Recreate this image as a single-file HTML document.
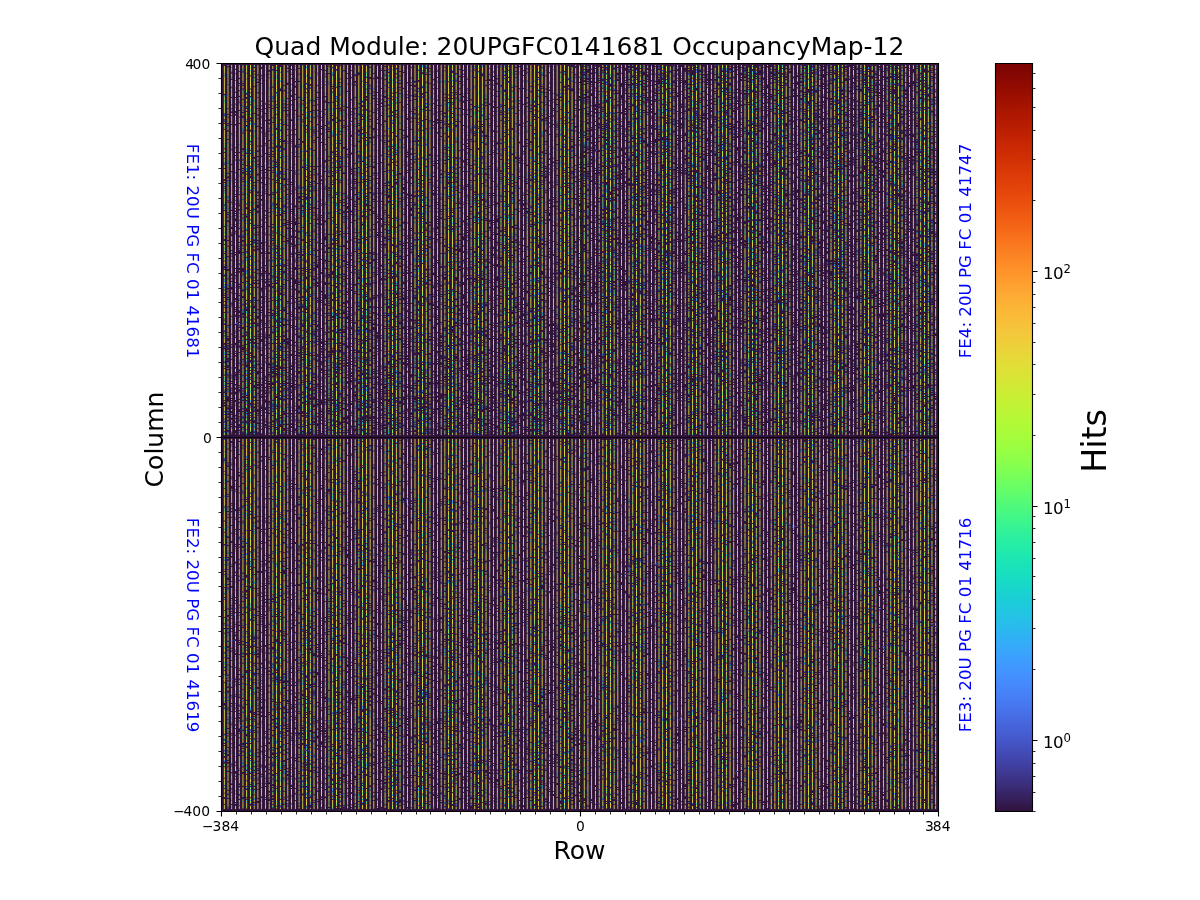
<!DOCTYPE html>
<html lang="en"><head><meta charset="utf-8"><title>Quad Module: 20UPGFC0141681 OccupancyMap-12</title>
<style>html,body{margin:0;padding:0;background:#fff;overflow:hidden}svg{display:block}text{font-family:"DejaVu Sans","Liberation Sans",sans-serif}.a{stroke:#d7df39}.b{stroke:#6c5d3a}.c{stroke:#2ba696}.d{stroke:#aba139}.e{stroke:#80f25e}.f{stroke:#6abbb4}.g{stroke:#25d5c0}.h{stroke:#4762bc}.i{stroke:#347163}.j{stroke:#a0f544}.k{stroke:#382240}.l{stroke:#3ea3e9}.m{stroke:#cdbb41}.n{stroke:#e9d23a}.o{stroke:#65a94b}.p{stroke:#b6d558}.q{stroke:#343f7a}.r{stroke:#5fed7a}.s{stroke:#758597}.t{stroke:#3ce898}.u{stroke:#8d7b39}.v{stroke:#9aba7d}.w{stroke:#bfee38}.x{stroke:#4f3d3c}</style>
</head><body>
<svg width="1200" height="900" viewBox="0 0 1200 900">
<rect width="1200" height="900" fill="#fff"/>
<defs><clipPath id="c"><rect x="221.5" y="63.5" width="717" height="748"/></clipPath><clipPath id="ct"><rect x="221" y="63" width="718" height="374"/></clipPath><clipPath id="cb"><rect x="221" y="437" width="718" height="374"/></clipPath>
<g id="p0"><path class="a" d="M0 3v1m0 2v1m0 2v1m0 14v1m0 1v1m0 1v1m0 4v1m0 8v1m0 5v1m0 11v1m0 18v1m0 4v1m0 6v2m0 2v2m0 4v2m0 8v1m0 3v1m0 19v1m0 2v1m0 14v1m0 10v1m0 14v1m0 5v1m0 5v2m0 2v1m0 6v1m0 6v1m0 6v1m0 7v1m0 19v1m0 3v1m0 17v1m0 7v2m0 14v2m0 8v1m0 6v1m0 1v1m0 12v1m0 4v1m0 7v1m0 7v1m0 47v1"/><path class="b" d="M0 1v1m0 10v1m0 1v1m0 25v1m0 46v1m0 39v1m0 30v1m0 25v1m0 14v1m0 13v1m0 41v1m0 86v1m0 42v1m0 2v1"/><path class="c" d="M0 126v1m0 114v1m0 29v1m0 43v2m0 57v1m0 9v1m0 17v1"/><path class="d" d="M0 11v1m0 3v1m0 72v1m0 52v1m0 127v1m0 18v1m0 100v1"/><path class="e" d="M0 7v1m0 17v1m0 17v1m0 27v1m0 78v1m0 30v1m0 4v1m0 60v1m0 9v1m0 27v1m0 27v1m0 39v1"/><path class="f" d="M0 145v1m0 83v1m0 16v1m0 114v1"/><path class="g" d="M0 23v1m0 7v1m0 72v1m0 29v1m0 27v1m0 31v1m0 139v1m0 15v1m0 11v1m0 34v1m0 7v1"/><path class="h" d="M0 52v1m0 72v1m0 46v1m0 125v1m0 25v1m0 14v1m0 26v1m0 2v1m0 7v1m0 3v1m0 21v1"/><path class="i" d="M0 142v1m0 129v1m0 99v2m0 27v1"/><path class="j" d="M0 10v1m0 6v1m0 58v1m0 13v1m0 2v1m0 13v2m0 5v1m0 3v1m0 13v1m0 3v2m0 10v2m0 13v1m0 40v1m0 25v1m0 18v1m0 23v1m0 27v1m0 1v1m0 21v1"/><path class="k" d="M0 8v1m0 38v1m0 61v1m0 96v1m0 13v1m0 40v1m0 33v1m0 67v1m0 19v1m0 11v1"/><path class="l" d="M0 19v1m0 2v1m0 12v1m0 2v1m0 28v1m0 9v1m0 27v1m0 17v2m0 26v1m0 26v1m0 26v1m0 5v1m0 26v1m0 15v1m0 26v1m0 12v1m0 15v1m0 82v2m0 1v1m0 2v2"/><path class="m" d="M0 2v1m0 29v1m0 4v1m0 13v1m0 29v1m0 57v1m0 27v1m0 85v1m0 8v1m0 34v1m0 13v1m0 43v1m0 12v1m0 6v1"/><path class="n" d="M0 0v1m0 3v2m0 7v1m0 6v2m0 5v1m0 1v1m0 6v1m0 4v1m0 3v2m0 2v1m0 3v7m0 1v1m0 2v1m0 3v1m0 3v4m0 4v1m0 4v2m0 2v1m0 4v1m0 15v1m0 5v1m0 3v3m0 10v1m0 13v1m0 4v1m0 2v3m0 12v1m0 22v1m0 9v1m0 4v1m0 8v2m0 4v1m0 7v1m0 7v1m0 5v1m0 4v1m0 13v1m0 3v1m0 7v2m0 5v1m0 8v1m0 3v1m0 9v1m0 14v1m0 4v1m0 9v1m0 10v1m0 3v1m0 2v1m0 9v1m0 2v1m0 8v1m0 1v1m0 1v1m0 9v1m0 1v1"/><path class="o" d="M0 160v1m0 36v1m0 14v1m0 2v1m0 112v1m0 12v1"/><path class="p" d="M0 44v1m0 21v1m0 2v1m0 43v1m0 16v1m0 13v1m0 1v1m0 35v1m0 5v1m0 37v1m0 13v1m0 15v1m0 2v1m0 24v1m0 32v1m0 14v1m0 65v1"/><path class="q" d="M0 98v1m0 84v1m0 86v1m0 16v1m0 41v1"/><path class="r" d="M0 50v1m0 52v1m0 2v1m0 22v1m0 31v1m0 4v1m0 13v1m0 29v1m0 16v1m0 9v1m0 20v1m0 1v1m0 6v1m0 10v1m0 39v1m0 4v1m0 7v1m0 6v1m0 26v1m0 4v1"/><path class="s" d="M0 117v1m0 22v1m0 27v1m0 130v1m0 56v1"/><path class="t" d="M0 70v1m0 60v1m0 11v1m0 43v1m0 8v1m0 10v1m0 17v1m0 88v1m0 4v2m0 28v1m0 21v1m0 32v1"/><path class="u" d="M0 100v1m0 70v1m0 28v2m0 12v1m0 28v1m0 114v2"/><path class="v" d="M0 97v1m0 75v1m0 54v1m0 57v1m0 43v1"/><path class="w" d="M0 16v1m0 1v1m0 11v1m0 31v1m0 2v1m0 12v1m0 4v1m0 28v1m0 6v1m0 8v1m0 25v1m0 10v1m0 3v1m0 49v1m0 32v1m0 10v1m0 1v1m0 14v1m0 8v1m0 3v1m0 8v1m0 2v1m0 38v3m0 1v1m0 3v1m0 4v1m0 2v1m0 18v1m0 6v2"/><path class="x" d="M0 82v1m0 91v1m0 14v1m0 42v1m0 49v1m0 21v1m0 7v1m0 20v1m0 6v1"/></g>
<g id="p1"><path class="a" d="M0 4v1m0 5v2m0 4v1m0 1v1m0 15v1m0 20v1m0 2v1m0 12v2m0 7v1m0 1v1m0 10v2m0 1v1m0 5v1m0 13v1m0 8v1m0 21v1m0 2v1m0 1v1m0 5v1m0 7v1m0 4v1m0 4v1m0 21v1m0 9v1m0 2v2m0 34v1m0 1v1m0 20v1m0 15v3m0 2v1m0 5v1m0 4v1m0 3v1m0 21v1m0 4v1m0 13v1m0 3v2m0 12v1m0 16v1m0 13v1"/><path class="b" d="M0 187v1m0 14v1m0 27v1m0 24v1m0 58v1m0 28v1m0 13v1m0 1v1"/><path class="c" d="M0 261v1m0 51v1m0 5v1"/><path class="d" d="M0 0v1m0 25v1m0 161v1m0 42v1m0 24v1m0 99v1m0 33v1"/><path class="e" d="M0 2v1m0 26v1m0 39v1m0 43v1m0 9v1m0 8v1m0 57v1m0 19v1m0 5v1m0 9v1m0 15v1m0 60v1m0 7v1m0 59v1"/><path class="f" d="M0 143v1m0 125v1m0 134v1"/><path class="g" d="M0 53v1m0 25v1m0 4v1m0 20v1m0 24v1m0 25v1m0 4v1m0 27v1m0 19v1m0 53v1m0 15v1m0 13v1m0 27v1m0 45v1m0 9v1m0 8v1m0 11v1"/><path class="h" d="M0 17v1m0 12v1m0 45v1m0 103v1m0 11v1m0 42v1m0 15v1m0 1v1m0 95v1m0 12v2m0 15v1m0 4v1m0 8v1"/><path class="i" d="M0 387v1"/><path class="j" d="M0 15v1m0 51v1m0 6v1m0 3v1m0 40v1m0 9v1m0 6v1m0 12v1m0 7v1m0 12v1m0 1v1m0 24v1m0 9v1m0 38v1m0 57v1m0 2v1m0 18v1m0 5v1m0 72v1"/><path class="k" d="M0 8v1m0 57v1m0 95v1m0 18v1m0 13v1m0 96v1m0 3v1m0 13v1m0 9v1m0 2v1m0 10v1m0 5v1m0 12v1m0 10v1m0 27v1"/><path class="l" d="M0 60v1m0 16v1m0 62v1m0 26v1m0 26v1m0 20v1m0 6v1m0 29v1m0 46v1m0 25v1m0 54v1m0 2v1m0 10v1"/><path class="m" d="M0 23v1m0 14v1m0 70v1m0 94v1m0 19v1m0 14v1m0 37v1m0 91v1m0 6v1"/><path class="n" d="M0 1v1m0 3v3m0 1v1m0 4v1m0 6v2m0 5v1m0 7v1m0 3v12m0 4v1m0 8v1m0 2v1m0 4v1m0 1v1m0 5v1m0 4v2m0 3v1m0 3v1m0 2v3m0 2v2m0 2v2m0 11v2m0 2v1m0 2v2m0 4v2m0 2v1m0 7v2m0 4v1m0 1v2m0 4v2m0 7v1m0 5v2m0 3v1m0 11v1m0 9v1m0 3v2m0 12v2m0 2v1m0 3v1m0 9v2m0 4v3m0 18v1m0 8v2m0 5v1m0 1v1m0 2v1m0 8v1m0 10v1m0 2v1m0 13v1m0 4v1m0 8v1m0 7v1m0 10v1m0 12v1m0 22v1"/><path class="o" d="M0 342v1m0 18v1m0 37v1"/><path class="p" d="M0 52v1m0 59v1m0 26v1m0 42v1m0 35v1m0 22v1m0 20v1m0 5v1m0 43v1m0 33v1m0 56v1"/><path class="q" d="M0 318v1m0 54v1m0 11v1m0 2v2m0 10v1"/><path class="r" d="M0 59v1m0 10v1m0 17v1m0 29v1m0 44v2m0 89v1m0 35v1m0 24v2m0 13v2m0 3v1m0 1v1m0 3v1m0 3v1m0 56v1"/><path class="s" d="M0 114v1m0 26v1m0 158v1"/><path class="t" d="M0 19v1m0 11v1m0 1v1m0 20v1m0 34v1m0 27v1m0 4v1m0 8v1m0 16v1m0 28v1m0 5v1m0 12v1m0 20v1m0 3v1m0 56v1m0 19v1m0 18v1m0 30v1m0 29v1m0 2v1m0 15v1m0 3v1"/><path class="u" d="M0 12v2m0 13v1m0 171v2m0 56v2m0 12v2"/><path class="v" d="M0 83v1m0 1v1m0 29v1m0 28v1m0 10v1m0 29v2m0 27v1m0 13v2m0 142v1"/><path class="w" d="M0 3v1m0 21v1m0 6v1m0 2v1m0 1v1m0 19v1m0 3v4m0 25v1m0 1v1m0 4v1m0 3v1m0 4v1m0 19v1m0 15v1m0 22v1m0 3v1m0 3v1m0 10v1m0 28v1m0 18v1m0 1v1m0 13v1m0 17v2m0 13v1m0 1v2m0 16v1m0 22v1m0 4v1m0 24v1m0 3v1m0 7v1m0 28v1"/><path class="x" d="M0 24v1m0 14v1m0 71v1m0 26v1m0 86v1m0 7v1m0 6v1m0 34v1m0 13v1m0 80v1"/></g>
<g id="p2"><path class="a" d="M0 4v1m0 1v1m0 1v1m0 5v1m0 10v1m0 4v1m0 1v1m0 5v1m0 17v1m0 5v1m0 11v1m0 3v1m0 5v3m0 2v2m0 3v1m0 2v1m0 10v1m0 21v1m0 12v1m0 9v1m0 11v1m0 6v1m0 2v1m0 23v1m0 5v1m0 5v1m0 6v1m0 2v1m0 2v1m0 29v1m0 1v2m0 7v1m0 14v1m0 7v1m0 49v1m0 6v1m0 2v1m0 20v1m0 6v1m0 1v1m0 2v1m0 9v1m0 11v1"/><path class="b" d="M0 1v1m0 9v1m0 28v1m0 13v1m0 45v1m0 83v1m0 3v1m0 9v1m0 104v1m0 69v1m0 12v1m0 12v1"/><path class="c" d="M0 101v1m0 44v1m0 10v2m0 43v1m0 115v1m0 37v1m0 5v1m0 42v1"/><path class="d" d="M0 10v1m0 42v1m0 101v1m0 27v1m0 13v1m0 33v1m0 157v1m0 8v1"/><path class="e" d="M0 13v1m0 38v1m0 10v1m0 57v1m0 32v1m0 5v1m0 39v1m0 48v1m0 23v1m0 16v1m0 15v1m0 3v1m0 38v2m0 15v1m0 3v1m0 16v1"/><path class="f" d="M0 245v1m0 95v1"/><path class="g" d="M0 50v1m0 37v1m0 4v1m0 24v1m0 31v1m0 8v1m0 44v1m0 9v1m0 54v2m0 89v1m0 2v1m0 32v1"/><path class="h" d="M0 7v1m0 15v1m0 25v1m0 1v1m0 62v1m0 8v1m0 40v1m0 45v1m0 39v1m0 16v1m0 16v1m0 19v1m0 14v1m0 38v1m0 26v1m0 9v1"/><path class="i" d="M0 156v1m0 29v1m0 14v1m0 11v1m0 14v3m0 85v2m0 70v1m0 12v1"/><path class="j" d="M0 15v1m0 66v1m0 59v1m0 1v1m0 28v1m0 53v1m0 19v1m0 7v1m0 16v1m0 3v1m0 31v1m0 18v1m0 6v1m0 4v1m0 7v1m0 6v1"/><path class="k" d="M0 18v1m0 3v1m0 38v1m0 13v1m0 28v1m0 2v1m0 1v1m0 10v1m0 26v1m0 29v1m0 2v1m0 10v1m0 27v1m0 33v1m0 9v1m0 2v1m0 1v1m0 27v1m0 14v1m0 8v1m0 14v1m0 4v1m0 12v1m0 10v1m0 3v1m0 10v1"/><path class="l" d="M0 161v1m0 45v1m0 14v1m0 11v1m0 47v1m0 9v1m0 16v1m0 11v1m0 30v1m0 40v1"/><path class="m" d="M0 2v1m0 56v1m0 64v1m0 8v1m0 55v1m0 5v1"/><path class="n" d="M0 0v1m0 2v1m0 1v1m0 3v1m0 7v1m0 1v3m0 2v1m0 3v1m0 4v2m0 1v1m0 4v5m0 1v2m0 11v1m0 3v2m0 1v3m0 6v2m0 1v1m0 3v1m0 7v2m0 5v2m0 3v1m0 1v2m0 3v3m0 3v2m0 1v1m0 2v1m0 3v1m0 2v1m0 4v2m0 1v4m0 10v2m0 9v2m0 3v5m0 4v1m0 1v1m0 2v2m0 7v1m0 3v1m0 13v2m0 6v2m0 19v1m0 4v1m0 8v2m0 5v3m0 3v1m0 10v1m0 2v1m0 2v1m0 9v1m0 5v1m0 1v4m0 4v1m0 6v1m0 31v1m0 4v1m0 13v1m0 1v1m0 12v1m0 2v1m0 6v1m0 1v1"/><path class="o" d="M0 39v1m0 172v1m0 73v1m0 41v1m0 46v1"/><path class="p" d="M0 95v1m0 6v1m0 84v1m0 15v1m0 29v1m0 12v1m0 58v1m0 26v1m0 51v1"/><path class="q" d="M0 240v1m0 116v1m0 1v1m0 1v1"/><path class="r" d="M0 12v1m0 18v1m0 41v1m0 7v1m0 54v1m0 89v1m0 16v1m0 39v1m0 9v1m0 1v1m0 35v1m0 39v1"/><path class="s" d="M0 58v1m0 28v1m0 8v1m0 174v1m0 71v1"/><path class="t" d="M0 37v1m0 128v1m0 12v1m0 12v1m0 30v1m0 1v1m0 6v1m0 8v1m0 20v1m0 49v1m0 10v1m0 31v1m0 26v1"/><path class="u" d="M0 70v2m0 41v1m0 71v1m0 129v1m0 14v1m0 71v1"/><path class="v" d="M0 115v1m0 99v1m0 28v1m0 97v1m0 57v1"/><path class="w" d="M0 16v1m0 9v2m0 1v1m0 5v1m0 10v1m0 8v1m0 1v1m0 8v1m0 5v1m0 7v1m0 46v2m0 2v1m0 9v1m0 6v2m0 24v1m0 31v1m0 13v1m0 14v1m0 2v1m0 9v1m0 12v1m0 12v1m0 2v1m0 9v1m0 1v1m0 4v1m0 3v1m0 14v1m0 19v1m0 10v1m0 27v1"/><path class="x" d="M0 125v1m0 6v1m0 12v1m0 50v1m0 129v1m0 50v1m0 19v1m0 6v1"/></g>
<g id="p3"><path class="a" d="M0 7v1m0 24v1m0 2v3m0 13v1m0 10v1m0 12v1m0 4v1m0 2v1m0 9v1m0 4v1m0 5v1m0 1v1m0 2v1m0 13v1m0 3v2m0 7v1m0 13v1m0 11v1m0 15v1m0 3v1m0 9v1m0 3v2m0 5v1m0 2v1m0 8v1m0 10v1m0 10v1m0 6v2m0 3v1m0 5v1m0 2v2m0 13v2m0 39v1m0 24v1m0 12v1m0 8v1m0 36v1"/><path class="b" d="M0 15v1m0 52v1m0 31v1m0 130v1m0 52v1m0 3v1m0 53v1m0 60v1"/><path class="c" d="M0 112v1m0 170v1m0 56v1m0 6v1m0 52v1"/><path class="d" d="M0 101v1m0 72v1m0 12v1m0 39v1m0 142v1m0 18v1"/><path class="e" d="M0 42v2m0 30v1m0 11v1m0 24v1m0 7v1m0 13v1m0 33v1m0 7v1m0 14v1m0 48v1m0 26v1m0 3v1m0 63v1m0 13v1m0 11v1m0 5v1m0 32v1"/><path class="f" d="M0 58v1m0 14v1m0 52v1m0 42v1m0 101v1m0 41v1m0 45v1m0 30v1"/><path class="g" d="M0 4v1m0 39v1m0 85v1m0 132v1m0 16v1m0 74v1m0 17v1"/><path class="h" d="M0 16v1m0 16v1m0 44v1m0 46v1m0 9v1m0 17v1m0 23v1m0 51v1m0 79v1m0 11v1m0 16v1m0 41v1m0 23v1"/><path class="i" d="M0 171v1m0 157v2m0 55v2"/><path class="j" d="M0 5v1m0 40v1m0 8v1m0 7v1m0 6v1m0 8v1m0 1v2m0 4v1m0 29v1m0 11v1m0 64v1m0 3v2m0 2v1m0 15v1m0 1v1m0 3v1m0 8v1m0 7v1m0 33v1m0 3v1m0 7v1m0 5v2m0 8v1m0 6v1m0 7v1m0 44v1m0 1v1m0 16v1m0 10v1"/><path class="k" d="M0 22v1m0 27v1m0 14v1m0 11v1m0 27v1m0 2v1m0 38v1m0 1v1m0 16v1m0 12v1m0 25v1m0 29v1m0 16v1m0 9v1m0 14v1m0 12v1m0 6v1m0 8v1m0 13v1m0 4v1m0 28v1m0 13v1m0 10v1m0 25v1"/><path class="l" d="M0 52v1m0 7v1m0 102v1m0 44v1m0 58v1m0 10v1m0 10v1m0 8v2m0 51v1m0 5v2m0 3v1m0 9v1"/><path class="m" d="M0 25v1m0 35v1m0 4v1m0 57v1m0 13v1m0 93v1m0 20v1m0 7v1m0 29v1m0 13v1m0 27v1"/><path class="n" d="M0 6v1m0 1v2m0 1v2m0 5v4m0 1v2m0 4v2m0 3v1m0 3v2m0 7v3m0 19v1m0 2v1m0 3v1m0 18v2m0 2v1m0 2v1m0 4v1m0 6v3m0 3v3m0 11v1m0 2v1m0 2v3m0 2v2m0 1v1m0 6v1m0 2v3m0 15v1m0 3v1m0 7v2m0 14v1m0 4v3m0 4v1m0 2v1m0 2v1m0 11v1m0 1v1m0 6v1m0 6v1m0 6v1m0 34v1m0 8v1m0 17v1m0 2v1m0 1v1m0 10v1m0 14v1m0 13v1m0 12v2m0 2v1m0 10v1m0 1v2"/><path class="o" d="M0 56v1m0 228v1m0 40v1m0 4v1m0 12v1"/><path class="p" d="M0 1v1m0 15v1m0 35v1m0 5v1m0 11v1m0 17v1m0 41v1m0 20v1m0 59v1m0 99v1m0 63v1"/><path class="q" d="M0 45v1m0 122v1m0 15v1m0 43v1m0 142v1m0 2v2"/><path class="r" d="M0 0v1m0 30v1m0 22v1m0 29v1m0 69v1m0 28v1m0 30v1m0 2v1m0 30v1m0 16v1m0 10v1m0 4v1m0 35v1m0 73v1m0 4v1"/><path class="s" d="M0 26v1m0 116v1m0 96v1m0 59v1m0 15v1m0 52v1"/><path class="t" d="M0 41v1m0 43v1m0 2v1m0 5v1m0 8v1m0 6v1m0 40v1m0 41v1m0 19v1m0 9v1m0 14v1m0 8v1m0 34v1m0 12v1m0 15v1m0 44v1m0 10v1"/><path class="u" d="M0 57v1m0 55v1m0 42v2m0 27v2m0 99v1m0 115v1"/><path class="v" d="M0 13v2m0 12v2m0 11v1m0 103v1m0 25v1m0 29v2m0 28v1"/><path class="w" d="M0 10v1m0 79v3m0 4v1m0 20v1m0 46v1m0 15v1m0 9v1m0 3v1m0 46v1m0 13v1m0 15v1m0 29v1m0 4v1m0 7v1m0 7v1m0 12v1m0 6v1m0 5v1"/><path class="x" d="M0 2v1m0 129v1m0 6v1m0 21v1m0 63v1m0 20v1m0 7v1m0 5v1m0 8v1m0 34v1m0 27v1m0 64v1"/></g>
<g id="p4"><path class="a" d="M0 2v1m0 38v1m0 14v1m0 12v1m0 24v1m0 1v1m0 7v1m0 4v1m0 1v1m0 9v1m0 1v1m0 14v1m0 2v1m0 5v1m0 6v1m0 8v1m0 5v2m0 2v1m0 2v1m0 1v1m0 8v1m0 27v1m0 4v1m0 13v1m0 3v1m0 9v1m0 30v1m0 8v1m0 24v1m0 9v1m0 40v1m0 3v1m0 10v1"/><path class="b" d="M0 57v1m0 141v1m0 59v1m0 68v1m0 70v1"/><path class="c" d="M0 0v1m0 97v1m0 99v1m0 73v1m0 84v1"/><path class="d" d="M0 116v1m0 85v1m0 57v1m0 22v1m0 18v1m0 72v1m0 24v1"/><path class="e" d="M0 1v1m0 57v1m0 25v1m0 11v1m0 44v1m0 6v1m0 27v1m0 5v1m0 11v1m0 7v1m0 5v1m0 2v1m0 45v1m0 10v1m0 7v1m0 7v1m0 1v1m0 23v1m0 32v2m0 24v1m0 6v1m0 10v1m0 3v1"/><path class="f" d="M0 28v1m0 1v1m0 82v1m0 99v1m0 13v1m0 13v1m0 70v1m0 30v1m0 42v1"/><path class="g" d="M0 20v1m0 27v1m0 30v1m0 44v2m0 17v1m0 7v1m0 9v1m0 93v2m0 83v1m0 1v1m0 10v1m0 27v1m0 14v1m0 6v1"/><path class="h" d="M0 230v1m0 4v1m0 28v1m0 70v1"/><path class="i" d="M0 284v1m0 16v1m0 56v1m0 14v2"/><path class="j" d="M0 7v1m0 24v1m0 2v1m0 6v1m0 6v1m0 12v1m0 5v1m0 4v2m0 9v1m0 25v1m0 23v1m0 15v1m0 41v1m0 11v1m0 16v1m0 3v1m0 13v1m0 12v1m0 14v1m0 2v1m0 15v1m0 4v1m0 11v1m0 2v1m0 18v1m0 13v1m0 6v1m0 8v1m0 9v1m0 3v1m0 13v2"/><path class="k" d="M0 23v1m0 95v1m0 13v1m0 71v1m0 12v1m0 34v1m0 12v1m0 13v1m0 11v1m0 3v1m0 10v1m0 2v1m0 10v1m0 2v1m0 9v1m0 14v1m0 32v1m0 10v1m0 1v1"/><path class="l" d="M0 5v1m0 40v1m0 16v1m0 13v1m0 12v1m0 29v1m0 5v1m0 38v1m0 40v1m0 1v1m0 15v1m0 53v1m0 87v1m0 11v1m0 23v1"/><path class="m" d="M0 17v1m0 4v1m0 38v1m0 4v1m0 13v1m0 65v1m0 20v1m0 42v1m0 109v1m0 27v1m0 13v1m0 35v1"/><path class="n" d="M0 3v2m0 1v1m0 1v1m0 1v2m0 2v1m0 3v2m0 6v1m0 6v2m0 2v4m0 6v1m0 2v1m0 4v1m0 8v1m0 7v1m0 2v2m0 1v1m0 9v2m0 1v1m0 1v1m0 1v1m0 5v2m0 2v4m0 13v1m0 7v1m0 5v2m0 1v2m0 7v1m0 4v1m0 10v1m0 1v1m0 4v2m0 17v2m0 2v1m0 1v1m0 10v1m0 8v1m0 5v2m0 4v1m0 13v1m0 2v2m0 16v1m0 30v2m0 1v1m0 33v1m0 4v3m0 12v1m0 2v1m0 32v1m0 6v1"/><path class="o" d="M0 58v1m0 216v1m0 95v1"/><path class="p" d="M0 53v1m0 33v1m0 44v1m0 64v1m0 28v1m0 13v1m0 13v1m0 43v1m0 42v1m0 47v1"/><path class="q" d="M0 201v1m0 71v1m0 85v1m0 41v1"/><path class="r" d="M0 21v1m0 3v1m0 5v1m0 4v1m0 66v1m0 58v1m0 16v2m0 1v1m0 1v1m0 34v1m0 11v1m0 17v1m0 12v1m0 8v1m0 4v1m0 13v1m0 18v1m0 6v1m0 16v1m0 33v1m0 36v1"/><path class="s" d="M0 54v1m0 72v1m0 171v1m0 76v1"/><path class="t" d="M0 24v1m0 61v1m0 5v1m0 25v1m0 12v1m0 61v1m0 23v1m0 32v2m0 5v1m0 7v1m0 15v2m0 25v1m0 8v1m0 79v1"/><path class="u" d="M0 100v1m0 13v1m0 13v2m0 26v1m0 1v1m0 26v2m0 42v1m0 13v2m0 69v2m0 13v2"/><path class="v" d="M0 12v2m0 15v1m0 40v2m0 40v1m0 31v1m0 55v1m0 99v1m0 55v1m0 3v1m0 24v1"/><path class="w" d="M0 9v1m0 5v1m0 11v1m0 15v2m0 6v2m0 12v1m0 17v1m0 68v1m0 2v1m0 3v1m0 14v2m0 5v1m0 6v2m0 24v1m0 17v1m0 4v1m0 9v1m0 45v1m0 11v1m0 26v1m0 19v1m0 10v1m0 26v1"/><path class="x" d="M0 16v1m0 28v1m0 14v1m0 6v1m0 14v1m0 34v1m0 27v1m0 14v1m0 7v1m0 42v1m0 21v1m0 27v1m0 6v1m0 20v1m0 14v1m0 13v1m0 28v1m0 13v1m0 29v1m0 13v1"/></g>
<g id="p5"><path class="a" d="M0 0v1m0 4v1m0 3v1m0 1v1m0 2v1m0 7v1m0 25v1m0 4v1m0 1v1m0 6v1m0 7v1m0 40v1m0 1v2m0 1v1m0 8v1m0 2v2m0 15v1m0 26v1m0 8v1m0 11v1m0 8v1m0 6v1m0 18v2m0 38v1m0 4v1m0 1v1m0 8v1m0 16v1m0 2v1m0 5v1m0 16v1m0 6v1m0 1v1m0 30v3m0 24v1"/><path class="b" d="M0 69v1m0 71v1m0 13v1m0 3v1m0 25v1m0 41v1m0 3v1m0 38v1m0 17v1m0 11v1m0 1v1m0 14v1"/><path class="c" d="M0 226v1m0 42v1m0 33v1m0 58v1m0 23v1"/><path class="d" d="M0 26v1m0 41v1m0 114v1m0 62v1m0 52v1m0 74v1m0 28v1"/><path class="e" d="M0 36v1m0 36v1m0 13v1m0 6v1m0 9v1m0 91v1m0 28v1m0 16v1m0 12v1m0 40v1m0 87v1m0 19v1"/><path class="f" d="M0 58v1m0 68v1m0 40v1m0 5v1m0 37v1m0 85v1m0 42v1m0 1v1m0 45v1"/><path class="g" d="M0 4v1m0 86v1m0 6v1m0 24v1m0 28v1m0 55v1m0 31v1m0 12v1m0 4v1m0 21v1m0 11v1m0 92v1m0 4v1m0 2v1m0 1v1"/><path class="h" d="M0 109v1m0 30v1m0 77v1m0 15v1m0 46v2m0 12v1m0 13v1m0 8v1m0 18v1m0 2v1m0 7v2"/><path class="i" d="M0 99v1m0 143v1m0 13v1"/><path class="j" d="M0 52v1m0 10v1m0 10v1m0 5v1m0 2v2m0 3v1m0 4v1m0 7v1m0 31v1m0 1v1m0 1v1m0 15v1m0 32v1m0 13v2m0 20v1m0 51v1m0 48v1m0 11v1m0 14v1m0 4v1m0 1v1m0 33v1m0 8v1"/><path class="k" d="M0 21v1m0 28v1m0 98v1m0 1v1m0 24v1m0 14v1m0 13v1m0 31v1m0 82v1m0 17v1m0 8v1m0 5v1m0 12v1m0 12v1"/><path class="l" d="M0 72v1m0 33v1m0 31v2m0 64v1m0 28v1m0 28v1m0 4v1m0 9v1m0 8v1m0 24v1m0 9v1m0 41v2m0 7v1m0 9v1"/><path class="m" d="M0 17v1m0 78v1m0 50v1m0 12v1m0 1v1m0 56v1m0 12v1m0 106v1m0 36v1m0 19v1"/><path class="n" d="M0 1v3m0 2v1m0 5v1m0 2v1m0 2v3m0 3v2m0 2v4m0 3v1m0 1v1m0 3v7m0 16v4m0 8v2m0 1v1m0 2v1m0 2v1m0 3v2m0 4v1m0 7v1m0 1v1m0 2v1m0 3v1m0 2v1m0 5v1m0 8v1m0 3v1m0 13v1m0 7v1m0 7v1m0 1v1m0 2v1m0 3v1m0 4v1m0 3v1m0 7v1m0 7v2m0 15v3m0 2v1m0 2v2m0 5v1m0 5v1m0 10v1m0 4v1m0 10v2m0 1v1m0 11v1m0 4v1m0 10v1m0 12v1m0 25v1m0 10v2m0 5v1m0 2v1m0 22v1m0 5v1"/><path class="o" d="M0 256v1m0 58v1m0 15v1"/><path class="p" d="M0 59v1m0 107v1m0 7v1m0 35v1m0 27v1m0 57v1m0 14v1m0 6v1m0 78v1"/><path class="q" d="M0 97v1m0 161v1m0 113v1"/><path class="r" d="M0 33v1m0 37v1m0 6v1m0 43v1m0 35v1m0 20v1m0 23v1m0 37v1m0 34v1m0 2v1m0 100v1"/><path class="s" d="M0 214v1m0 98v1m0 15v1m0 16v1"/><path class="t" d="M0 32v1m0 16v1m0 10v1m0 82v1m0 19v1m0 1v1m0 26v1m0 1v2m0 95v1m0 86v1m0 2v1m0 17v1"/><path class="u" d="M0 27v1m0 72v1m0 69v2m0 99v2m0 41v1m0 15v1m0 27v1m0 29v1m0 12v1"/><path class="v" d="M0 56v2m0 68v1m0 17v1m0 12v1m0 55v1m0 71v1m0 1v1m0 40v1m0 13v1m0 28v1"/><path class="w" d="M0 7v2m0 1v1m0 2v1m0 9v1m0 14v3m0 10v1m0 2v1m0 6v1m0 13v1m0 5v1m0 4v1m0 15v1m0 4v1m0 2v1m0 6v4m0 3v1m0 6v2m0 3v1m0 5v1m0 34v1m0 2v1m0 6v3m0 16v1m0 31v1m0 9v2m0 1v1m0 41v1m0 22v1m0 5v1m0 9v1m0 23v1m0 13v1m0 21v1"/><path class="x" d="M0 16v1m0 129v1m0 14v1m0 35v1m0 12v1m0 43v1m0 50v1m0 20v1m0 48v1m0 21v1m0 7v1"/></g>
<g id="p6"><path class="a" d="M0 9v1m0 10v1m0 14v1m0 3v1m0 24v1m0 10v1m0 2v1m0 1v1m0 12v1m0 4v2m0 6v1m0 21v1m0 4v1m0 5v1m0 3v2m0 10v2m0 2v1m0 3v1m0 4v1m0 16v2m0 19v1m0 1v1m0 9v2m0 5v1m0 12v1m0 6v3m0 5v1m0 17v1m0 7v1m0 4v1m0 6v1m0 4v1m0 22v1m0 18v1m0 24v1m0 13v1m0 5v1m0 10v1"/><path class="b" d="M0 101v1m0 24v1m0 3v1m0 53v1m0 42v1m0 60v1m0 28v1"/><path class="c" d="M0 242v1"/><path class="d" d="M0 68v1m0 62v1m0 51v1m0 13v1m0 15v1m0 12v1m0 72v1m0 3v1m0 14v1m0 8v1"/><path class="e" d="M0 13v1m0 14v1m0 14v1m0 17v1m0 56v1m0 5v1m0 12v1m0 2v1m0 76v1m0 21v1m0 14v1m0 18v1m0 9v1m0 1v1m0 8v1m0 16v1m0 19v1m0 7v2m0 13v1m0 3v1m0 13v2m0 7v1"/><path class="f" d="M0 58v1m0 25v1m0 30v1m0 29v1m0 41v1m0 27v1m0 126v1"/><path class="g" d="M0 3v1m0 1v1m0 12v1m0 3v1m0 36v1m0 22v2m0 78v1m0 10v1m0 6v1m0 26v1m0 21v1m0 32v1m0 2v1m0 137v1"/><path class="h" d="M0 24v1m0 83v1m0 3v1m0 10v1m0 8v1m0 57v1m0 66v1m0 89v1m0 21v1m0 28v1"/><path class="i" d="M0 42v1m0 285v1m0 17v1m0 24v1m0 2v1m0 26v1"/><path class="j" d="M0 10v1m0 16v1m0 17v1m0 59v1m0 8v1m0 4v1m0 31v1m0 14v1m0 2v1m0 21v1m0 11v2m0 29v1m0 39v2m0 16v1m0 27v1m0 4v1m0 9v1m0 12v1"/><path class="k" d="M0 36v1m0 28v1m0 68v1m0 12v1m0 46v1m0 10v1m0 18v1m0 10v1m0 13v1m0 17v1m0 1v1m0 11v1m0 52v1m0 14v1m0 3v1m0 10v1m0 26v1m0 1v1m0 3v1"/><path class="l" d="M0 34v1m0 28v1m0 40v1m0 33v1m0 13v1m0 35v1m0 74v1m0 12v1m0 16v1m0 13v1m0 13v1m0 30v1m0 9v1m0 19v1m0 7v1"/><path class="m" d="M0 37v1m0 13v1m0 51v1m0 164v1m0 28v1m0 7v1m0 86v1"/><path class="n" d="M0 1v2m0 1v1m0 1v3m0 2v1m0 3v2m0 2v1m0 1v1m0 4v1m0 3v4m0 6v1m0 5v2m0 1v2m0 4v3m0 4v1m0 10v1m0 2v2m0 1v1m0 7v1m0 2v1m0 1v1m0 2v3m0 2v1m0 6v1m0 1v2m0 9v1m0 1v1m0 6v1m0 5v1m0 13v1m0 7v2m0 1v2m0 2v2m0 9v2m0 2v1m0 1v2m0 9v1m0 2v2m0 3v1m0 8v1m0 1v2m0 7v1m0 10v2m0 3v2m0 2v1m0 10v1m0 3v1m0 3v3m0 10v1m0 4v2m0 16v1m0 10v1m0 1v3m0 11v2m0 9v1m0 2v2m0 13v1m0 4v2m0 9v1m0 10v1"/><path class="o" d="M0 384v1m0 20v1"/><path class="p" d="M0 12v1m0 47v1m0 50v1m0 4v1m0 24v1m0 4v1m0 27v1m0 55v1m0 10v1m0 48v1m0 41v1m0 35v1"/><path class="q" d="M0 70v1m0 118v1m0 8v1m0 142v1m0 28v1m0 4v1m0 9v2m0 2v1m0 9v2"/><path class="r" d="M0 44v1m0 29v1m0 67v1m0 29v1m0 26v1m0 52v1m0 33v1m0 58v1m0 13v2"/><path class="s" d="M0 25v1m0 175v1m0 68v1m0 43v1m0 40v1"/><path class="t" d="M0 23v1m0 57v1m0 12v1m0 121v1m0 47v1m0 59v1m0 4v1m0 36v1m0 9v1m0 2v1m0 15v2m0 5v1"/><path class="u" d="M0 41v1m0 43v2m0 26v1m0 56v2m0 42v1m0 29v1m0 13v1m0 84v2"/><path class="v" d="M0 0v1m0 70v1m0 130v1m0 25v1m0 27v1m0 56v1m0 1v2m0 13v1"/><path class="w" d="M0 14v1m0 14v1m0 18v1m0 4v2m0 11v2m0 4v1m0 15v2m0 1v1m0 35v1m0 8v1m0 11v1m0 1v1m0 2v2m0 22v2m0 31v1m0 22v1m0 14v1m0 33v1m0 4v1m0 38v1m0 38v1"/><path class="x" d="M0 17v1m0 20v1m0 13v1m0 64v1m0 49v1m0 130v1m0 5v1m0 7v1m0 48v1m0 42v1"/></g>
<g id="p7"><path class="a" d="M0 0v1m0 3v1m0 9v2m0 8v1m0 3v1m0 9v2m0 8v2m0 7v1m0 8v1m0 1v1m0 1v1m0 13v1m0 3v3m0 3v2m0 4v1m0 10v3m0 5v1m0 5v1m0 14v1m0 2v1m0 1v1m0 6v1m0 10v1m0 14v1m0 6v1m0 3v2m0 10v1m0 19v1m0 16v1m0 7v1m0 3v1m0 7v1m0 9v1m0 8v2m0 15v1m0 13v1m0 13v1m0 57v1m0 12v1m0 9v1"/><path class="b" d="M0 1v1m0 53v1m0 27v1m0 43v1m0 42v1m0 27v1m0 31v1m0 11v1m0 44v1m0 15v1m0 13v1m0 10v1"/><path class="c" d="M0 60v1m0 95v1m0 25v1m0 14v1m0 86v1m0 91v1m0 9v1"/><path class="d" d="M0 54v1m0 27v1m0 186v1m0 32v1m0 1v1m0 22v1m0 41v1"/><path class="e" d="M0 18v1m0 72v1m0 49v1m0 13v1m0 15v2m0 13v1m0 40v1m0 7v1m0 7v1m0 68v1m0 16v1"/><path class="f" d="M0 31v1m0 69v1m0 100v1m0 10v1m0 131v1m0 58v1"/><path class="g" d="M0 6v1m0 96v1m0 30v1m0 41v1m0 4v1m0 30v1m0 12v2m0 9v1m0 2v1m0 25v1m0 27v1m0 11v1m0 30v1m0 28v1m0 2v1"/><path class="h" d="M0 47v1m0 119v1m0 37v1m0 50v1m0 4v1m0 17v1m0 43v1m0 58v1"/><path class="i" d="M0 270v1m0 44v1m0 54v1m0 16v1m0 1v1"/><path class="j" d="M0 43v2m0 63v1m0 23v1m0 3v1m0 40v1m0 14v1m0 3v1m0 11v1m0 6v1m0 1v1m0 14v1m0 18v2m0 19v1m0 7v1m0 1v1m0 8v1m0 6v3m0 9v1m0 33v1m0 7v1m0 19v1m0 6v1m0 4v1m0 12v1"/><path class="k" d="M0 7v1m0 38v1m0 4v1m0 9v1m0 2v1m0 145v1m0 23v1m0 18v1m0 8v1m0 29v1m0 14v1m0 32v1m0 7v1m0 1v1m0 2v1m0 37v1m0 4v1"/><path class="l" d="M0 79v1m0 25v1m0 15v2m0 15v1m0 48v1m0 35v2m0 15v1m0 34v1m0 38v1m0 5v1m0 5v1m0 3v2m0 2v1m0 11v2m0 6v1m0 12v1m0 22v1m0 1v1"/><path class="m" d="M0 3v1m0 28v1m0 40v1m0 1v1m0 28v1m0 57v1m0 46v1m0 123v1m0 5v1m0 9v1m0 48v1"/><path class="n" d="M0 5v1m0 2v6m0 2v2m0 1v2m0 1v1m0 6v2m0 3v4m0 2v3m0 9v1m0 3v1m0 5v2m0 1v1m0 5v1m0 4v2m0 7v2m0 6v1m0 13v1m0 2v1m0 6v1m0 10v4m0 1v1m0 3v1m0 1v1m0 4v1m0 4v1m0 1v1m0 1v2m0 3v2m0 4v1m0 1v1m0 8v1m0 3v1m0 11v1m0 1v3m0 3v2m0 6v1m0 11v1m0 2v1m0 6v1m0 3v1m0 13v1m0 6v1m0 26v1m0 53v1m0 7v1m0 14v1m0 22v1m0 19v2"/><path class="o" d="M0 126v1m0 41v1m0 62v1m0 9v1"/><path class="p" d="M0 25v1m0 70v1m0 77v1m0 13v1m0 14v1m0 10v1m0 40v1m0 20v1m0 6v1m0 5v1m0 115v1"/><path class="q" d="M0 260v1m0 27v1m0 43v1m0 28v1m0 12v1m0 24v1"/><path class="r" d="M0 67v1m0 12v1m0 16v1m0 4v1m0 20v1m0 18v1m0 63v1m0 4v1m0 32v1m0 21v2m0 3v1m0 24v1m0 12v1m0 15v1m0 29v1m0 15v1m0 13v1m0 8v1m0 5v1"/><path class="s" d="M0 26v1m0 45v1m0 100v1m0 183v1m0 15v1"/><path class="t" d="M0 45v1m0 63v1m0 25v1m0 10v2m0 2v1m0 69v1m0 38v1m0 4v1m0 9v1m0 31v1m0 17v1m0 12v2m0 2v1m0 9v1m0 8v1m0 16v1m0 5v1m0 4v1"/><path class="u" d="M0 157v1m0 99v1m0 28v1m0 14v1m0 14v1"/><path class="v" d="M0 114v2m0 197v1m0 42v1"/><path class="w" d="M0 21v1m0 1v1m0 3v1m0 5v1m0 19v1m0 4v1m0 10v1m0 11v1m0 5v1m0 4v1m0 5v2m0 16v1m0 3v1m0 27v1m0 16v1m0 14v1m0 3v1m0 31v1m0 1v1m0 9v1m0 8v1m0 7v1m0 2v2m0 23v1m0 16v1m0 4v1m0 25v1m0 20v1m0 16v1m0 18v1"/><path class="x" d="M0 59v1m0 14v1m0 43v1m0 5v1m0 35v1m0 22v1m0 20v1m0 92v1m0 13v1"/></g>
<g id="p8"><path class="a" d="M0 13v1m0 10v1m0 9v2m0 6v1m0 8v1m0 6v1m0 1v1m0 2v1m0 12v1m0 34v1m0 3v1m0 6v1m0 18v1m0 5v2m0 3v1m0 10v2m0 18v1m0 24v1m0 4v1m0 1v1m0 16v1m0 2v1m0 18v1m0 1v1m0 7v1m0 6v2m0 7v1m0 1v1m0 18v1m0 30v2m0 36v2m0 2v1m0 3v2"/><path class="b" d="M0 0v1m0 40v1m0 59v1m0 28v1m0 67v1m0 42v1m0 28v1m0 45v1m0 26v1"/><path class="c" d="M0 158v1m0 154v1m0 88v1"/><path class="d" d="M0 131v1m0 127v1m0 9v1m0 47v1m0 37v1"/><path class="e" d="M0 11v1m0 40v1m0 1v1m0 18v1m0 51v1m0 19v1m0 26v1m0 9v1m0 3v1m0 33v1m0 69v1m0 12v1m0 5v1m0 10v1m0 23v3m0 26v1"/><path class="f" d="M0 14v1m0 40v1m0 14v1m0 85v1m0 70v1m0 71v1m0 28v1"/><path class="g" d="M0 65v1m0 42v1m0 25v1m0 11v1m0 57v1m0 132v1m0 24v2m0 5v1m0 6v1m0 6v1m0 19v1"/><path class="h" d="M0 30v1m0 9v1m0 124v1m0 26v1m0 75v1m0 10v1m0 42v1m0 11v1m0 12v1m0 16v1m0 19v1m0 20v1"/><path class="i" d="M0 143v1m0 142v1m0 27v1"/><path class="j" d="M0 20v1m0 62v1m0 22v1m0 16v1m0 44v1m0 12v1m0 48v2m0 4v1m0 1v1m0 5v3m0 18v1m0 7v1m0 14v1m0 6v1m0 23v1m0 10v2m0 28v1m0 33v1"/><path class="k" d="M0 2v1m0 28v1m0 87v1m0 4v1m0 12v1m0 1v1m0 22v1m0 13v1m0 17v1m0 54v1m0 28v1m0 27v1m0 14v1m0 19v1m0 6v1m0 1v1m0 1v1m0 24v1m0 4v1m0 9v1m0 3v1"/><path class="l" d="M0 9v2m0 58v1m0 19v1m0 12v1m0 48v1m0 15v1m0 29v1m0 7v1m0 42v1m0 27v1m0 19v1m0 8v1m0 19v2m0 8v1m0 31v1"/><path class="m" d="M0 3v1m0 4v1m0 23v1m0 42v1m0 5v1m0 56v1m0 22v1m0 27v1m0 28v1m0 5v1m0 42v1m0 72v1m0 8v1m0 41v1m0 7v1"/><path class="n" d="M0 6v2m0 11v1m0 2v2m0 1v2m0 9v1m0 6v5m0 1v1m0 6v1m0 2v1m0 2v1m0 3v2m0 4v1m0 4v3m0 6v3m0 1v1m0 1v2m0 1v2m0 1v3m0 3v1m0 2v1m0 1v2m0 2v2m0 5v2m0 4v1m0 2v1m0 2v1m0 3v1m0 12v1m0 16v1m0 10v1m0 12v2m0 1v1m0 1v1m0 3v1m0 2v1m0 6v4m0 6v1m0 1v1m0 11v1m0 8v1m0 7v1m0 1v2m0 1v1m0 4v2m0 1v1m0 2v1m0 8v1m0 15v3m0 6v1m0 1v1m0 4v1m0 2v1m0 13v1m0 13v2m0 18v1m0 6v1m0 29v1"/><path class="o" d="M0 170v2m0 115v1"/><path class="p" d="M0 39v1m0 28v1m0 2v1m0 12v2m0 17v1m0 13v1m0 35v1m0 1v1m0 3v1m0 36v1m0 29v1m0 58v1m0 12v1m0 13v1m0 14v1"/><path class="q" d="M0 1v1m0 142v1m0 12v1m0 184v1m0 13v1m0 43v1"/><path class="r" d="M0 18v1m0 10v1m0 64v1m0 10v1m0 34v1m0 28v1m0 9v1m0 7v1m0 15v1m0 85v1m0 25v1m0 37v1m0 5v1m0 1v1m0 19v1m0 15v1"/><path class="s" d="M0 82v1m0 102v1m0 31v1m0 139v1m0 30v1"/><path class="t" d="M0 5v1m0 74v1m0 35v1m0 37v1m0 84v1m0 43v1m0 27v1"/><path class="u" d="M0 127v2m0 99v2m0 28v1m0 128v1"/><path class="v" d="M0 15v1m0 126v1m0 41v1m0 15v2m0 170v1m0 16v1"/><path class="w" d="M0 4v1m0 7v1m0 8v1m0 5v2m0 4v1m0 14v1m0 1v1m0 6v1m0 3v1m0 29v1m0 5v1m0 14v1m0 5v1m0 14v1m0 39v3m0 2v1m0 1v1m0 25v1m0 7v1m0 1v1m0 6v1m0 10v1m0 2v1m0 5v1m0 7v1m0 5v1m0 4v1m0 11v1m0 2v1m0 3v1m0 2v1m0 12v1m0 6v1m0 18v1m0 5v1m0 36v1m0 1v1m0 6v1m0 4v1"/><path class="x" d="M0 16v1m0 21v1m0 14v1m0 20v1m0 85v1m0 27v1m0 36v1m0 21v1m0 70v1m0 35v1m0 35v1m0 7v1m0 5v1"/></g>
<g id="p9"><path class="a" d="M0 1v1m0 8v1m0 10v1m0 5v3m0 10v1m0 10v1m0 6v3m0 7v1m0 2v1m0 2v1m0 12v1m0 1v1m0 5v1m0 6v2m0 3v1m0 1v2m0 12v1m0 19v1m0 6v1m0 13v1m0 2v1m0 9v1m0 5v1m0 30v1m0 4v1m0 7v1m0 2v1m0 2v2m0 7v1m0 2v1m0 8v1m0 30v1m0 18v1m0 3v1m0 2v1m0 25v1m0 55v1"/><path class="b" d="M0 43v1m0 11v1m0 100v1m0 42v1m0 1v1m0 39v1m0 28v1m0 56v1m0 43v1"/><path class="c" d="M0 112v1m0 232v1m0 43v1"/><path class="d" d="M0 44v1m0 9v1m0 14v1m0 85v1m0 3v1m0 38v1m0 3v1m0 157v1m0 9v1m0 27v1"/><path class="e" d="M0 2v1m0 2v1m0 93v2m0 3v1m0 1v1m0 13v1m0 20v1m0 51v1m0 21v1m0 12v2m0 2v1m0 29v1m0 8v1m0 4v1m0 10v1m0 8v1m0 5v1m0 6v1m0 18v1m0 29v1m0 16v2"/><path class="f" d="M0 13v1m0 39v1m0 43v1m0 18v1m0 12v1m0 14v1m0 24v1m0 2v1m0 24v1m0 60v1m0 25v1m0 4v1m0 24v1"/><path class="g" d="M0 165v1m0 52v1m0 1v1m0 28v1m0 16v1m0 5v1m0 24v1m0 9v1m0 5v1m0 15v1m0 4v1m0 4v1m0 44v1"/><path class="h" d="M0 38v1m0 101v1m0 22v1m0 9v1m0 43v1m0 22v1m0 12v1m0 9v1m0 5v1m0 8v1m0 15v1m0 3v1m0 17v1m0 5v1m0 1v1m0 41v1m0 12v1m0 5v1m0 16v1"/><path class="i" d="M0 113v1m0 102v1m0 83v1m0 43v1m0 14v1"/><path class="j" d="M0 0v1m0 8v1m0 13v1m0 17v1m0 8v1m0 13v1m0 27v2m0 17v1m0 9v1m0 3v2m0 11v1m0 31v1m0 29v1m0 43v1m0 16v1m0 5v1m0 20v1m0 44v1m0 63v1"/><path class="k" d="M0 31v1m0 4v1m0 39v1m0 28v1m0 16v1m0 24v1m0 14v1m0 18v1m0 7v1m0 5v1m0 41v1m0 1v1m0 8v1m0 19v1m0 6v1m0 4v1m0 14v1m0 42v1m0 13v1m0 2v1m0 21v1m0 5v1m0 8v1m0 3v1"/><path class="l" d="M0 153v1m0 12v1m0 9v1m0 59v1m0 14v2m0 24v1m0 1v1m0 94v1m0 7v1"/><path class="m" d="M0 32v1m0 119v1m0 37v1m0 21v1m0 34v1m0 7v1m0 26v1m0 23v1m0 12v1m0 6v1m0 27v1m0 13v1m0 22v1"/><path class="n" d="M0 3v2m0 1v1m0 10v3m0 2v1m0 2v2m0 6v3m0 3v1m0 5v3m0 14v1m0 3v2m0 4v1m0 2v1m0 1v10m0 1v1m0 1v2m0 2v1m0 20v1m0 2v2m0 11v2m0 2v2m0 5v1m0 5v2m0 1v1m0 8v2m0 9v1m0 6v1m0 6v2m0 4v2m0 1v1m0 12v3m0 1v1m0 11v1m0 2v1m0 8v1m0 14v1m0 6v1m0 33v1m0 18v1m0 9v2m0 13v2m0 11v3m0 6v1m0 3v1m0 19v1m0 13v1"/><path class="o" d="M0 372v1"/><path class="p" d="M0 42v1m0 53v1m0 1v1m0 2v1m0 15v1m0 12v1m0 8v1m0 28v1m0 5v1m0 21v1m0 93v1m0 41v1m0 8v1"/><path class="q" d="M0 283v1m0 58v1m0 30v1m0 16v1m0 8v1"/><path class="r" d="M0 7v1m0 57v1m0 61v1m0 5v1m0 11v1m0 29v1m0 3v1m0 2v1m0 55v1m0 73v1m0 38v1m0 34v1m0 13v1"/><path class="s" d="M0 12v1m0 141v1m0 33v1m0 24v1m0 32v1m0 9v1m0 17v1m0 43v1m0 12v1m0 24v1"/><path class="t" d="M0 30v1m0 17v1m0 3v1m0 81v1m0 45v1m0 29v1m0 90v1m0 44v1m0 18v1m0 1v1m0 26v1"/><path class="u" d="M0 70v1m0 86v1m0 157v1m0 71v1m0 13v1"/><path class="v" d="M0 11v1m0 2v1m0 41v2m0 56v1m0 13v1m0 130v1m0 13v1m0 43v1m0 12v1m0 72v1"/><path class="w" d="M0 8v1m0 6v2m0 3v1m0 16v1m0 23v1m0 11v1m0 34v1m0 15v1m0 12v1m0 8v1m0 37v1m0 2v1m0 43v1m0 11v1m0 37v1m0 4v1m0 5v1m0 10v1m0 43v1m0 5v1"/><path class="x" d="M0 24v1m0 178v1m0 21v1m0 34v1m0 44v1m0 19v1m0 14v1m0 21v1m0 6v1m0 34v1"/></g>
<g id="p10"><path class="a" d="M0 4v1m0 2v1m0 8v1m0 11v1m0 2v1m0 7v1m0 16v1m0 7v1m0 5v1m0 4v1m0 9v1m0 15v2m0 5v1m0 12v1m0 2v1m0 5v1m0 4v1m0 12v1m0 18v2m0 28v1m0 2v2m0 1v1m0 7v1m0 16v1m0 5v1m0 3v1m0 3v1m0 5v1m0 12v1m0 8v1m0 14v4m0 1v1m0 15v1m0 2v1m0 5v1m0 48v1m0 7v1m0 2v1m0 27v1"/><path class="b" d="M0 57v1m0 11v1m0 103v1m0 39v1m0 13v1m0 28v1m0 27v1m0 14v1m0 57v1"/><path class="c" d="M0 255v1"/><path class="d" d="M0 58v1m0 82v1m0 32v1m0 37v1m0 17v1m0 43v1m0 23v1m0 57v1"/><path class="e" d="M0 29v1m0 16v1m0 1v1m0 1v1m0 15v1m0 20v1m0 23v1m0 2v1m0 23v2m0 3v1m0 41v2m0 11v1m0 11v1m0 29v1m0 8v1m0 7v1m0 17v2m0 37v1m0 43v1m0 15v1m0 11v1m0 5v1"/><path class="f" d="M0 41v1m0 12v1m0 76v1m0 27v1m0 27v1m0 53v1m0 102v1"/><path class="g" d="M0 18v1m0 131v2m0 3v1m0 7v1m0 1v1m0 22v1m0 70v1m0 62v1m0 4v1m0 21v1m0 2v1m0 6v1m0 16v1"/><path class="h" d="M0 24v1m0 35v1m0 27v1m0 5v1m0 27v1m0 9v1m0 19v1m0 7v1m0 19v1m0 15v1m0 24v1m0 61v1m0 23v2m0 4v1m0 6v1m0 14v1m0 6v1m0 5v1m0 11v1m0 8v1m0 30v1"/><path class="i" d="M0 142v1m0 186v1m0 13v1"/><path class="j" d="M0 2v1m0 12v1m0 6v1m0 7v1m0 11v1m0 37v1m0 8v1m0 20v1m0 5v1m0 8v4m0 24v1m0 8v1m0 27v1m0 11v1m0 22v1m0 10v2m0 1v1m0 3v1m0 8v1m0 12v1m0 2v1m0 11v1m0 40v1m0 11v2m0 32v1m0 3v1m0 30v1"/><path class="k" d="M0 3v1m0 6v1m0 10v1m0 15v1m0 13v1m0 85v1m0 9v1m0 29v1m0 3v1m0 9v1m0 2v1m0 38v1m0 20v1m0 11v1m0 10v1m0 13v1m0 18v1m0 66v1m0 3v1"/><path class="l" d="M0 8v1m0 11v1m0 14v1m0 9v1m0 30v1m0 32v1m0 24v1m0 88v1m0 48v1m0 20v1m0 18v1m0 25v1m0 1v1m0 44v1m0 8v1"/><path class="m" d="M0 23v1m0 37v1m0 19v1m0 13v1m0 37v1m0 27v1m0 14v1m0 76v1m0 51v1m0 33v1m0 42v1"/><path class="n" d="M0 0v1m0 18v1m0 12v3m0 3v1m0 8v1m0 1v1m0 2v1m0 2v1m0 6v1m0 2v1m0 5v1m0 2v1m0 2v1m0 1v1m0 3v2m0 1v1m0 4v3m0 3v4m0 2v5m0 5v1m0 6v1m0 15v1m0 8v2m0 10v2m0 7v1m0 2v1m0 2v1m0 5v1m0 13v1m0 11v1m0 1v4m0 10v1m0 1v1m0 1v1m0 10v1m0 9v3m0 3v1m0 10v3m0 2v1m0 10v2m0 1v1m0 36v1m0 4v1m0 13v1m0 12v1m0 2v2m0 10v1m0 12v1m0 10v2m0 2v1m0 10v1"/><path class="o" d="M0 68v1m0 157v1"/><path class="p" d="M0 53v1m0 19v1m0 80v1m0 28v1m0 5v1m0 27v1m0 64v1m0 28v1m0 5v1m0 8v1m0 34v1m0 22v1"/><path class="q" d="M0 273v1m0 58v1m0 8v1"/><path class="r" d="M0 25v1m0 14v1m0 71v1m0 4v1m0 81v1m0 69v1m0 46v1m0 7v1m0 6v1m0 30v1m0 7v1m0 2v1m0 6v1"/><path class="s" d="M0 11v1m0 60v1m0 23v1m0 59v1m0 59v1m0 14v1m0 115v1m0 53v1"/><path class="t" d="M0 115v1m0 33v1m0 32v1m0 1v1m0 10v1m0 36v1m0 25v1m0 1v1m0 67v1m0 34v1m0 4v1m0 22v1"/><path class="u" d="M0 229v1m0 70v2m0 28v1m0 56v2"/><path class="v" d="M0 12v2m0 200v2m0 55v1m0 73v1m0 53v1"/><path class="w" d="M0 1v1m0 3v1m0 8v1m0 11v2m0 15v2m0 14v1m0 30v1m0 27v2m0 3v1m0 5v1m0 10v1m0 3v1m0 19v1m0 5v2m0 7v1m0 25v1m0 13v1m0 24v1m0 5v1m0 38v1m0 12v2m0 15v1m0 26v1m0 8v1m0 23v1m0 18v1m0 6v1"/><path class="x" d="M0 17v1m0 49v1m0 14v1m0 92v1m0 42v1m0 78v1m0 6v1m0 20v1m0 57v1m0 13v1"/></g>
<g id="p11"><path class="a" d="M0 1v1m0 2v1m0 9v1m0 18v2m0 8v1m0 7v1m0 3v1m0 26v1m0 21v1m0 10v1m0 22v1m0 9v1m0 4v1m0 10v2m0 8v1m0 1v1m0 1v1m0 16v1m0 4v1m0 13v1m0 2v1m0 18v1m0 11v1m0 24v1m0 15v2m0 4v1m0 5v1m0 1v1m0 1v1m0 8v2m0 1v1m0 6v1m0 27v1m0 15v1m0 26v1"/><path class="b" d="M0 12v1m0 13v1m0 13v1m0 45v1m0 100v1m0 25v1m0 14v1m0 2v1m0 10v1m0 2v1m0 54v1m0 44v1m0 11v1m0 27v1"/><path class="c" d="M0 327v1m0 3v1m0 15v1m0 22v1m0 5v1"/><path class="d" d="M0 11v1m0 27v1m0 47v1m0 66v1m0 42v1m0 14v1m0 13v1m0 19v1m0 95v1m0 13v1m0 27v1"/><path class="e" d="M0 28v1m0 13v1m0 10v1m0 39v1m0 1v1m0 14v1m0 3v1m0 46v1m0 11v1m0 42v1m0 1v1m0 44v1m0 3v1m0 3v1m0 6v1m0 53v1m0 6v1"/><path class="f" d="M0 74v1m0 13v1m0 9v1m0 2v1m0 14v1m0 13v1m0 39v1"/><path class="g" d="M0 24v1m0 37v1m0 28v1m0 5v1m0 5v1m0 21v1m0 5v1m0 28v1m0 35v1m0 11v1m0 29v2m0 69v1m0 11v1m0 44v1"/><path class="h" d="M0 5v1m0 19v1m0 35v1m0 2v1m0 37v1m0 106v1m0 47v1m0 41v1m0 28v1m0 59v1m0 7v1"/><path class="i" d="M0 155v1m0 187v1m0 31v1m0 27v1"/><path class="j" d="M0 17v1m0 11v1m0 16v1m0 16v1m0 3v1m0 51v1m0 17v1m0 8v2m0 10v1m0 32v1m0 7v1m0 11v1m0 3v1m0 17v1m0 30v3m0 9v1m0 11v1m0 7v1m0 36v1m0 14v1m0 14v1m0 18v2m0 10v1m0 10v1"/><path class="k" d="M0 32v1m0 17v1m0 14v1m0 11v1m0 46v1m0 38v1m0 17v1m0 12v1m0 11v1m0 27v1m0 99v1m0 1v1m0 16v1m0 10v1m0 2v1m0 9v1m0 1v1m0 11v1"/><path class="l" d="M0 9v1m0 10v1m0 145v1m0 2v1m0 7v1m0 29v1m0 11v1m0 57v1m0 13v1m0 14v1m0 13v1m0 19v1m0 39v1m0 9v1m0 2v1"/><path class="m" d="M0 8v1m0 22v1m0 43v1m0 42v1m0 70v1m0 14v1m0 27v1m0 27v1m0 50v1m0 42v1m0 7v1m0 29v1"/><path class="n" d="M0 2v1m0 3v2m0 2v1m0 4v2m0 1v1m0 3v1m0 12v2m0 1v1m0 8v2m0 5v1m0 5v1m0 5v1m0 3v4m0 2v1m0 1v2m0 1v1m0 1v3m0 4v1m0 1v1m0 13v4m0 11v2m0 4v1m0 7v2m0 3v6m0 3v3m0 15v1m0 14v3m0 5v1m0 1v1m0 12v1m0 14v6m0 3v2m0 4v1m0 7v2m0 2v1m0 2v4m0 7v2m0 11v2m0 3v3m0 1v2m0 8v2m0 13v1m0 1v1m0 2v1m0 4v1m0 6v1m0 9v1m0 2v1m0 10v1m0 28v1"/><path class="o" d="M0 255v1m0 30v1"/><path class="p" d="M0 0v1m0 88v1m0 6v1m0 2v2m0 31v1m0 35v1m0 99v1m0 29v1m0 27v1"/><path class="q" d="M0 117v1m0 138v1m0 102v2m0 11v1m0 16v1"/><path class="r" d="M0 44v2m0 3v1m0 63v1m0 12v1m0 25v1m0 4v1m0 17v1m0 3v1m0 102v1m0 9v1m0 29v1m0 51v1m0 27v1"/><path class="s" d="M0 30v1m0 26v1m0 201v1m0 69v1m0 70v1"/><path class="t" d="M0 23v1m0 109v2m0 21v1m0 5v1m0 9v1m0 64v1m0 66v1m0 64v1m0 11v1m0 17v1"/><path class="u" d="M0 185v2m0 71v1m0 28v1m0 42v1m0 27v1m0 27v1"/><path class="v" d="M0 41v1m0 16v1m0 69v2m0 41v1m0 100v1m0 71v1m0 28v1"/><path class="w" d="M0 3v1m0 9v1m0 5v1m0 1v1m0 5v1m0 9v1m0 14v1m0 3v1m0 2v1m0 9v1m0 10v1m0 13v1m0 10v1m0 5v2m0 7v1m0 2v1m0 15v1m0 19v1m0 33v1m0 7v2m0 7v1m0 38v1m0 4v1m0 15v1m0 14v1m0 16v1m0 4v1m0 8v1m0 2v1m0 3v1m0 13v1m0 12v1m0 47v1m0 2v1"/><path class="x" d="M0 68v1m0 129v1m0 4v1m0 65v1m0 27v1m0 14v1m0 28v1m0 13v1m0 41v1"/></g>
<g id="p12"><path class="a" d="M0 4v1m0 3v1m0 2v2m0 2v1m0 34v1m0 6v1m0 2v1m0 4v1m0 23v1m0 1v1m0 4v1m0 3v1m0 12v2m0 1v1m0 1v1m0 8v1m0 10v1m0 3v1m0 4v1m0 3v1m0 7v1m0 3v1m0 1v1m0 1v1m0 21v1m0 1v1m0 2v1m0 8v1m0 3v1m0 5v2m0 16v1m0 3v1m0 1v3m0 6v1m0 10v1m0 6v1m0 18v2m0 20v1m0 13v1m0 6v2m0 1v1m0 4v1m0 21v1m0 7v1m0 9v2m0 2v1"/><path class="b" d="M0 0v1m0 53v1m0 3v1m0 10v1m0 29v1m0 30v1m0 41v1m0 83v1m0 2v1m0 99v1m0 40v1"/><path class="c" d="M0 84v1m0 88v1m0 55v1m0 44v1"/><path class="d" d="M0 1v1m0 27v1m0 23v1m0 5v1m0 8v1m0 129v1m0 3v1m0 37v1m0 4v1m0 9v1"/><path class="e" d="M0 5v1m0 7v1m0 2v1m0 24v1m0 6v1m0 30v1m0 3v1m0 2v1m0 35v1m0 33v1m0 30v1m0 42v1m0 81v1m0 28v1m0 9v1m0 25v1m0 6v2"/><path class="f" d="M0 30v1m0 71v1m0 23v1m0 70v1m0 17v1m0 86v1m0 27v1"/><path class="g" d="M0 107v1m0 37v1m0 15v1m0 18v1m0 12v1m0 6v1m0 8v1m0 11v1m0 12v1m0 27v1m0 4v1m0 28v1m0 51v1m0 32v1m0 20v1"/><path class="h" d="M0 31v1m0 4v1m0 27v1m0 66v1m0 96v1m0 48v1m0 3v1m0 35v1m0 13v1m0 3v1m0 43v1"/><path class="i" d="M0 199v1m0 1v1m0 41v2"/><path class="j" d="M0 3v1m0 52v1m0 30v1m0 27v1m0 1v1m0 6v1m0 21v1m0 2v1m0 16v1m0 1v1m0 9v1m0 5v1m0 51v1m0 15v1m0 37v1m0 13v1m0 34v1m0 22v1m0 20v1m0 5v2"/><path class="k" d="M0 21v1m0 40v1m0 46v1m0 9v1m0 3v1m0 24v1m0 47v1m0 8v1m0 14v1m0 28v1m0 13v1m0 28v1m0 1v1m0 12v1m0 12v1m0 17v1m0 10v1m0 13v1m0 4v1m0 13v1"/><path class="l" d="M0 46v1m0 30v1m0 47v1m0 10v1m0 40v1m0 12v1m0 17v1m0 15v1m0 28v1m0 14v1m0 10v1m0 43v1m0 8v1m0 9v1m0 10v1m0 11v1m0 27v1"/><path class="m" d="M0 32v1m0 70v1m0 28v1m0 92v1m0 7v1m0 27v1m0 130v1m0 3v1m0 1v1"/><path class="n" d="M0 2v1m0 15v2m0 2v5m0 7v2m0 1v1m0 1v1m0 2v4m0 1v1m0 3v2m0 8v1m0 1v1m0 2v2m0 7v2m0 1v1m0 9v1m0 1v1m0 1v1m0 2v1m0 1v1m0 8v1m0 3v3m0 7v1m0 7v2m0 3v1m0 7v1m0 8v1m0 9v1m0 1v1m0 8v1m0 4v1m0 4v2m0 9v1m0 11v1m0 7v1m0 6v1m0 2v1m0 43v1m0 2v3m0 6v1m0 6v1m0 2v1m0 2v1m0 3v1m0 1v1m0 8v1m0 2v1m0 12v1m0 1v1m0 3v1m0 7v1m0 9v1m0 5v1m0 1v1m0 12v1m0 2v2m0 8v1m0 13v1"/><path class="o" d="M0 71v1m0 86v1m0 141v1m0 43v1m0 12v1"/><path class="p" d="M0 40v1m0 14v1m0 18v1m0 64v1m0 15v1m0 13v1m0 4v1m0 13v1m0 109v1m0 19v1m0 14v1"/><path class="q" d="M0 28v1m0 198v1m0 47v1m0 27v1m0 39v1m0 55v1"/><path class="r" d="M0 14v1m0 2v1m0 15v1m0 4v1m0 34v1m0 19v2m0 9v2m0 2v1m0 12v1m0 15v1m0 26v1m0 5v1m0 39v1m0 12v1m0 24v1m0 2v1m0 24v1m0 38v1m0 53v1m0 31v1"/><path class="s" d="M0 140v1m0 113v1"/><path class="t" d="M0 9v1m0 134v1m0 66v1m0 35v1m0 51v1m0 13v1m0 2v1m0 86v3"/><path class="u" d="M0 70v1m0 14v1m0 12v1m0 58v1m0 114v1m0 13v2m0 13v1m0 56v1m0 13v2m0 12v1m0 1v1"/><path class="v" d="M0 27v1m0 157v2m0 29v1m0 97v1"/><path class="w" d="M0 6v2m0 41v1m0 22v1m0 9v1m0 18v1m0 32v1m0 8v1m0 10v1m0 20v1m0 7v1m0 33v2m0 39v1m0 21v1m0 29v2m0 33v1m0 9v1m0 10v1m0 28v1"/><path class="x" d="M0 10v1m0 70v1m0 71v1m0 78v1m0 49v1m0 6v1m0 35v1m0 14v1m0 6v1m0 28v1m0 14v1m0 5v1"/></g>
<g id="p13"><path class="a" d="M0 1v1m0 3v1m0 28v1m0 15v1m0 3v3m0 3v2m0 4v1m0 1v1m0 1v1m0 4v1m0 10v1m0 4v1m0 9v1m0 1v1m0 8v2m0 1v1m0 3v1m0 1v2m0 22v1m0 8v1m0 6v1m0 3v1m0 1v1m0 10v1m0 1v1m0 5v1m0 16v2m0 29v1m0 19v1m0 2v1m0 3v1m0 8v1m0 3v1m0 1v2m0 6v1m0 9v1m0 1v1m0 13v1m0 3v1m0 38v1m0 1v1m0 22v1m0 2v1m0 12v1"/><path class="b" d="M0 43v1m0 13v1m0 14v1m0 10v1m0 3v1m0 111v1m0 28v1m0 13v1m0 13v1m0 46v1m0 56v1m0 27v1"/><path class="c" d="M0 232v1m0 64v1m0 33v1"/><path class="d" d="M0 26v1m0 17v1m0 13v1m0 23v1m0 5v1m0 109v1m0 28v1m0 13v1m0 84v1m0 19v1m0 14v1m0 28v1"/><path class="e" d="M0 4v1m0 10v1m0 7v1m0 5v1m0 8v1m0 26v1m0 8v1m0 14v1m0 26v1m0 43v1m0 30v1m0 19v2m0 16v1m0 23v1m0 5v1m0 6v1m0 8v1m0 9v1m0 2v1m0 35v1m0 32v1"/><path class="f" d="M0 25v1m0 85v1m0 58v1m0 13v1m0 31v1m0 70v1m0 1v1m0 38v1m0 46v1"/><path class="g" d="M0 62v1m0 36v1m0 41v1m0 5v1m0 24v1m0 32v1m0 19v1m0 22v1m0 43v1m0 41v2m0 22v1m0 23v1m0 3v1"/><path class="h" d="M0 37v1m0 54v1m0 73v1m0 25v1m0 13v1m0 2v1m0 11v1m0 2v1m0 14v1m0 25v1m0 55v1m0 11v1m0 8v1m0 20v1m0 3v1m0 1v1m0 21v1m0 7v1"/><path class="i" d="M0 27v1m0 202v1m0 99v1m0 1v1m0 10v2"/><path class="j" d="M0 2v1m0 25v1m0 1v1m0 20v1m0 7v1m0 19v1m0 13v1m0 13v1m0 9v1m0 12v1m0 5v1m0 14v1m0 6v2m0 15v1m0 1v1m0 32v1m0 11v1m0 37v1m0 25v1m0 4v1m0 37v1m0 24v1"/><path class="k" d="M0 18v1m0 3v1m0 25v1m0 45v1m0 28v1m0 13v1m0 24v1m0 13v1m0 4v1m0 7v1m0 59v1m0 1v1m0 15v1m0 10v1m0 1v1m0 26v1m0 44v1m0 26v1m0 12v1m0 2v1"/><path class="l" d="M0 105v1m0 14v1m0 10v1m0 63v1m0 21v1m0 17v1m0 11v1m0 16v1m0 51v1"/><path class="m" d="M0 32v1m0 62v1m0 42v1m0 99v1m0 7v1m0 57v1m0 15v1m0 28v1m0 18v1m0 29v1"/><path class="n" d="M0 3v1m0 2v1m0 1v5m0 4v1m0 1v2m0 12v1m0 1v2m0 3v1m0 4v1m0 1v1m0 15v2m0 6v1m0 4v1m0 3v2m0 2v2m0 4v1m0 6v1m0 8v1m0 2v1m0 4v1m0 9v1m0 2v1m0 5v1m0 14v2m0 2v2m0 1v1m0 7v1m0 4v1m0 13v1m0 4v1m0 5v2m0 6v1m0 6v1m0 6v1m0 3v1m0 3v1m0 12v2m0 2v1m0 21v2m0 7v1m0 7v1m0 1v1m0 1v1m0 18v1m0 2v1m0 5v1m0 11v1m0 1v1m0 21v1m0 16v2m0 5v1"/><path class="o" d="M0 144v1m0 110v1"/><path class="p" d="M0 24v1m0 85v1m0 14v1m0 6v1m0 7v1m0 42v1m0 34v1m0 49v1m0 135v1"/><path class="q" d="M0 327v1m0 45v1m0 2v1m0 23v4"/><path class="r" d="M0 67v1m0 32v1m0 7v1m0 9v1m0 7v1m0 46v1m0 52v1m0 31v1m0 31v1m0 50v1m0 17v1m0 23v1m0 1v1m0 7v1"/><path class="s" d="M0 96v1m0 42v1m0 48v1m0 56v1m0 124v1"/><path class="t" d="M0 46v1m0 31v1m0 55v1m0 85v1m0 61v1m0 23v1m0 10v1m0 78v1"/><path class="u" d="M0 13v2m0 128v1m0 12v2m0 114v2m0 98v1"/><path class="v" d="M0 41v2m0 55v1m0 29v2m0 12v1m0 26v1m0 1v1m0 71v2m0 55v2m0 13v1m0 58v1m0 12v1"/><path class="w" d="M0 0v1m0 6v1m0 8v1m0 4v1m0 17v1m0 12v1m0 16v1m0 7v1m0 24v1m0 1v1m0 45v1m0 28v1m0 5v1m0 14v1m0 1v1m0 10v2m0 18v1m0 16v1m0 1v1m0 42v1m0 3v1m0 9v1m0 2v2m0 23v1m0 12v1m0 5v1m0 5v1"/><path class="x" d="M0 31v1m0 21v1m0 92v1m0 27v1m0 22v1m0 71v1m0 28v1m0 19v1m0 21v1m0 7v1m0 35v1m0 12v1m0 7v1"/></g>
<g id="p14"><path class="a" d="M0 26v2m0 3v1m0 6v1m0 14v1m0 12v1m0 6v1m0 28v1m0 6v1m0 14v3m0 4v1m0 12v1m0 1v1m0 19v2m0 11v1m0 14v1m0 1v1m0 4v2m0 4v1m0 1v1m0 1v1m0 9v1m0 1v1m0 9v2m0 2v2m0 8v1m0 16v1m0 1v1m0 1v1m0 9v1m0 2v1m0 6v1m0 6v1m0 3v2m0 10v1m0 11v1m0 1v1m0 33v1m0 3v1m0 18v1m0 16v1"/><path class="b" d="M0 11v1m0 117v1m0 155v1m0 45v1m0 25v1m0 28v1"/><path class="c" d="M0 156v1m0 103v1m0 124v1"/><path class="d" d="M0 10v1m0 119v1m0 101v1m0 8v1m0 3v1m0 37v1m0 18v1m0 24v1m0 4v1m0 23v1"/><path class="e" d="M0 67v1m0 1v1m0 16v2m0 3v1m0 1v1m0 5v1m0 38v1m0 19v1m0 14v1m0 24v1m0 117v1m0 26v1m0 53v1m0 4v1"/><path class="f" d="M0 28v1m0 110v1m0 1v1m0 45v1m0 39v1m0 42v1m0 47v1m0 23v1m0 32v1m0 13v1"/><path class="g" d="M0 4v1m0 15v1m0 47v1m0 10v1m0 37v1m0 41v1m0 79v1m0 10v1m0 1v1m0 85v1m0 5v1m0 8v1"/><path class="h" d="M0 7v1m0 110v1m0 1v1m0 31v1m0 60v1m0 6v1m0 30v1m0 45v1m0 23v1m0 27v1m0 19v1"/><path class="i" d="M0 41v1m0 143v1m0 56v2m0 15v1m0 13v1"/><path class="j" d="M0 5v2m0 37v1m0 27v1m0 2v1m0 12v2m0 17v1m0 27v1m0 39v1m0 15v1m0 5v1m0 78v2m0 14v1m0 15v1m0 52v1m0 33v1m0 7v1"/><path class="k" d="M0 36v1m0 67v1m0 17v1m0 10v1m0 13v1m0 3v1m0 43v1m0 28v1m0 28v1m0 7v1m0 32v1m0 12v1m0 12v1m0 13v1m0 5v1m0 13v1m0 13v1m0 9v1m0 13v1m0 3v1"/><path class="l" d="M0 8v1m0 10v1m0 17v1m0 12v1m0 14v1m0 37v1m0 45v1m0 12v1m0 25v1m0 17v1m0 75v1m0 56v1m0 1v1m0 6v1m0 1v1m0 14v1m0 14v1m0 13v1"/><path class="m" d="M0 1v1m0 44v1m0 14v1m0 19v1m0 130v1m0 77v1m0 5v1m0 8v1m0 13v1m0 71v1"/><path class="n" d="M0 2v2m0 5v1m0 4v5m0 3v4m0 6v4m0 3v1m0 3v1m0 4v2m0 1v2m0 1v1m0 2v3m0 4v1m0 9v1m0 1v1m0 6v1m0 6v1m0 1v1m0 1v1m0 1v2m0 2v2m0 3v2m0 1v1m0 1v1m0 12v1m0 3v2m0 3v1m0 1v1m0 2v1m0 10v1m0 14v2m0 11v1m0 1v1m0 1v4m0 6v1m0 1v1m0 10v2m0 5v1m0 5v2m0 1v1m0 5v1m0 9v2m0 9v1m0 1v1m0 14v1m0 16v1m0 12v1m0 4v1m0 11v1m0 13v1m0 1v1m0 6v1m0 1v1m0 1v1m0 8v1m0 5v1m0 11v1m0 6v2m0 6v1m0 1v1m0 1v1m0 16v2"/><path class="o" d="M0 71v1m0 199v2m0 1v1"/><path class="p" d="M0 40v1m0 57v1m0 12v1m0 4v1m0 23v1m0 19v1m0 23v1m0 4v1m0 36v1m0 149v1m0 7v1"/><path class="q" d="M0 214v1m0 175v1"/><path class="r" d="M0 21v1m0 25v1m0 65v3m0 41v1m0 11v1m0 7v1m0 30v1m0 46v1m0 1v2m0 28v1m0 27v1m0 35v1m0 53v1"/><path class="s" d="M0 0v1m0 288v1m0 14v1m0 68v1m0 30v1"/><path class="t" d="M0 112v1m0 8v1m0 33v1m0 9v1m0 2v1m0 5v1m0 65v1m0 8v1m0 4v1m0 12v1m0 1v1m0 9v1m0 11v1m0 14v1m0 5v2m0 22v1m0 18v1m0 37v1"/><path class="u" d="M0 42v1m0 27v1m0 13v2m0 56v2m0 42v1m0 28v1m0 13v1m0 71v1m0 27v1m0 57v2"/><path class="v" d="M0 12v2m0 15v1m0 25v2m0 142v2m0 55v1m0 29v1m0 58v1m0 28v1"/><path class="w" d="M0 30v1m0 31v2m0 13v1m0 2v1m0 14v1m0 23v1m0 16v1m0 8v1m0 7v2m0 6v1m0 8v3m0 20v1m0 11v1m0 12v1m0 9v1m0 46v1m0 27v1m0 5v1m0 4v1m0 2v1m0 4v1m0 7v1m0 16v1m0 10v1m0 1v1m0 1v1m0 4v1m0 9v1"/><path class="x" d="M0 45v1m0 14v1m0 21v1m0 287v1m0 27v1"/></g>
<g id="p15"><path class="a" d="M0 6v1m0 1v2m0 8v2m0 4v1m0 1v1m0 5v1m0 22v1m0 15v2m0 3v1m0 2v2m0 7v2m0 2v1m0 19v1m0 4v1m0 17v1m0 6v1m0 4v2m0 6v2m0 5v1m0 16v1m0 5v2m0 9v1m0 9v1m0 3v2m0 4v1m0 19v1m0 5v2m0 5v1m0 1v1m0 2v2m0 2v2m0 23v1m0 13v1m0 16v1m0 7v1m0 9v1m0 6v1m0 10v1m0 50v1"/><path class="b" d="M0 14v1m0 157v1m0 68v1m0 43v1m0 14v1m0 12v1m0 3v1m0 10v1m0 44v1m0 26v1"/><path class="c" d="M0 261v1m0 126v1m0 10v1m0 4v1"/><path class="d" d="M0 15v1m0 28v1m0 81v1m0 46v1m0 66v1m0 58v1m0 18v1m0 8v1"/><path class="e" d="M0 11v1m0 70v1m0 24v1m0 80v1m0 9v1m0 6v1m0 17v1m0 4v2m0 79v1m0 5v2m0 9v1m0 3v1m0 29v1"/><path class="f" d="M0 58v1m0 71v1m0 23v1m0 58v1m0 73v1m0 13v1"/><path class="g" d="M0 53v1m0 7v1m0 218v1m0 14v1m0 12v1m0 37v1"/><path class="h" d="M0 101v1m0 56v1m0 59v1m0 13v1m0 6v1m0 56v1m0 24v1m0 31v1m0 11v1m0 19v1"/><path class="i" d="M0 127v1m0 143v2"/><path class="j" d="M0 0v1m0 24v1m0 13v1m0 11v1m0 38v1m0 8v1m0 28v1m0 42v1m0 48v1m0 35v2m0 12v1m0 27v1m0 6v2m0 28v1m0 27v1m0 8v1"/><path class="k" d="M0 77v1m0 16v1m0 7v1m0 63v1m0 9v1m0 17v1m0 24v1m0 5v1m0 11v1m0 24v1m0 14v1m0 14v1m0 27v1m0 2v1m0 10v1m0 3v1m0 10v1m0 14v1m0 2v1m0 9v1m0 14v1"/><path class="l" d="M0 109v1m0 11v1m0 2v1m0 12v1m0 22v1m0 16v1m0 23v1m0 24v1m0 21v1m0 15v1m0 8v1m0 33v1m0 2v1m0 14v1m0 11v1m0 10v1m0 2v1m0 18v1m0 23v1"/><path class="m" d="M0 17v1m0 19v1m0 57v1m0 7v1m0 29v1m0 5v1m0 50v1m0 99v1m0 20v1m0 72v1m0 6v1"/><path class="n" d="M0 2v1m0 4v1m0 4v2m0 6v2m0 1v1m0 3v5m0 1v1m0 1v2m0 3v2m0 3v5m0 12v1m0 2v6m0 2v1m0 4v1m0 4v5m0 9v2m0 6v2m0 9v1m0 1v3m0 1v2m0 5v1m0 16v1m0 5v1m0 22v1m0 4v3m0 1v1m0 6v3m0 1v1m0 7v2m0 3v2m0 4v1m0 15v1m0 3v1m0 9v1m0 20v1m0 1v1m0 1v1m0 5v1m0 3v1m0 2v1m0 3v1m0 4v1m0 27v1m0 34v3m0 2v1m0 8v1m0 11v1"/><path class="o" d="M0 144v1m0 139v1m0 57v1m0 31v1m0 11v1"/><path class="p" d="M0 52v1m0 6v1m0 93v1m0 7v1m0 6v1m0 33v1m0 43v1m0 84v1m0 15v1m0 21v1m0 19v1m0 15v1"/><path class="q" d="M0 43v1m0 87v1m0 27v1m0 128v1m0 54v1m0 43v1m0 10v1m0 4v1"/><path class="r" d="M0 64v1m0 35v1m0 9v1m0 40v1m0 11v1m0 5v1m0 27v1m0 14v1m0 14v1m0 3v1m0 1v1m0 1v1m0 2v1m0 94v1m0 6v1m0 4v1m0 15v1"/><path class="s" d="M0 96v1m0 43v1m0 104v1m0 156v1"/><path class="t" d="M0 4v1m0 5v1m0 23v1m0 19v1m0 19v2m0 73v2m0 71v1m0 139v1m0 8v1m0 4v1m0 2v1m0 15v1"/><path class="u" d="M0 56v2m0 85v1m0 13v1"/><path class="v" d="M0 42v1m0 71v2m0 84v1m0 73v1m0 27v1m0 41v1m0 12v2"/><path class="w" d="M0 1v1m0 3v1m0 16v1m0 27v1m0 30v1m0 9v1m0 12v1m0 3v1m0 2v1m0 1v1m0 11v1m0 8v1m0 1v1m0 4v1m0 3v1m0 19v1m0 1v1m0 2v1m0 3v1m0 8v1m0 3v1m0 11v1m0 7v1m0 7v1m0 5v1m0 28v1m0 1v2m0 12v1m0 1v1m0 7v1m0 4v1m0 21v1m0 20v1m0 4v1m0 45v1m0 2v1"/><path class="x" d="M0 3v1m0 12v1m0 21v1m0 21v1m0 77v1m0 50v1m0 27v1m0 29v1m0 12v1m0 43v1m0 36v1m0 41v1m0 6v1"/></g>
<g id="p16"><path class="a" d="M0 2v2m0 8v3m0 2v1m0 15v2m0 2v1m0 1v1m0 6v1m0 5v1m0 37v1m0 13v1m0 5v1m0 16v2m0 6v1m0 8v1m0 4v1m0 10v1m0 2v2m0 5v2m0 2v1m0 8v1m0 16v1m0 2v1m0 18v1m0 13v1m0 5v1m0 4v1m0 1v1m0 6v1m0 4v1m0 17v1m0 1v1m0 4v1m0 5v1m0 16v1m0 2v1m0 9v1m0 19v1m0 21v1"/><path class="b" d="M0 11v1m0 42v1m0 2v1m0 14v1m0 11v1m0 15v1m0 86v1m0 11v1m0 73v1m0 13v1m0 40v1m0 16v1m0 11v1m0 28v1m0 1v1"/><path class="c" d="M0 244v1m0 44v1m0 40v1m0 15v1m0 29v1m0 8v1m0 13v1"/><path class="d" d="M0 26v1m0 26v1m0 4v1m0 42v1m0 10v1m0 75v1m0 9v1m0 13v1m0 61v1m0 27v1m0 58v1"/><path class="e" d="M0 16v1m0 2v1m0 43v1m0 18v1m0 6v1m0 1v1m0 6v1m0 43v1m0 13v1m0 24v1m0 3v1m0 5v1m0 23v1m0 7v1m0 45v1m0 6v1m0 5v1m0 24v1m0 50v1m0 32v2"/><path class="f" d="M0 87v1m0 113v1m0 12v1m0 13v1m0 2v1m0 26v1m0 39v1m0 33v1"/><path class="g" d="M0 41v1m0 7v1m0 14v1m0 12v1m0 188v1m0 24v1m0 3v1m0 12v1m0 6v1m0 32v1m0 10v1m0 8v1m0 9v1"/><path class="h" d="M0 81v1m0 1v1m0 64v1m0 78v1m0 23v1m0 54v1m0 11v1m0 44v1m0 30v1"/><path class="i" d="M0 400v2"/><path class="j" d="M0 18v1m0 23v1m0 31v1m0 36v1m0 9v1m0 51v1m0 4v1m0 144v1m0 11v1m0 14v1m0 18v1m0 2v1m0 4v1m0 17v1"/><path class="k" d="M0 8v1m0 67v1m0 16v1m0 13v1m0 1v1m0 10v1m0 2v1m0 23v1m0 17v1m0 13v1m0 25v1m0 20v1m0 7v1m0 45v1m0 9v1m0 5v1m0 13v1m0 9v1m0 13v1m0 4v1m0 39v1m0 1v1"/><path class="l" d="M0 9v1m0 95v1m0 30v1m0 24v1m0 73v1m0 129v1m0 16v1"/><path class="m" d="M0 22v1m0 8v1m0 29v1m0 18v1m0 36v1m0 14v1m0 92v1m0 7v1m0 19v1m0 65v1m0 6v1m0 13v1m0 12v1"/><path class="n" d="M0 0v1m0 3v3m0 8v1m0 4v2m0 3v1m0 2v2m0 5v2m0 1v1m0 8v1m0 2v1m0 5v1m0 2v1m0 2v1m0 2v1m0 2v2m0 8v2m0 5v2m0 7v3m0 2v1m0 2v2m0 4v1m0 9v1m0 3v1m0 1v3m0 2v2m0 8v1m0 5v2m0 3v3m0 4v3m0 2v1m0 9v1m0 2v1m0 1v1m0 2v1m0 1v1m0 6v2m0 3v4m0 6v1m0 3v4m0 9v1m0 2v1m0 4v2m0 9v2m0 4v1m0 3v1m0 6v1m0 5v2m0 6v2m0 5v1m0 4v3m0 7v1m0 9v3m0 5v1m0 1v1m0 24v1m0 10v1m0 1v2m0 17v1m0 2v1m0 6v1m0 15v1"/><path class="o" d="M0 10v1m0 332v1m0 12v1m0 33v1"/><path class="p" d="M0 44v1m0 43v1m0 8v1m0 43v1m0 11v1m0 1v1m0 62v1m0 26v1m0 51v1m0 16v1m0 16v1m0 1v1m0 13v1m0 36v1m0 13v1"/><path class="q" d="M0 213v1m0 18v1m0 68v1m0 14v1m0 43v1"/><path class="r" d="M0 7v1m0 35v1m0 22v1m0 39v1m0 30v1m0 30v1m0 15v1m0 31v1m0 38v1m0 14v1m0 50v1m0 82v1"/><path class="s" d="M0 30v1m0 85v1m0 52v1m0 105v1m0 127v1"/><path class="t" d="M0 40v1m0 10v1m0 63v1m0 3v1m0 13v1m0 20v1m0 38v1m0 23v1m0 1v1m0 28v1m0 28v1m0 16v1m0 29v1m0 37v1m0 20v1"/><path class="u" d="M0 27v1m0 85v1m0 129v1m0 85v1m0 14v1m0 57v1"/><path class="v" d="M0 114v1m0 87v1m0 56v1m0 40v1"/><path class="w" d="M0 1v1m0 30v1m0 12v1m0 2v1m0 6v1m0 11v1m0 2v2m0 3v1m0 16v1m0 41v1m0 3v1m0 1v1m0 2v1m0 22v2m0 8v1m0 9v1m0 5v1m0 14v1m0 12v1m0 31v1m0 7v1m0 6v1m0 31v1m0 67v1m0 3v1m0 2v1m0 12v1m0 5v1m0 3v1"/><path class="x" d="M0 24v1m0 35v1m0 70v1m0 107v1m0 14v1m0 7v1m0 5v1m0 56v1m0 15v1m0 13v1m0 19v1m0 29v1"/></g>
<g id="p17"><path class="a" d="M0 1v1m0 1v1m0 10v3m0 1v1m0 6v1m0 10v1m0 6v1m0 4v1m0 16v1m0 3v1m0 10v1m0 5v1m0 12v1m0 10v1m0 27v1m0 17v1m0 18v1m0 4v1m0 4v2m0 1v2m0 2v1m0 2v1m0 4v2m0 4v1m0 3v1m0 3v1m0 9v1m0 7v1m0 1v1m0 21v2m0 11v2m0 12v1m0 6v1m0 9v1m0 2v1m0 14v1m0 9v1m0 10v1m0 23v1m0 18v2m0 5v1"/><path class="b" d="M0 11v1m0 16v1m0 55v1m0 12v1m0 29v1m0 44v1m0 82v1m0 71v1m0 47v1"/><path class="c" d="M0 126v1m0 46v1m0 73v1m0 6v1"/><path class="d" d="M0 29v1m0 28v1m0 13v1m0 1v1m0 7v1m0 61v1m0 86v1m0 28v1m0 51v1m0 18v1m0 23v1m0 18v1m0 1v1"/><path class="e" d="M0 20v1m0 31v1m0 3v1m0 9v1m0 37v1m0 73v1m0 38v1m0 40v1m0 12v1m0 15v1m0 36v1m0 17v1m0 28v1m0 30v1"/><path class="f" d="M0 53v1m0 34v1m0 12v1m0 97v1m0 203v1"/><path class="g" d="M0 23v1m0 26v2m0 24v2m0 17v1m0 12v1m0 16v1m0 10v1m0 5v1m0 65v1m0 56v1m0 25v1m0 52v1m0 8v1m0 23v1m0 14v1m0 8v1"/><path class="h" d="M0 10v1m0 122v1m0 84v1m0 3v1m0 6v1m0 85v1m0 42v1m0 7v1"/><path class="i" d="M0 57v1m0 201v1m0 12v1"/><path class="j" d="M0 26v1m0 7v1m0 57v1m0 20v1m0 36v3m0 34v1m0 56v1m0 29v2m0 2v1m0 5v1m0 49v1m0 11v1m0 3v1m0 16v1m0 10v1m0 2v1m0 8v1m0 5v1"/><path class="k" d="M0 8v1m0 85v1m0 24v1m0 4v1m0 38v1m0 1v1m0 10v1m0 17v1m0 14v1m0 27v1m0 15v1m0 26v1m0 11v1m0 2v1m0 14v1m0 9v1m0 2v1m0 12v1m0 58v1m0 2v1m0 6v1"/><path class="l" d="M0 120v1m0 2v1m0 67v1m0 87v1m0 16v1m0 57v1m0 24v1"/><path class="m" d="M0 9v1m0 36v1m0 42v1m0 6v1m0 49v1m0 72v1m0 19v1m0 27v1m0 9v1m0 47v1m0 35v1m0 7v1"/><path class="n" d="M0 0v1m0 1v1m0 2v1m0 1v1m0 9v1m0 1v1m0 2v1m0 1v1m0 5v4m0 1v1m0 1v1m0 1v2m0 3v1m0 14v1m0 1v1m0 16v2m0 1v1m0 3v1m0 1v1m0 2v1m0 9v1m0 6v1m0 1v1m0 1v1m0 4v3m0 15v2m0 11v3m0 3v1m0 5v4m0 1v1m0 1v1m0 2v3m0 9v4m0 8v1m0 8v4m0 1v1m0 5v1m0 2v1m0 3v2m0 1v1m0 2v2m0 5v1m0 1v1m0 13v4m0 8v2m0 1v1m0 1v1m0 15v1m0 21v1m0 2v1m0 1v1m0 9v1m0 15v1m0 1v2m0 8v3m0 1v2m0 11v1m0 15v1m0 12v2"/><path class="o" d="M0 131v1m0 252v1"/><path class="p" d="M0 102v1m0 38v1m0 12v1m0 12v1m0 6v1m0 21v1m0 46v1m0 41v1m0 11v1"/><path class="q" d="M0 143v1m0 86v1m0 99v1m0 26v1m0 29v1"/><path class="r" d="M0 4v1m0 8v1m0 61v1m0 38v1m0 24v1m0 17v1m0 78v1m0 26v1m0 17v1m0 4v1m0 2v1m0 21v1m0 21v1m0 7v1m0 1v1m0 55v2"/><path class="s" d="M0 55v1m0 11v1m0 87v1m0 56v1m0 86v1m0 1v1m0 58v1"/><path class="t" d="M0 47v1m0 14v3m0 26v1m0 1v1m0 11v1m0 62v1m0 42v1m0 13v1m0 12v1m0 59v1m0 22v1m0 23v1m0 16v1m0 41v1"/><path class="u" d="M0 41v2m0 27v1m0 57v1m0 99v1m0 44v1m0 85v1m0 12v1"/><path class="v" d="M0 12v1m0 41v1m0 60v1m0 42v1m0 39v1m0 103v1m0 13v1m0 12v1m0 58v1"/><path class="w" d="M0 21v1m0 5v1m0 10v1m0 21v1m0 7v1m0 29v1m0 13v1m0 9v1m0 9v1m0 4v1m0 2v1m0 36v1m0 1v1m0 10v1m0 24v1m0 25v2m0 2v1m0 2v1m0 39v1m0 5v1m0 22v1m0 4v1m0 17v1m0 56v1"/><path class="x" d="M0 45v1m0 27v1m0 29v1m0 41v1m0 51v1m0 42v1m0 5v1m0 21v1m0 7v1m0 28v1m0 26v1m0 35v1m0 1v1m0 20v1"/></g>
<g id="p18"><path class="a" d="M0 1v1m0 11v1m0 6v2m0 1v1m0 11v1m0 8v2m0 13v1m0 1v1m0 17v1m0 6v1m0 4v1m0 1v3m0 10v2m0 14v2m0 3v1m0 6v1m0 18v1m0 8v1m0 1v1m0 1v1m0 3v1m0 4v1m0 5v1m0 1v1m0 4v1m0 2v1m0 7v1m0 24v2m0 10v1m0 14v1m0 15v1m0 26v1m0 55v1m0 10v2m0 7v1m0 7v1"/><path class="b" d="M0 11v1m0 60v1m0 28v1m0 171v1m0 54v1"/><path class="c" d="M0 67v1m0 5v1m0 42v1m0 110v1"/><path class="d" d="M0 0v1m0 9v1m0 91v1m0 37v1m0 157v1m0 3v1m0 39v1m0 3v1"/><path class="e" d="M0 55v1m0 6v1m0 29v1m0 5v2m0 38v1m0 38v2m0 3v1m0 1v1m0 11v1m0 3v1m0 1v1m0 27v1m0 49v1m0 43v1m0 12v1m0 48v1m0 2v1"/><path class="f" d="M0 28v1m0 40v1m0 75v1m0 227v1"/><path class="g" d="M0 150v1m0 8v1m0 145v1m0 41v1m0 45v1m0 1v1"/><path class="h" d="M0 5v1m0 1v1m0 1v1m0 56v1m0 50v1m0 122v1m0 35v1m0 6v1m0 16v1m0 9v1m0 3v1m0 19v1m0 3v1m0 1v1m0 8v1m0 14v1m0 2v1m0 7v1"/><path class="i" d="M0 141v1m0 15v2m0 129v1m0 54v2"/><path class="j" d="M0 4v1m0 17v1m0 20v1m0 7v1m0 4v1m0 6v1m0 84v1m0 7v1m0 17v1m0 11v1m0 22v1m0 56v1m0 2v2m0 16v1m0 23v1m0 27v1m0 14v1m0 5v1m0 31v1"/><path class="k" d="M0 18v1m0 28v1m0 26v1m0 1v1m0 28v1m0 57v1m0 15v1m0 12v1m0 13v1m0 12v1m0 28v1m0 28v1m0 43v1m0 31v1m0 27v1m0 9v1"/><path class="l" d="M0 48v1m0 88v1m0 23v1m0 42v1m0 5v1m0 10v1m0 12v1m0 2v1m0 1v1m0 51v1m0 15v1m0 69v1m0 1v1m0 5v1"/><path class="m" d="M0 75v1m0 5v1m0 36v1m0 99v1m0 28v1m0 5v1m0 7v1m0 63v1m0 57v1m0 13v1"/><path class="n" d="M0 2v2m0 2v1m0 7v1m0 4v1m0 5v1m0 4v5m0 1v7m0 3v1m0 3v1m0 13v2m0 5v1m0 5v1m0 5v3m0 1v4m0 12v1m0 4v2m0 4v1m0 5v1m0 3v1m0 6v1m0 4v1m0 14v2m0 14v3m0 1v2m0 3v1m0 28v1m0 1v1m0 7v2m0 6v1m0 11v1m0 13v1m0 2v1m0 2v2m0 5v3m0 13v2m0 1v1m0 10v2m0 1v1m0 13v1m0 12v2m0 5v1m0 11v1m0 10v1m0 10v1m0 2v1m0 2v1m0 29v1"/><path class="o" d="M0 213v1m0 57v1m0 2v1m0 10v1m0 3v1m0 37v1m0 29v1m0 13v1"/><path class="p" d="M0 97v1m0 12v1m0 1v1m0 12v1m0 28v1m0 5v1m0 29v1m0 35v1m0 18v1m0 36v1m0 21v1m0 13v1m0 13v1m0 15v1m0 27v1m0 26v1"/><path class="q" d="M0 68v1m0 189v1m0 40v1m0 15v1m0 58v1m0 9v1"/><path class="r" d="M0 16v1m0 37v1m0 41v1m0 16v1m0 12v1m0 15v1m0 3v1m0 8v1m0 17v1m0 20v1m0 13v1m0 29v1m0 5v1m0 23v1m0 48v1m0 12v1m0 20v1m0 28v1m0 7v1m0 7v1m0 5v1"/><path class="s" d="M0 111v1m0 3v1m0 27v1m0 45v1m0 27v1m0 14v1m0 70v1m0 86v1"/><path class="t" d="M0 49v1m0 3v1m0 26v1m0 23v1m0 80v1m0 15v1m0 31v1m0 7v1m0 64v1m0 5v1m0 13v1m0 4v1m0 1v1m0 2v1m0 28v1m0 32v1m0 2v1"/><path class="u" d="M0 214v1m0 14v1m0 12v2m0 13v1m0 14v1m0 13v1m0 72v1m0 12v1"/><path class="v" d="M0 26v2m0 1v1m0 70v1m0 27v2m0 14v1m0 114v1m0 53v1m0 2v1m0 83v1"/><path class="w" d="M0 8v1m0 3v1m0 2v1m0 1v1m0 6v1m0 27v1m0 4v2m0 1v1m0 9v1m0 7v1m0 40v1m0 10v1m0 16v1m0 1v1m0 15v1m0 14v1m0 6v1m0 7v1m0 2v1m0 4v1m0 7v2m0 18v1m0 43v1m0 14v1m0 17v1m0 11v1m0 14v1m0 32v1m0 13v1m0 4v1m0 6v1"/><path class="x" d="M0 82v1m0 49v1m0 6v1m0 57v1m0 48v1m0 7v1m0 5v1m0 23v1m0 12v1m0 21v1m0 36v1m0 47v1"/></g>
<g id="p19"><path class="a" d="M0 1v1m0 1v1m0 11v1m0 20v2m0 6v1m0 2v1m0 8v2m0 11v1m0 3v1m0 1v1m0 7v1m0 1v1m0 2v2m0 12v1m0 4v2m0 6v1m0 14v1m0 3v1m0 1v1m0 1v1m0 1v1m0 6v1m0 20v1m0 1v3m0 2v2m0 9v1m0 2v1m0 21v1m0 5v1m0 11v2m0 18v1m0 8v1m0 5v1m0 16v2m0 24v1m0 4v1m0 2v1m0 17v1m0 26v1m0 18v1m0 18v1"/><path class="b" d="M0 11v1m0 56v1m0 2v1m0 113v1m0 1v1m0 13v1m0 69v1m0 15v1m0 12v1m0 13v1m0 41v1"/><path class="c" d="M0 146v1m0 136v1m0 15v1m0 72v1"/><path class="d" d="M0 10v1m0 61v1m0 53v1m0 27v1m0 29v1m0 13v1m0 14v1m0 88v1m0 10v1m0 4v1m0 12v1m0 23v1m0 43v1"/><path class="e" d="M0 4v1m0 21v1m0 14v1m0 13v1m0 3v1m0 32v1m0 18v1m0 31v1m0 7v1m0 1v1m0 2v1m0 20v1m0 13v1m0 5v1m0 21v1m0 7v1m0 14v2m0 13v1m0 10v1m0 6v1m0 10v1m0 5v1m0 4v1m0 21v1m0 8v1m0 15v1m0 4v1m0 2v1m0 39v1"/><path class="f" d="M0 58v1m0 53v1m0 191v1m0 11v1m0 28v1m0 27v1"/><path class="g" d="M0 38v1m0 7v1m0 73v1m0 142v1m0 1v1m0 19v1m0 92v1m0 14v1m0 1v2"/><path class="h" d="M0 32v1m0 17v1m0 16v1m0 35v1m0 15v1m0 157v1m0 49v1m0 20v1"/><path class="i" d="M0 144v1m0 10v1m0 219v1"/><path class="j" d="M0 5v1m0 2v1m0 4v1m0 8v1m0 43v1m0 3v1m0 5v1m0 54v1m0 9v1m0 24v1m0 2v1m0 51v1m0 23v1m0 21v1m0 6v1m0 57v1m0 1v1m0 7v2m0 17v1m0 18v1m0 23v1"/><path class="k" d="M0 61v1m0 17v1m0 24v1m0 4v1m0 23v1m0 14v1m0 3v1m0 12v1m0 14v1m0 15v1m0 36v1m0 19v1m0 8v1m0 13v1m0 14v1m0 4v1m0 29v1m0 8v1m0 2v1m0 14v1m0 12v1m0 14v1"/><path class="l" d="M0 6v1m0 27v1m0 28v1m0 27v1m0 43v1m0 27v1m0 30v1m0 8v1m0 19v1m0 42v1m0 12v1m0 41v1m0 28v1"/><path class="m" d="M0 18v1m0 99v1m0 42v1m0 63v1m0 13v1m0 50v1m0 14v1m0 41v1"/><path class="n" d="M0 7v1m0 1v1m0 6v1m0 4v1m0 1v2m0 4v3m0 1v1m0 6v1m0 8v1m0 1v3m0 6v1m0 1v1m0 1v1m0 9v1m0 2v1m0 2v3m0 3v2m0 2v1m0 2v5m0 2v2m0 3v1m0 10v1m0 4v4m0 4v1m0 2v1m0 4v1m0 1v1m0 9v1m0 12v1m0 10v2m0 4v1m0 1v3m0 21v3m0 1v2m0 1v1m0 2v2m0 3v1m0 16v2m0 2v1m0 2v1m0 5v1m0 3v1m0 4v3m0 18v1m0 12v2m0 8v1m0 2v1m0 1v1m0 11v1m0 2v1m0 5v1m0 21v1m0 2v1m0 2v1m0 7v1m0 1v1m0 14v2m0 19v1"/><path class="o" d="M0 188v1m0 99v1"/><path class="p" d="M0 12v1m0 12v1m0 178v1m0 42v1m0 7v1m0 113v1m0 1v1m0 12v1m0 5v1"/><path class="q" d="M0 199v1m0 84v1m0 32v1m0 28v1m0 38v1m0 1v1"/><path class="r" d="M0 2v1m0 39v1m0 175v1m0 9v1m0 23v1m0 45v1m0 11v1m0 63v1m0 2v1"/><path class="s" d="M0 370v1m0 18v1"/><path class="t" d="M0 39v1m0 38v1m0 31v1m0 56v1m0 22v1m0 1v1m0 2v1m0 36v1m0 13v1m0 9v1m0 134v1m0 2v1"/><path class="u" d="M0 27v2m0 69v2m0 13v2m0 13v1m0 28v1m0 56v1m0 86v1m0 28v1m0 27v2m0 42v1"/><path class="v" d="M0 200v1m0 187v1"/><path class="w" d="M0 0v1m0 13v1m0 4v2m0 22v1m0 4v1m0 5v1m0 10v1m0 18v1m0 21v1m0 18v1m0 16v1m0 7v1m0 57v1m0 15v1m0 6v1m0 2v2m0 12v1m0 2v1m0 20v2m0 21v1m0 13v1m0 1v1m0 10v1m0 13v1m0 2v1"/><path class="x" d="M0 17v1m0 27v1m0 71v1m0 108v1m0 13v1m0 48v1m0 51v1m0 20v1m0 5v1m0 28v1m0 7v1"/></g>
<g id="p20"><path class="a" d="M0 22v1m0 9v1m0 2v1m0 13v1m0 6v1m0 10v1m0 7v1m0 12v1m0 16v1m0 6v1m0 6v1m0 12v1m0 26v1m0 10v1m0 11v1m0 6v2m0 2v1m0 12v1m0 13v1m0 13v1m0 1v1m0 14v1m0 4v1m0 29v1m0 7v1m0 12v1m0 6v1m0 3v1m0 13v1m0 1v2m0 26v1m0 3v1m0 34v1"/><path class="b" d="M0 130v1m0 56v1m0 13v1m0 25v1m0 2v1m0 14v1m0 67v1m0 13v1m0 43v1"/><path class="c" d="M0 82v1m0 48v1m0 140v1m0 25v1m0 27v1m0 47v1m0 13v1"/><path class="d" d="M0 44v1m0 28v1m0 27v1m0 124v1m0 4v1m0 8v1m0 71v1m0 91v1"/><path class="e" d="M0 21v1m0 8v2m0 26v1m0 9v1m0 2v1m0 5v1m0 9v1m0 5v1m0 21v1m0 36v1m0 33v1m0 7v2m0 2v1m0 63v1m0 98v1m0 10v1m0 12v1m0 13v1"/><path class="f" d="M0 13v1m0 70v1m0 17v1m0 37v1m0 3v1m0 9v1m0 44v1m0 60v1m0 96v1m0 42v1m0 1v1"/><path class="g" d="M0 14v1m0 18v1m0 45v1m0 28v1m0 76v1m0 23v1m0 22v1m0 5v1m0 11v1m0 74v1m0 38v1m0 26v2"/><path class="h" d="M0 0v1m0 2v1m0 72v1m0 26v2m0 15v1m0 4v1m0 53v1m0 44v1m0 49v1m0 4v1m0 49v1m0 20v1m0 24v1"/><path class="i" d="M0 41v1m0 30v1m0 168v1m0 29v1m0 30v1m0 70v1m0 15v1"/><path class="j" d="M0 11v1m0 33v1m0 15v1m0 1v1m0 16v2m0 4v1m0 8v1m0 25v1m0 24v1m0 1v1m0 15v1m0 32v1m0 5v1m0 9v1m0 35v1m0 19v1m0 6v1m0 6v3m0 2v1m0 26v1m0 38v2m0 11v1m0 15v1"/><path class="k" d="M0 94v1m0 15v1m0 13v1m0 11v1m0 14v1m0 56v1m0 2v1m0 6v1m0 33v1m0 10v1m0 11v1m0 2v1m0 17v1m0 13v1m0 25v1m0 15v1m0 15v1m0 8v1m0 15v1"/><path class="l" d="M0 2v1m0 4v1m0 26v1m0 54v1m0 73v1m0 1v1m0 50v2m0 35v1m0 4v1m0 7v1m0 6v1m0 27v1m0 21v1m0 13v1m0 38v1m0 17v1"/><path class="m" d="M0 24v1m0 84v1m0 13v1m0 29v1m0 12v1m0 43v1m0 8v1m0 13v1m0 14v1m0 41v1m0 78v1m0 27v1"/><path class="n" d="M0 4v3m0 1v3m0 5v1m0 11v2m0 6v3m0 7v3m0 1v2m0 1v3m0 4v1m0 1v1m0 6v2m0 7v1m0 11v2m0 4v1m0 10v1m0 5v2m0 7v1m0 10v1m0 9v1m0 3v1m0 1v2m0 4v3m0 2v1m0 8v1m0 1v1m0 4v1m0 1v1m0 2v1m0 1v1m0 8v1m0 3v1m0 3v1m0 6v1m0 27v1m0 28v2m0 14v1m0 6v1m0 3v3m0 12v1m0 2v1m0 12v1m0 1v1m0 13v1m0 2v2m0 3v2m0 17v1m0 14v3m0 12v1"/><path class="o" d="M0 98v1m0 42v1m0 46v1m0 13v1m0 39v1m0 27v1m0 119v1"/><path class="p" d="M0 1v1m0 13v1m0 24v1m0 56v1m0 18v1m0 22v1m0 74v1m0 46v1m0 35v1m0 6v1"/><path class="q" d="M0 83v1m0 42v1m0 116v1m0 56v1m0 2v1m0 83v1m0 15v1"/><path class="r" d="M0 12v1m0 39v1m0 12v1m0 40v1m0 38v1m0 45v1m0 13v1m0 9v1m0 9v1m0 28v1m0 2v1m0 9v1m0 81v1"/><path class="s" d="M0 25v1m0 101v1m0 44v1m0 39v1m0 147v1"/><path class="t" d="M0 111v1m0 25v2m0 23v1m0 41v1m0 63v1m0 8v1m0 17v1m0 37v1m0 50v1m0 11v1"/><path class="u" d="M0 142v1m0 200v1m0 1v1m0 12v2"/><path class="v" d="M0 128v2m0 43v1m0 10v1m0 59v1m0 14v1m0 68v1m0 1v1m0 25v1m0 29v1"/><path class="w" d="M0 20v1m0 2v1m0 2v2m0 11v1m0 17v1m0 1v1m0 4v1m0 1v1m0 7v1m0 10v1m0 31v2m0 15v2m0 22v1m0 15v2m0 1v1m0 2v1m0 40v1m0 1v1m0 4v2m0 7v1m0 17v1m0 25v2m0 22v1m0 5v1m0 4v2m0 13v1m0 21v1m0 9v1"/><path class="x" d="M0 17v1m0 143v1m0 6v1m0 70v1m0 49v1m0 29v1m0 20v1m0 7v1m0 49v1m0 6v1"/></g>
<g id="p21"><path class="a" d="M0 2v1m0 8v1m0 2v1m0 5v1m0 8v1m0 3v1m0 7v1m0 2v1m0 9v1m0 10v1m0 10v1m0 5v1m0 4v2m0 9v1m0 3v1m0 6v1m0 1v1m0 6v1m0 5v1m0 2v1m0 1v1m0 7v1m0 10v1m0 1v1m0 4v1m0 16v1m0 1v3m0 11v1m0 1v1m0 5v1m0 27v1m0 9v1m0 1v1m0 5v1m0 4v1m0 3v1m0 2v1m0 11v1m0 55v1m0 3v1m0 9v1m0 3v2m0 10v1m0 23v1"/><path class="b" d="M0 0v1m0 71v1m0 96v1m0 43v1m0 14v1m0 12v1m0 61v1m0 9v1m0 42v1m0 46v1"/><path class="c" d="M0 184v1m0 132v1m0 11v1m0 56v1"/><path class="d" d="M0 1v1m0 71v1m0 86v1m0 7v1m0 56v1m0 1v1m0 12v1m0 15v1m0 17v1m0 27v1m0 43v1"/><path class="e" d="M0 40v1m0 21v1m0 44v1m0 2v1m0 6v1m0 64v1m0 15v1m0 2v1m0 29v1m0 6v1m0 48v1m0 21v1m0 5v1m0 15v1m0 27v1m0 2v1"/><path class="f" d="M0 141v1m0 75v1m0 79v1"/><path class="g" d="M0 18v1m0 44v1m0 14v1m0 82v1m0 2v1m0 1v2m0 10v1m0 32v1m0 56v1m0 59v1m0 22v1m0 40v1m0 4v1"/><path class="h" d="M0 119v1m0 45v1m0 36v1m0 1v1m0 28v1m0 43v1m0 41v1m0 17v1m0 39v1m0 11v1m0 10v1m0 4v1"/><path class="i" d="M0 257v2m0 14v1m0 111v1"/><path class="j" d="M0 12v2m0 23v1m0 22v1m0 10v1m0 31v1m0 29v1m0 11v1m0 33v1m0 11v1m0 17v1m0 19v1m0 31v1m0 5v1m0 3v1m0 13v1m0 18v1m0 6v1m0 11v1m0 18v1m0 5v1m0 4v2m0 2v1m0 3v1m0 16v1m0 3v1m0 10v1m0 1v1"/><path class="k" d="M0 149v1m0 2v1m0 10v1m0 16v1m0 11v1m0 15v1m0 14v1m0 25v1m0 14v1m0 42v1m0 2v1m0 13v1m0 10v1m0 14v1m0 13v1m0 1v1m0 12v1"/><path class="l" d="M0 104v1m0 78v1m0 36v1m0 16v1m0 27v1m0 22v1m0 3v1m0 87v1m0 2v1"/><path class="m" d="M0 9v1m0 56v1m0 8v1m0 63v1m0 65v1m0 4v1m0 85v1m0 1v1m0 21v1m0 13v1"/><path class="n" d="M0 4v1m0 1v3m0 6v2m0 2v1m0 2v5m0 3v2m0 2v1m0 1v1m0 8v4m0 1v1m0 4v1m0 5v1m0 2v1m0 3v2m0 9v3m0 2v2m0 3v2m0 1v1m0 3v2m0 2v2m0 3v1m0 2v1m0 5v2m0 5v1m0 1v1m0 6v3m0 2v1m0 2v1m0 5v1m0 6v1m0 2v1m0 18v1m0 3v1m0 3v1m0 12v2m0 10v1m0 8v2m0 2v1m0 2v1m0 12v1m0 10v1m0 1v1m0 3v1m0 2v1m0 6v2m0 17v1m0 4v1m0 7v1m0 13v1m0 16v1m0 12v1m0 24v1m0 3v1m0 2v3"/><path class="o" d="M0 212v1m0 161v1"/><path class="p" d="M0 27v2m0 10v1m0 30v1m0 54v1m0 61v1m0 15v1m0 14v1m0 26v1m0 43v1m0 24v1m0 3v1m0 8v1m0 4v1"/><path class="q" d="M0 140v1m0 17v1m0 140v3m0 88v1m0 8v1"/><path class="r" d="M0 5v1m0 32v1m0 13v1m0 5v2m0 52v1m0 13v1m0 15v1m0 42v2m0 2v1m0 40v1m0 13v1m0 48v1m0 1v1m0 53v1"/><path class="s" d="M0 113v1m0 118v1m0 83v1"/><path class="t" d="M0 51v1m0 95v1m0 5v1m0 118v1m0 33v1m0 32v1m0 20v1"/><path class="u" d="M0 56v2m0 286v1m0 28v1m0 28v1"/><path class="v" d="M0 143v1m0 13v1m0 41v2m0 129v1"/><path class="w" d="M0 3v1m0 17v1m0 10v1m0 2v1m0 6v2m0 5v1m0 27v1m0 5v1m0 2v1m0 4v1m0 1v1m0 5v1m0 6v1m0 9v1m0 5v1m0 5v1m0 5v1m0 1v1m0 19v1m0 5v1m0 7v2m0 25v1m0 16v1m0 24v1m0 3v1m0 25v2m0 4v1m0 4v1m0 1v1m0 1v1m0 36v1m0 21v1m0 14v1m0 16v1m0 5v1m0 14v1"/><path class="x" d="M0 10v1m0 6v1m0 35v1m0 13v1m0 6v1m0 20v1m0 50v1m0 79v1m0 26v1m0 22v1m0 6v1m0 6v1m0 14v1m0 27v1m0 13v1m0 21v1"/></g>
<g id="p22"><path class="a" d="M0 5v1m0 2v1m0 3v1m0 18v1m0 5v1m0 15v1m0 23v1m0 14v1m0 8v1m0 5v2m0 1v1m0 2v1m0 2v1m0 1v1m0 1v2m0 7v1m0 3v1m0 17v1m0 22v1m0 9v1m0 14v1m0 22v1m0 4v1m0 16v1m0 3v1m0 12v2m0 3v1m0 15v1m0 17v1m0 25v1m0 77v1"/><path class="b" d="M0 87v1m0 10v1m0 31v1m0 56v1m0 53v1m0 45v1m0 57v1"/><path class="c" d="M0 142v1m0 142v1m0 85v1"/><path class="d" d="M0 97v1m0 33v1m0 56v1m0 113v1m0 25v1m0 2v1"/><path class="e" d="M0 7v1m0 6v2m0 54v1m0 1v1m0 53v1m0 51v1m0 1v1m0 1v1m0 29v1m0 3v1m0 3v1m0 29v1m0 5v1m0 3v1m0 10v2m0 39v1m0 55v1m0 22v2m0 9v1"/><path class="f" d="M0 68v1m0 91v1m0 37v1m0 15v1m0 55v1m0 28v1m0 13v1m0 27v1"/><path class="g" d="M0 16v1m0 66v1m0 59v1m0 9v1m0 40v1m0 52v1m0 26v1m0 21v1m0 26v1m0 70v1"/><path class="h" d="M0 89v1m0 54v1m0 19v1m0 30v1m0 8v1m0 16v1m0 3v1m0 8v1m0 14v1m0 18v2m0 18v2m0 1v1m0 2v1m0 2v1m0 10v1m0 43v1m0 37v1"/><path class="i" d="M0 56v1m0 258v1m0 44v1m0 39v1"/><path class="j" d="M0 13v1m0 8v1m0 29v1m0 18v1m0 42v2m0 3v1m0 80v1m0 44v1m0 81v1m0 9v1m0 28v1m0 9v1m0 5v1m0 2v1m0 15v1m0 1v1"/><path class="k" d="M0 61v1m0 4v1m0 55v1m0 14v1m0 25v1m0 42v1m0 17v1m0 55v1m0 9v1m0 42v1m0 2v1m0 3v1m0 8v1m0 27v1m0 15v1"/><path class="l" d="M0 3v1m0 87v1m0 47v1m0 41v1m0 28v2m0 7v1m0 3v1m0 12v1m0 14v1m0 2v1m0 22v2m0 13v1m0 57v1m0 28v1"/><path class="m" d="M0 74v1m0 20v1m0 28v1m0 20v1m0 1v1m0 13v1m0 5v1m0 37v1m0 27v1m0 4v1m0 14v1m0 13v1m0 42v1m0 23v1m0 4v1m0 7v1m0 15v1"/><path class="n" d="M0 0v1m0 8v3m0 6v3m0 3v1m0 4v1m0 2v1m0 1v1m0 1v1m0 1v8m0 1v5m0 6v2m0 2v4m0 9v1m0 2v4m0 8v1m0 2v2m0 4v2m0 1v3m0 12v1m0 14v1m0 1v3m0 3v1m0 7v1m0 1v1m0 11v1m0 2v2m0 2v1m0 2v2m0 3v1m0 5v1m0 5v1m0 1v1m0 1v1m0 9v1m0 11v1m0 14v2m0 20v1m0 5v1m0 4v2m0 16v1m0 21v2m0 1v1m0 2v1m0 7v3m0 1v2m0 1v1m0 10v1m0 2v1m0 12v1m0 12v1m0 2v1"/><path class="o" d="M0 88v1m0 97v1m0 53v1m0 45v1m0 88v1m0 22v1"/><path class="p" d="M0 2v1m0 14v1m0 49v1m0 1v1m0 12v1m0 55v1m0 15v1m0 4v1m0 37v1m0 4v1m0 14v1m0 57v1m0 80v1m0 12v1"/><path class="q" d="M0 298v1m0 30v2m0 12v1m0 30v1"/><path class="r" d="M0 23v1m0 9v1m0 21v1m0 28v1m0 27v1m0 42v1m0 2v1m0 20v1m0 16v1m0 4v1m0 6v1m0 37v1m0 12v1m0 13v1m0 10v1m0 63v1m0 8v1m0 1v1m0 28v1m0 6v1m0 1v1"/><path class="s" d="M0 332v1m0 39v2"/><path class="t" d="M0 1v1m0 2v1m0 41v1m0 64v1m0 15v1m0 28v1m0 35v1m0 62v1m0 114v1m0 18v1"/><path class="u" d="M0 57v1m0 27v2m0 83v2m0 13v1m0 115v1m0 12v1m0 29v1"/><path class="v" d="M0 27v2m0 99v1m0 12v1m0 15v1m0 55v1m0 14v2m0 12v2m0 72v1m0 25v1m0 43v2"/><path class="w" d="M0 6v1m0 14v1m0 3v2m0 3v1m0 4v1m0 18v1m0 5v1m0 15v1m0 28v1m0 3v1m0 13v1m0 25v1m0 2v1m0 23v1m0 13v1m0 16v1m0 1v1m0 27v1m0 19v1m0 7v1m0 13v1m0 3v1m0 9v1m0 1v1m0 9v1m0 1v1m0 12v1m0 4v1m0 32v1m0 22v1m0 1v2m0 11v1"/><path class="x" d="M0 73v1m0 22v1m0 28v1m0 20v1m0 21v1m0 6v1m0 42v1m0 7v1m0 5v1m0 6v1m0 36v1m0 34v1m0 43v1m0 49v1"/></g>
<g id="p23"><path class="a" d="M0 1v1m0 3v1m0 5v2m0 9v1m0 28v1m0 3v1m0 1v1m0 2v1m0 4v1m0 6v3m0 11v1m0 3v1m0 3v1m0 1v1m0 2v1m0 2v1m0 4v1m0 2v2m0 6v1m0 2v1m0 2v1m0 3v1m0 11v3m0 1v2m0 18v1m0 11v1m0 4v1m0 1v3m0 5v2m0 7v1m0 6v1m0 2v1m0 3v2m0 11v1m0 15v1m0 12v1m0 5v1m0 4v1m0 1v1m0 4v2m0 1v1m0 8v2m0 6v1m0 26v1m0 10v1m0 23v1m0 14v1m0 22v1"/><path class="b" d="M0 84v1m0 44v1m0 25v1m0 14v1m0 2v1m0 25v1m0 31v1m0 10v1m0 1v1m0 83v1m0 31v1m0 40v1m0 1v1"/><path class="c" d="M0 300v1"/><path class="d" d="M0 69v1m0 55v1m0 5v1m0 22v1m0 14v1m0 28v1m0 33v1m0 7v1m0 4v1m0 95v1m0 32v1m0 25v1"/><path class="e" d="M0 27v2m0 7v1m0 5v1m0 48v1m0 13v1m0 60v1m0 4v2m0 43v1m0 9v1m0 1v1m0 6v1m0 17v1m0 17v2m0 33v1m0 24v1m0 31v1m0 13v1m0 18v1m0 1v1m0 6v1"/><path class="f" d="M0 31v1m0 127v1m0 53v1"/><path class="g" d="M0 20v1m0 13v1m0 53v1m0 6v1m0 12v1m0 6v2m0 17v1m0 1v1m0 24v1m0 20v1m0 35v1m0 19v1m0 15v1m0 4v1m0 74v1m0 8v1m0 21v1m0 19v1m0 3v1"/><path class="h" d="M0 61v1m0 71v1m0 19v1m0 93v1m0 12v1m0 4v1m0 61v1m0 21v1m0 12v1m0 3v1m0 2v1"/><path class="i" d="M0 126v1m0 172v1m0 30v1m0 11v1"/><path class="j" d="M0 9v1m0 29v1m0 8v1m0 30v1m0 17v1m0 2v1m0 3v1m0 8v1m0 5v1m0 2v1m0 12v1m0 16v1m0 4v1m0 28v1m0 14v1m0 9v1m0 12v2m0 97v1"/><path class="k" d="M0 19v1m0 56v1m0 88v1m0 1v1m0 41v1m0 13v1m0 28v1m0 25v1m0 12v1m0 4v1m0 10v1m0 4v1m0 23v1m0 2v1m0 24v1m0 2v1m0 25v1m0 3v1"/><path class="l" d="M0 37v1m0 100v1m0 10v2m0 38v1m0 30v1m0 16v1m0 42v1m0 45v1m0 17v1m0 33v1m0 2v1"/><path class="m" d="M0 32v1m0 33v1m0 108v1m0 14v1m0 28v1m0 28v1m0 35v1m0 5v1m0 6v1m0 27v1m0 56v1"/><path class="n" d="M0 4v1m0 2v2m0 5v3m0 1v1m0 2v1m0 1v4m0 6v1m0 1v1m0 4v2m0 2v3m0 2v2m0 1v3m0 3v1m0 3v3m0 6v1m0 3v1m0 5v1m0 11v1m0 9v1m0 2v1m0 5v1m0 10v1m0 19v1m0 2v3m0 7v1m0 6v1m0 13v1m0 2v1m0 7v1m0 5v4m0 5v2m0 1v1m0 1v1m0 12v1m0 11v1m0 2v1m0 9v1m0 10v1m0 5v1m0 2v1m0 1v1m0 1v1m0 2v1m0 8v2m0 4v1m0 19v1m0 15v1m0 10v1m0 2v1m0 1v1m0 5v3m0 8v1m0 17v1m0 3v1m0 15v1m0 3v1"/><path class="o" d="M0 315v1m0 13v1m0 74v1"/><path class="p" d="M0 30v1m0 12v1m0 38v1m0 6v1m0 27v1m0 42v1m0 51v1m0 17v1m0 30v1m0 41v1m0 64v1m0 21v1"/><path class="q" d="M0 83v1m0 218v1m0 10v1m0 59v1m0 10v1"/><path class="r" d="M0 29v1m0 47v1m0 2v1m0 20v1m0 12v1m0 12v1m0 9v1m0 24v1m0 42v1m0 99v1m0 10v2m0 19v1m0 38v1m0 3v1m0 5v1"/><path class="s" d="M0 258v1m0 26v1m0 47v1"/><path class="t" d="M0 3v1m0 6v1m0 27v1m0 8v1m0 72v1m0 18v1m0 11v1m0 16v1m0 9v2m0 49v1m0 9v1m0 9v1m0 1v1m0 3v1m0 8v1m0 14v1m0 29v2m0 77v1m0 3v1"/><path class="u" d="M0 70v1m0 287v2"/><path class="v" d="M0 345v1m0 26v1m0 14v1"/><path class="w" d="M0 0v1m0 12v1m0 3v1m0 38v1m0 2v1m0 8v1m0 16v1m0 1v1m0 10v1m0 10v1m0 22v1m0 25v1m0 28v1m0 14v1m0 14v1m0 16v1m0 41v1m0 4v1m0 13v1m0 59v1m0 46v1"/><path class="x" d="M0 2v1m0 64v1m0 221v1m0 14v1m0 13v1m0 35v1m0 15v1m0 20v1"/></g>
<g id="q0"><path class="a" d="M0 1v2m0 4v1m0 7v1m0 5v1m0 6v1m0 8v1m0 3v2m0 23v1m0 3v1m0 1v1m0 7v1m0 11v1m0 15v1m0 12v1m0 2v1m0 13v1m0 9v1m0 10v1m0 5v1m0 29v1m0 12v1m0 16v1m0 5v1m0 10v1m0 23v2m0 6v1m0 3v1m0 16v2m0 8v1m0 4v1m0 34v1m0 9v1m0 4v2m0 6v1m0 3v1m0 6v1m0 12v1m0 2v1m0 8v1"/><path class="b" d="M0 69v1m0 14v1m0 30v1m0 201v1"/><path class="c" d="M0 12v1m0 47v1m0 21v1m0 3v1m0 109v1m0 30v1m0 174v1"/><path class="d" d="M0 68v1m0 19v1m0 37v1m0 13v1m0 70v1m0 18v1m0 23v1m0 14v1m0 48v1m0 9v1m0 3v1m0 67v1"/><path class="e" d="M0 0v1m0 124v1m0 36v1m0 16v1m0 12v1m0 10v1m0 9v1m0 1v1m0 7v1m0 29v1m0 50v1m0 38v1m0 12v1m0 16v2m0 12v1m0 1v1m0 13v1"/><path class="f" d="M0 10v1m0 32v1m0 11v1m0 44v1m0 42v1m0 24v1m0 71v1m0 47v1m0 24v1"/><path class="g" d="M0 53v1m0 24v1m0 11v2m0 25v1m0 46v1m0 28v1m0 10v1m0 4v1m0 14v1m0 67v1m0 27v1m0 12v1m0 19v1m0 11v1m0 18v1m0 8v2"/><path class="h" d="M0 19v1m0 108v1m0 5v1m0 42v1m0 84v1m0 40v1m0 18v1m0 12v1m0 28v1m0 11v1"/><path class="i" d="M0 13v1m0 73v1m0 140v2m0 71v1m0 28v2"/><path class="j" d="M0 26v1m0 20v1m0 1v1m0 99v2m0 1v1m0 8v1m0 11v1m0 43v2m0 2v1m0 17v1m0 25v1m0 42v1m0 2v1m0 32v1m0 3v1m0 2v1m0 10v1m0 18v1m0 3v2m0 10v1"/><path class="k" d="M0 9v1m0 22v1m0 17v1m0 11v1m0 2v1m0 8v1m0 2v1m0 1v1m0 27v1m0 1v1m0 10v1m0 2v1m0 39v1m0 11v1m0 4v1m0 13v1m0 42v1m0 11v1m0 10v1m0 16v1m0 20v1m0 8v1m0 15v1m0 15v1m0 23v1m0 34v1"/><path class="l" d="M0 5v1m0 25v1m0 67v1m0 35v1m0 135v2m0 48v1m0 14v1m0 29v1"/><path class="m" d="M0 24v1m0 50v1m0 20v1m0 7v1m0 5v1m0 21v1m0 14v1m0 19v1m0 8v1m0 71v1m0 12v1m0 14v1m0 20v1m0 36v1m0 42v1"/><path class="n" d="M0 4v1m0 11v1m0 3v1m0 2v1m0 5v2m0 2v1m0 11v2m0 1v1m0 2v1m0 4v1m0 6v2m0 11v1m0 16v3m0 18v1m0 7v1m0 10v1m0 2v2m0 13v1m0 1v1m0 12v1m0 14v1m0 1v2m0 4v3m0 10v1m0 11v1m0 5v1m0 14v2m0 31v1m0 10v1m0 1v7m0 2v1m0 15v1m0 2v1m0 6v1m0 10v1m0 10v1m0 1v1m0 5v2m0 1v2m0 3v1m0 16v1m0 6v1m0 3v1m0 22v1"/><path class="o" d="M0 116v1m0 55v1m0 13v1m0 13v1m0 45v1m0 9v1m0 57v1"/><path class="p" d="M0 11v1m0 32v1m0 13v1m0 59v1m0 35v1m0 61v1m0 9v1m0 62v1m0 51v1m0 41v1"/><path class="q" d="M0 141v1m0 15v1m0 112v1m0 41v1"/><path class="r" d="M0 22v1m0 13v1m0 2v1m0 14v1m0 2v1m0 15v1m0 15v1m0 11v1m0 10v2m0 5v1m0 19v1m0 15v1m0 31v1m0 17v2m0 56v1m0 9v1m0 95v1m0 29v1"/><path class="s" d="M0 97v1m0 33v1m0 10v1m0 17v1m0 98v1m0 39v1"/><path class="t" d="M0 6v1m0 45v1m0 8v1m0 5v1m0 13v1m0 23v1m0 68v1m0 44v1m0 14v1m0 67v1m0 39v1m0 45v1m0 2v1m0 4v1"/><path class="u" d="M0 158v1m0 11v1m0 14v1m0 13v1m0 43v1m0 14v1m0 41v1m0 14v1"/><path class="v" d="M0 14v1m0 70v1m0 12v1m0 30v1m0 14v1m0 11v1m0 201v2"/><path class="w" d="M0 3v1m0 14v1m0 8v1m0 10v1m0 1v1m0 30v1m0 30v1m0 27v1m0 14v1m0 23v1m0 12v1m0 5v1m0 9v1m0 2v1m0 20v1m0 9v1m0 5v1m0 2v1m0 8v1m0 1v1m0 27v1m0 10v1m0 2v1m0 29v1m0 1v1m0 25v1m0 4v1m0 9v1m0 2v1"/><path class="x" d="M0 17v1m0 7v1m0 33v1m0 43v1m0 7v1m0 34v1m0 50v1m0 12v1m0 1v1m0 20v1m0 13v1m0 7v1m0 19v1m0 43v1m0 5v1m0 49v1m0 14v1"/></g>
<g id="q1"><path class="a" d="M0 7v1m0 12v1m0 1v1m0 30v1m0 11v1m0 20v1m0 1v1m0 18v1m0 4v1m0 4v2m0 5v1m0 8v1m0 5v1m0 10v1m0 1v1m0 8v1m0 17v1m0 20v2m0 10v1m0 27v1m0 38v1m0 16v1m0 12v1m0 1v2m0 6v1m0 7v2m0 5v1m0 1v1m0 13v2m0 6v1m0 4v1m0 9v2m0 11v1"/><path class="b" d="M0 25v1m0 3v1m0 38v1m0 15v1m0 16v1m0 27v1m0 25v1m0 3v1m0 27v1m0 43v1m0 27v1m0 11v1m0 99v1"/><path class="c" d="M0 58v1m0 51v1m0 49v1m0 99v1m0 14v1m0 23v1m0 70v1"/><path class="d" d="M0 10v1m0 32v1m0 86v1m0 23v1m0 115v1"/><path class="e" d="M0 19v1m0 18v1m0 10v1m0 29v1m0 7v1m0 26v1m0 4v1m0 28v1m0 8v1m0 18v1m0 21v1m0 19v1m0 53v1m0 14v1m0 1v1m0 8v1m0 15v1m0 3v1m0 10v1m0 39v1m0 12v1m0 2v1m0 5v1"/><path class="f" d="M0 44v1m0 198v1m0 131v1"/><path class="g" d="M0 6v1m0 5v1m0 2v1m0 19v1m0 15v1m0 12v1m0 17v1m0 12v1m0 1v1m0 22v1m0 1v1m0 45v1m0 22v1m0 32v1m0 10v1m0 13v1m0 16v2m0 20v1m0 17v2m0 75v1m0 4v1"/><path class="h" d="M0 98v1m0 74v1m0 6v1m0 25v2m0 8v2m0 14v1m0 15v1m0 28v1m0 13v1m0 1v1m0 45v1m0 37v2m0 1v1m0 3v1m0 11v1"/><path class="i" d="M0 11v1m0 45v1m0 257v1m0 14v1"/><path class="j" d="M0 17v1m0 13v1m0 15v1m0 4v1m0 53v1m0 30v1m0 20v1m0 35v1m0 16v1m0 15v1m0 17v1m0 7v1m0 1v1m0 7v1m0 19v1m0 13v1m0 19v1m0 3v1m0 3v1m0 28v1m0 2v1m0 1v1m0 4v1m0 2v2"/><path class="k" d="M0 4v1m0 13v1m0 13v1m0 3v1m0 25v1m0 12v1m0 15v1m0 2v1m0 9v1m0 42v1m0 26v1m0 6v1m0 10v1m0 15v1m0 11v1m0 17v1m0 37v1m0 4v1m0 10v1m0 30v1m0 11v1m0 11v1m0 1v1m0 3v1m0 7v1m0 19v1m0 15v1"/><path class="l" d="M0 63v1m0 14v1m0 11v1m0 2v1m0 2v1m0 8v1m0 2v1m0 27v1m0 28v1m0 16v1m0 26v1m0 11v1m0 51v1m0 16v1m0 3v1m0 29v1m0 70v1"/><path class="m" d="M0 67v1m0 6v1m0 28v1m0 85v1m0 35v1m0 7v1m0 13v1m0 100v1m0 6v1"/><path class="n" d="M0 3v1m0 1v1m0 17v1m0 2v1m0 19v1m0 1v1m0 1v1m0 18v1m0 7v1m0 2v1m0 32v1m0 7v1m0 1v1m0 7v1m0 10v2m0 5v1m0 1v1m0 4v1m0 6v1m0 2v1m0 18v2m0 3v1m0 8v1m0 19v1m0 3v1m0 4v1m0 21v1m0 1v1m0 9v1m0 1v1m0 13v1m0 1v1m0 14v1m0 24v1m0 12v1m0 3v1m0 14v1m0 12v2m0 5v1m0 20v1m0 7v1m0 3v1"/><path class="o" d="M0 24v1m0 5v1m0 52v1m0 42v1m0 158v1m0 45v1m0 13v1"/><path class="p" d="M0 2v1m0 42v1m0 10v1m0 2v1m0 21v1m0 33v1m0 24v1m0 26v1m0 93v1m0 78v1"/><path class="q" d="M0 16v1m0 82v1m0 27v1m0 42v1m0 17v1m0 25v1m0 59v1m0 25v1"/><path class="r" d="M0 0v1m0 7v1m0 5v1m0 18v2m0 26v1m0 38v1m0 31v1m0 11v1m0 8v1m0 8v1m0 39v1m0 34v1m0 3v1m0 26v2m0 14v1m0 18v1m0 4v1m0 1v1m0 65v1m0 2v1m0 7v1m0 10v1m0 4v1"/><path class="s" d="M0 55v1m0 85v1m0 30v1m0 56v1m0 12v1m0 59v1m0 53v1m0 3v1m0 41v1"/><path class="t" d="M0 1v1m0 64v1m0 68v1m0 9v1m0 37v1m0 50v1m0 1v1m0 68v1m0 20v1m0 11v1m0 2v1m0 4v1m0 15v1m0 36v1"/><path class="u" d="M0 27v2m0 12v1m0 28v2m0 99v1m0 114v1m0 29v1m0 26v1"/><path class="v" d="M0 13v1m0 40v1m0 73v1m0 40v1m0 43v1m0 16v1m0 13v1m0 12v2m0 42v1m0 87v1"/><path class="w" d="M0 21v1m0 15v1m0 1v2m0 19v1m0 11v1m0 12v1m0 23v1m0 6v1m0 8v1m0 8v1m0 11v1m0 30v2m0 5v1m0 8v1m0 45v1m0 11v1m0 4v1m0 25v1m0 30v1m0 18v1m0 9v1m0 47v1m0 1v1m0 7v1m0 3v1"/><path class="x" d="M0 9v1m0 63v1m0 15v1m0 21v1m0 26v1m0 58v1m0 5v1m0 6v1m0 15v1m0 19v1m0 7v1m0 49v1"/></g>
<g id="q2"><path class="a" d="M0 1v1m0 25v3m0 7v1m0 4v1m0 28v1m0 16v1m0 3v1m0 25v2m0 18v1m0 14v1m0 2v2m0 7v1m0 29v1m0 14v1m0 2v1m0 39v1m0 5v1m0 1v1m0 7v1m0 8v1m0 9v1m0 4v1m0 2v1m0 8v2m0 17v3m0 15v1m0 6v1m0 3v1m0 11v1m0 1v1m0 15v1m0 9v1m0 1v1"/><path class="b" d="M0 41v1m0 85v1m0 2v1m0 24v1m0 2v1m0 40v1m0 1v1m0 40v1m0 1v1m0 28v1m0 39v1m0 14v1m0 16v1m0 40v1m0 15v1"/><path class="c" d="M0 141v1m0 42v1m0 18v1m0 37v1m0 15v1m0 16v1m0 125v1"/><path class="d" d="M0 97v1m0 14v1m0 12v1m0 5v1m0 22v1m0 5v1m0 8v1m0 18v1m0 95v1m0 27v1m0 14v1m0 4v1m0 13v1m0 37v1"/><path class="e" d="M0 6v1m0 23v1m0 1v1m0 1v1m0 14v1m0 25v1m0 11v1m0 5v1m0 49v1m0 3v1m0 33v1m0 1v1m0 25v1m0 44v1m0 3v1m0 28v1m0 22v1m0 22v1m0 20v1m0 5v1m0 7v1m0 3v1m0 9v1"/><path class="f" d="M0 55v2m0 15v1m0 38v1m0 100v1m0 2v2m0 69v1m0 88v1"/><path class="g" d="M0 4v1m0 100v1m0 1v1m0 25v1m0 5v1m0 8v1m0 18v1m0 55v1m0 24v1m0 88v1m0 14v1m0 8v1"/><path class="h" d="M0 19v1m0 46v1m0 37v1m0 29v2m0 1v1m0 2v1m0 22v1m0 18v1m0 14v1m0 8v1m0 17v1m0 10v1m0 19v1m0 7v1m0 51v1m0 5v1m0 8v1m0 24v1m0 2v1"/><path class="i" d="M0 173v1m0 55v1m0 159v1"/><path class="j" d="M0 12v1m0 57v1m0 35v1m0 37v1m0 1v1m0 30v2m0 14v1m0 10v1m0 2v1m0 12v1m0 71v1m0 4v1m0 40v1m0 27v1m0 4v1m0 15v1"/><path class="k" d="M0 18v1m0 2v1m0 28v1m0 10v1m0 3v1m0 8v1m0 16v1m0 31v1m0 26v1m0 29v1m0 11v1m0 12v1m0 2v1m0 10v1m0 17v1m0 29v1m0 27v1m0 13v1m0 8v1m0 1v1m0 13v1m0 29v1"/><path class="l" d="M0 5v1m0 17v1m0 77v1m0 62v1m0 53v1m0 6v1m0 2v1m0 2v1m0 2v1m0 127v2m0 12v2m0 14v1"/><path class="m" d="M0 8v1m0 7v1m0 7v1m0 69v1m0 81v1m0 13v1m0 5v1m0 122v1m0 28v1m0 42v1m0 13v1"/><path class="n" d="M0 2v2m0 3v1m0 9v1m0 2v1m0 12v1m0 2v1m0 1v1m0 6v1m0 1v1m0 3v1m0 11v2m0 2v1m0 8v2m0 5v2m0 4v2m0 5v1m0 11v1m0 11v1m0 1v1m0 28v2m0 8v2m0 16v1m0 11v1m0 34v1m0 6v1m0 9v1m0 5v1m0 10v1m0 1v1m0 5v1m0 8v1m0 1v2m0 2v1m0 5v1m0 1v1m0 11v2m0 2v1m0 14v1m0 16v1m0 1v1m0 8v2m0 22v1m0 5v2m0 14v2"/><path class="o" d="M0 40v1m0 58v1m0 74v1m0 23v1m0 31v1m0 85v1"/><path class="p" d="M0 68v1m0 12v1m0 28v1m0 5v1m0 158v1m0 23v1m0 73v1m0 24v1"/><path class="q" d="M0 10v1m0 14v1m0 31v1m0 44v1m0 67v1m0 16v1m0 68v1m0 28v1m0 45v1"/><path class="r" d="M0 60v1m0 18v1m0 86v1m0 5v1m0 38v1m0 5v1m0 3v1m0 10v1m0 5v1m0 12v1m0 14v1m0 41v1m0 31v1m0 16v1m0 11v1m0 18v1"/><path class="s" d="M0 15v1m0 10v1m0 16v1m0 25v1m0 30v1m0 70v1m0 129v1m0 15v1m0 83v1"/><path class="t" d="M0 11v1m0 19v1m0 41v1m0 6v1m0 28v1m0 5v1m0 131v1m0 52v1m0 69v1m0 7v1m0 20v1"/><path class="u" d="M0 13v2m0 98v1m0 14v2m0 12v1m0 42v1m0 173v1"/><path class="v" d="M0 44v1m0 9v1m0 30v2m0 27v1m0 71v1m0 27v1m0 12v1m0 43v2m0 29v1m0 11v1m0 14v1m0 13v2"/><path class="w" d="M0 0v1m0 21v1m0 16v1m0 6v1m0 1v1m0 3v2m0 63v1m0 6v1m0 20v1m0 3v1m0 44v1m0 5v1m0 51v1m0 11v1m0 5v1m0 5v1m0 13v1m0 32v1m0 55v1"/><path class="x" d="M0 82v1m0 12v1m0 36v1m0 35v1m0 6v1m0 13v1m0 50v1m0 41v1m0 15v1m0 12v1m0 35v1m0 8v1"/></g>
<g id="q3"><path class="a" d="M0 4v1m0 3v1m0 9v1m0 22v2m0 36v1m0 12v1m0 2v1m0 1v1m0 14v1m0 10v1m0 21v1m0 9v1m0 2v1m0 5v1m0 7v1m0 6v1m0 6v1m0 31v1m0 9v1m0 8v1m0 44v1m0 16v1m0 8v1m0 11v2m0 20v1m0 20v1m0 14v1m0 9v1m0 1v1m0 3v1m0 1v1"/><path class="b" d="M0 43v1m0 13v1m0 29v1m0 42v1m0 56v1m0 10v1m0 3v1m0 10v1m0 13v1m0 31v1m0 11v1m0 41v1m0 31v1"/><path class="c" d="M0 0v1m0 1v1m0 98v1m0 86v1m0 8v1m0 28v1m0 17v1m0 16v1m0 8v1m0 4v1m0 14v1m0 37v1m0 40v1"/><path class="d" d="M0 25v1m0 18v1m0 8v1m0 5v1m0 22v1m0 5v1m0 95v1m0 18v1m0 98v1m0 14v1m0 28v1m0 38v1"/><path class="e" d="M0 3v1m0 20v1m0 4v1m0 33v1m0 2v1m0 24v1m0 13v2m0 7v1m0 7v1m0 33v2m0 49v1m0 22v1m0 14v1m0 38v1m0 6v1m0 83v1"/><path class="f" d="M0 39v1m0 28v1m0 261v1m0 25v1"/><path class="g" d="M0 16v1m0 5v1m0 28v1m0 32v1m0 14v1m0 24v1m0 24v1m0 59v1m0 23v1m0 22v1m0 5v1m0 32v1m0 23v1m0 29v1m0 1v1m0 25v1m0 2v1m0 2v1m0 13v1"/><path class="h" d="M0 72v1m0 2v1m0 42v1m0 13v1m0 42v1m0 67v1m0 7v1m0 5v1m0 6v1m0 31v1m0 15v1m0 25v1m0 33v1"/><path class="i" d="M0 1v1m0 52v1m0 16v1m0 11v1m0 16v1m0 26v1m0 173v1m0 98v1"/><path class="j" d="M0 23v1m0 11v2m0 67v1m0 8v1m0 49v1m0 1v1m0 12v1m0 2v1m0 11v1m0 6v1m0 9v1m0 3v1m0 9v1m0 28v1m0 14v1m0 29v1m0 5v1m0 55v1m0 1v1m0 2v2"/><path class="k" d="M0 32v1m0 13v1m0 18v1m0 11v1m0 16v1m0 24v1m0 16v1m0 10v1m0 48v1m0 9v1m0 1v1m0 2v1m0 7v1m0 3v1m0 8v1m0 16v1m0 2v1m0 10v1m0 12v1m0 4v1m0 52v1m0 15v1m0 17v1m0 23v1"/><path class="l" d="M0 5v1m0 54v1m0 9v1m0 49v1m0 18v1m0 42v1m0 39v1m0 15v2m0 27v1m0 24v1m0 74v1"/><path class="m" d="M0 47v1m0 13v1m0 18v1m0 57v1m0 14v1m0 8v1m0 13v1m0 134v1m0 27v1m0 13v1m0 51v1"/><path class="n" d="M0 6v1m0 4v2m0 6v1m0 1v1m0 15v1m0 2v1m0 7v1m0 3v1m0 9v1m0 1v1m0 11v1m0 16v1m0 41v1m0 23v2m0 5v2m0 5v1m0 6v1m0 13v1m0 9v1m0 15v2m0 13v1m0 12v1m0 16v1m0 12v1m0 30v2m0 12v1m0 11v1m0 1v1m0 3v1m0 1v1m0 3v1m0 16v1m0 14v1m0 1v1m0 2v1m0 4v1m0 5v1"/><path class="o" d="M0 15v1m0 12v1m0 140v1m0 189v1m0 27v1"/><path class="p" d="M0 9v1m0 28v1m0 28v1m0 5v1m0 28v1m0 13v1m0 9v1m0 13v1m0 48v1m0 11v1m0 23v1m0 14v1m0 6v1m0 7v1m0 13v1m0 57v1"/><path class="q" d="M0 141v1m0 70v1m0 60v1m0 41v2m0 38v1"/><path class="r" d="M0 17v1m0 13v1m0 23v1m0 22v1m0 24v1m0 4v1m0 132v1m0 4v1m0 53v1m0 73v1m0 26v1"/><path class="s" d="M0 45v1m0 108v1m0 60v1m0 186v1m0 1v1"/><path class="t" d="M0 7v1m0 2v1m0 39v1m0 64v1m0 5v1m0 11v2m0 2v1m0 13v2m0 78v1m0 4v1m0 29v1m0 57v1m0 11v1m0 24v1"/><path class="u" d="M0 13v1m0 115v1m0 13v1m0 27v1m0 13v1m0 72v1m0 26v1m0 1v1m0 26v1m0 14v1m0 27v1"/><path class="v" d="M0 69v1m0 15v1m0 12v1m0 117v1m0 25v1m0 29v1m0 58v1m0 39v1m0 1v1m0 29v1"/><path class="w" d="M0 34v1m0 14v1m0 6v1m0 17v1m0 11v1m0 3v1m0 5v1m0 10v1m0 3v1m0 32v1m0 1v1m0 3v1m0 17v1m0 5v1m0 2v1m0 21v1m0 5v1m0 11v1m0 11v1m0 4v1m0 15v1m0 28v1m0 3v1m0 4v1m0 4v2m0 2v1m0 5v1m0 1v3m0 24v2m0 10v1m0 3v1m0 3v1m0 23v1m0 5v1m0 8v1m0 1v1"/><path class="x" d="M0 30v1m0 50v1m0 7v1m0 20v1m0 6v1m0 7v1m0 35v1m0 21v1m0 6v1m0 63v1m0 34v1m0 28v1m0 7v1m0 13v1m0 29v1"/></g>
<g id="q4"><path class="a" d="M0 5v1m0 2v1m0 36v1m0 29v1m0 1v1m0 11v2m0 7v1m0 17v1m0 6v1m0 10v1m0 2v1m0 16v1m0 11v1m0 7v2m0 14v1m0 5v2m0 13v2m0 13v1m0 51v1m0 4v2m0 3v1m0 14v1m0 5v1m0 13v1m0 10v2m0 4v1m0 10v1m0 13v2m0 6v1m0 7v1m0 1v1m0 7v1m0 13v1"/><path class="b" d="M0 55v1m0 84v1m0 45v1m0 87v1m0 38v1m0 28v1m0 17v1m0 39v1"/><path class="c" d="M0 24v1m0 215v1m0 49v1m0 21v1m0 14v1"/><path class="d" d="M0 87v1m0 38v1m0 46v1m0 13v1m0 25v1m0 45v1m0 15v1m0 65v1m0 43v1m0 13v1"/><path class="e" d="M0 10v1m0 1v1m0 17v1m0 42v1m0 10v1m0 77v1m0 47v1m0 28v1m0 26v1m0 48v1m0 2v1m0 36v1m0 15v1m0 16v1m0 4v1m0 2v1m0 5v1"/><path class="f" d="M0 110v1m0 59v1m0 56v1m0 14v1m0 129v1m0 16v1"/><path class="g" d="M0 4v1m0 6v1m0 2v1m0 6v1m0 9v1m0 19v1m0 53v1m0 1v1m0 5v1m0 35v1m0 1v1m0 27v1m0 20v1m0 1v1m0 6v1m0 57v1m0 18v1m0 19v1m0 14v1m0 31v1m0 14v1"/><path class="h" d="M0 7v1m0 83v1m0 46v1m0 52v1m0 16v1m0 21v1m0 6v1m0 87v2m0 23v1m0 31v1"/><path class="i" d="M0 114v1m0 13v1m0 13v1m0 13v2m0 14v1m0 155v1m0 58v1"/><path class="j" d="M0 3v1m0 56v1m0 3v1m0 18v1m0 35v1m0 13v1m0 26v1m0 27v2m0 3v1m0 31v1m0 23v2m0 12v1m0 21v1m0 5v1m0 22v1m0 1v2m0 13v2m0 13v1m0 9v1m0 19v1m0 27v1"/><path class="k" d="M0 33v1m0 2v1m0 2v1m0 8v1m0 1v1m0 14v1m0 15v1m0 13v1m0 86v1m0 35v1m0 1v1m0 14v1m0 2v1m0 8v1m0 5v1m0 8v1m0 14v1m0 17v1m0 42v1m0 10v1m0 2v1m0 1v1m0 22v1m0 1v1"/><path class="l" d="M0 19v1m0 101v1m0 31v1m0 24v1m0 20v1m0 1v1m0 20v1m0 5v1m0 7v1m0 11v1m0 8v1m0 36v1m0 10v1m0 14v1m0 3v1m0 12v1m0 9v1"/><path class="m" d="M0 2v1m0 14v1m0 5v1m0 14v1m0 8v1m0 84v1m0 13v1m0 5v1m0 52v1m0 91v1"/><path class="n" d="M0 18v1m0 1v1m0 1v1m0 26v1m0 11v1m0 4v1m0 3v3m0 3v1m0 1v1m0 9v1m0 12v1m0 2v1m0 1v1m0 1v1m0 2v1m0 5v2m0 17v1m0 7v1m0 2v2m0 14v1m0 12v2m0 16v1m0 12v1m0 13v1m0 1v2m0 7v1m0 1v1m0 8v3m0 5v1m0 2v2m0 4v2m0 3v1m0 4v1m0 9v1m0 12v1m0 5v1m0 4v1m0 2v1m0 28v1m0 20v1m0 9v1m0 12v1m0 3v1m0 7v1m0 1v2m0 2v1m0 2v1"/><path class="o" d="M0 43v1m0 13v1m0 27v1m0 29v1m0 39v1m0 3v1m0 169v1"/><path class="p" d="M0 15v1m0 37v1m0 5v1m0 52v1m0 11v1m0 4v1m0 41v1m0 31v1m0 144v1m0 26v1m0 14v1m0 12v1"/><path class="q" d="M0 0v1m0 53v1m0 114v1m0 59v1m0 11v1m0 16v1m0 13v1m0 71v1"/><path class="r" d="M0 13v1m0 21v1m0 22v1m0 10v1m0 9v1m0 40v1m0 1v1m0 57v1m0 38v1m0 59v1m0 12v1m0 3v1m0 72v1"/><path class="s" d="M0 16v1m0 23v1m0 41v1m0 100v1m0 33v1m0 80v1"/><path class="t" d="M0 9v1m0 27v1m0 14v1m0 15v1m0 23v1m0 3v1m0 64v1m0 44v1m0 39v1m0 29v1m0 34v1m0 21v1m0 30v1m0 9v1"/><path class="u" d="M0 28v1m0 12v1m0 14v1m0 42v2m0 42v1m0 70v1m0 56v1m0 28v2m0 28v1m0 12v1m0 14v2"/><path class="v" d="M0 141v1m0 56v1m0 32v1m0 24v1m0 16v1m0 13v1m0 57v1"/><path class="w" d="M0 29v1m0 2v1m0 1v1m0 9v1m0 17v1m0 4v1m0 6v1m0 5v1m0 16v1m0 4v2m0 5v1m0 20v1m0 34v1m0 18v2m0 9v1m0 19v2m0 16v1m0 30v1m0 37v1m0 7v1m0 8v1m0 19v1m0 23v1m0 14v1"/><path class="x" d="M0 46v1m0 78v1m0 5v1m0 13v1m0 58v1m0 64v1m0 12v1m0 6v1m0 80v1m0 26v1"/></g>
<g id="q5"><path class="a" d="M0 12v1m0 7v2m0 19v1m0 4v1m0 1v1m0 36v2m0 8v2m0 3v1m0 11v1m0 16v1m0 1v1m0 3v1m0 2v1m0 6v2m0 2v1m0 14v1m0 16v1m0 29v1m0 15v1m0 7v2m0 12v2m0 16v1m0 3v1m0 16v1m0 10v1m0 7v1m0 8v1m0 12v2m0 5v1m0 5v1m0 1v1m0 4v1m0 5v1m0 18v1m0 5v1m0 1v1m0 1v2m0 1v1m0 4v1m0 1v1"/><path class="b" d="M0 15v1m0 12v1m0 112v1m0 57v1m0 44v1m0 11v1m0 57v1m0 2v1m0 10v1m0 16v1m0 25v1m0 3v1m0 12v1"/><path class="c" d="M0 16v1m0 287v1m0 65v1"/><path class="d" d="M0 29v1m0 143v1m0 24v1m0 4v1m0 13v1m0 13v1m0 13v1m0 9v1m0 3v1m0 53v1m0 32v1m0 42v1"/><path class="e" d="M0 0v1m0 10v1m0 10v1m0 28v1m0 30v1m0 33v1m0 2v1m0 24v1m0 22v1m0 1v1m0 15v1m0 53v1m0 30v1m0 8v1m0 54v1m0 34v1m0 27v1m0 3v1"/><path class="f" d="M0 39v1m0 14v1m0 28v1m0 27v1m0 31v1m0 16v1m0 40v1m0 72v1m0 23v1m0 73v1m0 30v1"/><path class="g" d="M0 53v1m0 9v1m0 3v1m0 53v2m0 10v1m0 61v1m0 18v1m0 22v1m0 10v1m0 14v2m0 102v1m0 30v1"/><path class="h" d="M0 47v1m0 10v1m0 19v2m0 1v1m0 55v1m0 2v1m0 39v1m0 11v1m0 30v1m0 5v1m0 32v1m0 2v1m0 60v1m0 12v1m0 13v2m0 7v2"/><path class="i" d="M0 215v1m0 86v1"/><path class="j" d="M0 43v1m0 61v1m0 24v1m0 32v1m0 19v1m0 6v2m0 12v1m0 19v1m0 13v1m0 12v1m0 31v2m0 4v1m0 11v1m0 4v1m0 5v1m0 11v1m0 22v1m0 4v1m0 46v1"/><path class="k" d="M0 8v1m0 9v1m0 14v1m0 31v1m0 10v1m0 3v1m0 9v1m0 3v1m0 8v1m0 16v1m0 2v1m0 27v1m0 2v1m0 21v1m0 17v1m0 11v1m0 1v1m0 11v1m0 13v1m0 17v1m0 43v1m0 8v1m0 3v1m0 25v1m0 12v1m0 1v1m0 42v1m0 1v1"/><path class="l" d="M0 1v1m0 3v1m0 4v1m0 55v1m0 43v1m0 7v1m0 91v1m0 8v1m0 2v1m0 46v1m0 10v3m0 14v1m0 80v1m0 17v1"/><path class="m" d="M0 3v1m0 28v1m0 12v1m0 15v1m0 47v1m0 14v1m0 28v1m0 123v1m0 42v1m0 12v1m0 43v1"/><path class="n" d="M0 14v1m0 15v1m0 9v1m0 8v1m0 5v1m0 6v1m0 1v1m0 9v1m0 12v1m0 3v3m0 3v3m0 1v1m0 4v1m0 6v3m0 16v1m0 9v1m0 4v2m0 3v1m0 6v1m0 5v2m0 11v1m0 21v1m0 6v1m0 4v1m0 20v1m0 12v1m0 7v1m0 2v1m0 2v2m0 16v1m0 14v3m0 19v1m0 15v1m0 8v2m0 9v1m0 4v1m0 7v2m0 2v1m0 10v1m0 3v1m0 2v1m0 3v1"/><path class="o" d="M0 72v1m0 54v1m0 157v1m0 32v1"/><path class="p" d="M0 9v1m0 42v1m0 20v1m0 65v1m0 21v1m0 13v1m0 8v1m0 90v1m0 49v1m0 34v1m0 43v1"/><path class="q" d="M0 2v1m0 56v1m0 127v2m0 13v1m0 27v1"/><path class="r" d="M0 4v1m0 2v1m0 26v1m0 15v1m0 24v1m0 26v1m0 4v1m0 26v1m0 35v1m0 11v1m0 58v1m0 1v1m0 9v1m0 14v1m0 90v1"/><path class="s" d="M0 26v1m0 128v1m0 30v1"/><path class="t" d="M0 24v2m0 12v1m0 29v1m0 20v1m0 46v1m0 13v1m0 11v1m0 11v1m0 2v1m0 1v1m0 9v1m0 57v1m0 73v3m0 13v1m0 43v1m0 9v1"/><path class="u" d="M0 56v1m0 13v1m0 57v1m0 42v1m0 56v1m0 29v1m0 27v1m0 70v2"/><path class="v" d="M0 157v2m0 54v1m0 28v1m0 29v2m0 99v1"/><path class="w" d="M0 6v1m0 6v1m0 3v1m0 5v1m0 3v1m0 8v2m0 4v1m0 26v1m0 14v1m0 23v1m0 47v1m0 39v2m0 7v1m0 3v1m0 22v1m0 33v1m0 20v1m0 12v1m0 9v1m0 27v1m0 4v1m0 17v1m0 4v1m0 33v1m0 1v1m0 2v1"/><path class="x" d="M0 31v1m0 12v1m0 43v1m0 28v1m0 8v1m0 41v1m0 49v1m0 7v1m0 13v1m0 35v1m0 13v1m0 20v1m0 7v1m0 12v1"/></g>
<g id="q6"><path class="a" d="M0 48v1m0 19v1m0 3v1m0 2v2m0 1v1m0 9v1m0 7v1m0 48v1m0 17v1m0 19v2m0 9v1m0 23v1m0 45v1m0 2v1m0 9v1m0 1v1m0 11v1m0 32v1m0 28v1m0 2v1m0 4v2m0 9v1m0 8v2m0 9v1m0 5v1"/><path class="b" d="M0 11v1m0 2v1m0 13v1m0 185v1m0 12v1m0 147v1"/><path class="c" d="M0 29v1m0 238v1"/><path class="d" d="M0 25v1m0 32v1m0 10v1m0 32v1m0 12v1m0 96v1m0 13v1m0 33v1m0 129v1"/><path class="e" d="M0 24v1m0 8v1m0 3v2m0 88v1m0 4v1m0 5v1m0 2v1m0 44v1m0 16v1m0 5v1m0 5v1m0 17v1m0 4v1m0 81v1m0 5v2m0 2v1m0 8v1m0 20v1m0 19v1m0 4v1m0 2v1m0 2v1m0 10v1m0 2v1"/><path class="f" d="M0 83v1m0 16v1m0 197v1m0 1v1m0 1v1m0 43v1m0 8v1"/><path class="g" d="M0 20v1m0 42v1m0 3v1m0 68v1m0 43v1m0 23v1m0 24v2m0 19v1m0 70v1m0 32v1m0 3v1"/><path class="h" d="M0 6v1m0 16v1m0 6v1m0 29v1m0 32v1m0 39v1m0 6v1m0 6v1m0 5v1m0 27v1m0 6v1m0 30v1m0 60v1m0 6v1m0 21v1m0 87v1"/><path class="i" d="M0 187v1m0 28v1m0 172v1"/><path class="j" d="M0 0v1m0 1v1m0 2v1m0 36v1m0 1v1m0 5v1m0 13v1m0 9v1m0 5v1m0 27v1m0 4v1m0 10v1m0 1v1m0 7v1m0 2v1m0 12v1m0 11v1m0 27v1m0 6v2m0 3v1m0 3v1m0 29v1m0 3v1m0 3v1m0 10v1m0 15v1m0 29v1m0 5v1m0 3v1m0 28v1m0 43v1m0 9v1"/><path class="k" d="M0 7v1m0 23v1m0 4v1m0 9v1m0 18v1m0 24v1m0 14v1m0 17v1m0 15v1m0 11v1m0 24v1m0 31v1m0 42v1m0 29v1m0 1v1m0 13v1m0 12v1m0 8v1m0 15v1m0 30v1m0 11v1m0 14v1"/><path class="l" d="M0 3v1m0 31v1m0 43v1m0 2v1m0 82v1m0 29v1m0 26v1m0 9v1m0 2v1m0 27v1m0 2v1m0 15v1m0 87v1"/><path class="m" d="M0 8v1m0 52v1m0 69v1m0 29v1m0 85v1m0 14v1m0 27v1m0 42v1"/><path class="n" d="M0 4v1m0 12v2m0 2v2m0 17v1m0 8v1m0 23v1m0 30v1m0 17v1m0 2v1m0 9v1m0 10v1m0 1v1m0 6v2m0 7v1m0 9v1m0 2v1m0 7v1m0 6v1m0 3v1m0 23v1m0 4v1m0 11v1m0 10v1m0 3v1m0 25v1m0 14v2m0 9v3m0 5v3m0 2v1m0 4v2m0 1v1m0 10v3m0 10v1m0 1v1m0 11v2m0 2v1m0 15v1m0 2v2m0 7v2"/><path class="o" d="M0 15v1m0 81v1m0 31v1m0 40v1m0 46v1m0 55v1m0 54v1"/><path class="p" d="M0 53v1m0 27v1m0 5v1m0 23v1m0 163v1m0 27v1m0 27v1m0 71v1"/><path class="q" d="M0 98v1m0 2v1m0 129v1m0 10v1m0 15v1m0 88v1"/><path class="r" d="M0 55v1m0 10v1m0 19v1m0 2v1m0 4v1m0 57v1m0 13v1m0 38v1m0 17v1m0 15v1m0 117v1m0 1v1m0 11v1m0 28v2"/><path class="s" d="M0 112v1m0 17v1m0 143v1m0 9v1m0 33v1m0 24v1"/><path class="t" d="M0 45v1m0 8v1m0 7v1m0 43v1m0 2v1m0 39v1m0 39v1m0 1v1m0 32v1m0 16v1m0 7v1m0 26v1m0 15v1m0 41v1m0 6v1m0 6v1m0 1v1m0 18v1"/><path class="u" d="M0 12v2m0 13v1m0 28v1m0 14v1m0 12v2m0 28v1m0 13v1m0 28v2m0 12v1m0 27v2m0 42v1m0 28v1m0 12v1m0 43v1m0 14v2"/><path class="v" d="M0 99v1m0 42v2m0 84v1m0 28v1m0 30v1m0 10v1m0 15v2m0 25v1m0 30v2"/><path class="w" d="M0 1v1m0 14v1m0 2v1m0 21v1m0 1v1m0 3v1m0 3v1m0 7v1m0 17v1m0 25v1m0 6v1m0 5v1m0 27v1m0 14v1m0 9v1m0 2v2m0 1v1m0 2v2m0 13v1m0 7v1m0 5v1m0 2v1m0 23v1m0 10v1m0 7v2m0 1v1m0 13v1m0 37v1m0 43v1m0 15v1m0 8v1m0 21v1m0 4v1"/><path class="x" d="M0 39v1m0 12v1m0 42v1m0 21v1m0 36v1m0 5v1m0 7v1m0 13v1m0 28v1m0 34v1m0 14v1m0 7v1m0 19v1m0 42v1"/></g>
<g id="q7"><path class="a" d="M0 20v1m0 7v1m0 7v1m0 13v1m0 10v1m0 3v1m0 8v1m0 3v1m0 12v1m0 28v1m0 6v1m0 8v1m0 11v1m0 4v1m0 10v1m0 13v1m0 4v1m0 14v1m0 4v1m0 4v1m0 10v1m0 8v1m0 8v1m0 48v1m0 41v1m0 17v1m0 1v1m0 3v1m0 16v1m0 8v1m0 10v1m0 11v1"/><path class="b" d="M0 58v1m0 56v1m0 13v1m0 25v1m0 71v1m0 45v1m0 82v1m0 29v1"/><path class="c" d="M0 25v1m0 117v1m0 111v1"/><path class="d" d="M0 117v1m0 12v1m0 56v1m0 28v1m0 9v1m0 14v1m0 18v1m0 13v1m0 38v1m0 3v1m0 43v1"/><path class="e" d="M0 33v1m0 22v2m0 15v1m0 20v1m0 12v1m0 17v1m0 20v1m0 9v1m0 14v1m0 4v1m0 24v2m0 31v1m0 9v1m0 31v1m0 6v2m0 2v1m0 5v1m0 17v1m0 15v1m0 13v1m0 15v1m0 13v1m0 1v1m0 23v1"/><path class="f" d="M0 13v1m0 15v1m0 25v1m0 30v1m0 53v1m0 1v1m0 54v1m0 33v1m0 43v1m0 36v1m0 61v1"/><path class="g" d="M0 102v1m0 63v1m0 3v1m0 8v1m0 34v1m0 100v1m0 20v1m0 47v1m0 9v2"/><path class="h" d="M0 88v1m0 58v1m0 72v1m0 45v1m0 15v1m0 12v1m0 30v1m0 10v1m0 43v1m0 3v1"/><path class="i" d="M0 157v1m0 57v1m0 26v1m0 71v1m0 43v3"/><path class="j" d="M0 14v1m0 3v1m0 13v1m0 11v1m0 4v1m0 29v1m0 55v1m0 23v2m0 6v1m0 9v1m0 2v1m0 37v1m0 19v1m0 8v1m0 4v1m0 1v1m0 7v1m0 28v1m0 8v1m0 9v1m0 11v1m0 7v1m0 36v1m0 22v1m0 9v1"/><path class="k" d="M0 22v1m0 14v1m0 26v1m0 3v1m0 11v1m0 8v1m0 13v1m0 1v1m0 3v1m0 9v1m0 13v1m0 29v1m0 17v1m0 9v1m0 18v1m0 24v1m0 12v1m0 28v1m0 43v1m0 31v1m0 25v1m0 3v1"/><path class="l" d="M0 12v1m0 8v1m0 59v1m0 11v1m0 16v1m0 12v2m0 12v1m0 67v1m0 7v1m0 64v1m0 23v1m0 3v1m0 35v1m0 22v1"/><path class="m" d="M0 38v1m0 28v1m0 22v1m0 13v1m0 104v1m0 23v1m0 5v1m0 27v1m0 28v1m0 1v1m0 26v1m0 28v1m0 27v1m0 22v1"/><path class="n" d="M0 1v1m0 2v2m0 1v1m0 11v1m0 20v2m0 9v1m0 14v1m0 9v1m0 20v2m0 9v1m0 9v1m0 2v2m0 3v1m0 1v1m0 20v3m0 9v2m0 9v2m0 10v1m0 3v3m0 30v1m0 2v2m0 10v1m0 13v1m0 12v1m0 7v1m0 7v2m0 8v1m0 2v1m0 1v1m0 12v2m0 9v1m0 16v1m0 9v1m0 3v2m0 11v3m0 1v1m0 9v2m0 24v2"/><path class="o" d="M0 10v1m0 48v1m0 51v1m0 42v1m0 3v1m0 52v1m0 186v1"/><path class="p" d="M0 16v1m0 7v1m0 5v1m0 21v1m0 79v1m0 6v1m0 29v1m0 118v1m0 86v1"/><path class="q" d="M0 11v1m0 71v1m0 16v2m0 11v1m0 72v1m0 25v1m0 19v1m0 25v2m0 43v1m0 12v1m0 15v1"/><path class="r" d="M0 15v1m0 54v3m0 4v1m0 14v1m0 51v1m0 20v1m0 29v2m0 3v1m0 22v1m0 19v1m0 5v1m0 1v1m0 9v1m0 2v1m0 36v1m0 18v1m0 3v1m0 18v1m0 24v1m0 3v1m0 7v1m0 15v1"/><path class="s" d="M0 69v1m0 14v1m0 214v1"/><path class="t" d="M0 53v1m0 33v1m0 18v1m0 24v1m0 13v1m0 61v1m0 73v1m0 27v1m0 13v1m0 7v1"/><path class="u" d="M0 27v1m0 14v2m0 185v2"/><path class="v" d="M0 54v1m0 44v1m0 14v1m0 70v1m0 13v1m0 187v2"/><path class="w" d="M0 0v1m0 22v1m0 21v1m0 14v1m0 1v2m0 21v1m0 52v1m0 2v1m0 10v1m0 29v1m0 9v1m0 1v1m0 9v1m0 1v1m0 46v1m0 15v2m0 1v1m0 12v1m0 33v1m0 9v1m0 8v1m0 5v1m0 2v1m0 3v1m0 18v1m0 21v2"/><path class="x" d="M0 2v1m0 6v1m0 7v1m0 13v1m0 7v1m0 6v1m0 28v1m0 20v1m0 71v1m0 5v1m0 42v1m0 22v1m0 4v1m0 22v1m0 21v1m0 6v1m0 42v1m0 50v1m0 7v1m0 4v1"/></g>
<g id="q8"><path class="a" d="M0 5v1m0 2v1m0 2v1m0 18v1m0 13v1m0 14v1m0 1v1m0 38v1m0 4v2m0 12v1m0 28v1m0 2v1m0 9v2m0 1v1m0 9v1m0 20v1m0 8v1m0 6v1m0 19v1m0 1v1m0 21v2m0 7v1m0 2v1m0 10v2m0 1v1m0 6v1m0 30v2m0 13v1m0 14v2m0 4v2m0 8v1m0 21v1m0 4v1m0 2v1m0 1v1m0 2v1"/><path class="b" d="M0 26v1m0 1v1m0 55v1m0 30v1m0 28v1m0 13v1m0 100v1m0 13v1m0 101v1m0 9v1m0 13v1"/><path class="c" d="M0 15v1m0 9v1m0 115v1m0 46v1m0 36v1"/><path class="d" d="M0 58v1m0 29v1m0 171v1m0 14v1m0 122v1"/><path class="e" d="M0 4v1m0 4v1m0 31v1m0 25v1m0 49v1m0 3v1m0 72v1m0 25v1m0 19v1m0 8v1m0 7v1m0 4v1m0 3v1m0 16v1m0 27v1m0 2v1m0 9v1m0 6v1m0 12v2m0 16v2m0 27v1"/><path class="f" d="M0 70v1m0 288v1m0 43v1"/><path class="g" d="M0 33v1m0 16v1m0 15v1m0 7v2m0 64v1m0 9v1m0 54v1m0 74v1m0 15v1m0 13v1m0 40v1"/><path class="h" d="M0 62v1m0 2v1m0 13v1m0 1v1m0 9v1m0 1v2m0 9v1m0 41v1m0 25v1m0 25v1m0 24v1m0 17v1m0 55v1m0 50v1m0 3v1m0 8v1"/><path class="i" d="M0 57v1m0 70v1m0 42v1m0 43v1m0 27v1m0 71v1"/><path class="j" d="M0 12v2m0 6v1m0 10v1m0 13v1m0 31v1m0 8v1m0 10v3m0 56v1m0 55v1m0 26v1m0 12v1m0 19v1m0 3v1m0 5v1m0 16v1m0 4v1m0 3v1m0 19v1m0 8v1m0 15v1m0 10v1m0 40v1"/><path class="k" d="M0 7v1m0 13v1m0 15v1m0 52v1m0 16v1m0 15v1m0 12v1m0 2v1m0 9v1m0 13v1m0 3v1m0 11v1m0 9v1m0 18v1m0 29v1m0 38v1m0 13v1m0 3v1m0 10v1m0 76v1m0 12v1"/><path class="l" d="M0 48v1m0 40v1m0 13v1m0 6v1m0 66v1m0 14v1m0 4v1m0 2v1m0 5v1m0 30v1m0 4v1m0 4v1m0 57v1m0 1v1m0 17v1m0 47v1m0 5v1"/><path class="m" d="M0 18v1m0 4v1m0 28v1m0 27v1m0 57v1m0 8v1m0 4v1m0 7v1m0 5v1m0 16v1m0 6v1m0 5v1m0 72v1m0 20v1m0 78v1m0 7v1"/><path class="n" d="M0 2v2m0 18v1m0 9v1m0 13v1m0 13v1m0 15v1m0 1v1m0 22v1m0 18v1m0 3v1m0 1v1m0 3v3m0 1v2m0 1v1m0 19v1m0 7v1m0 3v1m0 5v2m0 3v1m0 1v1m0 2v1m0 5v1m0 1v1m0 13v1m0 2v1m0 7v1m0 13v1m0 1v1m0 15v2m0 1v2m0 10v1m0 19v2m0 6v1m0 15v1m0 11v1m0 1v1m0 9v1m0 1v2m0 5v2m0 27v1m0 6v1m0 1v1m0 7v2m0 3v2"/><path class="o" d="M0 29v1m0 38v1m0 3v1m0 10v1m0 32v1m0 28v1m0 70v1m0 13v1m0 69v1m0 2v1m0 14v1m0 65v1"/><path class="p" d="M0 40v1m0 13v1m0 99v1m0 15v1m0 77v1m0 155v1"/><path class="q" d="M0 69v1m0 72v1m0 56v1"/><path class="r" d="M0 0v1m0 35v1m0 2v1m0 16v1m0 55v1m0 42v1m0 12v1m0 32v1m0 1v1m0 31v1m0 22v1m0 25v1m0 53v1m0 29v1m0 21v1"/><path class="s" d="M0 14v1m0 98v1m0 70v1m0 43v1m0 41v1m0 42v1m0 33v1"/><path class="t" d="M0 19v1m0 18v1m0 8v1m0 7v1m0 7v1m0 9v1m0 18v1m0 2v1m0 6v1m0 6v1m0 8v1m0 3v1m0 10v1m0 80v1m0 9v1m0 36v1m0 6v1m0 43v1m0 27v1m0 19v1"/><path class="u" d="M0 71v1m0 55v1m0 58v1m0 42v1m0 99v2m0 70v2"/><path class="v" d="M0 129v1m0 13v1m0 29v1m0 39v1m0 13v1m0 129v2m0 13v1m0 1v1"/><path class="w" d="M0 1v1m0 8v1m0 16v1m0 7v1m0 6v2m0 7v1m0 12v1m0 20v1m0 22v1m0 2v1m0 2v1m0 10v1m0 55v1m0 27v1m0 7v1m0 1v1m0 1v1m0 41v1m0 7v1m0 15v1m0 44v1m0 6v1m0 1v1m0 4v1m0 20v1m0 13v2m0 3v1"/><path class="x" d="M0 16v1m0 7v1m0 28v1m0 28v1m0 4v1m0 8v1m0 56v1m0 48v1m0 23v1m0 62v1m0 8v1m0 28v1m0 26v1m0 15v1"/></g>
<g id="q9"><path class="a" d="M0 16v2m0 8v1m0 7v1m0 9v2m0 2v1m0 1v1m0 17v1m0 4v1m0 4v1m0 11v1m0 13v1m0 1v1m0 17v1m0 1v1m0 28v1m0 10v1m0 8v1m0 13v1m0 1v1m0 10v1m0 4v1m0 5v1m0 5v1m0 1v1m0 17v1m0 8v1m0 7v1m0 13v1m0 7v1m0 54v1m0 16v1m0 6v1m0 8v1m0 14v1m0 2v2m0 14v2m0 2v1"/><path class="b" d="M0 25v1m0 61v1m0 82v1m0 129v1m0 74v1"/><path class="c" d="M0 88v1m0 196v1m0 17v1"/><path class="d" d="M0 82v1m0 18v1m0 67v1m0 18v1m0 28v1m0 81v1m0 18v1m0 55v1m0 15v1"/><path class="e" d="M0 41v1m0 10v1m0 33v1m0 69v2m0 46v1m0 37v1m0 14v1m0 1v1m0 9v1m0 52v1m0 14v1m0 20v2m0 10v1m0 17v1"/><path class="f" d="M0 0v1m0 113v1m0 71v1m0 28v1m0 29v1m0 26v1m0 70v1m0 1v1"/><path class="g" d="M0 30v1m0 4v1m0 62v1m0 42v1m0 22v1m0 81v1m0 11v1m0 9v1m0 39v1m0 16v1m0 16v1"/><path class="h" d="M0 7v1m0 1v1m0 2v1m0 27v1m0 53v1m0 10v1m0 3v1m0 69v1m0 20v1m0 32v1m0 1v2m0 4v1m0 7v1m0 64v1m0 24v1m0 6v1m0 33v1m0 10v1"/><path class="i" d="M0 56v1m0 26v1m0 218v1m0 69v2m0 15v1"/><path class="j" d="M0 28v1m0 89v1m0 4v1m0 1v1m0 16v1m0 18v2m0 11v1m0 6v1m0 38v1m0 7v1m0 59v1m0 2v1m0 5v1m0 30v1m0 5v1m0 1v1m0 3v1m0 12v1m0 6v1m0 2v2m0 3v1m0 17v1"/><path class="k" d="M0 4v1m0 14v1m0 2v1m0 9v1m0 18v1m0 10v1m0 16v1m0 42v1m0 29v1m0 23v1m0 18v1m0 12v1m0 25v1m0 28v1m0 2v1m0 13v1m0 11v1m0 2v1m0 13v1m0 11v1m0 2v1m0 37v1m0 4v1m0 25v1"/><path class="l" d="M0 23v1m0 52v1m0 3v1m0 18v1m0 10v1m0 8v1m0 28v1m0 14v1m0 19v1m0 9v1m0 2v1m0 8v2m0 17v1m0 42v1m0 13v1m0 11v1m0 19v1m0 2v1m0 13v1m0 16v2m0 5v1m0 39v1"/><path class="m" d="M0 3v1m0 4v1m0 51v1m0 56v1m0 92v1m0 50v1m0 43v1m0 5v1m0 14v1m0 50v1m0 14v1"/><path class="n" d="M0 14v2m0 2v1m0 8v1m0 8v1m0 5v1m0 10v2m0 6v1m0 1v1m0 17v1m0 9v2m0 3v1m0 10v1m0 12v1m0 6v3m0 4v1m0 4v1m0 5v3m0 1v1m0 9v1m0 5v1m0 11v1m0 2v1m0 28v1m0 12v2m0 1v2m0 11v1m0 4v2m0 5v1m0 2v1m0 25v1m0 3v1m0 12v1m0 9v2m0 2v1m0 9v1m0 14v1m0 2v1m0 10v1m0 2v1m0 12v1m0 12v2m0 16v1m0 1v2m0 2v2m0 1v1"/><path class="o" d="M0 57v1m0 140v1m0 31v1m0 56v1m0 44v1"/><path class="p" d="M0 31v1m0 7v1m0 15v1m0 10v1m0 22v1m0 7v1m0 5v1m0 36v1m0 12v1m0 28v1m0 64v1m0 6v1m0 29v1m0 70v1"/><path class="q" d="M0 100v1m0 10v1m0 1v1m0 17v1m0 55v1m0 28v1m0 57v1m0 29v1m0 7v1m0 2v1m0 1v1m0 13v1m0 39v1"/><path class="r" d="M0 33v1m0 24v1m0 11v3m0 11v2m0 44v1m0 19v2m0 2v1m0 5v1m0 7v1m0 15v1m0 55v1m0 60v1m0 17v1m0 77v1"/><path class="s" d="M0 10v1m0 56v1m0 48v1m0 55v1m0 12v1m0 87v1"/><path class="t" d="M0 29v1m0 34v2m0 27v1m0 8v1m0 5v1m0 26v1m0 31v1m0 29v1m0 20v1m0 12v2m0 19v1m0 2v1m0 26v1m0 58v1m0 14v1m0 4v1"/><path class="u" d="M0 13v1m0 215v1"/><path class="v" d="M0 1v1m0 9v1m0 57v1m0 103v1m0 27v1m0 69v1m0 57v1m0 14v1"/><path class="w" d="M0 21v1m0 21v1m0 3v1m0 67v1m0 27v2m0 13v1m0 12v1m0 20v1m0 19v1m0 1v1m0 12v1m0 9v1m0 24v1m0 2v1m0 23v1m0 4v1m0 28v1m0 63v1m0 7v1"/><path class="x" d="M0 2v1m0 35v1m0 7v1m0 12v1m0 14v1m0 20v1m0 42v1m0 51v1m0 12v1m0 7v1m0 48v1m0 29v1m0 7v1m0 28v1m0 41v1m0 13v1"/></g>
<g id="q10"><path class="a" d="M0 2v1m0 32v1m0 19v1m0 12v1m0 15v1m0 16v1m0 13v1m0 5v1m0 1v1m0 20v1m0 9v1m0 9v1m0 1v1m0 2v1m0 5v1m0 29v1m0 19v1m0 4v1m0 9v1m0 5v1m0 2v1m0 5v1m0 12v1m0 8v1m0 2v1m0 15v2m0 10v1m0 28v1m0 19v1m0 4v1m0 15v1m0 16v1"/><path class="b" d="M0 25v1m0 2v1m0 57v1m0 25v1m0 3v1m0 127v1m0 29v1m0 10v1m0 31v1m0 10v1m0 30v1m0 15v1"/><path class="c" d="M0 60v1m0 69v1m0 97v1m0 89v1"/><path class="d" d="M0 29v1m0 57v1m0 9v1m0 13v1m0 100v1m0 32v1m0 29v1m0 36v1m0 14v1m0 18v1m0 24v1m0 13v1m0 14v1"/><path class="e" d="M0 7v1m0 23v1m0 57v1m0 2v1m0 2v1m0 52v1m0 13v1m0 11v1m0 29v1m0 11v1m0 71v1m0 12v1m0 38v1m0 15v1m0 7v1m0 1v1m0 38v1"/><path class="f" d="M0 41v1m0 16v1m0 24v1m0 104v1m0 98v1m0 14v1m0 28v1m0 15v1m0 51v1"/><path class="g" d="M0 62v1m0 56v1m0 30v1m0 21v2m0 61v1m0 74v1"/><path class="h" d="M0 5v2m0 8v2m0 3v1m0 19v1m0 8v1m0 11v1m0 10v1m0 85v1m0 8v1m0 11v1m0 38v2m0 22v1m0 17v1m0 2v1m0 15v1m0 2v2m0 6v1m0 34v1"/><path class="i" d="M0 98v1m0 86v1m0 72v1m0 55v1m0 88v1"/><path class="j" d="M0 1v1m0 42v1m0 24v1m0 7v1m0 1v1m0 1v1m0 23v1m0 64v1m0 19v1m0 6v3m0 2v1m0 5v2m0 16v1m0 12v1m0 41v1m0 9v1m0 24v1m0 76v2"/><path class="k" d="M0 4v1m0 17v1m0 9v1m0 3v1m0 9v1m0 44v1m0 42v1m0 2v1m0 23v1m0 1v1m0 16v1m0 10v1m0 31v1m0 10v1m0 2v1m0 57v1m0 13v1m0 9v1m0 3v1m0 24v1m0 1v1m0 1v1m0 15v1m0 27v1"/><path class="l" d="M0 23v1m0 13v1m0 12v2m0 11v1m0 10v1m0 24v1m0 7v1m0 25v1m0 4v1m0 12v1m0 29v1m0 1v1m0 23v1m0 7v1m0 17v1m0 18v1m0 14v1m0 25v1m0 12v1m0 32v1m0 13v1m0 25v2"/><path class="m" d="M0 9v1m0 7v1m0 6v1m0 14v1m0 7v1m0 4v1m0 22v1m0 28v1m0 12v1m0 6v1m0 70v1m0 57v1m0 79v1m0 42v1"/><path class="n" d="M0 11v1m0 6v2m0 7v1m0 6v1m0 8v1m0 10v1m0 1v2m0 9v1m0 10v1m0 1v1m0 12v2m0 27v1m0 16v3m0 3v1m0 19v1m0 2v1m0 7v1m0 1v1m0 15v1m0 25v1m0 1v1m0 1v1m0 6v1m0 15v1m0 2v2m0 13v1m0 3v1m0 8v1m0 7v1m0 5v1m0 1v1m0 9v1m0 6v1m0 10v1m0 11v2m0 5v3m0 19v1m0 13v1m0 12v2m0 5v1"/><path class="o" d="M0 143v1m0 13v1m0 114v1m0 131v1"/><path class="p" d="M0 73v1m0 52v1m0 32v1m0 67v1m0 42v1m0 28v1m0 3v1m0 25v2m0 30v1m0 21v1m0 14v1"/><path class="q" d="M0 59v1m0 71v1m0 50v1m0 3v1m0 2v1m0 24v1m0 46v1m0 70v1m0 12v1m0 14v1m0 11v1"/><path class="r" d="M0 82v1m0 37v1m0 6v1m0 8v1m0 18v1m0 28v1m0 21v1m0 3v1m0 27v1m0 32v1m0 35v1m0 7v1m0 4v1m0 3v1m0 44v1m0 11v2m0 1v1m0 17v1"/><path class="s" d="M0 14v1m0 141v1m0 187v1m0 25v1"/><path class="t" d="M0 8v1m0 36v1m0 19v2m0 9v1m0 11v1m0 17v1m0 1v1m0 51v1m0 10v1m0 128v1m0 48v1m0 1v1m0 40v1"/><path class="u" d="M0 70v1m0 42v2m0 13v1m0 13v1m0 57v2m0 41v1m0 29v1m0 113v1m0 13v1"/><path class="v" d="M0 12v2m0 86v1m0 86v1m0 41v1m0 11v1m0 15v1m0 115v1"/><path class="w" d="M0 0v1m0 2v1m0 22v1m0 6v1m0 8v1m0 5v1m0 36v1m0 4v1m0 44v1m0 41v1m0 25v1m0 32v1m0 11v1m0 7v1m0 9v1m0 31v1m0 6v1m0 15v1m0 14v1m0 1v1m0 19v1m0 15v1m0 13v2"/><path class="x" d="M0 10v1m0 19v1m0 7v1m0 14v1m0 42v1m0 5v1m0 7v1m0 7v1m0 6v1m0 20v1m0 6v1m0 42v1m0 14v1m0 5v1m0 14v1m0 21v1m0 21v1m0 12v1m0 36v1m0 28v1"/></g>
<g id="q11"><path class="a" d="M0 20v1m0 19v1m0 8v1m0 9v1m0 4v1m0 6v2m0 19v1m0 13v2m0 11v1m0 14v1m0 6v2m0 2v1m0 11v2m0 1v1m0 1v1m0 13v1m0 16v1m0 13v1m0 2v1m0 6v1m0 1v1m0 2v1m0 3v1m0 8v1m0 13v1m0 4v1m0 3v2m0 20v2m0 10v1m0 21v1m0 9v1m0 15v1m0 23v1m0 14v1m0 24v1"/><path class="b" d="M0 54v1m0 114v1m0 14v1m0 14v1m0 85v1m0 85v1m0 30v1"/><path class="c" d="M0 24v1m0 72v1m0 105v1m0 26v1m0 11v1m0 13v1"/><path class="d" d="M0 101v1m0 66v1m0 14v1m0 133v1m0 24v1m0 27v1"/><path class="e" d="M0 11v1m0 6v1m0 50v1m0 45v2m0 27v1m0 40v1m0 25v1m0 93v1m0 38v1m0 6v1m0 4v1m0 1v1m0 7v1m0 29v1m0 3v1"/><path class="f" d="M0 156v1m0 14v1m0 2v1m0 57v1m0 11v1m0 116v1"/><path class="g" d="M0 6v1m0 22v2m0 31v1m0 3v1m0 29v1m0 33v1m0 55v1m0 33v1m0 12v1m0 11v1m0 57v2m0 1v1m0 1v1m0 11v1"/><path class="h" d="M0 26v1m0 1v1m0 24v1m0 36v1m0 29v1m0 7v1m0 9v1m0 25v2m0 62v1m0 68v1m0 4v1m0 59v1m0 12v1m0 4v1"/><path class="i" d="M0 13v1m0 42v1m0 27v2m0 12v2m0 29v1m0 99v1m0 113v1m0 29v1"/><path class="j" d="M0 45v1m0 31v3m0 11v1m0 2v1m0 64v1m0 21v1m0 7v1m0 6v1m0 15v1m0 8v1m0 29v1m0 1v1m0 16v1m0 42v1m0 11v1m0 6v1m0 8v1m0 11v1m0 38v1m0 8v1"/><path class="k" d="M0 4v1m0 2v1m0 11v1m0 2v1m0 8v1m0 1v1m0 3v1m0 9v1m0 3v1m0 9v1m0 26v1m0 15v1m0 28v1m0 2v1m0 14v1m0 11v1m0 16v1m0 23v1m0 29v1m0 3v1m0 9v1m0 29v1m0 31v1m0 10v1m0 12v1m0 14v1m0 17v1m0 14v1m0 10v1"/><path class="l" d="M0 17v1m0 30v1m0 3v1m0 21v1m0 20v1m0 7v1m0 43v1m0 24v1m0 42v1m0 31v1m0 21v1m0 21v1m0 4v1m0 22v1m0 15v1m0 29v1m0 29v1"/><path class="m" d="M0 2v1m0 29v1m0 42v1m0 13v1m0 33v1m0 51v1m0 29v1m0 62v1m0 8v1m0 12v1m0 35v1m0 36v1m0 19v1m0 6v1"/><path class="n" d="M0 5v1m0 4v1m0 10v1m0 13v1m0 5v2m0 17v1m0 6v1m0 2v1m0 2v1m0 2v1m0 3v2m0 11v1m0 28v1m0 12v1m0 1v1m0 12v1m0 1v1m0 8v1m0 4v2m0 14v1m0 9v1m0 1v2m0 12v2m0 3v1m0 4v1m0 4v1m0 28v1m0 7v2m0 1v3m0 20v2m0 5v3m0 2v1m0 10v1m0 1v1m0 6v1m0 4v1m0 13v2m0 8v1m0 2v1m0 1v1m0 35v1m0 5v1m0 10v1"/><path class="o" d="M0 0v1m0 13v1m0 111v1m0 145v1m0 10v1m0 119v1"/><path class="p" d="M0 23v1m0 20v1m0 12v1m0 10v1m0 14v1m0 27v1m0 20v1m0 40v1m0 13v1m0 43v1m0 9v1m0 4v1m0 8v1m0 43v1m0 60v1m0 36v1"/><path class="q" d="M0 25v1m0 101v1m0 3v1m0 157v1m0 26v1m0 12v1m0 46v1m0 8v1"/><path class="r" d="M0 9v1m0 76v1m0 25v1m0 1v1m0 34v1m0 38v1m0 36v1m0 1v1m0 60v1m0 11v1m0 56v1m0 1v1m0 12v1m0 18v1"/><path class="s" d="M0 43v1m0 58v1m0 242v1m0 43v1m0 8v1"/><path class="t" d="M0 3v1m0 8v1m0 74v1m0 30v1m0 58v1m0 12v2m0 70v1m0 44v1m0 78v1"/><path class="u" d="M0 55v1m0 144v1m0 42v1m0 13v1m0 13v1m0 29v1"/><path class="v" d="M0 155v1m0 58v1m0 1v1m0 98v1m0 14v1m0 15v1"/><path class="w" d="M0 8v1m0 27v1m0 1v2m0 6v1m0 11v1m0 4v1m0 1v1m0 16v1m0 30v1m0 26v1m0 2v1m0 4v1m0 4v2m0 15v1m0 35v1m0 17v1m0 14v1m0 26v2m0 5v3m0 6v1m0 29v1m0 18v1m0 1v1m0 2v1m0 2v1m0 8v1m0 5v1m0 13v2m0 17v1m0 11v1"/><path class="x" d="M0 1v1m0 13v1m0 94v1m0 6v1m0 7v1m0 13v1m0 6v1m0 93v1m0 35v1m0 78v1"/></g>
<g id="q12"><path class="a" d="M0 6v1m0 28v1m0 4v2m0 2v1m0 2v1m0 21v2m0 2v1m0 5v1m0 8v2m0 17v1m0 9v2m0 3v1m0 7v2m0 10v1m0 11v1m0 5v1m0 11v1m0 19v2m0 2v1m0 8v1m0 5v1m0 9v1m0 3v1m0 5v1m0 10v1m0 9v1m0 10v1m0 4v1m0 4v2m0 5v1m0 14v1m0 39v1m0 5v1m0 3v2m0 3v1m0 7v1m0 4v1m0 1v1m0 1v1m0 2v1m0 7v1m0 16v2"/><path class="b" d="M0 14v1m0 10v1m0 29v1m0 27v1m0 57v1m0 2v1m0 13v1m0 14v1m0 53v1m0 57v1m0 28v1m0 13v1"/><path class="c" d="M0 15v1m0 14v1m0 65v1m0 230v1m0 76v1"/><path class="d" d="M0 82v1m0 29v1m0 3v1m0 28v1m0 56v1m0 42v1m0 9v1m0 3v1m0 24v1m0 28v1m0 86v1"/><path class="e" d="M0 60v1m0 14v1m0 60v1m0 18v1m0 24v1m0 10v1m0 26v2m0 37v1m0 11v1m0 59v3m0 22v1m0 14v1"/><path class="f" d="M0 1v1m0 10v1m0 45v1m0 26v1m0 83v1m0 15v1m0 31v1m0 65v1m0 15v1m0 2v1m0 40v1m0 16v1m0 11v1m0 26v1"/><path class="g" d="M0 9v1m0 56v1m0 71v1m0 75v1m0 20v1m0 42v1m0 30v1"/><path class="h" d="M0 10v1m0 7v1m0 19v1m0 12v1m0 2v1m0 53v1m0 11v1m0 12v1m0 1v1m0 25v1m0 16v1m0 9v1m0 9v1m0 9v1m0 24v1m0 17v1m0 44v1m0 1v1m0 41v1m0 8v1m0 2v2m0 10v1m0 1v1"/><path class="i" d="M0 27v1m0 87v1m0 71v1m0 41v1m0 26v1m0 117v1m0 28v1"/><path class="j" d="M0 26v1m0 65v2m0 53v1m0 17v2m0 19v1m0 8v1m0 57v1m0 61v1m0 8v1m0 9v1m0 22v1m0 25v1m0 18v1"/><path class="k" d="M0 22v1m0 9v1m0 32v1m0 24v1m0 14v1m0 4v1m0 8v1m0 3v1m0 13v1m0 10v1m0 2v1m0 25v1m0 4v1m0 51v1m0 13v1m0 17v1m0 30v1m0 41v1m0 42v1m0 9v1m0 12v1"/><path class="l" d="M0 4v1m0 3v1m0 22v1m0 30v1m0 1v1m0 15v2m0 21v1m0 103v1m0 7v1m0 20v1m0 2v1m0 10v1m0 31v1m0 37v1m0 40v1m0 17v1"/><path class="m" d="M0 17v1m0 6v1m0 12v1m0 8v1m0 57v1m0 19v1m0 14v1m0 36v1m0 4v1m0 8v1m0 13v1m0 42v1m0 71v1m0 57v1"/><path class="n" d="M0 13v1m0 9v1m0 9v1m0 2v1m0 12v1m0 6v1m0 4v1m0 1v1m0 7v2m0 3v2m0 13v1m0 14v1m0 19v2m0 6v1m0 14v1m0 2v2m0 8v2m0 3v1m0 11v1m0 40v1m0 3v1m0 13v1m0 10v1m0 15v1m0 4v1m0 4v3m0 3v1m0 4v3m0 5v1m0 5v2m0 19v1m0 1v1m0 1v1m0 10v1m0 7v1m0 2v2m0 37v1m0 4v1m0 5v1"/><path class="o" d="M0 114v1m0 44v1m0 66v1m0 161v1"/><path class="p" d="M0 2v1m0 84v1m0 80v1m0 71v1m0 76v1m0 8v1m0 62v1m0 8v1"/><path class="q" d="M0 11v1m0 4v1m0 36v1m0 5v1m0 39v1m0 89v1m0 11v1"/><path class="r" d="M0 48v1m0 148v1m0 1v1m0 9v1m0 18v1m0 63v1m0 13v1m0 9v1m0 15v2m0 8v1m0 12v1m0 17v1m0 6v2m0 2v1"/><path class="s" d="M0 125v1m0 57v1m0 57v1m0 70v1"/><path class="t" d="M0 19v1m0 23v1m0 30v1m0 11v1m0 8v1m0 6v1m0 8v1m0 38v1m0 55v1m0 3v1m0 11v1m0 9v1m0 4v1m0 24v1m0 4v1m0 35v1m0 6v2m0 25v2m0 23v1"/><path class="u" d="M0 128v2m0 26v2m0 72v1m0 12v1m0 14v1m0 12v2m0 114v1m0 13v1"/><path class="v" d="M0 0v1m0 41v1m0 57v1m0 83v1m0 15v1m0 12v1m0 2v1m0 154v1"/><path class="w" d="M0 5v1m0 1v1m0 12v1m0 36v1m0 10v1m0 15v1m0 9v1m0 6v1m0 7v1m0 33v1m0 26v2m0 22v1m0 17v1m0 10v1m0 40v1m0 14v1m0 9v1m0 3v1m0 11v1m0 1v1m0 43v1m0 4v1m0 2v1m0 8v1m0 16v1m0 4v1"/><path class="x" d="M0 3v1m0 35v1m0 5v1m0 21v1m0 64v1m0 13v1m0 56v1m0 42v1m0 7v1m0 5v1m0 29v1m0 13v1m0 13v1"/></g>
<g id="q13"><path class="a" d="M0 7v1m0 21v1m0 1v1m0 7v1m0 6v2m0 12v1m0 2v1m0 11v1m0 14v1m0 10v1m0 13v1m0 4v1m0 5v2m0 12v1m0 5v1m0 3v1m0 1v1m0 8v1m0 12v1m0 2v1m0 46v1m0 25v1m0 17v1m0 29v1m0 33v1m0 15v1m0 10v1m0 11v1m0 7v1m0 2v1"/><path class="b" d="M0 11v1m0 3v1m0 11v1m0 141v1m0 17v1m0 10v1m0 14v1m0 1v1m0 29v1m0 42v1m0 13v1m0 57v1m0 14v1m0 9v1"/><path class="c" d="M0 43v1m0 101v1m0 196v1"/><path class="d" d="M0 16v1m0 51v1m0 3v1m0 95v1m0 19v1m0 8v1m0 4v1m0 9v1m0 33v1m0 13v1m0 14v1m0 13v1m0 9v1m0 3v1m0 57v1m0 22v1"/><path class="e" d="M0 42v1m0 31v1m0 36v1m0 1v2m0 20v1m0 57v1m0 38v1m0 44v1m0 63v1m0 30v1m0 1v1m0 3v1m0 14v1"/><path class="f" d="M0 184v1m0 45v1m0 27v1m0 55v1m0 13v1m0 17v1m0 8v1m0 46v1"/><path class="g" d="M0 22v1m0 22v1m0 43v1m0 42v2m0 17v1m0 13v1m0 17v1m0 26v1m0 20v1m0 15v1m0 44v1m0 20v1m0 9v2m0 15v1"/><path class="h" d="M0 4v1m0 13v1m0 15v1m0 9v1m0 5v1m0 19v1m0 8v1m0 26v1m0 27v1m0 2v1m0 15v1m0 3v1m0 4v1m0 42v1m0 13v1m0 2v1m0 39v1m0 43v1m0 1v1m0 18v1m0 7v1m0 17v1m0 8v1m0 13v1m0 3v1"/><path class="i" d="M0 13v1m0 85v1m0 143v1m0 27v1"/><path class="j" d="M0 51v1m0 25v1m0 53v1m0 27v2m0 9v1m0 11v1m0 2v1m0 21v1m0 3v1m0 5v1m0 20v1m0 12v1m0 17v1m0 9v1m0 1v1m0 2v1m0 62v1"/><path class="k" d="M0 9v1m0 23v1m0 19v1m0 8v1m0 2v1m0 28v1m0 9v1m0 4v1m0 12v1m0 24v1m0 75v1m0 13v1m0 10v1m0 14v1m0 3v1m0 10v1m0 1v1m0 10v1m0 4v1m0 12v1m0 16v1m0 7v1m0 4v1m0 24v1m0 3v1m0 12v1"/><path class="l" d="M0 3v1m0 4v1m0 40v1m0 11v1m0 55v1m0 46v1m0 27v1m0 114v1m0 10v2m0 30v1m0 6v1m0 5v1m0 30v1"/><path class="m" d="M0 52v1m0 35v1m0 6v1m0 108v1m0 48v1m0 57v1"/><path class="n" d="M0 0v3m0 14v1m0 3v1m0 8v1m0 1v1m0 7v2m0 6v1m0 6v1m0 11v1m0 8v1m0 6v1m0 8v1m0 9v2m0 4v1m0 10v1m0 5v1m0 12v2m0 9v1m0 17v1m0 11v3m0 24v1m0 2v1m0 10v1m0 12v1m0 1v1m0 4v1m0 11v1m0 12v1m0 16v1m0 3v2m0 6v1m0 2v1m0 6v1m0 5v1m0 9v1m0 1v1m0 10v1m0 2v2m0 7v1m0 6v1m0 13v1m0 3v1m0 19v2m0 3v1"/><path class="o" d="M0 26v1m0 31v1m0 26v1m0 43v1m0 11v1m0 14v1m0 59v1"/><path class="p" d="M0 14v1m0 103v1m0 53v1m0 54v1m0 13v1m0 13v1m0 14v1m0 58v1m0 24v1m0 22v1"/><path class="q" d="M0 69v1m0 1v1m0 15v1m0 54v2m0 56v2m0 54v1m0 2v1m0 40v1m0 11v1m0 3v1m0 26v1m0 57v1"/><path class="r" d="M0 10v1m0 14v1m0 11v1m0 21v1m0 98v1m0 12v1m0 36v1m0 17v1m0 49v1m0 8v1m0 72v1m0 33v1m0 3v1m0 7v1"/><path class="s" d="M0 54v1m0 18v1m0 42v1m0 137v1"/><path class="t" d="M0 19v1m0 15v2m0 29v1m0 40v1m0 22v1m0 35v1m0 58v1m0 2v1m0 13v1m0 21v1m0 25v1m0 30v1m0 8v1m0 38v1m0 3v1m0 9v1m0 19v1"/><path class="u" d="M0 12v1m0 43v1m0 43v1m0 27v1m0 70v1m0 44v1m0 12v1"/><path class="v" d="M0 98v1m0 130v1m0 71v1m0 13v1m0 15v1m0 12v1m0 11v1m0 29v2"/><path class="w" d="M0 6v1m0 13v1m0 3v1m0 3v1m0 53v1m0 1v1m0 6v1m0 1v1m0 3v1m0 12v1m0 1v1m0 8v1m0 1v1m0 31v1m0 17v1m0 4v1m0 7v1m0 27v1m0 6v1m0 12v1m0 14v1m0 11v1m0 21v1m0 21v1m0 43v1m0 38v2m0 15v1"/><path class="x" d="M0 23v1m0 14v1m0 42v1m0 14v1m0 27v1m0 29v1m0 20v1m0 13v1m0 6v1m0 6v1m0 14v1m0 20v1"/></g>
<g id="q14"><path class="a" d="M0 5v1m0 1v1m0 24v1m0 21v1m0 5v1m0 1v1m0 5v1m0 5v1m0 6v1m0 22v1m0 26v1m0 3v1m0 26v1m0 27v1m0 14v1m0 6v1m0 17v1m0 7v1m0 20v1m0 3v1m0 15v1m0 4v1m0 12v1m0 33v1m0 6v1m0 5v1m0 8v1m0 22v1m0 2v1m0 3v1m0 2v2"/><path class="b" d="M0 28v1m0 42v1m0 86v1m0 27v1m0 28v1m0 25v1m0 32v1m0 96v1m0 2v1m0 28v1"/><path class="c" d="M0 30v1m0 41v1m0 86v1m0 38v1m0 17v1m0 8v1m0 30v1m0 42v1"/><path class="d" d="M0 0v1m0 58v1m0 52v1m0 27v1m0 28v1m0 99v1m0 5v1m0 26v1m0 57v1m0 9v1m0 4v1m0 22v1m0 5v1"/><path class="e" d="M0 27v1m0 49v1m0 6v1m0 18v1m0 5v2m0 4v1m0 5v1m0 34v2m0 24v1m0 25v1m0 57v1m0 10v1m0 13v1m0 6v1m0 14v1m0 4v1m0 17v1m0 19v1m0 23v1m0 13v1"/><path class="f" d="M0 70v1m0 14v1m0 25v1m0 15v1m0 14v1m0 102v1m0 25v1m0 60v1m0 12v1m0 59v1"/><path class="g" d="M0 6v1m0 11v1m0 29v1m0 29v2m0 71v1m0 19v1m0 8v1m0 36v1m0 5v1m0 11v1m0 29v1m0 111v1m0 4v1m0 13v1m0 3v1"/><path class="h" d="M0 33v1m0 13v1m0 1v1m0 86v1m0 16v1m0 22v1m0 57v1m0 26v1m0 48v1m0 90v1"/><path class="i" d="M0 99v1m0 13v1m0 2v1m0 53v1m0 2v1m0 83v1m0 42v2m0 27v1m0 69v1"/><path class="j" d="M0 8v1m0 8v1m0 13v1m0 2v2m0 9v1m0 41v1m0 9v1m0 48v1m0 7v1m0 26v1m0 7v1m0 11v1m0 7v1m0 12v1m0 10v1m0 42v1m0 42v1m0 14v1m0 20v1m0 1v1m0 11v1m0 14v1m0 12v1"/><path class="k" d="M0 19v1m0 17v1m0 52v1m0 3v1m0 10v1m0 2v1m0 9v1m0 75v1m0 11v1m0 12v1m0 17v1m0 15v1m0 10v1m0 30v1m0 10v1m0 4v1m0 12v1m0 24v1m0 28v1m0 2v1m0 10v1"/><path class="l" d="M0 3v1m0 34v1m0 1v1m0 35v1m0 12v1m0 10v2m0 17v1m0 3v1m0 25v1m0 29v1m0 41v1m0 33v1m0 95v1m0 11v1m0 31v1"/><path class="m" d="M0 66v1m0 57v1m0 27v1m0 8v1m0 26v1m0 7v1m0 42v1m0 22v1m0 19v1m0 44v1m0 11v1m0 22v1m0 28v1"/><path class="n" d="M0 4v1m0 16v1m0 28v1m0 10v1m0 1v2m0 15v1m0 12v1m0 1v1m0 10v1m0 27v1m0 4v1m0 7v1m0 15v2m0 2v2m0 8v2m0 16v1m0 14v2m0 24v1m0 7v1m0 4v2m0 27v1m0 1v2m0 11v1m0 2v1m0 6v2m0 3v1m0 11v1m0 2v1m0 11v1m0 11v1m0 4v1m0 1v1m0 10v1m0 1v1m0 17v1m0 7v1"/><path class="o" d="M0 11v1m0 31v1m0 54v1m0 18v1"/><path class="p" d="M0 73v1m0 9v1m0 18v1m0 11v1m0 88v1m0 14v1m0 8v1m0 26v1m0 78v1m0 7v1"/><path class="q" d="M0 57v1m0 83v1m0 18v1m0 26v1m0 9v1m0 48v1m0 23v1m0 44v3m0 10v1"/><path class="r" d="M0 10v1m0 15v1m0 14v1m0 2v1m0 20v1m0 3v1m0 63v1m0 49v2m0 7v1m0 9v1m0 4v1m0 20v1m0 83v1m0 17v1m0 35v1"/><path class="s" d="M0 14v1m0 110v1m0 17v1m0 143v1m0 54v1m0 45v1"/><path class="t" d="M0 9v1m0 12v1m0 16v1m0 11v1m0 4v1m0 18v1m0 16v1m0 27v1m0 27v1m0 16v1m0 6v1m0 47v1m0 39v1m0 44v1m0 3v1m0 15v1m0 11v1m0 10v1m0 19v1m0 4v1"/><path class="u" d="M0 13v1m0 28v1m0 85v2m0 70v1m0 57v1m0 55v1m0 43v1m0 43v1"/><path class="v" d="M0 15v1m0 70v1m0 39v1m0 17v1m0 68v2m0 57v2m0 11v2m0 1v1m0 57v1m0 25v1m0 16v1"/><path class="w" d="M0 1v1m0 22v2m0 26v2m0 1v1m0 26v1m0 13v1m0 25v1m0 7v1m0 1v1m0 22v1m0 10v1m0 18v1m0 5v1m0 32v1m0 4v1m0 1v1m0 10v2m0 48v1m0 28v2m0 20v1m0 20v1"/><path class="x" d="M0 2v1m0 13v1m0 6v1m0 22v1m0 20v1m0 20v1m0 49v1m0 6v1m0 58v1m0 21v1m0 5v1m0 35v1m0 14v1m0 5v1m0 36v1m0 13v1m0 20v1m0 28v1"/></g>
<g id="q15"><path class="a" d="M0 11v2m0 16v1m0 28v1m0 2v1m0 61v1m0 3v1m0 20v1m0 20v1m0 26v1m0 23v1m0 3v1m0 4v1m0 7v1m0 2v1m0 5v1m0 5v1m0 15v2m0 11v1m0 16v1m0 6v1m0 3v1m0 5v1m0 5v1m0 1v1m0 6v1m0 4v2m0 17v2m0 1v1m0 1v1m0 5v1m0 18v1m0 1v1m0 9v2"/><path class="b" d="M0 44v1m0 24v1m0 14v1m0 1v1m0 14v1m0 57v1m0 12v1m0 11v1m0 43v1m0 1v1m0 54v1m0 16v1m0 11v1m0 12v1m0 45v1m0 26v1"/><path class="c" d="M0 68v1m0 18v1m0 55v1m0 29v1m0 39v1m0 131v1m0 28v1"/><path class="d" d="M0 25v1m0 19v1m0 165v1m0 15v1m0 3v1m0 52v1m0 27v1m0 13v1"/><path class="e" d="M0 7v1m0 20v1m0 20v1m0 10v1m0 33v1m0 14v1m0 40v1m0 6v2m0 15v1m0 13v1m0 3v1m0 6v1m0 41v1m0 31v1m0 17v1m0 3v1m0 3v1m0 33v1m0 37v1"/><path class="f" d="M0 126v1m0 13v1m0 57v1m0 59v1m0 41v1"/><path class="g" d="M0 27v1m0 24v1m0 42v1m0 42v2m0 5v1m0 29v1m0 89v1m0 26v1m0 44v1"/><path class="h" d="M0 21v1m0 12v2m0 1v1m0 10v1m0 28v1m0 1v1m0 26v1m0 6v1m0 7v1m0 20v1m0 1v1m0 15v1m0 28v1m0 3v1m0 80v1m0 2v1m0 25v1m0 38v1m0 10v1m0 22v1m0 6v1m0 8v1"/><path class="i" d="M0 55v1m0 130v1m0 13v1m0 11v1m0 130v2m0 30v1"/><path class="j" d="M0 3v1m0 29v1m0 22v1m0 6v1m0 6v1m0 17v2m0 17v1m0 7v1m0 31v1m0 47v1m0 6v1m0 35v1m0 32v1m0 44v1m0 17v1m0 25v1m0 3v1m0 30v1m0 7v1"/><path class="k" d="M0 5v1m0 3v1m0 12v1m0 9v1m0 33v1m0 6v1m0 2v1m0 3v1m0 9v1m0 2v1m0 25v1m0 17v1m0 14v1m0 8v1m0 4v1m0 9v1m0 2v1m0 11v1m0 2v1m0 39v1m0 16v1m0 10v1m0 3v1m0 13v1m0 8v1m0 17v1m0 31v1m0 10v1m0 27v1"/><path class="l" d="M0 1v2m0 14v2m0 4v1m0 12v1m0 14v1m0 23v1m0 5v1m0 20v1m0 8v1m0 5v1m0 11v1m0 19v1m0 31v1m0 24v2m0 8v1m0 32v1m0 13v2m0 17v1m0 42v1m0 37v1m0 27v1"/><path class="m" d="M0 74v1m0 43v1m0 63v1m0 21v1m0 48v1m0 7v1m0 34v1m0 52v1m0 12v1m0 6v1m0 7v1m0 20v1"/><path class="n" d="M0 6v1m0 6v1m0 5v1m0 4v1m0 13v1m0 4v1m0 2v2m0 2v1m0 6v1m0 1v1m0 2v1m0 1v2m0 38v2m0 2v1m0 11v1m0 12v2m0 18v1m0 2v1m0 6v2m0 3v1m0 11v1m0 24v1m0 2v2m0 13v1m0 8v1m0 6v1m0 7v2m0 18v1m0 4v1m0 3v1m0 16v2m0 6v1m0 8v2m0 6v1m0 1v1m0 3v1m0 6v1m0 6v1m0 1v1m0 6v1m0 4v1m0 3v1m0 1v1m0 7v1m0 12v1m0 1v1m0 5v4m0 2v1m0 11v1"/><path class="o" d="M0 83v1m0 101v1m0 15v1m0 54v1"/><path class="p" d="M0 39v1m0 27v1m0 35v1m0 6v1m0 14v1m0 20v1m0 7v1m0 35v1m0 6v1m0 19v1m0 37v1m0 19v1m0 28v1m0 23v1m0 12v1m0 4v1"/><path class="q" d="M0 26v1m0 70v1m0 161v1"/><path class="r" d="M0 30v1m0 68v2m0 11v1m0 42v1m0 31v1m0 22v1m0 14v1m0 10v1m0 5v1m0 27v1m0 58v1m0 52v1"/><path class="s" d="M0 0v1m0 9v1m0 3v1m0 57v1m0 141v2m0 10v1m0 61v1m0 43v1"/><path class="t" d="M0 4v1m0 35v2m0 49v1m0 6v1m0 17v1m0 15v1m0 44v2m0 40v1m0 13v1m0 56v1m0 15v1m0 44v1m0 15v1"/><path class="u" d="M0 114v1m0 55v2m0 71v2m0 12v1m0 28v2"/><path class="v" d="M0 15v1m0 26v1m0 85v1m0 1v1m0 10v1"/><path class="w" d="M0 8v1m0 22v1m0 39v1m0 13v1m0 36v1m0 1v1m0 42v1m0 54v1m0 12v1m0 9v1m0 32v1m0 4v1m0 24v1m0 8v1m0 1v1m0 52v1m0 12v1m0 15v2m0 1v1"/><path class="x" d="M0 16v1m0 65v1m0 48v1m0 71v1m0 14v1m0 35v1m0 42v1m0 50v1m0 12v1m0 6v1m0 1v1"/></g>
<g id="q16"><path class="a" d="M0 2v1m0 7v1m0 7v1m0 7v1m0 4v2m0 12v1m0 4v2m0 25v1m0 30v1m0 11v2m0 23v1m0 8v1m0 22v1m0 12v1m0 21v1m0 5v1m0 5v1m0 11v1m0 2v1m0 12v1m0 21v1m0 3v1m0 11v1m0 1v2m0 13v1m0 13v1m0 4v1m0 8v1m0 44v1m0 2v1m0 1v1"/><path class="b" d="M0 0v1m0 13v1m0 43v1m0 10v1m0 2v1m0 11v1m0 15v1m0 40v1m0 44v1m0 15v1m0 52v1m0 1v1m0 30v1m0 25v1m0 16v1m0 11v1m0 28v1m0 30v1"/><path class="c" d="M0 73v1m0 96v1m0 33v1m0 137v1"/><path class="d" d="M0 44v1m0 14v1m0 8v1m0 32v1m0 42v1m0 28v1m0 66v1m0 15v1m0 28v1m0 3v1m0 23v1m0 18v1m0 41v1m0 29v1"/><path class="e" d="M0 23v2m0 88v1m0 9v1m0 9v1m0 13v1m0 19v1m0 16v1m0 11v1m0 20v1m0 40v1m0 8v1m0 4v1m0 44v1m0 4v1m0 33v1m0 1v1m0 11v1m0 5v1"/><path class="f" d="M0 29v1m0 11v1m0 126v1m0 29v1m0 31v1m0 114v1m0 44v1"/><path class="g" d="M0 34v1m0 12v1m0 30v1m0 30v1m0 12v1m0 7v1m0 6v1m0 18v1m0 6v1m0 14v1m0 44v1m0 24v1m0 70v1m0 3v1m0 33v1m0 4v1"/><path class="h" d="M0 6v1m0 5v1m0 9v1m0 60v1m0 8v1m0 36v1m0 32v1m0 13v1m0 3v1m0 28v2m0 11v1m0 39v1m0 75v1m0 14v1"/><path class="i" d="M0 171v1m0 70v1m0 43v1"/><path class="j" d="M0 8v1m0 27v2m0 11v1m0 17v1m0 19v1m0 3v1m0 6v1m0 13v1m0 3v1m0 9v1m0 9v1m0 29v1m0 18v1m0 42v1m0 17v1m0 17v1m0 16v1m0 13v1m0 13v1m0 1v1m0 8v1m0 16v1m0 12v1m0 18v1m0 7v1"/><path class="k" d="M0 7v1m0 58v1m0 36v1m0 1v1m0 13v1m0 30v1m0 14v1m0 25v1m0 13v1m0 13v1m0 14v1m0 3v1m0 85v1m0 14v1m0 8v1m0 14v1m0 4v1m0 9v1m0 13v1m0 3v1"/><path class="l" d="M0 20v1m0 12v1m0 8v1m0 18v1m0 3v1m0 13v1m0 13v1m0 24v1m0 19v1m0 18v4m0 45v2m0 7v2m0 20v1m0 9v1m0 15v1m0 42v1m0 18v1m0 8v1m0 11v1m0 4v1m0 14v1m0 34v1"/><path class="m" d="M0 90v1m0 4v1m0 8v1m0 5v1m0 28v1m0 21v1m0 13v1m0 5v1m0 79v1m0 6v1m0 8v1m0 19v1m0 42v1m0 8v1"/><path class="n" d="M0 3v1m0 1v1m0 3v1m0 7v1m0 7v1m0 13v1m0 13v5m0 6v1m0 10v1m0 23v1m0 6v1m0 8v1m0 11v1m0 20v2m0 1v1m0 27v1m0 9v1m0 4v2m0 12v1m0 24v1m0 31v1m0 4v2m0 8v1m0 3v1m0 9v1m0 1v1m0 11v1m0 3v1m0 14v4m0 24v1m0 3v1m0 4v1m0 22v1m0 5v1m0 1v1m0 9v1"/><path class="o" d="M0 1v1m0 14v1m0 170v1m0 183v1m0 27v1"/><path class="p" d="M0 30v1m0 43v1m0 7v1m0 48v1m0 56v1m0 8v1m0 75v1m0 115v1m0 1v1"/><path class="q" d="M0 43v1m0 52v1m0 163v1m0 41v1m0 38v1m0 58v1"/><path class="r" d="M0 4v1m0 30v1m0 44v2m0 4v1m0 20v1m0 47v1m0 55v1m0 14v1m0 4v1m0 11v1m0 10v1m0 32v1m0 17v1m0 4v1m0 7v1m0 28v1m0 4v1m0 28v1m0 6v1m0 9v1"/><path class="s" d="M0 227v1m0 133v1"/><path class="t" d="M0 94v1m0 2v1m0 4v1m0 21v1m0 9v1m0 90v1m0 18v2m0 13v1m0 31v1m0 44v1m0 45v1"/><path class="u" d="M0 13v1m0 114v1m0 13v1m0 57v2m0 113v2m0 56v1"/><path class="v" d="M0 11v1m0 15v2m0 41v2m0 13v1m0 83v1m0 44v1m0 86v1m0 100v1"/><path class="w" d="M0 19v1m0 20v1m0 7v1m0 13v2m0 12v1m0 11v1m0 25v1m0 20v1m0 57v1m0 5v1m0 13v1m0 6v2m0 7v1m0 2v1m0 16v3m0 1v1m0 12v1m0 8v1m0 3v1m0 2v2m0 15v2m0 43v1m0 15v1m0 14v1m0 3v1m0 4v1m0 1v1m0 10v1"/><path class="x" d="M0 38v1m0 7v1m0 5v1m0 7v1m0 28v1m0 21v1m0 5v1m0 7v1m0 6v1m0 13v1m0 6v1m0 20v1m0 8v1m0 85v1m0 6v1m0 21v1m0 34v1m0 20v1"/></g>
<g id="q17"><path class="a" d="M0 4v1m0 11v1m0 5v1m0 1v1m0 15v1m0 5v1m0 2v1m0 2v1m0 6v1m0 3v1m0 6v1m0 6v1m0 4v1m0 6v1m0 17v1m0 9v1m0 3v1m0 4v1m0 10v2m0 23v1m0 3v1m0 18v1m0 33v1m0 4v1m0 23v1m0 13v1m0 5v1m0 2v3m0 20v1m0 1v1m0 3v2m0 22v1m0 10v1"/><path class="b" d="M0 71v1m0 40v1m0 31v1m0 39v1m0 17v1m0 10v1m0 41v1m0 18v1m0 27v1m0 10v1m0 32v1m0 25v1m0 26v1"/><path class="c" d="M0 28v1m0 144v1m0 51v1m0 4v1m0 14v1m0 39v1m0 17v1m0 13v1m0 25v1m0 15v1"/><path class="d" d="M0 72v1m0 25v1m0 84v1m0 19v1m0 8v1m0 62v1m0 36v1m0 58v1"/><path class="e" d="M0 0v1m0 1v1m0 3v1m0 26v1m0 7v1m0 6v1m0 7v1m0 4v1m0 16v1m0 8v1m0 39v2m0 10v1m0 15v1m0 3v1m0 47v1m0 10v1m0 1v2m0 10v1m0 86v1m0 2v1m0 10v1m0 15v1m0 23v1m0 18v1m0 9v1"/><path class="f" d="M0 1v1m0 65v1m0 16v1m0 12v1m0 3v1m0 38v1m0 15v1m0 30v1m0 182v1"/><path class="g" d="M0 32v1m0 21v1m0 11v1m0 42v1m0 40v1m0 13v1m0 16v1m0 26v1m0 38v1m0 33v1m0 10v1m0 12v1m0 2v2m0 27v1m0 27v1m0 11v1"/><path class="h" d="M0 51v1m0 13v1m0 24v1m0 28v1m0 4v1m0 51v1m0 5v1m0 17v1m0 38v1m0 2v1m0 9v2m0 99v1m0 12v1m0 15v1m0 20v1"/><path class="i" d="M0 42v1m0 273v1m0 43v1m0 13v1"/><path class="j" d="M0 3v1m0 5v1m0 13v1m0 2v1m0 2v1m0 65v1m0 9v1m0 10v1m0 52v1m0 26v1m0 61v1m0 11v1m0 27v1m0 5v1m0 16v1m0 16v1m0 8v2m0 7v1m0 22v1"/><path class="k" d="M0 103v1m0 28v1m0 18v1m0 11v1m0 16v1m0 11v1m0 2v1m0 38v1m0 14v1m0 14v1m0 12v1m0 2v1m0 14v1m0 10v1m0 3v1m0 9v1m0 18v1"/><path class="l" d="M0 36v1m0 94v1m0 20v1m0 24v1m0 59v1m0 5v1m0 79v1m0 27v1m0 17v1m0 8v1m0 2v1m0 11v1m0 11v1"/><path class="m" d="M0 80v1m0 23v1m0 5v1m0 22v1m0 56v1m0 19v1m0 27v1m0 15v1m0 35v1m0 35v1m0 71v1"/><path class="n" d="M0 5v1m0 6v1m0 4v2m0 2v1m0 13v1m0 8v2m0 1v1m0 12v1m0 1v1m0 1v1m0 3v2m0 9v1m0 5v1m0 5v1m0 33v1m0 3v1m0 4v3m0 11v2m0 7v2m0 6v1m0 25v1m0 1v1m0 20v2m0 7v1m0 11v1m0 27v1m0 2v2m0 23v1m0 1v1m0 5v1m0 11v1m0 2v1m0 19v1m0 6v1m0 8v1m0 13v1m0 18v3m0 2v1m0 5v2m0 4v2"/><path class="o" d="M0 15v1m0 99v1m0 82v1m0 28v1m0 103v1m0 26v1m0 2v1m0 13v1"/><path class="p" d="M0 53v1m0 121v1m0 70v1m0 9v1m0 27v1m0 3v1m0 26v1m0 26v1m0 25v1"/><path class="q" d="M0 172v1m0 1v1m0 13v1m0 39v2m0 14v1m0 84v2m0 13v1m0 45v1"/><path class="r" d="M0 7v1m0 47v1m0 1v2m0 35v1m0 28v1m0 6v1m0 11v1m0 27v2m0 59v1m0 25v1m0 2v1m0 26v1m0 101v1"/><path class="s" d="M0 211v1m0 28v1m0 45v1m0 2v1"/><path class="t" d="M0 10v1m0 8v1m0 55v1m0 7v1m0 4v1m0 4v1m0 2v1m0 5v1m0 5v1m0 52v1m0 5v1m0 38v1m0 2v1m0 12v1m0 10v1m0 63v1m0 27v1m0 6v1m0 7v1m0 55v1m0 7v1"/><path class="u" d="M0 13v1m0 29v1m0 56v1m0 12v1m0 231v1"/><path class="v" d="M0 27v1m0 113v1m0 59v1m0 39v1"/><path class="w" d="M0 8v1m0 2v1m0 8v1m0 4v1m0 8v1m0 38v1m0 2v1m0 9v1m0 5v1m0 29v1m0 20v1m0 16v1m0 7v1m0 9v1m0 7v1m0 10v1m0 7v1m0 10v1m0 33v2m0 7v1m0 1v1m0 7v1m0 6v1m0 1v1m0 4v1m0 23v1m0 28v1m0 17v2m0 1v1m0 9v1m0 12v1m0 5v2"/><path class="x" d="M0 30v1m0 8v1m0 34v1m0 6v1m0 36v1m0 35v1m0 49v1m0 12v1m0 8v1m0 55v1m0 35v1m0 43v1m0 13v1m0 20v1"/></g>
<g id="q18"><path class="a" d="M0 52v1m0 5v1m0 6v1m0 11v1m0 33v1m0 21v1m0 6v1m0 10v1m0 13v1m0 12v1m0 6v1m0 12v1m0 12v1m0 3v1m0 2v2m0 2v1m0 22v1m0 1v1m0 6v2m0 7v1m0 1v2m0 18v1m0 3v1m0 4v1m0 6v2m0 2v1m0 2v1m0 9v1m0 1v1m0 5v1m0 10v2m0 13v1m0 18v1m0 1v1m0 20v2m0 3v1"/><path class="b" d="M0 15v1m0 68v1m0 2v1m0 12v1m0 15v1m0 38v1m0 31v1m0 39v1m0 75v1m0 53v1m0 2v1m0 42v1"/><path class="c" d="M0 88v1m0 65v1"/><path class="d" d="M0 44v1m0 8v1m0 29v1m0 18v1m0 56v1m0 9v1m0 43v1m0 142v1m0 4v1m0 22v1m0 19v1"/><path class="e" d="M0 50v2m0 33v2m0 41v1m0 63v1m0 3v1m0 2v1m0 2v1m0 9v1m0 17v1m0 25v1m0 12v1m0 21v1m0 6v1m0 8v1m0 9v1m0 51v1m0 23v1"/><path class="f" d="M0 55v1m0 16v1m0 54v1m0 32v1m0 22v1m0 116v1m0 13v1m0 55v1"/><path class="g" d="M0 9v1m0 16v2m0 66v1m0 14v1m0 13v1m0 28v1m0 19v1m0 22v1m0 86v1m0 14v1m0 14v2m0 33v1"/><path class="h" d="M0 8v1m0 33v1m0 27v1m0 10v1m0 23v1m0 24v1m0 17v1m0 15v1m0 40v1m0 51v1m0 48v1m0 21v1m0 7v1m0 39v1"/><path class="i" d="M0 41v1m0 87v1m0 70v1m0 42v1m0 28v1m0 112v1m0 1v1"/><path class="j" d="M0 13v1m0 17v2m0 5v1m0 9v1m0 25v1m0 3v1m0 11v2m0 12v1m0 16v1m0 2v1m0 16v1m0 7v1m0 24v1m0 18v1m0 12v1m0 39v1m0 3v1m0 2v1m0 10v1m0 14v1m0 16v1m0 36v1m0 46v1"/><path class="k" d="M0 4v1m0 2v1m0 25v1m0 3v1m0 8v1m0 14v1m0 2v1m0 2v1m0 21v1m0 3v1m0 13v1m0 11v1m0 14v1m0 1v1m0 16v1m0 8v1m0 4v1m0 8v1m0 4v1m0 42v1m0 9v1m0 3v1m0 13v1m0 24v1m0 2v1m0 11v1m0 41v1m0 5v1m0 23v1m0 2v1m0 9v1m0 1v1"/><path class="l" d="M0 20v1m0 142v1m0 11v1m0 15v1m0 75v1m0 2v1m0 53v1m0 10v1m0 3v1m0 41v1"/><path class="m" d="M0 3v1m0 13v1m0 99v1m0 43v1m0 27v1m0 43v1m0 5v1m0 22v1m0 41v1m0 27v1m0 15v1m0 47v1"/><path class="n" d="M0 5v1m0 5v1m0 6v1m0 5v1m0 24v1m0 7v1m0 1v2m0 2v1m0 11v2m0 2v1m0 12v1m0 5v2m0 8v1m0 9v1m0 13v1m0 14v1m0 2v1m0 5v1m0 20v1m0 6v1m0 1v1m0 7v1m0 9v1m0 3v1m0 7v1m0 3v2m0 37v1m0 14v2m0 7v2m0 8v1m0 1v1m0 13v1m0 13v1m0 1v1m0 19v1m0 3v1m0 5v1m0 2v2m0 8v1m0 5v1m0 7v2m0 5v4"/><path class="o" d="M0 114v1m0 10v1m0 19v1m0 55v1m0 39v1m0 100v1"/><path class="p" d="M0 25v1m0 3v1m0 10v1m0 32v1m0 57v1m0 41v1m0 8v1m0 48v1m0 12v1m0 28v1m0 53v1"/><path class="q" d="M0 0v1m0 42v1m0 82v1m0 17v1m0 26v1m0 99v1m0 71v1"/><path class="r" d="M0 39v1m0 7v1m0 20v1m0 11v1m0 41v1m0 57v1m0 26v1m0 154v2m0 11v1m0 10v1"/><path class="s" d="M0 45v1m0 186v1m0 54v1m0 43v1m0 9v1m0 4v1"/><path class="t" d="M0 28v1m0 66v1m0 7v1m0 34v1m0 27v1m0 1v1m0 41v1m0 14v1m0 50v1m0 34v1m0 66v1"/><path class="u" d="M0 71v1m0 41v1m0 43v1m0 56v1m0 43v1m0 70v1m0 58v1m0 12v2"/><path class="v" d="M0 56v1m0 12v1m0 73v1m0 84v2m0 58v1m0 10v1m0 44v1"/><path class="w" d="M0 12v1m0 1v1m0 4v1m0 14v1m0 1v1m0 59v2m0 14v1m0 2v1m0 21v1m0 4v1m0 3v1m0 56v1m0 5v1m0 7v1m0 30v2m0 10v1m0 17v1m0 2v1m0 4v1m0 23v1m0 4v2m0 4v1m0 8v1m0 19v2m0 1v2m0 10v2m0 5v1m0 27v1m0 4v1"/><path class="x" d="M0 10v1m0 12v1m0 6v1m0 23v1m0 27v1m0 27v1m0 28v1m0 50v1m0 6v1m0 42v1m0 20v1m0 6v1m0 21v1m0 28v1m0 78v1"/></g>
<g id="q19"><path class="a" d="M0 24v1m0 7v1m0 17v1m0 6v2m0 1v1m0 1v2m0 7v1m0 11v1m0 3v1m0 3v1m0 20v1m0 2v1m0 12v2m0 19v1m0 33v1m0 4v1m0 1v1m0 6v1m0 1v2m0 3v1m0 1v1m0 10v1m0 30v1m0 9v1m0 1v1m0 21v1m0 24v1m0 16v1m0 22v1m0 1v1m0 12v1m0 18v1m0 1v1m0 1v1m0 9v1"/><path class="b" d="M0 12v1m0 30v1m0 28v1m0 24v1m0 18v1m0 84v1m0 25v1m0 46v1m0 28v1m0 52v1m0 3v1"/><path class="c" d="M0 15v1m0 11v1m0 132v1m0 110v1m0 3v1m0 40v1"/><path class="d" d="M0 44v1m0 72v1m0 27v1m0 38v1m0 18v1m0 167v1m0 31v1"/><path class="e" d="M0 16v1m0 8v1m0 25v1m0 13v1m0 75v1m0 6v1m0 20v1m0 24v1m0 34v1m0 12v1m0 19v1m0 16v1m0 10v1m0 7v1m0 55v1"/><path class="f" d="M0 70v1m0 29v1m0 39v1m0 30v1m0 83v1m0 43v1m0 12v1m0 17v1"/><path class="g" d="M0 1v1m0 77v1m0 29v1m0 9v1m0 114v1m0 8v2m0 4v1m0 14v2m0 11v1m0 41v1m0 60v1"/><path class="h" d="M0 53v1m0 19v1m0 2v1m0 1v1m0 94v2m0 17v1m0 3v1m0 50v1m0 39v1m0 77v1"/><path class="i" d="M0 142v1m0 215v1"/><path class="j" d="M0 31v1m0 23v1m0 5v1m0 6v1m0 16v1m0 19v1m0 72v1m0 26v1m0 29v1m0 3v2m0 35v1m0 1v1m0 12v1m0 43v1m0 5v1m0 17v1m0 7v1m0 5v1m0 2v1m0 1v1m0 5v1m0 9v1m0 3v1"/><path class="k" d="M0 3v1m0 1v1m0 13v1m0 17v1m0 10v1m0 3v1m0 51v1m0 2v1m0 39v1m0 14v1m0 2v1m0 11v1m0 13v1m0 17v1m0 10v1m0 16v1m0 14v1m0 10v1m0 16v1m0 15v1m0 23v1m0 2v1m0 14v1m0 13v1m0 11v1m0 17v1m0 13v1"/><path class="l" d="M0 4v1m0 21v1m0 6v1m0 76v1m0 13v1m0 106v1m0 19v1m0 18v1m0 56v1m0 25v1m0 9v1"/><path class="m" d="M0 10v1m0 69v1m0 15v1m0 69v1m0 8v1m0 19v1m0 14v1m0 22v1m0 19v1m0 13v1m0 65v1m0 35v1m0 35v1"/><path class="n" d="M0 6v1m0 11v1m0 3v1m0 6v1m0 6v1m0 2v2m0 15v1m0 7v1m0 10v1m0 1v1m0 10v3m0 12v1m0 4v1m0 4v1m0 6v2m0 8v1m0 3v1m0 1v1m0 13v2m0 3v1m0 20v1m0 2v4m0 6v1m0 28v1m0 4v1m0 14v1m0 7v1m0 3v1m0 8v1m0 6v1m0 14v1m0 7v1m0 3v1m0 14v3m0 3v1m0 10v1m0 8v1m0 1v1m0 3v1m0 3v1m0 21v1m0 1v1m0 6v1m0 1v1m0 15v1"/><path class="o" d="M0 98v1m0 127v1m0 134v1"/><path class="p" d="M0 74v1m0 27v1m0 36v1m0 13v1m0 7v1m0 66v1m0 40v1m0 32v1m0 8v1m0 6v1m0 7v1"/><path class="q" d="M0 11v1m0 2v1m0 110v1m0 17v2m0 14v1m0 12v1m0 59v1m0 21v1"/><path class="r" d="M0 17v1m0 3v1m0 16v1m0 20v1m0 153v2m0 46v1m0 21v1m0 13v1m0 6v1m0 37v1m0 7v1"/><path class="s" d="M0 158v1m0 56v1m0 14v1m0 26v1m0 26v1m0 43v1m0 14v1m0 1v1"/><path class="t" d="M0 0v1m0 1v1m0 27v1m0 4v1m0 13v1m0 51v1m0 24v1m0 8v1m0 10v1m0 89v1m0 57v1m0 6v1m0 15v1m0 4v1m0 8v1m0 7v1m0 8v1"/><path class="u" d="M0 41v2m0 56v1m0 85v1m0 87v1m0 12v1m0 70v1m0 14v1m0 13v1m0 1v1m0 12v1"/><path class="v" d="M0 13v1m0 14v1m0 40v1m0 86v2m0 58v1m0 28v1m0 10v1m0 31v1m0 11v1m0 14v1m0 30v1"/><path class="w" d="M0 20v1m0 2v1m0 23v1m0 36v1m0 1v1m0 24v1m0 2v1m0 3v1m0 3v2m0 3v1m0 3v1m0 1v1m0 18v1m0 15v1m0 1v1m0 15v2m0 5v1m0 4v1m0 9v1m0 10v1m0 2v1m0 18v1m0 43v1m0 6v1m0 2v1m0 9v2m0 6v1m0 7v1m0 7v1m0 44v1m0 4v1m0 9v1m0 7v1m0 1v2"/><path class="x" d="M0 9v1m0 35v1m0 8v1m0 12v1m0 14v1m0 12v1m0 36v1m0 5v1m0 15v1m0 12v1m0 44v1m0 12v1m0 42v1m0 63v1m0 37v1m0 19v1m0 13v1"/></g>
<g id="q20"><path class="a" d="M0 4v2m0 2v1m0 3v1m0 8v1m0 18v2m0 5v1m0 23v1m0 6v2m0 5v1m0 2v1m0 18v1m0 26v1m0 1v1m0 17v1m0 38v1m0 4v1m0 31v1m0 4v1m0 1v1m0 4v1m0 17v1m0 22v1m0 26v1m0 25v1m0 5v2m0 7v1m0 7v1m0 4v1m0 17v1m0 1v1m0 5v1m0 4v1"/><path class="b" d="M0 54v1m0 14v1m0 2v1m0 11v1m0 1v1m0 29v1m0 41v1m0 86v1m0 56v1m0 25v1m0 73v1"/><path class="c" d="M0 15v1m0 52v1m0 234v1m0 11v1m0 16v1m0 22v1"/><path class="d" d="M0 73v1m0 8v1m0 61v1m0 10v1m0 90v1m0 156v1"/><path class="e" d="M0 3v1m0 12v1m0 18v1m0 1v1m0 10v1m0 10v1m0 2v2m0 1v1m0 46v1m0 44v1m0 32v1m0 1v1m0 7v2m0 31v1m0 5v1m0 23v1m0 8v1m0 40v1m0 5v1m0 53v1m0 2v1m0 1v1"/><path class="f" d="M0 29v1m0 153v1m0 56v1m0 46v1m0 41v1m0 42v1"/><path class="g" d="M0 10v1m0 8v1m0 78v1m0 19v1m0 30v1m0 13v4m0 14v1m0 24v1m0 17v1m0 53v2m0 41v1m0 45v1m0 13v1m0 1v1"/><path class="h" d="M0 2v1m0 41v1m0 19v1m0 16v1m0 11v1m0 5v1m0 6v1m0 10v1m0 7v1m0 12v1m0 13v1m0 15v1m0 8v1m0 69v1m0 7v1m0 24v1m0 11v1m0 4v1m0 10v1m0 11v1m0 2v1m0 2v1m0 3v1m0 22v1m0 9v1m0 29v1"/><path class="i" d="M0 100v2m0 25v2m0 27v1m0 56v1m0 1v1m0 41v1m0 116v1"/><path class="j" d="M0 9v1m0 36v1m0 11v1m0 35v1m0 28v1m0 21v2m0 15v1m0 22v2m0 9v1m0 2v1m0 51v1m0 15v2m0 25v1m0 4v1m0 4v1m0 55v1"/><path class="k" d="M0 7v1m0 23v1m0 4v1m0 8v1m0 4v1m0 9v1m0 6v1m0 7v1m0 15v1m0 13v1m0 13v1m0 4v1m0 63v1m0 6v1m0 9v1m0 14v1m0 2v1m0 10v1m0 18v1m0 37v1m0 4v1m0 10v1m0 1v1m0 23v1m0 1v1m0 1v1m0 2v1m0 13v1m0 14v1m0 7v1"/><path class="l" d="M0 20v1m0 9v1m0 64v1m0 36v1m0 4v1m0 9v2m0 31v1m0 67v1m0 49v1"/><path class="m" d="M0 51v1m0 28v1m0 9v1m0 12v1m0 57v1m0 5v1m0 36v1m0 5v1m0 8v1m0 91v1m0 13v1m0 8v1m0 57v1m0 5v1m0 6v1"/><path class="n" d="M0 38v2m0 30v1m0 33v1m0 3v1m0 11v1m0 30v1m0 1v1m0 19v2m0 27v1m0 4v3m0 15v1m0 5v1m0 4v1m0 4v1m0 7v1m0 2v1m0 6v1m0 5v1m0 29v1m0 10v1m0 10v1m0 4v1m0 1v1m0 13v1m0 10v2m0 14v1m0 13v2m0 13v1m0 1v2"/><path class="o" d="M0 43v1m0 9v1m0 33v1m0 42v1m0 10v1m0 47v1m0 22v1m0 3v1m0 10v1m0 172v1"/><path class="p" d="M0 110v1m0 28v1m0 144v1m0 61v1m0 15v1"/><path class="q" d="M0 169v1m0 1v1m0 10v1m0 86v1m0 4v1m0 10v1m0 45v1"/><path class="r" d="M0 11v1m0 21v1m0 23v1m0 16v1m0 38v1m0 8v1m0 52v1m0 3v1m0 42v1m0 31v1m0 11v1m0 47v1m0 26v1"/><path class="s" d="M0 1v1m0 112v1m0 72v1m0 23v1m0 176v1"/><path class="t" d="M0 61v1m0 15v1m0 18v2m0 11v1m0 1v1m0 21v1m0 6v1m0 50v1m0 22v1m0 23v1m0 17v1m0 13v1m0 2v1m0 3v1m0 10v1m0 29v1m0 26v1m0 2v1m0 12v1m0 8v2"/><path class="u" d="M0 13v1m0 13v2m0 13v1m0 12v2m0 172v1m0 13v2m0 13v1m0 27v1m0 71v1m0 27v2m0 13v1"/><path class="v" d="M0 115v1m0 56v1m0 143v1m0 27v1m0 44v1"/><path class="w" d="M0 0v1m0 5v1m0 19v1m0 94v1m0 13v1m0 14v1m0 25v1m0 7v1m0 9v1m0 2v1m0 19v1m0 8v1m0 34v2m0 8v1m0 17v2m0 9v2m0 3v1m0 79v1"/><path class="x" d="M0 17v1m0 7v1m0 26v1m0 36v1m0 41v1m0 71v1m0 14v1m0 13v1m0 49v1m0 29v1m0 34v1m0 43v1m0 7v1m0 4v1"/></g>
<g id="q21"><path class="a" d="M0 15v1m0 13v1m0 7v1m0 19v1m0 17v1m0 12v1m0 13v1m0 6v1m0 4v1m0 2v1m0 14v1m0 7v2m0 4v1m0 3v1m0 17v1m0 9v1m0 13v1m0 1v1m0 8v1m0 14v1m0 39v1m0 2v3m0 2v1m0 10v1m0 1v1m0 12v1m0 12v1m0 6v1m0 21v1m0 21v1m0 6v1m0 5v1m0 5v1m0 8v1m0 14v1"/><path class="b" d="M0 41v1m0 41v1m0 14v1m0 16v1m0 100v1m0 25v1m0 2v1m0 13v1m0 83v1"/><path class="c" d="M0 70v1m0 11v1m0 116v1m0 13v1m0 16v1m0 23v1m0 16v1m0 116v1"/><path class="d" d="M0 2v1m0 94v1m0 71v1m0 47v1m0 23v1m0 43v1"/><path class="e" d="M0 43v1m0 43v1m0 25v1m0 6v1m0 10v1m0 21v1m0 18v1m0 7v1m0 5v1m0 66v1m0 29v1m0 4v1m0 12v2m0 1v1m0 26v1m0 30v1m0 5v1m0 1v2m0 13v1m0 6v1m0 3v1m0 3v1"/><path class="f" d="M0 0v1m0 58v1m0 94v1m0 56v1m0 45v1m0 26v1m0 13v1m0 19v1m0 28v1"/><path class="g" d="M0 34v1m0 13v2m0 17v1m0 70v1m0 18v2m0 64v1m0 24v1m0 21v1m0 23v1m0 26v1m0 6v1"/><path class="h" d="M0 4v1m0 39v1m0 10v1m0 30v1m0 13v1m0 2v1m0 43v2m0 17v1m0 26v1m0 37v1m0 7v1m0 41v1m0 29v1m0 28v1m0 1v1m0 8v1m0 38v1"/><path class="i" d="M0 229v1m0 86v1m0 72v1"/><path class="j" d="M0 14v1m0 32v1m0 32v1m0 10v1m0 2v1m0 12v1m0 2v1m0 1v1m0 16v2m0 34v1m0 19v1m0 14v1m0 21v1m0 4v1m0 9v1m0 98v1m0 7v1m0 16v1m0 15v1m0 13v1m0 5v1m0 4v1"/><path class="k" d="M0 9v1m0 13v1m0 8v1m0 3v1m0 23v1m0 1v1m0 1v1m0 12v1m0 1v1m0 1v1m0 26v1m0 14v1m0 38v1m0 13v1m0 4v1m0 28v1m0 9v1m0 4v1m0 9v1m0 2v1m0 10v1m0 28v1m0 16v1m0 1v1m0 12v1m0 26v1m0 1v1"/><path class="l" d="M0 17v1m0 13v1m0 104v1m0 23v1m0 14v1m0 6v1m0 4v1m0 3v1m0 40v2m0 12v1m0 49v1m0 9v3m0 43v1m0 13v1m0 14v2"/><path class="m" d="M0 22v1m0 22v1m0 15v1m0 99v1m0 128v1"/><path class="n" d="M0 3v1m0 1v1m0 1v1m0 3v1m0 6v1m0 2v1m0 6v1m0 13v1m0 7v2m0 6v1m0 6v1m0 6v3m0 1v1m0 1v1m0 13v1m0 2v2m0 8v1m0 15v1m0 2v1m0 1v1m0 6v2m0 2v1m0 26v1m0 14v1m0 9v1m0 11v1m0 4v3m0 10v1m0 1v1m0 12v1m0 1v1m0 3v1m0 39v1m0 18v1m0 20v1m0 2v1m0 14v1m0 7v1m0 3v1m0 4v1m0 8v1m0 2v1m0 4v1m0 3v1m0 3v1"/><path class="o" d="M0 24v1m0 15v1m0 75v1m0 143v1m0 11v1"/><path class="p" d="M0 104v1m0 37v1m0 12v1m0 32v1m0 23v1m0 87v1m0 16v1m0 1v1m0 84v1"/><path class="q" d="M0 1v1m0 212v1m0 54v1m0 5v1m0 38v1m0 26v1"/><path class="r" d="M0 6v1m0 3v1m0 43v1m0 8v1m0 4v1m0 32v1m0 4v1m0 32v1m0 12v1m0 6v1m0 49v1m0 54v1m0 62v1m0 21v1m0 9v2m0 22v1"/><path class="s" d="M0 143v1m0 185v1m0 43v1"/><path class="t" d="M0 26v1m0 11v2m0 6v1m0 6v1m0 12v1m0 2v1m0 23v1m0 28v1m0 28v1m0 4v1m0 16v1m0 21v1m0 30v1m0 1v1m0 18v1m0 26v1m0 1v1m0 47v1m0 7v2m0 1v1m0 12v1m0 44v1m0 1v1m0 7v1"/><path class="u" d="M0 12v2m0 42v1m0 28v1m0 13v1m0 27v2m0 42v1m0 71v2m0 41v1m0 70v2m0 27v1"/><path class="v" d="M0 27v1m0 43v1m0 72v1m0 53v1m0 16v1m0 40v1m0 56v1m0 60v1"/><path class="w" d="M0 19v1m0 10v1m0 4v1m0 16v1m0 31v1m0 26v1m0 13v1m0 19v1m0 38v1m0 11v2m0 4v1m0 47v1m0 1v1m0 14v1m0 5v1m0 8v1m0 4v1m0 3v1m0 11v1m0 18v1m0 7v1m0 14v1m0 7v2m0 10v1m0 12v2m0 18v1m0 2v1m0 3v1"/><path class="x" d="M0 16v1m0 8v1m0 63v1m0 28v1m0 48v1m0 6v1m0 8v1m0 6v1m0 13v1m0 50v1m0 33v1m0 36v1"/></g>
<g id="q22"><path class="a" d="M0 28v1m0 6v1m0 10v1m0 33v1m0 1v1m0 14v1m0 1v1m0 21v1m0 11v1m0 10v1m0 6v1m0 5v1m0 8v1m0 16v1m0 1v1m0 2v1m0 24v1m0 29v3m0 20v1m0 1v2m0 11v1m0 12v1m0 7v1m0 2v1m0 13v1m0 6v1m0 2v2m0 64v1m0 9v1"/><path class="b" d="M0 57v1m0 57v1m0 13v1m0 12v1m0 99v1m0 30v1m0 54v1m0 16v1"/><path class="c" d="M0 87v1m0 51v1m0 90v1m0 25v1"/><path class="d" d="M0 25v1m0 32v1m0 114v1m0 85v1m0 14v1m0 71v1"/><path class="e" d="M0 10v1m0 4v1m0 1v1m0 3v1m0 40v1m0 10v1m0 2v2m0 7v1m0 131v1m0 52v1m0 5v1m0 19v1m0 46v1m0 15v1m0 12v2m0 22v1m0 7v1"/><path class="f" d="M0 0v1m0 15v1m0 24v1m0 29v1m0 12v1m0 71v1m0 14v1m0 10v1m0 29v1m0 75v1m0 10v1m0 3v1m0 86v1"/><path class="g" d="M0 1v1m0 61v1m0 26v1m0 46v1m0 10v1m0 13v1m0 5v1m0 23v1m0 12v1m0 25v1m0 29v1m0 31v1m0 23v1m0 20v1m0 26v1m0 22v1"/><path class="h" d="M0 3v1m0 16v1m0 30v1m0 26v1m0 2v1m0 48v1m0 34v1m0 15v1m0 18v1m0 51v1m0 12v1m0 11v1m0 33v1m0 8v1m0 14v1m0 12v1m0 19v1m0 14v1"/><path class="i" d="M0 26v1m0 59v1m0 288v1m0 11v1"/><path class="j" d="M0 23v1m0 6v1m0 16v1m0 8v1m0 41v1m0 6v1m0 5v1m0 34v2m0 5v1m0 9v2m0 4v1m0 4v1m0 4v1m0 7v1m0 27v1m0 31v1m0 12v1m0 1v1m0 4v1m0 17v1m0 50v1m0 14v1m0 18v2m0 13v1m0 7v1m0 3v1m0 5v1"/><path class="k" d="M0 8v1m0 39v1m0 17v1m0 12v1m0 28v1m0 27v1m0 1v1m0 67v1m0 1v1m0 10v1m0 15v1m0 2v1m0 53v1m0 2v1m0 13v1m0 14v1m0 16v1m0 20v1"/><path class="l" d="M0 11v1m0 42v1m0 17v1m0 19v1m0 16v1m0 94v1m0 15v1m0 18v1m0 39v1m0 86v1m0 24v2"/><path class="m" d="M0 104v1m0 20v1m0 108v1m0 18v1m0 29v1m0 7v1m0 47v1m0 23v1m0 12v1m0 5v1"/><path class="n" d="M0 4v1m0 1v1m0 2v1m0 9v1m0 4v1m0 4v1m0 4v1m0 7v1m0 2v1m0 14v2m0 5v1m0 23v1m0 4v1m0 10v1m0 10v3m0 1v1m0 12v1m0 13v1m0 10v2m0 15v1m0 12v2m0 1v2m0 3v1m0 3v1m0 4v1m0 15v1m0 1v2m0 9v1m0 9v1m0 4v1m0 12v1m0 10v1m0 6v1m0 23v3m0 4v1m0 8v2m0 13v1m0 9v1m0 1v1m0 17v1m0 9v2m0 15v1"/><path class="o" d="M0 271v2m0 54v1m0 58v1m0 13v1"/><path class="p" d="M0 44v1m0 8v1m0 34v1m0 28v1m0 49v1m0 2v1m0 40v1m0 43v1m0 33v1m0 54v1m0 15v1m0 28v1m0 9v1"/><path class="q" d="M0 101v1m0 14v1m0 9v1m0 4v1m0 8v2m0 30v1m0 56v1m0 2v1m0 8v1m0 56v1m0 17v1m0 40v1"/><path class="r" d="M0 12v1m0 1v1m0 3v1m0 3v1m0 4v1m0 4v1m0 10v1m0 45v1m0 42v1m0 70v1m0 14v1m0 21v1m0 45v2m0 22v1m0 50v1m0 7v1m0 4v1"/><path class="s" d="M0 55v1m0 44v1m0 153v1m0 2v1m0 84v1"/><path class="t" d="M0 2v1m0 28v1m0 43v1m0 17v1m0 1v1m0 10v1m0 38v1m0 6v1m0 42v1m0 14v1m0 5v1m0 32v1m0 13v1m0 40v1m0 13v1m0 2v1m0 11v1m0 22v1m0 23v1m0 3v1"/><path class="u" d="M0 128v1m0 70v1m0 58v1m0 41v2m0 13v1m0 42v1m0 43v1"/><path class="v" d="M0 40v1m0 42v1m0 29v2m0 40v1m0 45v1m0 26v1"/><path class="w" d="M0 5v1m0 7v1m0 19v1m0 25v1m0 4v1m0 3v3m0 23v1m0 15v1m0 1v1m0 21v1m0 8v1m0 6v1m0 3v1m0 3v2m0 20v1m0 3v1m0 1v1m0 2v1m0 19v1m0 4v1m0 9v1m0 2v1m0 20v1m0 29v1m0 1v1m0 33v1m0 10v1m0 5v1m0 2v1m0 15v1m0 13v1m0 14v1m0 1v1"/><path class="x" d="M0 39v1m0 12v1m0 21v1m0 49v1m0 50v1m0 21v1m0 86v1m0 5v1m0 21v1m0 19v1m0 22v1m0 42v1"/></g>
<g id="q23"><path class="a" d="M0 24v1m0 29v1m0 10v1m0 28v1m0 17v1m0 1v1m0 2v1m0 1v1m0 10v1m0 21v1m0 15v1m0 2v1m0 20v1m0 1v1m0 15v1m0 2v1m0 26v1m0 9v1m0 1v1m0 10v1m0 11v1m0 7v1m0 1v1m0 1v1m0 14v1m0 32v1m0 14v1m0 1v1m0 8v1m0 1v1m0 1v1m0 13v1m0 12v1"/><path class="b" d="M0 11v1m0 28v1m0 45v1m0 28v1m0 54v1m0 41v1m0 86v1m0 27v1m0 75v1"/><path class="c" d="M0 10v1m0 115v1"/><path class="d" d="M0 39v1m0 32v1m0 15v1m0 27v1m0 27v1m0 24v1m0 61v1m0 13v1m0 14v1m0 9v1m0 27v1m0 13v1m0 42v1m0 48v1"/><path class="e" d="M0 0v1m0 49v1m0 9v1m0 15v1m0 45v1m0 23v1m0 30v1m0 1v1m0 34v2m0 5v1m0 7v1m0 19v1m0 7v1m0 20v1m0 5v1m0 37v1m0 6v1m0 27v1m0 20v1m0 8v2m0 5v2"/><path class="f" d="M0 156v1m0 243v1"/><path class="g" d="M0 56v1m0 7v1m0 1v1m0 58v1m0 23v1m0 13v2m0 18v1m0 15v2m0 38v1m0 24v1m0 66v1m0 2v1m0 31v1m0 8v1"/><path class="h" d="M0 21v1m0 21v1m0 18v1m0 42v1m0 3v1m0 128v1m0 53v1m0 4v1m0 8v1m0 7v1m0 4v2m0 25v1m0 27v1m0 24v1"/><path class="i" d="M0 13v1m0 216v1m0 12v1"/><path class="j" d="M0 6v1m0 8v1m0 52v1m0 14v1m0 12v1m0 51v1m0 25v1m0 16v1m0 14v1m0 20v2m0 50v1m0 28v1m0 63v1m0 8v1"/><path class="k" d="M0 8v1m0 8v1m0 1v1m0 2v1m0 9v1m0 3v1m0 56v1m0 53v1m0 34v1m0 25v1m0 15v1m0 10v1m0 17v1m0 8v1m0 17v1m0 10v1m0 4v1m0 24v1m0 2v1m0 11v1m0 1v1m0 8v1m0 5v1m0 22v1"/><path class="l" d="M0 18v1m0 1v1m0 5v1m0 10v1m0 4v1m0 35v3m0 10v1m0 12v1m0 1v1m0 35v1m0 7v1m0 4v1m0 86v1m0 8v1m0 63v1"/><path class="m" d="M0 31v1m0 15v1m0 4v1m0 37v1m0 48v1m0 36v1m0 48v1m0 41v1m0 36v1m0 21v1m0 12v1m0 8v1m0 28v1m0 5v1"/><path class="n" d="M0 7v1m0 40v1m0 9v2m0 17v1m0 24v2m0 3v2m0 2v1m0 11v1m0 7v1m0 2v2m0 15v1m0 1v1m0 6v3m0 9v2m0 4v1m0 1v1m0 4v1m0 2v2m0 17v1m0 1v1m0 23v1m0 2v2m0 10v1m0 5v2m0 9v1m0 3v1m0 4v1m0 2v1m0 10v2m0 5v1m0 4v1m0 4v1m0 11v1m0 5v1m0 1v1m0 2v1m0 4v1m0 3v1m0 29v4m0 11v1m0 14v1m0 3v2"/><path class="o" d="M0 69v1m0 30v1m0 28v1m0 28v1m0 52v1"/><path class="p" d="M0 2v1m0 6v1m0 34v1m0 29v1m0 79v1m0 4v1m0 27v1m0 10v1m0 3v1m0 14v1m0 29v1m0 8v1m0 75v1m0 27v1m0 29v1m0 7v1"/><path class="q" d="M0 27v1m0 99v2m0 14v1m0 169v1"/><path class="r" d="M0 5v1m0 8v1m0 8v1m0 57v1m0 16v1m0 21v1m0 45v1m0 17v1m0 1v1m0 29v1m0 24v1m0 4v1m0 102v1m0 4v1m0 4v1m0 29v1"/><path class="s" d="M0 73v1m0 152v1m0 76v1m0 82v1"/><path class="t" d="M0 1v1m0 14v1m0 32v1m0 1v1m0 11v1m0 3v1m0 29v1m0 20v1m0 5v1m0 65v1m0 10v1m0 16v1m0 3v1m0 38v1m0 4v1m0 27v1m0 14v1m0 20v1m0 14v1m0 50v1"/><path class="u" d="M0 12v1m0 15v1m0 41v2m0 12v2m0 13v1m0 57v1m0 100v1m0 14v1m0 70v1m0 28v1"/><path class="v" d="M0 25v1m0 15v1m0 13v1m0 1v1m0 83v1m0 174v1m0 68v1"/><path class="w" d="M0 29v1m0 8v1m0 6v1m0 15v1m0 13v1m0 19v1m0 5v1m0 8v1m0 2v1m0 7v1m0 14v1m0 28v1m0 53v2m0 11v1m0 1v1m0 41v1m0 4v1m0 4v1m0 3v1m0 10v1m0 16v1m0 39v1m0 3v1m0 1v1m0 6v1m0 21v1"/><path class="x" d="M0 3v1m0 26v1m0 15v1m0 6v1m0 28v1m0 6v1m0 42v1m0 5v1m0 1v1m0 4v1m0 21v1m0 7v1m0 21v1m0 5v1m0 64v1m0 13v1m0 28v1m0 44v1m0 27v1m0 6v1m0 13v1"/></g>
<g id="r0"><path class="a" d="M0 1v1m0 5v1m0 5v3m0 30v2m0 30v1m0 6v1m0 6v1m0 5v1m0 14v1m0 12v1m0 3v1m0 3v1m0 2v1m0 1v2m0 17v1m0 8v2m0 13v1m0 16v2m0 3v1m0 3v1m0 7v3m0 1v1m0 11v2m0 3v1m0 6v1m0 4v4m0 41v1m0 5v1m0 8v2m0 23v1m0 3v1m0 1v1m0 14v1m0 24v1m0 6v1m0 5v1"/><path class="b" d="M0 29v1m0 13v1m0 13v1m0 11v1m0 14v1m0 27v1m0 114v1m0 17v1m0 39v1m0 17v1m0 13v1m0 25v1m0 27v1"/><path class="c" d="M0 111v1m0 74v1m0 1v1m0 86v1m0 66v1m0 2v1"/><path class="d" d="M0 30v1m0 27v1m0 9v1m0 14v1m0 60v1m0 38v1m0 42v1m0 57v1m0 17v1m0 10v1m0 4v1m0 51v1m0 32v1"/><path class="e" d="M0 26v1m0 18v1m0 6v1m0 33v1m0 61v1m0 2v1m0 43v2m0 17v1m0 44v1m0 11v1m0 21v1m0 21v1m0 11v1m0 46v1m0 14v1m0 11v1"/><path class="f" d="M0 11v1m0 189v1m0 184v1"/><path class="g" d="M0 24v1m0 130v1m0 19v1m0 3v1m0 126v1m0 16v1m0 8v1m0 15v1m0 3v1m0 24v1m0 14v1"/><path class="h" d="M0 3v1m0 132v1m0 68v1m0 4v1m0 19v1m0 91v1m0 39v1m0 4v2"/><path class="i" d="M0 87v1m0 96v1m0 89v1m0 39v1m0 87v1"/><path class="j" d="M0 28v1m0 60v1m0 9v1m0 7v1m0 1v1m0 39v1m0 26v1m0 12v1m0 1v1m0 31v1m0 4v1m0 14v1m0 19v1m0 14v2m0 3v1m0 2v1m0 2v1m0 1v1m0 13v1m0 13v1m0 5v1m0 31v1m0 15v1m0 23v1"/><path class="k" d="M0 21v1m0 26v1m0 41v1m0 13v1m0 15v1m0 45v1m0 10v1m0 14v1m0 1v1m0 71v1m0 15v1m0 80v1m0 19v1"/><path class="l" d="M0 6v1m0 16v1m0 1v1m0 12v1m0 52v1m0 40v1m0 143v2m0 18v1m0 40v1m0 41v1"/><path class="m" d="M0 37v1m0 43v1m0 13v1m0 50v1m0 134v1m0 29v1"/><path class="n" d="M0 0v1m0 1v1m0 1v2m0 3v1m0 9v1m0 2v1m0 8v6m0 12v2m0 2v2m0 4v5m0 8v4m0 1v1m0 1v2m0 16v1m0 3v2m0 2v2m0 7v1m0 2v2m0 3v1m0 1v2m0 1v2m0 4v1m0 7v2m0 7v1m0 1v2m0 8v1m0 1v1m0 4v5m0 24v1m0 4v1m0 2v1m0 2v1m0 1v3m0 8v1m0 2v1m0 8v2m0 12v1m0 4v1m0 1v2m0 4v1m0 2v1m0 2v2m0 11v1m0 11v1m0 2v1m0 11v2m0 11v2m0 2v1m0 3v1m0 6v1m0 3v1m0 7v1m0 1v2m0 13v1m0 1v1m0 2v1m0 2v1m0 5v1m0 9v1m0 5v3m0 2v2m0 3v2"/><path class="o" d="M0 42v1m0 1v1m0 43v1m0 157v1m0 57v1"/><path class="p" d="M0 10v1m0 16v1m0 42v2m0 28v1m0 53v1m0 115v1m0 26v1m0 35v1m0 12v1m0 14v1"/><path class="q" d="M0 187v1"/><path class="r" d="M0 123v1m0 39v1m0 51v1m0 5v1m0 2v1m0 40v1m0 7v1m0 14v1m0 42v1m0 9v1m0 18v1m0 21v1m0 1v1"/><path class="s" d="M0 156v1"/><path class="t" d="M0 39v1m0 24v1m0 109v1m0 6v1m0 3v1m0 50v1m0 21v1m0 28v1m0 10v1m0 54v2"/><path class="u" d="M0 41v1m0 13v2m0 86v1m0 85v1m0 71v1m0 42v1"/><path class="v" d="M0 202v1m0 28v1m0 25v1m0 71v2m0 27v2m0 25v1"/><path class="w" d="M0 8v1m0 3v1m0 4v2m0 21v1m0 10v1m0 24v1m0 16v2m0 8v1m0 4v1m0 1v1m0 4v2m0 2v1m0 9v1m0 8v1m0 8v1m0 9v1m0 1v1m0 1v1m0 16v1m0 1v1m0 12v1m0 25v1m0 18v1m0 1v3m0 4v1m0 6v1m0 5v1m0 1v1m0 6v1m0 2v1m0 26v1m0 16v1m0 19v1m0 19v1m0 8v1m0 9v2m0 4v1"/><path class="x" d="M0 16v1m0 50v1m0 14v1m0 13v1m0 34v1m0 13v1m0 14v1m0 29v1m0 6v1m0 41v1m0 50v1m0 21v1m0 13v1m0 63v1m0 7v1"/></g>
<g id="r1"><path class="a" d="M0 15v1m0 2v1m0 1v1m0 13v1m0 2v2m0 1v1m0 7v1m0 13v1m0 7v3m0 8v1m0 14v2m0 5v1m0 4v1m0 2v1m0 1v1m0 4v1m0 7v1m0 10v1m0 8v1m0 7v2m0 5v1m0 5v1m0 2v1m0 14v2m0 2v1m0 10v1m0 1v1m0 3v2m0 7v1m0 9v1m0 9v1m0 8v2m0 6v1m0 10v1m0 6v1m0 17v1m0 11v1m0 14v4m0 8v1m0 4v1m0 2v1m0 7v3m0 9v1m0 3v1m0 3v1m0 11v2m0 5v1m0 1v1m0 10v1m0 1v1m0 3v1"/><path class="b" d="M0 199v1m0 27v1m0 172v1"/><path class="c" d="M0 285v1m0 11v1m0 4v1"/><path class="d" d="M0 45v1m0 152v1m0 27v1m0 171v1m0 5v1"/><path class="e" d="M0 16v1m0 6v1m0 6v1m0 71v1m0 37v1m0 18v1m0 83v1m0 40v1m0 2v1m0 54v1m0 23v1m0 3v1m0 16v1"/><path class="f" d="M0 115v1m0 42v1m0 54v1m0 32v1m0 42v1m0 56v1"/><path class="g" d="M0 24v1m0 6v1m0 34v1m0 124v1m0 20v1m0 49v1m0 31v1m0 24v2m0 19v1"/><path class="h" d="M0 49v1m0 125v1m0 114v1m0 15v1m0 40v1m0 9v1"/><path class="i" d="M0 12v1m0 31v1m0 227v1m0 13v1"/><path class="j" d="M0 0v1m0 38v1m0 38v1m0 3v1m0 47v1m0 1v1m0 47v1m0 7v1m0 68v1m0 52v1m0 66v1"/><path class="k" d="M0 93v1m0 28v1m0 24v1m0 63v1m0 8v1m0 43v1m0 31v1m0 42v1m0 27v1m0 11v1m0 12v1m0 3v1"/><path class="l" d="M0 67v1m0 41v1m0 26v1m0 26v1m0 14v1m0 17v1m0 22v1m0 4v1m0 9v1m0 16v1m0 43v1m0 12v1m0 2v1m0 12v1m0 8v1m0 2v1"/><path class="m" d="M0 90v1m0 47v1m0 37v1m0 18v1m0 9v1m0 4v1m0 36v1m0 29v1m0 4v1m0 8v1m0 13v1m0 28v1m0 56v1"/><path class="n" d="M0 2v3m0 1v3m0 5v1m0 4v1m0 1v1m0 3v4m0 4v1m0 1v2m0 13v7m0 2v3m0 2v2m0 3v1m0 3v1m0 2v2m0 1v2m0 6v2m0 2v1m0 2v2m0 8v4m0 2v1m0 3v1m0 4v1m0 7v1m0 5v1m0 1v1m0 5v5m0 4v1m0 2v1m0 2v2m0 2v1m0 1v1m0 2v2m0 1v2m0 3v2m0 2v1m0 1v1m0 7v1m0 5v1m0 3v1m0 5v1m0 4v1m0 5v1m0 1v2m0 3v1m0 1v1m0 4v2m0 10v2m0 6v1m0 9v1m0 9v2m0 10v1m0 11v1m0 6v1m0 9v1m0 12v1m0 2v2m0 1v3m0 7v1m0 10v2m0 1v1m0 7v2m0 2v2m0 8v1m0 6v1m0 4v1m0 18v1"/><path class="o" d="M0 100v1m0 70v1"/><path class="p" d="M0 11v1m0 89v1m0 14v1m0 66v1m0 58v1m0 11v1m0 18v1m0 29v1m0 44v1m0 40v1"/><path class="q" d="M0 85v1m0 175v1m0 110v1m0 30v1"/><path class="r" d="M0 5v1m0 4v1m0 11v1m0 20v1m0 30v2m0 7v1m0 41v1m0 2v1m0 20v1m0 34v1m0 45v1m0 1v1m0 129v1"/><path class="s" d="M0 57v1m0 10v1m0 235v1m0 9v1m0 87v1"/><path class="t" d="M0 46v1m0 45v1m0 55v1m0 2v2m0 69v1m0 8v1m0 4v1m0 13v1m0 2v1m0 1v1m0 4v1m0 62v1m0 29v1m0 29v1m0 4v1"/><path class="u" d="M0 13v1m0 70v1m0 14v1m0 72v1m0 98v1m0 29v1m0 56v1m0 14v1"/><path class="v" d="M0 41v2m0 15v1m0 27v1m0 42v1m0 183v1m0 42v1m0 14v1"/><path class="w" d="M0 1v1m0 7v1m0 7v1m0 11v1m0 2v1m0 14v1m0 50v1m0 13v1m0 4v1m0 2v1m0 2v2m0 6v1m0 2v1m0 46v2m0 9v1m0 1v1m0 6v1m0 7v1m0 8v1m0 14v1m0 3v1m0 11v1m0 6v1m0 2v1m0 5v3m0 6v1m0 3v1m0 2v1m0 11v1m0 27v1m0 9v1m0 9v1m0 9v1m0 2v1m0 13v2m0 8v1m0 1v1m0 4v1"/><path class="x" d="M0 89v1m0 49v1m0 50v1m0 13v1m0 34v1m0 35v1m0 7v1m0 14v1m0 13v1m0 77v1"/></g>
<g id="r2"><path class="a" d="M0 4v1m0 5v1m0 1v2m0 1v3m0 1v1m0 15v1m0 3v2m0 14v1m0 16v1m0 1v1m0 2v1m0 3v1m0 2v1m0 2v1m0 18v1m0 13v1m0 12v1m0 1v1m0 1v1m0 1v1m0 16v1m0 5v1m0 2v1m0 4v1m0 6v1m0 6v1m0 7v1m0 3v1m0 20v1m0 2v1m0 3v1m0 11v2m0 3v3m0 4v1m0 1v1m0 1v1m0 1v1m0 34v1m0 5v1m0 21v1m0 10v1m0 13v1m0 16v1m0 1v2m0 4v1m0 6v1m0 11v1m0 5v1m0 3v1m0 2v1"/><path class="b" d="M0 26v1m0 41v1m0 29v1m0 174v1m0 29v1m0 10v1"/><path class="c" d="M0 372v1"/><path class="d" d="M0 25v1m0 43v1m0 27v1m0 14v1m0 27v1m0 133v1m0 38v1m0 90v1"/><path class="e" d="M0 33v1m0 26v1m0 12v1m0 123v1m0 47v1m0 30v1m0 2v1m0 25v1m0 4v1m0 12v2m0 46v1m0 17v1m0 8v1"/><path class="f" d="M0 117v1m0 40v1m0 1v1m0 139v1m0 11v1"/><path class="g" d="M0 43v1m0 179v1m0 1v1m0 2v1m0 6v1m0 2v1m0 25v1m0 34v1m0 21v1m0 32v1m0 21v1m0 5v1"/><path class="h" d="M0 37v1m0 72v1m0 102v1m0 16v1m0 32v1m0 18v1m0 4v1m0 16v1m0 39v1"/><path class="i" d="M0 70v1m0 332v1"/><path class="j" d="M0 11v1m0 15v1m0 20v1m0 1v1m0 5v1m0 1v1m0 19v1m0 16v1m0 7v1m0 30v1m0 11v1m0 17v1m0 6v1m0 1v1m0 11v1m0 3v2m0 25v1m0 22v1m0 9v1m0 3v1m0 14v1m0 11v2m0 11v1m0 21v1m0 2v1m0 19v1m0 40v1m0 15v1m0 6v1"/><path class="k" d="M0 36v1m0 71v1m0 14v1m0 27v1m0 24v1m0 2v1m0 11v1m0 115v1m0 42v1m0 1v1m0 28v1"/><path class="l" d="M0 2v1m0 60v1m0 1v1m0 84v1m0 10v1m0 43v1m0 23v1m0 31v1m0 64v1m0 8v1m0 4v1m0 28v1m0 27v1"/><path class="m" d="M0 3v1m0 63v1m0 22v1m0 27v1m0 5v1m0 28v1m0 27v1m0 22v1m0 5v1m0 36v1m0 35v1m0 12v1m0 28v1m0 13v1m0 51v1"/><path class="n" d="M0 0v2m0 3v2m0 1v2m0 4v1m0 3v1m0 1v1m0 2v2m0 6v2m0 1v1m0 3v1m0 2v1m0 7v1m0 1v4m0 6v2m0 1v1m0 10v2m0 2v2m0 5v1m0 4v4m0 4v1m0 4v1m0 2v1m0 3v1m0 7v1m0 1v1m0 23v1m0 1v3m0 17v1m0 6v2m0 2v1m0 1v1m0 14v1m0 4v1m0 7v2m0 11v1m0 4v1m0 17v1m0 6v1m0 14v1m0 10v2m0 13v1m0 1v1m0 6v2m0 3v1m0 1v1m0 10v2m0 1v1m0 4v1m0 1v6m0 2v1m0 9v3m0 3v1m0 2v1m0 3v1m0 2v1m0 14v1m0 21v2"/><path class="o" d="M0 215v1m0 127v1"/><path class="p" d="M0 30v1m0 13v1m0 37v1m0 26v1m0 6v1m0 14v1m0 12v1m0 14v1m0 8v1m0 19v1m0 9v1m0 28v1m0 3v1m0 30v1m0 6v1m0 28v1m0 12v1m0 4v1m0 51v1m0 8v1"/><path class="q" d="M0 258v1"/><path class="r" d="M0 21v1m0 23v1m0 25v1m0 11v1m0 38v1m0 7v1m0 12v1m0 8v1m0 19v1m0 26v1m0 6v1m0 5v1m0 43v1m0 13v1m0 93v1m0 1v1m0 18v1"/><path class="s" d="M0 96v1m0 30v1m0 41v1m0 17v1m0 13v1m0 82v1"/><path class="t" d="M0 29v1m0 85v1m0 50v1m0 55v1m0 32v1m0 9v1m0 79v1m0 24v1m0 17v1"/><path class="u" d="M0 113v1m0 28v1m0 114v1m0 28v1m0 70v2"/><path class="v" d="M0 42v1m0 83v1m0 1v2m0 72v1m0 56v1m0 11v2m0 15v1m0 84v1"/><path class="w" d="M0 7v1m0 14v1m0 5v1m0 17v2m0 9v1m0 8v1m0 18v1m0 14v3m0 2v1m0 8v1m0 17v1m0 3v1m0 1v1m0 16v1m0 1v1m0 5v1m0 19v1m0 2v1m0 6v2m0 12v1m0 26v1m0 5v1m0 26v1m0 17v1m0 5v1m0 17v1m0 26v1m0 9v1m0 18v1m0 9v1m0 4v1m0 6v1m0 5v2"/><path class="x" d="M0 59v1m0 28v1m0 36v1m0 28v1m0 27v1m0 20v1m0 7v1m0 6v1m0 13v1m0 13v1m0 13v1m0 14v1m0 14v1m0 6v1m0 43v1m0 13v1m0 28v1m0 5v1m0 14v1"/></g>
<g id="r3"><path class="a" d="M0 0v1m0 1v1m0 10v1m0 8v1m0 4v1m0 2v1m0 8v1m0 13v1m0 6v1m0 13v2m0 3v1m0 2v2m0 3v1m0 4v1m0 19v1m0 40v1m0 11v1m0 9v1m0 16v1m0 4v4m0 6v1m0 4v1m0 2v2m0 2v1m0 14v1m0 3v1m0 15v1m0 14v1m0 3v2m0 13v1m0 1v1m0 10v1m0 3v1m0 8v1m0 19v1m0 5v2m0 3v1m0 8v1m0 17v1m0 2v1m0 19v1m0 4v1"/><path class="b" d="M0 72v1m0 28v1m0 39v1m0 13v1m0 31v1m0 26v1m0 56v1m0 31v1m0 24v1m0 14v1m0 13v1m0 13v1m0 1v1"/><path class="c" d="M0 241v1m0 163v1"/><path class="d" d="M0 73v1m0 65v1m0 14v1m0 33v1m0 24v1m0 12v1m0 29v1m0 13v1m0 56v1m0 14v1m0 13v1m0 17v1"/><path class="e" d="M0 20v1m0 2v1m0 9v1m0 8v1m0 13v1m0 1v1m0 8v1m0 69v1m0 32v2m0 48v1m0 16v1m0 17v1m0 2v1m0 28v1m0 11v1m0 15v1m0 39v1"/><path class="f" d="M0 25v1m0 70v1m0 61v1m0 42v1m0 29v1m0 114v1m0 55v1"/><path class="g" d="M0 35v1m0 42v1m0 69v1m0 31v1m0 25v1m0 109v1m0 18v1m0 13v1m0 3v1"/><path class="h" d="M0 102v1m0 48v1m0 97v1"/><path class="i" d="M0 227v1m0 14v1"/><path class="j" d="M0 10v1m0 18v1m0 10v1m0 16v1m0 1v1m0 6v1m0 27v1m0 22v1m0 2v1m0 4v3m0 2v1m0 14v1m0 22v2m0 14v1m0 6v1m0 25v1m0 11v2m0 4v1m0 7v1m0 41v1m0 3v1m0 41v1m0 12v1m0 19v1"/><path class="k" d="M0 36v1m0 25v1m0 2v1m0 11v1m0 17v1m0 11v1m0 11v1m0 14v1m0 1v1m0 25v1m0 60v1m0 29v1m0 10v1m0 26v1m0 1v1m0 27v1m0 30v1m0 25v1"/><path class="l" d="M0 50v1m0 82v1m0 18v1m0 10v1m0 38v1m0 62v1m0 11v1m0 32v1m0 66v1m0 4v1m0 9v1"/><path class="m" d="M0 37v1m0 85v1m0 23v1m0 13v1m0 19v1m0 8v1m0 13v1m0 34v1m0 7v1m0 56v1m0 58v1m0 5v1m0 26v1"/><path class="n" d="M0 1v1m0 1v5m0 1v1m0 4v6m0 6v1m0 4v2m0 10v3m0 1v1m0 1v1m0 1v2m0 1v1m0 6v1m0 2v1m0 3v2m0 6v1m0 3v1m0 3v2m0 2v2m0 7v1m0 2v1m0 3v1m0 1v1m0 1v4m0 6v1m0 2v2m0 5v2m0 2v1m0 2v1m0 2v1m0 3v3m0 4v2m0 13v1m0 7v2m0 2v2m0 15v4m0 8v1m0 3v3m0 6v1m0 5v1m0 23v1m0 2v2m0 9v2m0 2v3m0 7v1m0 1v4m0 1v2m0 7v1m0 1v1m0 2v1m0 2v1m0 1v1m0 6v1m0 1v1m0 8v1m0 4v1m0 7v1m0 3v1m0 12v2m0 6v1m0 7v2m0 12v2m0 1v1m0 4v2m0 3v2m0 4v1"/><path class="o" d="M0 116v1m0 201v1"/><path class="p" d="M0 11v1m0 43v1m0 47v1m0 155v1m0 38v1m0 13v1m0 34v1m0 36v1"/><path class="q" d="M0 24v1m0 90v1m0 87v1m0 28v1m0 7v1m0 76v1"/><path class="r" d="M0 8v1m0 3v1m0 8v1m0 19v1m0 21v1m0 26v1m0 83v1m0 4v1m0 41v1m0 6v1m0 4v1m0 48v1m0 12v2m0 9v2m0 16v1m0 4v1m0 35v1m0 19v1"/><path class="s" d="M0 313v1m0 45v1m0 16v1"/><path class="t" d="M0 34v1m0 131v2m0 40v1m0 77v1m0 103v2"/><path class="u" d="M0 156v2m0 27v2m0 70v1"/><path class="v" d="M0 98v2m0 14v1m0 44v1m0 170v1m0 29v1m0 42v1"/><path class="w" d="M0 28v1m0 17v1m0 1v1m0 21v2m0 9v1m0 4v1m0 4v1m0 1v1m0 11v1m0 7v1m0 17v1m0 51v1m0 38v1m0 2v1m0 10v1m0 7v2m0 14v2m0 10v1m0 2v1m0 43v1m0 3v1m0 2v1m0 5v1m0 5v2m0 28v1m0 17v2m0 13v1"/><path class="x" d="M0 38v1m0 85v1m0 21v1m0 13v1m0 21v1m0 6v1m0 56v1m0 101v1m0 12v1m0 36v1m0 5v1"/></g>
<g id="r4"><path class="a" d="M0 7v2m0 5v1m0 5v1m0 3v1m0 17v1m0 10v1m0 15v3m0 2v1m0 4v1m0 7v1m0 6v1m0 7v1m0 2v1m0 15v1m0 12v1m0 16v1m0 10v1m0 3v1m0 12v1m0 10v1m0 3v1m0 2v2m0 1v1m0 4v1m0 3v1m0 4v1m0 1v1m0 1v1m0 6v1m0 6v1m0 17v1m0 16v1m0 9v1m0 1v2m0 14v1m0 2v1m0 6v1m0 3v1m0 19v1m0 18v1m0 2v1m0 1v1m0 16v1m0 4v1m0 5v1m0 15v1m0 4v2"/><path class="b" d="M0 84v1m0 13v1m0 30v1m0 10v1m0 44v1m0 15v1m0 40v1m0 15v1m0 57v1m0 68v1"/><path class="c" d="M0 124v1m0 1v1m0 184v1m0 2v1m0 41v1"/><path class="d" d="M0 10v1m0 104v1m0 14v1m0 14v1m0 38v1m0 3v1m0 52v1m0 119v1"/><path class="e" d="M0 43v1m0 2v2m0 15v1m0 8v1m0 22v1m0 16v1m0 45v1m0 11v1m0 1v1m0 23v1m0 6v1m0 36v1m0 2v1m0 40v1m0 17v1m0 15v2m0 63v1m0 7v1m0 2v1m0 5v1"/><path class="f" d="M0 29v1m0 11v1m0 26v1m0 74v1m0 68v1m0 60v1m0 125v1"/><path class="g" d="M0 35v1m0 28v1m0 16v1m0 91v1m0 4v1m0 14v1m0 70v1m0 70v1m0 41v1m0 12v1m0 2v1"/><path class="h" d="M0 31v1m0 20v1m0 40v1m0 12v1m0 25v1m0 59v1m0 28v1m0 25v1m0 69v1m0 46v1m0 17v1"/><path class="i" d="M0 313v1m0 43v1m0 2v1"/><path class="j" d="M0 28v1m0 25v1m0 37v1m0 10v1m0 7v1m0 11v1m0 31v2m0 2v1m0 1v1m0 42v1m0 12v1m0 2v1m0 68v1m0 30v1m0 18v1m0 15v1m0 16v1m0 32v1"/><path class="k" d="M0 18v1m0 114v1m0 18v1m0 10v1m0 27v1m0 57v1m0 28v1m0 13v1m0 30v1m0 2v1m0 23v1m0 1v1m0 43v1"/><path class="l" d="M0 21v1m0 17v1m0 40v1m0 68v1m0 3v1m0 84v1m0 12v1m0 10v1m0 5v1m0 12v3m0 82v1"/><path class="m" d="M0 38v1m0 12v1m0 86v1m0 107v1m0 1v1m0 12v1m0 29v1m0 42v1m0 33v1"/><path class="n" d="M0 0v1m0 1v5m0 8v3m0 1v1m0 2v1m0 3v1m0 6v1m0 2v1m0 8v1m0 2v3m0 4v3m0 1v3m0 3v1m0 19v2m0 1v4m0 7v3m0 2v1m0 2v4m0 5v2m0 1v2m0 1v1m0 8v1m0 3v1m0 5v2m0 7v1m0 3v1m0 2v1m0 2v1m0 6v1m0 7v1m0 1v1m0 2v1m0 8v1m0 5v1m0 10v3m0 1v1m0 4v1m0 3v1m0 2v1m0 4v1m0 6v2m0 1v1m0 14v1m0 2v2m0 8v2m0 2v2m0 14v1m0 7v2m0 1v1m0 3v2m0 4v3m0 13v1m0 1v1m0 3v1m0 3v1m0 4v1m0 8v1m0 7v1m0 7v2m0 1v1m0 1v1m0 10v1m0 1v1m0 5v1m0 5v1m0 2v1m0 8v1"/><path class="o" d="M0 82v1m0 176v1m0 124v1m0 3v1"/><path class="p" d="M0 30v1m0 1v1m0 11v1m0 28v1m0 94v1m0 5v1m0 7v1m0 28v1m0 32v1m0 58v1m0 27v1m0 10v1m0 2v1m0 25v1m0 26v1"/><path class="q" d="M0 67v1m0 59v1m0 16v1m0 57v1"/><path class="r" d="M0 40v1m0 106v2m0 22v1m0 9v1m0 81v1m0 66v1m0 12v2m0 2v1m0 10v2m0 16v1m0 2v1m0 21v1"/><path class="s" d="M0 169v1m0 75v1m0 81v1m0 45v1"/><path class="t" d="M0 9v1m0 173v1m0 39v2m0 14v1m0 47v1m0 16v1m0 16v1m0 67v1"/><path class="u" d="M0 13v1m0 100v1m0 13v1m0 57v1m0 41v2m0 41v2m0 114v1"/><path class="v" d="M0 274v1m0 13v1m0 26v1m0 58v1"/><path class="w" d="M0 1v1m0 21v1m0 1v1m0 1v1m0 6v1m0 2v1m0 20v1m0 3v1m0 3v1m0 10v1m0 35v1m0 4v1m0 17v2m0 27v1m0 10v1m0 22v1m0 13v1m0 12v1m0 3v2m0 1v1m0 19v2m0 2v1m0 17v2m0 9v1m0 10v1m0 1v1m0 10v1m0 14v1m0 12v1m0 2v1m0 7v1"/><path class="x" d="M0 75v1m0 49v1m0 20v1m0 113v1m0 29v1m0 42v1m0 6v1m0 28v1"/></g>
<g id="r5"><path class="a" d="M0 9v1m0 4v3m0 9v1m0 12v1m0 2v1m0 4v1m0 5v1m0 4v1m0 2v1m0 1v1m0 5v1m0 3v1m0 1v1m0 9v2m0 12v2m0 2v1m0 1v1m0 2v1m0 2v1m0 8v1m0 9v1m0 4v1m0 9v1m0 5v1m0 15v1m0 4v1m0 9v1m0 10v1m0 1v1m0 1v4m0 8v1m0 3v1m0 4v1m0 1v1m0 14v1m0 12v1m0 5v2m0 6v1m0 11v1m0 1v1m0 4v1m0 4v1m0 1v2m0 1v1m0 16v1m0 43v1m0 4v1m0 15v1m0 1v1m0 14v1m0 6v1m0 1v1m0 1v1"/><path class="b" d="M0 43v1m0 112v1m0 16v1m0 125v1m0 59v1"/><path class="c" d="M0 228v1"/><path class="d" d="M0 0v1m0 43v1m0 123v1m0 5v1m0 12v1m0 124v1m0 47v1"/><path class="e" d="M0 12v1m0 27v2m0 51v1m0 90v1m0 42v1m0 62v1m0 10v1m0 9v1m0 6v1m0 15v1m0 5v1m0 6v1"/><path class="f" d="M0 25v1m0 71v1m0 27v1m0 89v1m0 25v1m0 15v1m0 59v1"/><path class="g" d="M0 46v1m0 45v1m0 25v1m0 66v1m0 36v1m0 23v1m0 6v1m0 41v1m0 25v1m0 29v1m0 27v1m0 1v1m0 11v1m0 10v1"/><path class="h" d="M0 76v1m0 12v1m0 19v1m0 22v1m0 44v1m0 85v1m0 41v1m0 19v1m0 10v1m0 7v1m0 20v1m0 1v1"/><path class="i" d="M0 186v1"/><path class="j" d="M0 2v1m0 56v1m0 14v1m0 20v1m0 6v1m0 1v1m0 29v1m0 2v1m0 9v1m0 18v1m0 13v1m0 2v1m0 20v1m0 20v1m0 19v1m0 31v1m0 6v1m0 25v1m0 26v1m0 1v1m0 32v1m0 18v1"/><path class="k" d="M0 4v1m0 43v1m0 31v1m0 41v1m0 42v1m0 10v1m0 14v1m0 32v1m0 24v1m0 56v1m0 42v1m0 3v1m0 14v1m0 9v1"/><path class="l" d="M0 7v1m0 27v2m0 57v1m0 26v1m0 11v1m0 4v1m0 99v1m0 70v1m0 38v1m0 56v1"/><path class="m" d="M0 37v1m0 102v1m0 70v1m0 22v1m0 47v1m0 13v1m0 80v1"/><path class="n" d="M0 3v1m0 1v2m0 3v1m0 2v1m0 3v5m0 1v1m0 3v7m0 17v2m0 2v3m0 2v1m0 1v1m0 1v1m0 5v1m0 6v1m0 1v1m0 1v1m0 8v2m0 6v1m0 2v1m0 4v2m0 2v1m0 1v4m0 1v1m0 8v1m0 4v1m0 4v1m0 2v1m0 9v1m0 2v1m0 4v1m0 4v3m0 10v1m0 2v2m0 1v1m0 6v1m0 5v1m0 1v1m0 4v1m0 3v4m0 10v1m0 3v1m0 6v2m0 4v1m0 2v1m0 4v1m0 13v1m0 2v1m0 4v2m0 1v3m0 3v1m0 2v1m0 6v1m0 6v1m0 7v1m0 2v2m0 14v2m0 2v2m0 4v2m0 2v1m0 1v1m0 2v1m0 2v2m0 7v1m0 3v3m0 1v1m0 2v4m0 4v2m0 9v1m0 1v3m0 7v1m0 1v3"/><path class="o" d="M0 298v1m0 16v1"/><path class="p" d="M0 11v1m0 12v1m0 63v1m0 7v1m0 27v1m0 28v1m0 6v1m0 79v1m0 6v1m0 12v1m0 41v1m0 29v1m0 52v1"/><path class="r" d="M0 1v1m0 47v1m0 33v1m0 3v1m0 73v1m0 80v2m0 8v1m0 6v1m0 71v1m0 14v1m0 39v1m0 11v1"/><path class="s" d="M0 45v1m0 21v1m0 16v1m0 43v1m0 12v1m0 61v1m0 8v1"/><path class="t" d="M0 8v1m0 41v1m0 15v1m0 92v1m0 243v1"/><path class="u" d="M0 142v2m0 27v1m0 57v1m0 157v2"/><path class="v" d="M0 129v1m0 86v1m0 39v1m0 86v1m0 1v1"/><path class="w" d="M0 22v1m0 11v1m0 19v1m0 10v1m0 2v1m0 2v2m0 9v1m0 33v1m0 2v1m0 3v1m0 3v1m0 16v1m0 1v1m0 1v1m0 1v1m0 7v1m0 30v2m0 1v1m0 9v1m0 11v1m0 2v1m0 19v1m0 26v2m0 2v1m0 3v2m0 6v1m0 6v1m0 5v2m0 12v1m0 8v1m0 10v2m0 37v1m0 4v1m0 2v1m0 14v1m0 10v1m0 1v1"/><path class="x" d="M0 38v1m0 171v1m0 15v1m0 5v1m0 50v1m0 13v1m0 28v1m0 49v1"/></g>
<g id="r6"><path class="a" d="M0 2v2m0 9v1m0 1v1m0 12v1m0 2v1m0 4v2m0 26v2m0 38v1m0 4v1m0 3v1m0 9v1m0 4v1m0 14v1m0 16v1m0 11v1m0 9v3m0 5v1m0 6v1m0 2v2m0 5v1m0 5v1m0 7v1m0 3v2m0 3v1m0 6v1m0 5v1m0 1v1m0 4v1m0 10v1m0 2v1m0 13v1m0 10v1m0 5v1m0 10v1m0 5v1m0 5v1m0 9v1m0 9v1m0 10v1m0 3v1m0 8v1m0 3v1m0 1v1m0 2v1m0 7v1m0 3v2m0 1v1m0 4v1m0 8v1m0 1v1m0 1v1"/><path class="b" d="M0 101v1m0 97v1m0 42v1m0 13v1m0 70v1m0 71v1"/><path class="c" d="M0 299v1"/><path class="d" d="M0 26v1m0 75v1m0 56v1m0 27v1m0 10v1m0 42v1m0 43v1m0 60v1"/><path class="e" d="M0 61v1m0 45v1m0 30v1m0 27v1m0 7v1m0 53v1m0 23v1m0 18v1m0 35v1m0 2v1m0 10v1m0 18v1"/><path class="f" d="M0 69v1m0 45v1m0 39v1m0 46v1m0 9v1"/><path class="g" d="M0 117v2m0 32v1m0 25v1m0 55v1m0 45v1m0 24v1m0 3v1m0 15v1m0 17v1m0 37v1m0 13v1"/><path class="h" d="M0 52v1m0 25v1m0 57v1m0 67v1m0 57v1m0 28v1m0 42v1"/><path class="i" d="M0 186v1"/><path class="j" d="M0 20v1m0 11v1m0 1v1m0 57v1m0 12v1m0 21v1m0 67v1m0 40v1m0 12v1m0 16v1m0 31v1m0 18v1m0 14v1m0 27v2"/><path class="k" d="M0 62v1m0 57v1m0 31v1m0 27v1m0 25v1m0 13v1m0 2v1m0 8v1m0 2v1m0 41v1m0 31v1m0 13v1m0 28v1m0 23v1"/><path class="l" d="M0 86v1m0 35v1m0 10v1m0 29v1m0 89v1m0 87v1m0 54v1"/><path class="m" d="M0 23v1m0 27v1m0 43v1m0 15v1m0 64v1m0 28v1m0 48v1m0 12v1m0 58v1m0 71v1"/><path class="n" d="M0 1v1m0 2v5m0 1v3m0 1v1m0 1v4m0 1v2m0 6v1m0 3v1m0 4v2m0 3v1m0 2v5m0 6v4m0 2v1m0 2v2m0 7v3m0 1v1m0 1v3m0 4v1m0 1v1m0 3v1m0 2v1m0 8v1m0 1v1m0 1v1m0 3v1m0 4v1m0 11v2m0 2v1m0 4v1m0 3v4m0 1v2m0 5v1m0 4v2m0 1v2m0 1v3m0 9v1m0 8v2m0 4v1m0 1v1m0 11v2m0 7v2m0 3v1m0 11v1m0 3v3m0 5v3m0 10v2m0 15v1m0 3v3m0 9v2m0 2v1m0 4v3m0 9v3m0 3v2m0 12v1m0 3v1m0 10v1m0 1v1m0 3v1m0 1v3m0 4v2m0 2v1m0 4v3m0 6v2m0 2v1m0 6v2m0 3v1m0 7v1"/><path class="o" d="M0 99v1m0 231v1"/><path class="p" d="M0 40v1m0 1v1m0 2v1m0 22v1m0 4v1m0 42v1m0 24v1m0 12v1m0 30v1m0 17v1m0 7v1m0 58v1m0 4v1m0 7v1"/><path class="q" d="M0 85v1m0 72v1m0 171v1m0 14v1"/><path class="r" d="M0 44v1m0 46v1m0 29v1m0 12v1m0 7v1m0 30v1m0 53v1m0 3v1m0 33v1m0 8v1m0 36v1m0 31v1m0 25v1m0 5v1"/><path class="s" d="M0 72v1m0 39v1m0 16v1m0 27v1m0 57v1"/><path class="t" d="M0 41v1m0 51v1m0 2v1m0 6v1m0 20v1m0 67v1m0 17v1m0 52v1m0 20v1m0 5v1m0 14v1m0 33v1m0 38v1m0 16v1"/><path class="u" d="M0 27v1m0 27v2m0 13v2m0 12v1m0 15v1m0 69v2m0 115v1m0 12v1m0 86v2"/><path class="v" d="M0 0v1m0 86v1m0 42v1m0 85v1m0 40v2m0 13v2m0 55v1m0 14v1"/><path class="w" d="M0 9v1m0 15v1m0 4v1m0 4v1m0 17v2m0 19v1m0 5v1m0 8v1m0 8v1m0 38v1m0 1v1m0 8v1m0 4v1m0 24v1m0 2v1m0 9v1m0 22v1m0 4v1m0 4v1m0 4v1m0 14v1m0 6v1m0 17v1m0 18v1m0 5v1m0 2v1m0 18v1m0 18v2m0 10v1m0 7v1m0 3v1m0 10v1m0 18v2m0 10v1m0 1v1"/><path class="x" d="M0 24v1m0 101v1m0 48v1m0 92v1m0 56v1"/></g>
<g id="r7"><path class="a" d="M0 3v1m0 17v1m0 24v1m0 1v1m0 4v3m0 4v1m0 9v1m0 15v1m0 1v2m0 6v1m0 3v1m0 4v1m0 11v1m0 6v1m0 10v1m0 3v1m0 14v1m0 2v2m0 1v1m0 8v3m0 2v1m0 1v1m0 3v1m0 12v1m0 2v1m0 19v1m0 33v1m0 2v1m0 18v1m0 2v1m0 5v1m0 2v3m0 13v2m0 3v1m0 18v1m0 2v2m0 8v1m0 53v1"/><path class="b" d="M0 69v1m0 31v1m0 25v1m0 16v1m0 57v1m0 10v1m0 57v1m0 30v1m0 40v1m0 12v1"/><path class="c" d="M0 84v1"/><path class="d" d="M0 26v1m0 41v1m0 33v1m0 23v1m0 18v1m0 57v1m0 7v1m0 14v1m0 43v1m0 119v1m0 8v1"/><path class="e" d="M0 22v1m0 15v2m0 41v1m0 46v2m0 29v1m0 41v1m0 8v1m0 19v1m0 67v1m0 23v1m0 21v2m0 12v1m0 5v1m0 6v1m0 10v1"/><path class="f" d="M0 11v1m0 129v1m0 83v1m0 73v1m0 13v1m0 2v1m0 13v1"/><path class="g" d="M0 7v1m0 58v1m0 11v1m0 110v1m0 19v1m0 55v1m0 31v1m0 9v1m0 4v1m0 23v1m0 26v1m0 2v1m0 30v1"/><path class="h" d="M0 49v1m0 27v1m0 32v1m0 70v1m0 69v2m0 27v1m0 22v1m0 35v1m0 2v1m0 38v1m0 1v1"/><path class="i" d="M0 200v1m0 28v1m0 171v1"/><path class="j" d="M0 31v1m0 1v1m0 29v1m0 7v2m0 14v1m0 19v1m0 29v1m0 14v1m0 9v1m0 5v1m0 17v1m0 8v1m0 38v1m0 1v1m0 25v1m0 4v1m0 15v1m0 4v1m0 4v1m0 1v1m0 58v1m0 7v1m0 9v1m0 15v1"/><path class="k" d="M0 51v1m0 13v1m0 42v1m0 10v1m0 2v1m0 13v1m0 57v1m0 10v1m0 13v1m0 4v1m0 38v1m0 2v1m0 15v1m0 9v1m0 17v1m0 38v1m0 43v1"/><path class="l" d="M0 138v1m0 22v1m0 1v1m0 28v1m0 14v1m0 31v1m0 9v1m0 70v1m0 2v1m0 7v1m0 2v1m0 20v1m0 18v1"/><path class="m" d="M0 23v1m0 123v1m0 42v1m0 41v1m0 44v1m0 13v1m0 4v1m0 28v1m0 43v1m0 7v1m0 27v1"/><path class="n" d="M0 0v2m0 2v3m0 1v2m0 2v7m0 6v1m0 2v3m0 3v4m0 2v1m0 3v2m0 1v1m0 8v3m0 2v1m0 5v1m0 5v2m0 1v1m0 2v2m0 9v6m0 1v1m0 5v2m0 1v1m0 5v5m0 1v1m0 2v1m0 1v1m0 6v2m0 2v1m0 7v1m0 5v1m0 1v2m0 1v1m0 1v2m0 7v2m0 9v1m0 1v3m0 2v3m0 23v1m0 12v1m0 13v1m0 1v1m0 4v4m0 9v3m0 3v1m0 6v2m0 8v1m0 15v1m0 11v1m0 1v1m0 9v1m0 2v1m0 7v1m0 3v1m0 1v1m0 2v1m0 1v1m0 7v1m0 3v2m0 3v1m0 7v1m0 1v2m0 11v1m0 11v1m0 1v2m0 2v1m0 4v1"/><path class="p" d="M0 10v1m0 98v1m0 30v1m0 44v1m0 11v1m0 42v1m0 91v1m0 8v1m0 5v1m0 11v1m0 42v1"/><path class="q" d="M0 375v1m0 10v1"/><path class="r" d="M0 2v1m0 29v1m0 17v1m0 8v1m0 4v1m0 20v1m0 39v1m0 6v2m0 53v1m0 10v1m0 19v1m0 4v1m0 30v1m0 24v1m0 24v1m0 41v1"/><path class="s" d="M0 172v1m0 68v1m0 16v1m0 14v1m0 96v1m0 2v1"/><path class="t" d="M0 75v1m0 73v1m0 38v1m0 2v1m0 12v1m0 28v1m0 14v1m0 112v1m0 34v1"/><path class="u" d="M0 27v1m0 13v1m0 1v1m0 155v1"/><path class="v" d="M0 83v1m0 14v2m0 73v1m0 85v1m0 14v1m0 39v2m0 1v1m0 69v1"/><path class="w" d="M0 19v2m0 31v1m0 9v1m0 19v1m0 37v1m0 22v1m0 70v2m0 6v1m0 15v1m0 7v2m0 12v1m0 26v1m0 1v1m0 21v1m0 39v1m0 8v1m0 17v2"/><path class="x" d="M0 24v1m0 86v1m0 34v1m0 20v1m0 49v1m0 13v1m0 44v1m0 13v1m0 28v1m0 6v1m0 62v1m0 14v1"/></g>
<g id="r8"><path class="a" d="M0 2v1m0 2v1m0 1v1m0 7v2m0 7v1m0 13v1m0 6v1m0 7v1m0 4v1m0 8v1m0 1v2m0 20v1m0 18v1m0 1v1m0 17v1m0 6v2m0 1v1m0 7v1m0 8v1m0 3v1m0 1v1m0 4v1m0 16v2m0 2v1m0 7v1m0 28v1m0 7v1m0 4v1m0 13v1m0 8v1m0 3v2m0 8v1m0 2v1m0 12v1m0 18v1m0 2v1m0 25v1m0 6v1m0 2v2m0 12v1m0 1v1m0 1v1m0 24v1m0 1v1"/><path class="b" d="M0 115v1m0 40v1m0 30v1m0 14v1m0 39v1m0 45v1m0 70v1"/><path class="c" d="M0 255v1m0 3v1m0 43v1"/><path class="d" d="M0 11v1m0 27v1m0 76v1m0 71v1m0 14v1m0 36v1m0 48v1m0 70v1m0 23v1"/><path class="e" d="M0 1v1m0 6v1m0 32v1m0 29v1m0 31v1m0 28v1m0 8v1m0 18v1m0 3v1m0 7v1m0 4v1m0 37v1m0 64v1m0 31v1m0 6v1m0 8v1m0 7v1m0 4v1m0 4v1m0 10v2m0 12v1m0 22v1m0 1v1"/><path class="f" d="M0 43v1m0 58v1m0 41v1m0 125v1m0 42v1m0 17v1m0 67v1m0 4v1"/><path class="g" d="M0 145v1m0 20v1m0 6v1m0 42v1m0 4v1m0 25v1m0 6v1m0 6v1m0 34v1m0 4v1m0 20v1m0 57v1m0 16v1"/><path class="h" d="M0 20v1m0 57v1m0 6v1m0 4v1m0 14v1m0 18v1m0 65v1m0 19v1m0 18v1m0 6v1m0 11v1m0 8v1m0 2v1m0 2v1m0 56v1m0 16v1m0 27v1m0 25v2"/><path class="i" d="M0 13v1m0 26v1m0 344v1"/><path class="j" d="M0 19v1m0 7v1m0 24v1m0 12v1m0 14v1m0 17v1m0 10v1m0 15v1m0 39v1m0 3v1m0 8v1m0 3v1m0 8v1m0 6v1m0 5v2m0 21v1m0 37v1m0 9v1m0 23v1m0 38v1m0 47v1m0 3v1"/><path class="k" d="M0 4v1m0 13v1m0 2v1m0 39v1m0 46v1m0 67v1m0 4v1m0 13v1m0 41v1m0 11v1m0 1v1m0 29v1m0 15v1m0 37v1m0 16v1m0 14v1"/><path class="l" d="M0 55v1m0 124v1m0 19v1m0 34v1m0 55v1m0 15v1m0 13v1m0 32v1"/><path class="m" d="M0 9v1m0 72v1m0 40v1m0 158v1m0 43v1m0 6v1"/><path class="n" d="M0 0v1m0 5v1m0 10v1m0 4v1m0 2v1m0 2v3m0 2v2m0 1v2m0 4v1m0 3v6m0 7v1m0 3v2m0 1v1m0 1v1m0 4v1m0 3v1m0 1v1m0 7v3m0 2v4m0 3v3m0 2v1m0 2v1m0 3v1m0 5v1m0 1v4m0 4v1m0 5v4m0 2v1m0 7v1m0 2v2m0 15v1m0 2v2m0 3v1m0 8v1m0 7v1m0 3v1m0 10v3m0 1v3m0 9v1m0 26v1m0 1v1m0 15v1m0 5v1m0 3v1m0 14v3m0 12v3m0 4v3m0 7v1m0 3v2m0 11v1m0 5v2m0 3v1m0 2v1m0 6v1m0 8v8m0 1v1m0 1v1m0 16v2"/><path class="o" d="M0 142v2m0 84v1"/><path class="p" d="M0 26v1m0 17v1m0 27v1m0 23v1m0 49v1m0 7v1m0 19v1m0 39v1m0 2v1m0 14v1m0 36v1m0 34v1m0 65v1m0 32v1"/><path class="q" d="M0 155v1m0 100v1m0 45v1m0 29v1m0 65v1"/><path class="r" d="M0 14v1m0 8v1m0 32v1m0 19v1m0 29v1m0 11v1m0 10v1m0 22v1m0 41v1m0 43v1m0 33v1m0 17v1m0 9v1m0 38v1m0 42v1m0 6v1m0 12v1"/><path class="s" d="M0 83v1m0 147v1m0 53v1m0 12v1"/><path class="t" d="M0 31v1m0 28v1m0 14v1m0 5v1m0 15v1m0 33v1m0 27v1m0 23v1m0 22v1m0 15v1m0 23v1m0 30v1m0 6v1m0 33v1m0 50v1m0 35v1"/><path class="u" d="M0 84v1m0 201v2m0 99v2"/><path class="v" d="M0 54v1m0 31v1m0 26v2m0 13v1m0 70v1m0 1v1m0 28v1m0 40v1m0 71v2"/><path class="w" d="M0 3v1m0 28v1m0 2v1m0 21v1m0 4v1m0 11v1m0 51v1m0 22v1m0 3v1m0 4v1m0 3v1m0 16v1m0 44v2m0 7v1m0 9v3m0 18v1m0 8v1m0 49v2m0 9v1m0 10v1m0 9v1m0 5v2"/><path class="x" d="M0 10v1m0 207v1m0 64v1m0 21v1m0 21v1"/></g>
<g id="r9"><path class="a" d="M0 16v1m0 10v1m0 2v1m0 7v1m0 1v1m0 1v1m0 22v1m0 8v1m0 35v1m0 7v2m0 4v1m0 3v2m0 3v1m0 12v1m0 18v1m0 7v1m0 2v1m0 11v1m0 6v1m0 2v1m0 2v1m0 6v1m0 8v1m0 9v1m0 12v1m0 9v1m0 9v1m0 21v2m0 4v1m0 2v1m0 6v1m0 10v1m0 3v1m0 4v1m0 4v1m0 8v1m0 7v1m0 7v1m0 4v1m0 30v1m0 4v1m0 4v1m0 3v3m0 4v1"/><path class="b" d="M0 97v1m0 116v1"/><path class="c" d="M0 171v1m0 41v1m0 101v1"/><path class="d" d="M0 96v1m0 87v1"/><path class="e" d="M0 10v1m0 10v1m0 60v1m0 1v1m0 6v1m0 2v1m0 30v1m0 19v1m0 8v1m0 17v1m0 4v1m0 13v1m0 38v1m0 6v1m0 8v1m0 12v1m0 3v2m0 1v1m0 2v1m0 3v1m0 32v1m0 7v1m0 58v1m0 9v1"/><path class="f" d="M0 59v1m0 99v1m0 51v1m0 16v1m0 16v1m0 40v1m0 100v1m0 15v1"/><path class="g" d="M0 22v1m0 37v1m0 1v1m0 44v1m0 5v2m0 7v1m0 27v1m0 45v1m0 39v1m0 28v1m0 15v1m0 56v1m0 10v1m0 5v1m0 2v1"/><path class="h" d="M0 66v1m0 33v2m0 10v1m0 8v1m0 12v1m0 8v2m0 17v1m0 75v1m0 40v1m0 77v1"/><path class="i" d="M0 142v1m0 88v1"/><path class="j" d="M0 13v1m0 12v1m0 20v1m0 13v1m0 19v1m0 10v1m0 10v1m0 13v1m0 35v1m0 61v1m0 6v1m0 29v1m0 1v3m0 19v1m0 7v1m0 2v1m0 13v2m0 16v1m0 51v1m0 5v1"/><path class="k" d="M0 48v1m0 28v1m0 30v1m0 72v1m0 12v1m0 9v1m0 1v1m0 2v1m0 85v1m0 14v1m0 13v1m0 9v1m0 15v1m0 27v1m0 16v1"/><path class="l" d="M0 78v1m0 4v1m0 9v1m0 86v1m0 12v1m0 11v1m0 26v1m0 6v1m0 11v1m0 26v1m0 57v1m0 2v1m0 14v1m0 1v1m0 6v1"/><path class="m" d="M0 102v1m0 8v1m0 26v1m0 27v1m0 8v1m0 57v1m0 14v1m0 62v1m0 49v1m0 29v1m0 4v1"/><path class="n" d="M0 0v8m0 1v1m0 8v3m0 2v1m0 7v4m0 1v2m0 1v1m0 3v1m0 5v2m0 7v1m0 8v3m0 5v2m0 2v2m0 6v4m0 4v1m0 2v1m0 6v2m0 2v1m0 6v1m0 3v1m0 2v1m0 2v2m0 2v2m0 3v1m0 1v1m0 2v1m0 6v1m0 13v1m0 1v1m0 4v2m0 9v1m0 6v2m0 1v1m0 17v1m0 10v4m0 1v1m0 2v1m0 16v2m0 4v1m0 7v1m0 4v1m0 4v1m0 2v2m0 2v2m0 4v1m0 11v3m0 10v1m0 1v2m0 12v1m0 4v3m0 2v1m0 1v1m0 1v1m0 1v1m0 4v2m0 8v1m0 11v1m0 1v4m0 9v3m0 11v1m0 8v1"/><path class="o" d="M0 158v1m0 158v1"/><path class="p" d="M0 24v1m0 28v1m0 87v1m0 18v1m0 49v1m0 1v1m0 91v1m0 42v1m0 27v1m0 28v1"/><path class="q" d="M0 316v1m0 29v1"/><path class="r" d="M0 8v1m0 6v1m0 56v2m0 108v2m0 50v1m0 23v1m0 9v1m0 3v1m0 16v2m0 5v1m0 6v1"/><path class="s" d="M0 11v1m0 2v1m0 13v1m0 27v1m0 140v1m0 162v1"/><path class="t" d="M0 25v1m0 28v1m0 8v2m0 67v1m0 18v1m0 50v2m0 49v1m0 68v1m0 2v1m0 48v1m0 7v1m0 9v1"/><path class="u" d="M0 85v2m0 12v1m0 57v1m0 27v1m0 143v2m0 13v1"/><path class="v" d="M0 29v1m0 25v1m0 59v1m0 54v1m0 28v2m0 28v1m0 55v1m0 73v1m0 28v1"/><path class="w" d="M0 12v1m0 4v1m0 23v1m0 2v1m0 1v1m0 4v2m0 4v1m0 12v2m0 32v1m0 31v1m0 11v1m0 3v1m0 2v2m0 35v1m0 23v1m0 18v1m0 5v2m0 18v1m0 15v1m0 19v1m0 1v2m0 19v1m0 20v1m0 9v1m0 18v1m0 1v1m0 12v2m0 14v1"/><path class="x" d="M0 45v1m0 93v1m0 27v1m0 6v1m0 15v1m0 34v1m0 21v1m0 64v1m0 49v1m0 13v1m0 13v1m0 6v1"/></g>
<g id="r10"><path class="a" d="M0 1v1m0 2v1m0 5v1m0 1v1m0 2v1m0 4v1m0 25v1m0 1v1m0 4v1m0 3v1m0 1v2m0 5v1m0 3v1m0 5v1m0 2v1m0 12v1m0 2v1m0 16v1m0 2v2m0 2v1m0 7v1m0 2v1m0 7v3m0 15v2m0 2v1m0 2v1m0 8v1m0 2v1m0 2v1m0 2v1m0 1v1m0 3v1m0 27v1m0 7v1m0 3v1m0 58v2m0 7v1m0 25v1m0 5v1m0 12v1m0 9v1m0 5v1m0 13v2m0 11v1m0 1v1m0 6v1m0 1v1m0 2v1m0 2v1m0 1v2m0 1v1"/><path class="b" d="M0 55v1m0 13v1m0 100v1m0 27v1m0 43v1m0 27v1m0 42v1m0 31v1m0 13v1"/><path class="c" d="M0 72v1"/><path class="d" d="M0 54v1m0 13v1m0 18v1m0 81v1m0 48v1m0 37v1m0 18v1m0 23v1m0 41v1m0 4v1m0 27v1m0 15v1"/><path class="e" d="M0 9v1m0 78v1m0 9v1m0 5v1m0 50v1m0 18v1m0 7v1m0 13v1m0 31v2m0 19v1m0 1v1m0 3v1m0 2v1m0 20v1m0 2v1m0 1v1m0 3v1m0 40v2"/><path class="f" d="M0 83v1m0 61v1m0 57v1m0 81v1m0 16v1m0 40v1m0 55v1"/><path class="g" d="M0 3v1m0 2v1m0 14v1m0 11v1m0 16v1m0 42v1m0 41v1m0 70v1m0 154v1m0 1v1m0 2v1m0 14v1"/><path class="h" d="M0 34v1m0 68v1m0 146v1m0 1v1m0 43v1m0 51v1m0 11v1m0 35v1"/><path class="i" d="M0 244v1m0 70v1"/><path class="j" d="M0 8v1m0 9v1m0 19v1m0 28v1m0 7v1m0 33v1m0 23v1m0 2v1m0 6v1m0 10v1m0 4v1m0 4v1m0 19v1m0 34v1m0 5v1m0 17v1m0 3v1m0 20v1m0 9v1m0 1v1m0 8v1m0 24v1m0 20v1m0 1v1m0 50v1m0 4v1"/><path class="k" d="M0 162v1m0 14v1m0 30v1m0 15v1m0 52v1m0 28v1m0 2v1m0 13v1m0 30v1"/><path class="l" d="M0 17v1m0 76v1m0 110v1m0 3v1m0 12v1m0 39v1m0 48v1m0 21v1m0 2v1m0 12v1"/><path class="m" d="M0 22v1m0 1v1m0 5v1m0 20v1m0 152v1m0 29v1m0 5v1m0 64v1m0 28v1m0 18v1"/><path class="n" d="M0 0v1m0 1v1m0 2v1m0 1v1m0 3v1m0 4v1m0 2v1m0 6v1m0 4v2m0 2v3m0 1v4m0 2v1m0 1v1m0 1v1m0 8v1m0 2v1m0 1v2m0 12v2m0 1v1m0 9v1m0 10v1m0 3v4m0 2v1m0 2v1m0 2v1m0 2v2m0 3v2m0 4v2m0 4v1m0 11v4m0 5v1m0 2v1m0 3v4m0 7v1m0 2v2m0 7v2m0 1v2m0 1v1m0 6v2m0 4v1m0 3v2m0 3v1m0 3v2m0 4v1m0 10v3m0 8v1m0 15v2m0 1v1m0 3v1m0 9v1m0 8v1m0 1v1m0 4v2m0 2v1m0 18v1m0 3v3m0 12v1m0 4v1m0 2v1m0 3v2m0 4v2m0 8v3m0 5v6m0 1v1m0 3v2m0 16v1"/><path class="o" d="M0 14v1m0 114v1m0 115v1m0 23v1"/><path class="p" d="M0 44v1m0 37v1m0 14v1m0 48v1m0 84v1m0 28v1m0 42v1m0 15v1m0 12v1m0 29v1m0 35v1"/><path class="q" d="M0 86v1m0 154v1m0 76v1m0 23v1"/><path class="r" d="M0 43v1m0 21v1m0 7v1m0 11v1m0 144v1m0 86v1m0 13v1m0 6v1"/><path class="s" d="M0 25v1m0 3v1m0 41v1m0 70v1m0 71v1"/><path class="t" d="M0 62v1m0 39v1m0 19v1m0 11v1m0 60v1m0 63v1m0 1v1m0 1v1m0 2v1m0 9v1m0 16v1m0 61v1"/><path class="u" d="M0 13v1m0 13v2m0 99v1m0 128v1m0 14v1m0 27v1m0 15v1m0 55v1"/><path class="v" d="M0 99v2m0 40v1m0 57v2m0 12v1"/><path class="w" d="M0 56v1m0 17v1m0 6v1m0 2v1m0 4v1m0 1v1m0 4v1m0 13v1m0 2v1m0 30v1m0 2v2m0 4v1m0 17v1m0 1v1m0 11v2m0 3v1m0 41v1m0 2v1m0 10v1m0 7v1m0 36v1m0 2v1m0 13v1m0 1v1m0 17v1m0 35v1m0 19v1m0 6v1m0 9v1"/><path class="x" d="M0 23v1m0 28v1m0 65v1m0 5v1m0 85v1m0 6v1m0 15v1m0 19v1m0 29v1m0 20v1m0 84v1"/></g>
<g id="r11"><path class="a" d="M0 9v1m0 4v1m0 13v2m0 10v1m0 1v1m0 10v1m0 13v1m0 1v1m0 3v1m0 1v1m0 14v1m0 12v1m0 1v1m0 12v1m0 8v1m0 28v1m0 5v1m0 16v1m0 1v1m0 2v1m0 31v1m0 5v1m0 2v2m0 16v3m0 1v1m0 60v1m0 1v1m0 1v1m0 18v1m0 6v1m0 14v1m0 8v1m0 12v1m0 10v1"/><path class="b" d="M0 100v1m0 12v1m0 45v1m0 12v1m0 39v1m0 61v1m0 39v1m0 1v1m0 12v1m0 16v1m0 10v1m0 42v1m0 2v1"/><path class="d" d="M0 101v1m0 10v1m0 60v1m0 37v1m0 1v1m0 61v1m0 12v1m0 13v1m0 10v1m0 33v1m0 8v1m0 42v1m0 4v1"/><path class="e" d="M0 18v1m0 6v2m0 44v1m0 94v1m0 9v1m0 21v1m0 1v1m0 3v1m0 16v1m0 8v1m0 129v1m0 7v1m0 15v1"/><path class="f" d="M0 39v1m0 231v1m0 17v1"/><path class="g" d="M0 7v1m0 54v1m0 2v1m0 28v1m0 3v1m0 9v1m0 10v1m0 28v1m0 57v1m0 143v1m0 1v1m0 6v1m0 6v1"/><path class="h" d="M0 6v1m0 69v1m0 45v1m0 129v1m0 3v1m0 20v1m0 7v1m0 10v1m0 20v1m0 5v1m0 54v1"/><path class="i" d="M0 259v1"/><path class="j" d="M0 46v1m0 1v1m0 12v1m0 12v1m0 21v1m0 2v1m0 15v1m0 9v1m0 15v1m0 5v1m0 6v1m0 76v1m0 3v1m0 18v1m0 8v1m0 17v1m0 44v1m0 3v1m0 6v1m0 16v1m0 6v1m0 5v1m0 37v1"/><path class="k" d="M0 33v1m0 4v1m0 11v1m0 86v1m0 7v1m0 6v1m0 65v1m0 34v1m0 13v1m0 23v1m0 12v1m0 2v1m0 75v1"/><path class="l" d="M0 37v1m0 40v1m0 10v1m0 17v1m0 100v1m0 11v1m0 34v1m0 1v1m0 6v1m0 27v1m0 2v1m0 55v1m0 39v2"/><path class="m" d="M0 1v1m0 115v1m0 14v1m0 6v1m0 6v1m0 13v1m0 21v1m0 36v1m0 18v1m0 66v1m0 28v1m0 34v1m0 7v1m0 4v1"/><path class="n" d="M0 2v2m0 1v1m0 2v1m0 6v3m0 1v5m0 8v1m0 1v3m0 6v2m0 2v1m0 1v1m0 2v1m0 2v6m0 5v1m0 5v1m0 4v1m0 1v3m0 2v4m0 3v3m0 1v1m0 6v1m0 1v1m0 1v1m0 2v1m0 1v1m0 8v1m0 2v1m0 2v1m0 2v2m0 2v4m0 1v1m0 18v2m0 2v1m0 2v1m0 2v3m0 4v2m0 4v1m0 4v10m0 7v2m0 3v1m0 15v2m0 2v3m0 2v2m0 6v3m0 3v1m0 1v2m0 1v1m0 13v1m0 2v2m0 2v2m0 2v1m0 1v1m0 3v2m0 10v1m0 11v1m0 8v1m0 3v4m0 9v1m0 3v1m0 18v1m0 7v2m0 7v3m0 4v2m0 4v1m0 3v1m0 3v3m0 5v2"/><path class="o" d="M0 328v1"/><path class="p" d="M0 82v1m0 201v1m0 5v1m0 7v1m0 19v1m0 22v1"/><path class="q" d="M0 286v1m0 57v1"/><path class="r" d="M0 4v1m0 5v2m0 1v1m0 49v1m0 4v1m0 1v1m0 12v1m0 71v1m0 106v1m0 30v1m0 6v1m0 23v1m0 18v1m0 5v1m0 46v3"/><path class="s" d="M0 0v1m0 143v1m0 158v1"/><path class="t" d="M0 64v1m0 32v1m0 55v1m0 11v1m0 29v1m0 21v1m0 19v1m0 12v1m0 7v1m0 40v1m0 25v1m0 16v1m0 38v1"/><path class="u" d="M0 215v1m0 85v1m0 43v1m0 41v2"/><path class="v" d="M0 12v1m0 14v1m0 114v2m0 26v2m0 29v1m0 68v1m0 87v1"/><path class="w" d="M0 24v1m0 5v2m0 9v1m0 3v1m0 5v1m0 2v1m0 33v1m0 21v1m0 3v1m0 9v1m0 3v1m0 34v1m0 13v1m0 19v1m0 1v1m0 5v1m0 3v1m0 24v1m0 1v1m0 43v1m0 28v1m0 17v1m0 7v1m0 29v1m0 5v1"/><path class="x" d="M0 116v1m0 14v1m0 8v1m0 42v1m0 12v1m0 13v1m0 28v1m0 57v1m0 13v1m0 21v1m0 6v1m0 7v1m0 21v1m0 5v1m0 13v1"/></g>
<g id="r12"><path class="a" d="M0 3v1m0 15v1m0 3v1m0 1v1m0 8v1m0 4v1m0 17v1m0 6v2m0 1v1m0 21v1m0 8v1m0 9v1m0 2v1m0 8v1m0 8v1m0 16v1m0 5v1m0 1v1m0 7v1m0 2v1m0 8v1m0 9v3m0 13v1m0 4v1m0 12v1m0 19v1m0 19v1m0 5v1m0 3v1m0 8v1m0 39v1m0 1v1m0 4v1m0 18v1m0 3v2m0 5v1m0 26v1m0 9v1m0 4v1"/><path class="b" d="M0 54v1m0 60v1m0 71v1m0 11v1m0 59v1m0 11v1m0 16v1m0 53v1m0 2v1m0 14v1m0 28v1m0 12v1"/><path class="c" d="M0 188v1m0 9v1m0 45v1"/><path class="d" d="M0 53v1m0 105v1m0 100v1m0 8v1m0 19v1m0 56v1m0 14v1m0 28v1m0 8v1m0 4v1"/><path class="e" d="M0 36v1m0 31v1m0 57v1m0 95v1m0 17v1m0 20v1m0 22v1m0 5v1m0 4v1m0 32v1m0 36v1"/><path class="f" d="M0 59v1m0 100v1m0 42v1m0 8v1m0 17v1m0 10v1m0 89v1m0 53v1m0 12v1"/><path class="g" d="M0 1v1m0 104v1m0 14v1m0 10v1m0 9v2m0 24v1m0 50v1m0 14v1m0 13v1m0 61v1m0 38v1"/><path class="h" d="M0 44v1m0 48v1m0 54v1m0 17v2m0 36v1m0 60v1m0 13v1m0 18v1m0 88v1m0 6v1"/><path class="j" d="M0 10v1m0 15v1m0 19v1m0 9v1m0 15v1m0 34v1m0 9v1m0 9v2m0 52v1m0 7v1m0 26v2m0 3v1m0 5v1m0 46v1m0 19v1m0 13v2m0 13v1m0 34v1m0 17v1m0 6v1m0 11v1m0 9v1"/><path class="k" d="M0 5v1m0 39v1m0 14v1m0 29v1m0 33v1m0 11v1m0 26v1m0 31v1m0 24v1m0 16v1m0 28v1m0 40v1m0 31v1m0 10v1m0 26v1"/><path class="l" d="M0 22v1m0 130v1m0 56v1m0 3v1m0 21v1m0 16v1m0 22v1m0 15v1m0 3v1m0 23v1"/><path class="m" d="M0 61v1m0 12v1m0 20v1m0 27v1m0 100v1m0 86v1m0 13v1m0 14v1m0 27v1"/><path class="n" d="M0 8v1m0 3v4m0 2v1m0 1v2m0 2v1m0 4v1m0 1v1m0 1v1m0 1v1m0 1v2m0 1v1m0 7v5m0 9v2m0 2v1m0 3v2m0 4v3m0 1v5m0 6v2m0 1v1m0 2v1m0 6v1m0 4v1m0 12v1m0 11v1m0 5v1m0 4v1m0 1v1m0 2v2m0 3v1m0 8v1m0 5v3m0 2v6m0 1v2m0 6v2m0 4v1m0 4v2m0 3v1m0 26v1m0 1v1m0 3v1m0 2v1m0 6v3m0 26v1m0 3v2m0 9v1m0 10v2m0 7v1m0 4v1m0 3v1m0 12v3m0 6v1m0 6v1m0 7v1m0 3v2m0 1v1m0 8v1m0 3v2m0 1v1m0 9v2"/><path class="o" d="M0 86v1m0 141v1m0 27v1m0 58v1m0 56v1"/><path class="p" d="M0 102v1m0 38v1m0 19v1m0 35v1m0 47v1m0 1v1m0 55v1m0 28v1m0 22v1m0 28v1"/><path class="q" d="M0 211v1m0 161v1"/><path class="r" d="M0 0v1m0 1v1m0 76v1m0 21v1m0 23v1m0 4v1m0 6v1m0 31v1m0 39v1m0 5v1m0 7v1m0 28v1m0 9v2m0 21v1m0 11v1m0 1v1m0 6v1m0 49v1m0 40v1"/><path class="s" d="M0 43v1m0 258v1"/><path class="t" d="M0 6v2m0 9v1m0 29v1m0 39v2m0 16v1m0 25v1m0 61v1m0 14v1m0 37v1m0 28v1m0 5v1m0 18v1m0 20v1m0 16v1"/><path class="u" d="M0 27v2m0 12v2m0 42v1m0 70v1m0 72v1m0 13v1m0 13v1m0 28v2m0 26v1m0 14v2m0 55v1m0 14v1"/><path class="v" d="M0 144v1m0 68v1m0 17v1m0 40v2m0 27v1m0 72v1m0 13v1"/><path class="w" d="M0 4v1m0 4v1m0 1v1m0 4v1m0 13v1m0 1v1m0 22v1m0 2v1m0 10v1m0 29v2m0 2v1m0 6v1m0 1v3m0 3v2m0 13v1m0 1v1m0 13v1m0 23v1m0 18v1m0 39v1m0 22v1m0 11v1m0 12v1m0 10v1m0 24v1m0 10v1m0 24v2m0 3v1m0 4v1m0 4v1m0 2v2m0 6v1"/><path class="x" d="M0 73v1m0 1v1m0 20v1m0 42v1m0 86v1m0 27v1m0 57v1m0 13v1m0 6v1m0 35v1"/></g>
<g id="r13"><path class="a" d="M0 20v1m0 8v1m0 12v1m0 4v1m0 4v1m0 8v1m0 14v1m0 2v1m0 4v2m0 13v2m0 4v1m0 7v1m0 9v2m0 5v1m0 7v1m0 1v1m0 4v1m0 2v1m0 19v1m0 3v1m0 8v1m0 18v1m0 1v2m0 11v1m0 7v1m0 2v1m0 2v1m0 11v1m0 4v1m0 25v2m0 23v1m0 7v1m0 2v1m0 3v1m0 7v1m0 70v1m0 3v1m0 6v1"/><path class="b" d="M0 57v1m0 10v1m0 18v1m0 38v1m0 29v1m0 16v1m0 42v1m0 11v1m0 30v1m0 86v1m0 10v1m0 30v1"/><path class="c" d="M0 260v1m0 40v1m0 70v2m0 12v1"/><path class="d" d="M0 26v1m0 32v1m0 65v1m0 18v1m0 72v1m0 9v1m0 100v1m0 18v1m0 8v1m0 27v1m0 4v1"/><path class="e" d="M0 44v1m0 20v1m0 41v1m0 6v1m0 27v1m0 15v1m0 3v3m0 19v1m0 40v1m0 10v1m0 8v1m0 68v1m0 17v1m0 20v1m0 45v1"/><path class="f" d="M0 101v1m0 86v1"/><path class="g" d="M0 33v1m0 126v1m0 15v1m0 13v1m0 33v1m0 55v1m0 8v1m0 106v1"/><path class="h" d="M0 88v1m0 66v1m0 10v1m0 87v1m0 13v1m0 66v1m0 13v1m0 16v1m0 1v1"/><path class="i" d="M0 286v1m0 98v1"/><path class="j" d="M0 25v1m0 2v1m0 5v1m0 1v1m0 13v1m0 2v1m0 19v1m0 1v1m0 125v1m0 18v1m0 18v1m0 21v1m0 23v1m0 30v1m0 16v1m0 30v1m0 4v1"/><path class="k" d="M0 7v1m0 58v1m0 23v1m0 3v1m0 9v1m0 17v1m0 14v1m0 23v1m0 47v1m0 53v1m0 3v1m0 10v1m0 12v1m0 1v1m0 2v1m0 27v1m0 67v1"/><path class="l" d="M0 6v1m0 48v1m0 111v1m0 15v1m0 34v2m0 2v1m0 83v1m0 16v1m0 1v2m0 11v2m0 19v1m0 17v1"/><path class="m" d="M0 89v1m0 21v1m0 20v1m0 42v1m0 34v1m0 65v1m0 42v1m0 20v1"/><path class="n" d="M0 2v3m0 7v5m0 1v2m0 1v2m0 7v3m0 2v1m0 1v2m0 9v1m0 2v1m0 8v1m0 1v3m0 4v2m0 7v1m0 1v4m0 2v1m0 4v3m0 1v4m0 4v1m0 2v1m0 1v2m0 6v2m0 1v1m0 9v1m0 3v2m0 4v1m0 6v2m0 9v1m0 7v1m0 3v1m0 7v1m0 1v1m0 7v1m0 4v2m0 2v2m0 8v2m0 4v1m0 17v1m0 2v3m0 1v2m0 8v1m0 1v3m0 10v1m0 1v1m0 1v1m0 2v3m0 2v1m0 17v1m0 1v1m0 3v2m0 4v1m0 6v1m0 1v1m0 7v2m0 11v1m0 1v2m0 12v3m0 2v1m0 5v1m0 8v1m0 4v1m0 2v3m0 1v2m0 6v1m0 3v1m0 2v1m0 2v2m0 3v1"/><path class="o" d="M0 67v1m0 219v1m0 54v1"/><path class="p" d="M0 10v1m0 43v1m0 47v1m0 12v1m0 38v1m0 27v1m0 6v1m0 8v1m0 33v1m0 20v1m0 36v1m0 69v1m0 43v1"/><path class="q" d="M0 256v1m0 72v1m0 14v1"/><path class="r" d="M0 11v1m0 5v1m0 5v1m0 19v1m0 1v2m0 71v1m0 22v1m0 10v1m0 46v1m0 5v1m0 2v1m0 22v1m0 12v1m0 3v1m0 53v1m0 12v1m0 15v1m0 61v1m0 9v1"/><path class="s" d="M0 0v1m0 40v1m0 29v1m0 40v1m0 101v1"/><path class="t" d="M0 9v1m0 14v1m0 134v1m0 61v1m0 43v1m0 11v1m0 3v1m0 6v1m0 20v2m0 16v1m0 35v1m0 3v1"/><path class="u" d="M0 27v1m0 99v2m0 14v1m0 41v2m0 55v2"/><path class="v" d="M0 1v1m0 38v1m0 15v1m0 15v1m0 140v1m0 43v1m0 42v1m0 29v1m0 14v1m0 12v1m0 12v1m0 2v1m0 12v1"/><path class="w" d="M0 5v1m0 2v1m0 30v1m0 37v1m0 32v1m0 9v1m0 14v2m0 12v3m0 18v2m0 8v1m0 10v1m0 2v2m0 56v1m0 5v1m0 20v1m0 3v2m0 10v1m0 7v1m0 3v1m0 9v1m0 44v1m0 18v1m0 16v1"/><path class="x" d="M0 74v1m0 56v1m0 21v1m0 50v1m0 6v1m0 28v1m0 34v1m0 6v1m0 35v1m0 22v1m0 6v1m0 5v1m0 21v1"/></g>
<g id="r14"><path class="a" d="M0 0v2m0 3v1m0 1v1m0 3v1m0 2v1m0 4v1m0 26v1m0 1v1m0 3v2m0 1v1m0 2v2m0 10v1m0 5v2m0 2v1m0 6v1m0 8v1m0 16v1m0 9v1m0 1v1m0 5v1m0 23v1m0 3v1m0 3v1m0 3v1m0 13v1m0 7v1m0 1v2m0 19v3m0 1v2m0 4v1m0 16v2m0 38v1m0 4v1m0 8v1m0 4v1m0 6v1m0 6v1m0 1v1m0 8v1m0 3v1m0 12v1m0 1v1m0 4v1m0 2v1m0 6v1m0 1v1m0 3v1m0 1v1m0 1v1m0 1v1m0 3v1m0 8v1m0 9v1m0 11v1"/><path class="b" d="M0 230v1m0 24v1m0 3v1m0 13v1m0 101v1m0 24v1"/><path class="c" d="M0 127v1m0 59v1m0 112v1"/><path class="d" d="M0 144v1m0 39v1m0 42v1m0 3v1m0 9v1m0 18v1m0 13v1m0 13v1"/><path class="e" d="M0 10v1m0 27v1m0 17v1m0 29v1m0 1v1m0 60v1m0 36v1m0 17v1m0 87v1m0 104v1"/><path class="f" d="M0 302v1m0 81v1m0 5v1"/><path class="g" d="M0 65v1m0 23v1m0 5v1m0 8v1m0 57v1m0 27v1m0 14v1m0 126v1m0 4v1m0 41v1m0 6v1"/><path class="h" d="M0 23v1m0 12v1m0 3v1m0 124v1m0 13v1m0 82v1m0 2v1m0 10v1m0 13v1m0 104v1"/><path class="i" d="M0 228v1m0 115v2"/><path class="j" d="M0 4v1m0 29v1m0 32v1m0 24v1m0 9v1m0 15v1m0 37v1m0 1v1m0 21v1m0 13v1m0 11v1m0 38v1m0 6v1m0 29v1m0 32v1m0 19v1m0 15v1m0 33v1m0 2v1m0 9v1"/><path class="k" d="M0 39v1m0 68v1m0 11v1m0 1v1m0 28v1m0 43v1m0 24v1m0 57v1m0 2v1m0 9v1m0 3v1m0 57v1m0 12v1"/><path class="l" d="M0 47v1m0 209v1m0 22v1m0 25v1m0 55v1m0 17v1"/><path class="m" d="M0 3v1m0 135v1m0 36v1m0 11v1m0 7v1m0 13v1m0 36v1m0 6v1m0 12v1m0 86v1m0 22v1"/><path class="n" d="M0 6v1m0 1v1m0 3v1m0 2v3m0 3v1m0 2v1m0 4v5m0 8v2m0 5v3m0 2v1m0 5v5m0 1v1m0 1v2m0 8v2m0 1v3m0 6v1m0 3v1m0 3v1m0 2v1m0 3v3m0 4v1m0 1v4m0 1v1m0 1v1m0 2v1m0 4v2m0 1v1m0 2v4m0 3v1m0 4v2m0 3v3m0 5v2m0 2v1m0 1v1m0 1v3m0 2v2m0 2v2m0 3v2m0 23v3m0 8v2m0 6v1m0 5v1m0 1v4m0 10v1m0 2v1m0 11v2m0 6v1m0 3v1m0 1v1m0 18v2m0 9v2m0 1v2m0 1v1m0 4v3m0 3v1m0 1v1m0 1v1m0 5v1m0 1v1m0 2v1m0 1v1m0 6v2m0 10v2m0 6v1m0 2v2m0 1v1m0 6v1m0 11v2m0 1v1m0 8v1"/><path class="o" d="M0 201v1m0 99v1m0 29v1m0 14v1m0 52v1"/><path class="p" d="M0 57v1m0 14v1m0 1v1m0 9v1m0 61v1m0 109v1m0 12v1m0 29v1m0 17v1m0 15v1"/><path class="q" d="M0 140v1m0 189v1m0 24v1"/><path class="r" d="M0 22v1m0 18v1m0 29v1m0 54v1m0 14v1m0 60v1m0 20v1m0 59v1"/><path class="s" d="M0 2v1m0 142v1m0 53v1m0 70v1"/><path class="t" d="M0 37v1m0 35v1m0 11v1m0 138v1m0 25v1m0 10v1m0 4v1m0 36v2m0 11v1m0 35v1m0 3v1m0 7v1m0 13v1m0 4v1m0 7v1"/><path class="u" d="M0 128v1m0 14v1m0 27v2m0 12v1m0 14v1m0 42v1m0 41v1m0 57v1"/><path class="v" d="M0 99v2m0 97v1m0 30v1m0 28v1m0 70v1m0 57v1"/><path class="w" d="M0 9v1m0 3v1m0 4v1m0 6v4m0 15v2m0 29v1m0 15v1m0 1v1m0 3v1m0 5v1m0 5v1m0 1v1m0 21v2m0 22v1m0 57v1m0 5v1m0 11v1m0 4v1m0 5v1m0 4v1m0 22v1m0 16v1m0 19v1m0 11v2m0 15v1m0 19v1m0 11v1m0 18v1m0 11v3"/><path class="x" d="M0 110v1m0 64v1m0 21v1m0 5v1m0 7v1m0 13v1m0 20v1m0 6v1m0 14v1m0 56v1"/></g>
<g id="r15"><path class="a" d="M0 0v1m0 2v1m0 7v1m0 7v1m0 12v1m0 3v1m0 2v4m0 2v1m0 11v2m0 4v1m0 3v1m0 6v1m0 5v1m0 1v1m0 9v1m0 5v2m0 7v1m0 1v1m0 1v1m0 12v1m0 10v1m0 9v1m0 7v1m0 16v1m0 19v1m0 4v1m0 11v2m0 2v1m0 3v1m0 4v1m0 4v1m0 13v2m0 15v1m0 7v1m0 3v1m0 19v1m0 25v1m0 3v1m0 7v2m0 11v1m0 3v1m0 2v1m0 8v1m0 1v1m0 1v3m0 9v1m0 21v1"/><path class="b" d="M0 55v1m0 44v1m0 25v1m0 57v1m0 88v1m0 11v1m0 30v1"/><path class="c" d="M0 16v1m0 71v1m0 210v1"/><path class="d" d="M0 72v1m0 52v1m0 28v1m0 28v1m0 3v1m0 86v1m0 42v1"/><path class="e" d="M0 48v1m0 53v1m0 34v1m0 18v1m0 9v1m0 4v2m0 2v1m0 3v1m0 50v1m0 6v1m0 8v1m0 15v1m0 3v1m0 4v1m0 47v1m0 15v1"/><path class="f" d="M0 28v1m0 86v1m0 23v1m0 18v1m0 44v1m0 13v1m0 24v1"/><path class="g" d="M0 17v1m0 11v1m0 49v1m0 23v1m0 15v1m0 102v1m0 70v1m0 70v1m0 16v2m0 13v1"/><path class="h" d="M0 93v1m0 23v1m0 20v1m0 8v1m0 46v1m0 89v1m0 9v1m0 12v1m0 15v1m0 25v1m0 3v1m0 8v1m0 11v1m0 9v1"/><path class="i" d="M0 14v1m0 128v1m0 11v1"/><path class="j" d="M0 13v1m0 8v1m0 29v1m0 9v1m0 5v1m0 6v1m0 29v1m0 6v1m0 31v1m0 3v1m0 29v1m0 14v1m0 57v2m0 1v2m0 35v1m0 33v1m0 2v1m0 7v3m0 6v1m0 10v1m0 42v1"/><path class="k" d="M0 33v1m0 17v1m0 13v1m0 23v1m0 18v1m0 14v1m0 67v1m0 12v1m0 4v1m0 9v1m0 3v1m0 25v1m0 3v1m0 9v1m0 12v1m0 15v1m0 17v1m0 13v1m0 9v1m0 28v1m0 14v1"/><path class="l" d="M0 47v1m0 43v1m0 26v1m0 151v1m0 12v1m0 49v1m0 32v1m0 1v2m0 28v1"/><path class="m" d="M0 90v1m0 4v1m0 64v1m0 44v1m0 28v1m0 13v1m0 28v1m0 12v1m0 20v1m0 36v1m0 34v1m0 13v1"/><path class="n" d="M0 4v1m0 1v1m0 2v2m0 1v1m0 8v1m0 3v3m0 6v2m0 1v2m0 4v2m0 1v1m0 2v2m0 5v1m0 2v3m0 2v1m0 1v1m0 2v2m0 5v1m0 1v1m0 2v1m0 2v2m0 8v1m0 11v1m0 7v1m0 5v3m0 4v8m0 1v1m0 3v2m0 7v3m0 5v1m0 3v5m0 1v1m0 5v2m0 6v2m0 2v1m0 2v1m0 9v1m0 3v1m0 3v1m0 3v1m0 3v1m0 9v1m0 2v1m0 3v1m0 3v1m0 2v1m0 11v1m0 9v1m0 4v1m0 12v1m0 1v2m0 5v1m0 7v1m0 7v4m0 24v1m0 9v2m0 7v1m0 1v1m0 5v1m0 8v1m0 2v1m0 5v1m0 2v2m0 9v2m0 2v2m0 4v1m0 2v1"/><path class="o" d="M0 53v1m0 47v1m0 98v1"/><path class="p" d="M0 2v1m0 27v1m0 137v1m0 49v1m0 22v1m0 40v1m0 15v1m0 76v1"/><path class="q" d="M0 87v1m0 8v1m0 19v1m0 42v1m0 98v1m0 114v1"/><path class="r" d="M0 110v1m0 58v1m0 22v1m0 36v1m0 39v1m0 31v1m0 19v2m0 17v1m0 31v1m0 12v1"/><path class="s" d="M0 1v1m0 84v1m0 59v1m0 114v1m0 13v1m0 56v1m0 14v1"/><path class="t" d="M0 24v1m0 6v1m0 65v1m0 82v1m0 8v1m0 6v1m0 39v1m0 140v1m0 27v1"/><path class="u" d="M0 71v1m0 70v1m0 43v1m0 14v1m0 55v1m0 42v1m0 28v2m0 70v2"/><path class="v" d="M0 259v1m0 42v1m0 84v2"/><path class="w" d="M0 5v1m0 1v2m0 9v1m0 4v1m0 49v1m0 3v1m0 5v1m0 20v1m0 8v1m0 38v1m0 23v2m0 19v1m0 1v1m0 12v2m0 2v1m0 9v1m0 1v1m0 3v1m0 10v3m0 21v1m0 4v1m0 6v1m0 6v1m0 26v1m0 1v1m0 4v1m0 23v1m0 6v1m0 2v1m0 31v1m0 2v1m0 2v1m0 11v1"/><path class="x" d="M0 233v1m0 13v1m0 41v1m0 7v1m0 14v1"/></g>
<g id="r16"><path class="a" d="M0 0v1m0 23v1m0 10v1m0 7v1m0 2v1m0 26v1m0 4v2m0 1v1m0 2v2m0 6v2m0 3v1m0 11v1m0 5v1m0 3v1m0 1v1m0 10v1m0 1v1m0 4v1m0 3v2m0 2v1m0 1v1m0 4v1m0 1v1m0 1v1m0 1v2m0 17v1m0 16v1m0 14v1m0 5v1m0 5v1m0 7v1m0 5v1m0 24v1m0 2v1m0 1v1m0 21v2m0 13v1m0 4v1m0 17v1m0 2v1m0 10v1m0 3v1m0 7v1m0 6v1m0 5v1m0 17v1m0 4v1m0 3v1m0 11v1"/><path class="b" d="M0 173v1m0 25v1m0 2v1m0 42v1m0 39v1m0 31v1m0 28v1m0 27v1"/><path class="c" d="M0 203v1m0 69v1"/><path class="d" d="M0 125v1m0 48v1m0 23v1m0 47v1m0 37v1m0 3v1m0 29v1m0 56v1"/><path class="e" d="M0 14v1m0 2v2m0 28v1m0 6v1m0 1v1m0 9v1m0 4v1m0 8v1m0 10v1m0 13v1m0 42v1m0 66v2m0 9v1m0 17v1m0 34v1m0 2v1m0 57v1m0 40v1m0 14v1m0 1v1m0 2v1"/><path class="f" d="M0 83v1m0 15v1m0 13v1m0 185v1m0 13v1m0 85v1"/><path class="g" d="M0 11v1m0 10v1m0 16v1m0 17v1m0 66v1m0 10v1m0 16v1m0 11v1m0 17v1m0 59v2m0 34v1m0 2v1m0 25v1m0 3v1m0 11v1m0 39v1m0 12v1"/><path class="h" d="M0 162v1m0 44v1m0 83v1m0 23v1m0 32v1m0 33v1"/><path class="j" d="M0 20v2m0 11v1m0 69v1m0 19v1m0 42v1m0 10v1m0 9v1m0 42v1m0 9v1m0 7v1m0 10v1m0 40v1m0 4v1m0 19v2m0 15v1m0 54v1m0 6v1"/><path class="k" d="M0 37v1m0 24v1m0 2v1m0 10v1m0 45v1m0 28v1m0 54v1m0 44v1m0 43v1m0 40v1m0 27v1m0 2v1"/><path class="l" d="M0 5v1m0 10v1m0 46v1m0 26v1m0 15v1m0 13v1m0 6v1m0 5v1m0 47v1m0 1v1m0 10v1m0 13v1m0 18v1m0 35v1m0 34v1m0 52v1m0 2v1m0 28v1"/><path class="m" d="M0 60v1m0 14v1m0 13v1m0 20v1m0 157v1m0 51v1m0 26v1m0 29v1m0 14v1"/><path class="n" d="M0 3v1m0 3v2m0 10v1m0 3v1m0 1v1m0 2v1m0 2v2m0 3v1m0 4v1m0 6v3m0 1v2m0 7v1m0 8v1m0 15v2m0 6v1m0 9v1m0 11v1m0 14v1m0 4v2m0 3v2m0 2v1m0 4v1m0 4v1m0 7v1m0 1v1m0 1v5m0 3v2m0 3v1m0 8v4m0 16v2m0 1v3m0 4v2m0 11v3m0 1v1m0 1v1m0 10v2m0 1v2m0 1v2m0 9v1m0 3v2m0 3v3m0 16v1m0 1v1m0 5v2m0 6v1m0 10v1m0 2v1m0 4v1m0 2v4m0 2v1m0 10v2m0 1v1m0 3v1m0 4v1m0 6v6m0 4v2m0 8v1m0 1v1"/><path class="o" d="M0 229v1m0 114v1"/><path class="p" d="M0 2v1m0 7v1m0 19v1m0 14v1m0 26v1m0 9v1m0 12v1m0 5v1m0 28v1m0 73v1m0 36v1m0 32v1m0 22v1"/><path class="q" d="M0 126v1m0 101v1m0 83v1"/><path class="r" d="M0 29v1m0 10v1m0 14v1m0 44v1m0 11v1m0 15v2m0 65v1m0 1v1m0 27v1m0 111v1m0 57v1"/><path class="s" d="M0 12v1m0 56v1m0 18v1m0 95v1m0 75v1"/><path class="t" d="M0 1v1m0 13v1m0 22v1m0 5v1m0 23v1m0 8v1m0 18v1m0 127v1m0 10v1m0 3v1m0 21v1m0 31v1"/><path class="u" d="M0 257v2m0 13v1m0 13v1m0 29v1m0 26v1"/><path class="v" d="M0 26v2m0 30v1m0 39v1m0 86v2m0 13v2m0 112v1m0 42v2m0 27v2m0 14v1"/><path class="w" d="M0 4v1m0 1v1m0 2v1m0 3v1m0 28v1m0 8v1m0 12v1m0 37v1m0 5v1m0 5v1m0 2v1m0 20v1m0 1v1m0 5v1m0 6v1m0 3v1m0 1v1m0 12v1m0 15v1m0 16v1m0 12v1m0 3v1m0 31v1m0 25v1m0 11v1m0 8v1m0 4v1m0 1v1m0 13v1m0 5v1m0 2v1m0 7v1m0 19v1m0 2v1m0 17v1m0 4v1m0 14v1m0 2v1"/><path class="x" d="M0 59v1m0 7v1m0 6v1m0 36v1m0 6v1m0 128v1m0 21v1m0 13v1m0 35v1m0 35v1m0 35v1"/></g>
<g id="r17"><path class="a" d="M0 10v1m0 1v1m0 6v1m0 10v1m0 1v1m0 4v2m0 11v1m0 14v1m0 13v1m0 7v1m0 7v1m0 3v1m0 5v3m0 4v1m0 5v1m0 24v1m0 13v1m0 4v1m0 5v1m0 5v1m0 6v1m0 8v3m0 21v3m0 2v1m0 10v1m0 3v1m0 3v1m0 6v1m0 12v1m0 15v2m0 25v1m0 9v2m0 3v3m0 21v1m0 2v1m0 1v1m0 15v1m0 5v2m0 2v1m0 5v1"/><path class="b" d="M0 55v1m0 2v1m0 67v1m0 3v1m0 82v1m0 27v1m0 17v1m0 28v1m0 25v1m0 13v1m0 28v1m0 17v1m0 9v1m0 3v1"/><path class="c" d="M0 54v1m0 70v1m0 5v1m0 68v1m0 126v1m0 4v1m0 51v1"/><path class="d" d="M0 43v1m0 15v1m0 152v1m0 27v1m0 48v1m0 23v1m0 42v1m0 19v1m0 13v1m0 7v1"/><path class="e" d="M0 27v1m0 11v1m0 16v1m0 12v1m0 12v1m0 59v1m0 2v1m0 27v1m0 11v1m0 16v1m0 2v1m0 15v1m0 5v1m0 29v1m0 14v1m0 24v1m0 22v1m0 9v1m0 10v1m0 30v2m0 4v1m0 9v1m0 8v1"/><path class="f" d="M0 15v1m0 82v1m0 45v1m0 42v1m0 38v1m0 73v1m0 100v1"/><path class="g" d="M0 22v1m0 13v1m0 26v1m0 53v1m0 43v1m0 22v1m0 21v1m0 32v1m0 7v1m0 4v1m0 1v1m0 8v1m0 35v1m0 63v1"/><path class="h" d="M0 1v1m0 32v1m0 55v1m0 76v1m0 52v1m0 40v1m0 2v1m0 97v1m0 19v1"/><path class="i" d="M0 228v1m0 102v1"/><path class="j" d="M0 4v1m0 26v1m0 21v1m0 16v1m0 15v1m0 23v1m0 10v1m0 7v1m0 4v1m0 3v1m0 98v1m0 45v1m0 52v1m0 5v1m0 38v1m0 5v1m0 8v1"/><path class="k" d="M0 2v1m0 106v1m0 26v1m0 10v1m0 17v1m0 10v1m0 46v1m0 56v1m0 10v1m0 15v1m0 2v1m0 27v1m0 11v1m0 3v1m0 24v1m0 15v1"/><path class="l" d="M0 7v1m0 1v1m0 50v1m0 43v1m0 18v1m0 40v1m0 14v1m0 8v1m0 47v1m0 13v1m0 39v1m0 7v1m0 38v1m0 45v1"/><path class="m" d="M0 3v1m0 4v1m0 38v1m0 13v1m0 5v1m0 12v1m0 72v1m0 6v1m0 92v1m0 8v1m0 5v1m0 12v1m0 22v1m0 1v1m0 41v1"/><path class="n" d="M0 11v1m0 5v1m0 3v1m0 4v1m0 2v1m0 3v1m0 6v2m0 3v1m0 3v1m0 1v2m0 9v1m0 3v1m0 4v3m0 2v1m0 1v1m0 9v1m0 2v2m0 3v1m0 3v2m0 6v1m0 2v1m0 7v2m0 1v1m0 10v1m0 1v1m0 4v1m0 7v5m0 3v1m0 6v1m0 2v1m0 8v1m0 1v2m0 3v1m0 3v1m0 7v5m0 5v1m0 2v2m0 1v1m0 6v2m0 3v1m0 1v1m0 6v1m0 12v1m0 1v1m0 1v1m0 2v1m0 14v2m0 3v1m0 13v1m0 6v2m0 1v1m0 25v1m0 1v3m0 8v1m0 4v1m0 4v1m0 1v1m0 2v1m0 2v1m0 11v1m0 1v1m0 7v1m0 5v1m0 12v1"/><path class="o" d="M0 13v1m0 99v1"/><path class="p" d="M0 16v1m0 107v1m0 2v1m0 4v1m0 8v1m0 41v1m0 5v1m0 11v1m0 1v1m0 21v1m0 7v1m0 39v1m0 52v1m0 6v1"/><path class="q" d="M0 269v1m0 130v1"/><path class="r" d="M0 6v1m0 17v1m0 50v1m0 1v1m0 5v1m0 44v1m0 40v1m0 10v1m0 12v1m0 76v1m0 5v1m0 1v1m0 5v1m0 11v1m0 22v1m0 82v2"/><path class="s" d="M0 116v1m0 37v1m0 4v1m0 10v1m0 61v1"/><path class="t" d="M0 0v1m0 22v1m0 11v1m0 28v1m0 190v2m0 94v1m0 3v1m0 13v1m0 24v1"/><path class="u" d="M0 14v1m0 27v1m0 71v1m0 56v2m0 56v1m0 128v2"/><path class="v" d="M0 28v1m0 28v1m0 39v1m0 101v1"/><path class="w" d="M0 5v1m0 12v1m0 1v1m0 4v1m0 18v1m0 3v1m0 25v1m0 9v2m0 7v2m0 20v1m0 21v1m0 1v1m0 6v1m0 8v1m0 2v1m0 50v1m0 1v1m0 23v1m0 6v2m0 5v1m0 15v1m0 11v1m0 8v2m0 6v1m0 7v1m0 5v1m0 6v1m0 13v1m0 5v1m0 24v1m0 4v1m0 4v1m0 15v1m0 17v1"/><path class="x" d="M0 46v1m0 21v1m0 12v1m0 7v1m0 12v1m0 179v1m0 20v1m0 1v1m0 41v1m0 43v1m0 13v1"/></g>
<g id="r18"><path class="a" d="M0 7v1m0 14v1m0 5v2m0 14v1m0 8v1m0 1v1m0 7v1m0 3v1m0 2v1m0 3v1m0 1v1m0 1v1m0 5v1m0 3v1m0 2v1m0 8v1m0 6v1m0 3v1m0 3v1m0 31v1m0 4v1m0 2v1m0 15v2m0 4v1m0 13v1m0 8v1m0 1v1m0 1v1m0 4v1m0 3v1m0 6v1m0 13v1m0 15v1m0 1v1m0 1v1m0 7v1m0 14v1m0 3v1m0 13v1m0 6v1m0 3v1m0 16v1m0 46v1m0 14v1m0 6v1m0 1v1m0 1v1"/><path class="b" d="M0 83v1m0 46v1m0 9v1m0 46v1m0 11v1m0 41v1m0 75v1m0 71v1"/><path class="c" d="M0 142v1"/><path class="d" d="M0 11v1m0 70v1m0 157v1m0 77v1m0 71v1m0 8v1"/><path class="e" d="M0 1v1m0 35v1m0 19v1m0 29v1m0 36v1m0 29v1m0 12v1m0 48v1m0 13v1m0 51v1m0 1v1m0 16v1m0 23v1m0 6v1m0 7v1m0 32v1"/><path class="f" d="M0 117v1m0 39v1m0 114v1m0 40v1"/><path class="g" d="M0 60v1m0 82v2m0 40v1m0 20v1m0 30v1m0 31v1m0 18v1m0 42v1m0 18v1m0 28v1"/><path class="h" d="M0 31v1m0 40v1m0 235v2m0 20v1m0 8v1m0 7v1m0 3v1"/><path class="i" d="M0 12v1m0 316v1"/><path class="j" d="M0 9v1m0 3v1m0 4v1m0 22v2m0 6v1m0 2v1m0 3v1m0 11v1m0 49v1m0 2v1m0 13v1m0 2v1m0 23v2m0 14v2m0 1v1m0 8v1m0 5v1m0 14v2m0 18v1m0 15v1m0 7v1m0 14v1m0 28v1m0 5v1m0 13v1m0 15v1m0 8v1m0 22v1m0 4v1m0 1v1m0 3v1m0 23v1"/><path class="k" d="M0 21v1m0 25v1m0 42v1m0 2v1m0 15v1m0 38v1m0 17v1m0 82v1m0 14v1m0 2v1m0 66v1m0 2v1m0 14v1m0 10v1m0 31v1"/><path class="l" d="M0 86v1m0 5v1m0 39v1m0 1v1m0 2v1m0 113v1m0 27v1m0 6v2m0 8v1m0 13v1m0 9v1m0 7v1m0 39v1m0 13v1m0 14v1"/><path class="m" d="M0 3v1m0 13v1m0 14v1m0 13v1m0 14v1m0 34v1m0 49v1m0 14v1m0 57v1m0 4v1m0 8v1m0 12v1m0 13v1m0 36v1m0 64v1m0 14v1"/><path class="n" d="M0 0v1m0 4v2m0 1v1m0 1v1m0 3v2m0 4v1m0 2v2m0 2v1m0 2v1m0 3v3m0 1v1m0 11v2m0 2v1m0 7v1m0 2v2m0 2v1m0 7v1m0 1v3m0 7v1m0 4v2m0 2v2m0 1v3m0 1v1m0 2v1m0 1v1m0 1v2m0 2v1m0 2v2m0 2v1m0 2v4m0 3v1m0 2v1m0 12v2m0 5v1m0 12v2m0 2v4m0 16v1m0 7v1m0 1v1m0 1v1m0 1v1m0 14v2m0 3v2m0 6v1m0 2v2m0 2v3m0 8v1m0 2v1m0 6v1m0 12v1m0 1v1m0 13v3m0 8v1m0 17v1m0 14v1m0 1v1m0 10v1m0 3v1m0 4v1m0 16v1m0 5v1m0 4v3m0 2v1m0 1v1m0 4v1m0 5v1"/><path class="o" d="M0 131v1m0 56v1m0 126v1"/><path class="p" d="M0 25v1m0 13v1m0 33v1m0 110v1m0 32v1m0 50v1m0 6v1m0 36v1m0 14v1m0 13v1m0 3v1m0 2v1m0 5v1"/><path class="q" d="M0 145v1m0 52v1m0 90v1m0 110v1"/><path class="r" d="M0 26v1m0 13v1m0 7v1m0 9v2m0 79v1m0 42v1m0 9v1m0 68v1m0 12v1m0 25v1m0 32v1m0 9v1m0 2v1m0 17v1m0 1v1m0 34v1"/><path class="s" d="M0 97v1m0 62v1m0 22v1m0 61v1m0 13v1m0 95v1m0 1v1m0 3v1"/><path class="t" d="M0 19v1m0 148v1m0 25v1m0 2v1m0 85v1m0 58v1m0 26v1"/><path class="u" d="M0 71v1m0 142v2m0 41v2m0 55v1"/><path class="v" d="M0 85v1m0 55v1m0 16v1m0 27v1m0 86v1m0 11v1m0 70v1"/><path class="w" d="M0 4v1m0 28v1m0 9v1m0 20v1m0 39v1m0 1v1m0 7v1m0 7v1m0 28v1m0 1v1m0 5v1m0 4v1m0 15v1m0 14v1m0 12v1m0 1v1m0 10v1m0 7v1m0 6v1m0 11v1m0 16v1m0 5v1m0 8v1m0 26v1m0 8v1m0 7v1m0 1v1m0 32v2m0 10v1m0 8v1m0 22v1m0 1v1"/><path class="x" d="M0 2v1m0 13v1m0 28v1m0 29v1m0 49v1m0 63v1m0 28v1m0 7v1m0 5v1m0 65v1m0 5v1m0 6v1m0 64v1m0 7v1"/></g>
<g id="r19"><path class="a" d="M0 2v1m0 2v1m0 4v2m0 8v1m0 14v1m0 9v2m0 4v1m0 3v1m0 17v1m0 19v1m0 4v1m0 17v1m0 3v1m0 4v2m0 1v1m0 1v1m0 1v1m0 8v1m0 4v2m0 8v1m0 3v1m0 1v1m0 1v1m0 15v1m0 1v1m0 5v1m0 4v2m0 10v1m0 3v1m0 9v1m0 9v1m0 3v1m0 34v1m0 4v3m0 2v1m0 11v2m0 2v1m0 4v2m0 3v1m0 5v1m0 14v1m0 32v2m0 3v1m0 10v1m0 4v1m0 4v3m0 9v1m0 4v1m0 2v1"/><path class="b" d="M0 14v1m0 187v1m0 9v1m0 18v1m0 52v1m0 57v1m0 2v1m0 11v1m0 30v1m0 10v1"/><path class="c" d="M0 232v1m0 86v1"/><path class="d" d="M0 15v1m0 157v1m0 29v1m0 7v1m0 100v1m0 33v1m0 9v1m0 14v1m0 17v1"/><path class="e" d="M0 34v1m0 1v1m0 28v2m0 23v1m0 107v1m0 1v1m0 13v1m0 40v1m0 23v1m0 46v1m0 16v2m0 7v1m0 15v1m0 21v1"/><path class="f" d="M0 30v1m0 43v1m0 12v1m0 67v1m0 12v1m0 47v1m0 97v1"/><path class="g" d="M0 7v1m0 33v1m0 66v1m0 29v1m0 24v1m0 62v1m0 14v1m0 29v1m0 120v1"/><path class="h" d="M0 18v1m0 18v2m0 11v1m0 97v1m0 29v1m0 57v1m0 16v1m0 33v1m0 41v1m0 34v1"/><path class="i" d="M0 85v1m0 86v1m0 113v1"/><path class="j" d="M0 13v1m0 13v1m0 49v1m0 51v1m0 1v1m0 13v1m0 6v1m0 6v1m0 17v1m0 6v1m0 25v1m0 14v1m0 51v1m0 7v1m0 3v1m0 2v1m0 8v1m0 4v2m0 54v1m0 31v1"/><path class="k" d="M0 123v1m0 26v1m0 15v1m0 9v1m0 72v1m0 74v1m0 10v1m0 31v1m0 23v1"/><path class="l" d="M0 62v1m0 12v1m0 48v1m0 11v1m0 2v1m0 64v1m0 71v1m0 3v1m0 49v1m0 8v2"/><path class="m" d="M0 52v1m0 57v1m0 56v1m0 27v1m0 66v1m0 18v1m0 100v1"/><path class="n" d="M0 3v2m0 1v1m0 2v1m0 6v2m0 3v3m0 4v2m0 3v1m0 9v2m0 2v3m0 6v2m0 3v1m0 1v2m0 5v3m0 3v1m0 1v6m0 8v1m0 1v4m0 3v3m0 1v2m0 5v2m0 3v2m0 3v1m0 4v1m0 5v3m0 1v1m0 2v1m0 8v1m0 1v1m0 9v1m0 3v1m0 3v1m0 4v2m0 3v1m0 1v1m0 5v1m0 4v1m0 13v1m0 8v1m0 2v1m0 2v1m0 1v2m0 3v1m0 1v1m0 6v1m0 1v1m0 10v3m0 3v5m0 3v3m0 2v1m0 23v1m0 1v4m0 6v1m0 3v1m0 1v1m0 3v1m0 7v1m0 3v1m0 9v2m0 8v2m0 1v2m0 1v1m0 1v1m0 4v1m0 5v1m0 2v2m0 2v1m0 4v1m0 1v2m0 5v1m0 7v1m0 1v1m0 2v1m0 1v1m0 2v1"/><path class="o" d="M0 398v1"/><path class="p" d="M0 1v1m0 22v1m0 1v1m0 4v1m0 10v1m0 17v1m0 23v1m0 3v1m0 65v1m0 30v2m0 10v1m0 3v1m0 11v1m0 3v1m0 22v1m0 6v1m0 22v1m0 1v1"/><path class="q" d="M0 246v1m0 66v1m0 4v1"/><path class="r" d="M0 8v1m0 49v1m0 45v1m0 2v1m0 11v1m0 71v1m0 35v1m0 39v1m0 49v1m0 2v1m0 44v1"/><path class="s" d="M0 0v1m0 52v1m0 89v1"/><path class="t" d="M0 25v1m0 33v1m0 29v1m0 25v1m0 55v1m0 36v1m0 11v1m0 21v1m0 2v1m0 62v1m0 24v1m0 15v1m0 43v1"/><path class="u" d="M0 86v1m0 12v2m0 271v1"/><path class="v" d="M0 40v1m0 73v1m0 29v1m0 25v1m0 72v1m0 44v1m0 39v1m0 2v1"/><path class="w" d="M0 12v1m0 6v1m0 12v1m0 21v1m0 13v2m0 21v1m0 17v1m0 11v1m0 20v1m0 14v2m0 24v1m0 6v1m0 8v1m0 22v1m0 11v2m0 2v1m0 5v1m0 3v1m0 5v1m0 8v1m0 38v2m0 12v1m0 4v1m0 12v1m0 19v1m0 6v1m0 13v1m0 27v1"/><path class="x" d="M0 39v1m0 27v1m0 43v1m0 41v1m0 35v1m0 6v1m0 64v1m0 70v1m0 43v1m0 6v1"/></g>
<g id="r20"><path class="a" d="M0 11v1m0 6v1m0 1v1m0 5v1m0 6v1m0 19v1m0 7v1m0 8v2m0 1v2m0 2v1m0 23v1m0 7v2m0 5v1m0 5v1m0 3v1m0 17v1m0 1v1m0 7v1m0 3v1m0 2v1m0 3v1m0 13v1m0 2v1m0 1v1m0 1v1m0 4v1m0 1v1m0 16v2m0 10v1m0 1v1m0 11v1m0 11v1m0 12v2m0 2v1m0 1v1m0 7v1m0 15v2m0 13v1m0 4v1m0 40v1m0 20v1m0 25v1"/><path class="b" d="M0 87v1m0 24v1m0 17v1m0 42v1m0 54v1m0 2v1m0 25v1m0 41v1m0 29v1m0 1v1m0 42v1"/><path class="c" d="M0 199v1m0 42v1m0 85v1m0 13v1m0 2v1m0 40v1"/><path class="d" d="M0 30v1m0 57v1m0 22v1m0 19v1m0 42v1m0 81v1m0 3v1m0 28v1m0 23v1m0 55v1"/><path class="e" d="M0 28v1m0 28v2m0 4v1m0 15v1m0 9v1m0 1v1m0 31v1m0 33v1m0 11v1m0 1v1m0 26v1m0 2v1m0 3v1m0 23v1m0 28v1m0 15v1m0 1v1m0 43v1m0 6v1m0 57v1"/><path class="f" d="M0 40v1m0 2v1m0 11v1m0 12v1m0 200v1m0 14v1m0 2v1m0 73v1"/><path class="g" d="M0 188v1m0 5v1m0 173v1"/><path class="h" d="M0 62v1m0 4v1m0 7v1m0 17v1m0 13v1m0 24v1m0 17v1m0 95v1m0 6v1m0 51v1m0 51v1m0 22v1m0 11v1"/><path class="i" d="M0 29v1m0 213v1m0 15v1"/><path class="j" d="M0 12v1m0 10v1m0 3v1m0 7v1m0 1v1m0 13v1m0 7v2m0 24v2m0 28v1m0 1v1m0 16v1m0 8v1m0 1v1m0 1v1m0 7v1m0 46v1m0 9v1m0 20v1m0 16v1m0 13v1m0 3v1m0 13v1m0 13v1m0 21v1m0 2v1m0 81v1"/><path class="k" d="M0 5v1m0 41v1m0 89v1m0 39v1m0 2v1m0 14v1m0 13v1m0 42v1m0 25v1m0 1v1m0 28v1m0 39v1m0 4v1m0 8v1m0 2v1"/><path class="l" d="M0 7v1m0 57v1m0 14v1m0 85v1m0 8v1m0 5v1m0 22v1m0 30v1m0 8v1m0 28v1"/><path class="m" d="M0 9v1m0 7v1m0 14v1m0 12v1m0 20v1m0 29v1m0 36v1m0 5v1m0 36v1m0 48v1m0 6v1m0 14v1m0 49v1m0 36v1m0 5v1m0 35v1m0 5v1m0 14v1"/><path class="n" d="M0 1v2m0 1v1m0 1v1m0 1v1m0 5v2m0 3v1m0 1v2m0 1v2m0 10v1m0 1v1m0 7v1m0 1v3m0 1v1m0 3v1m0 7v1m0 4v1m0 2v1m0 3v1m0 4v1m0 2v1m0 7v1m0 1v2m0 6v1m0 3v1m0 1v1m0 4v2m0 3v4m0 2v2m0 1v1m0 7v1m0 2v1m0 10v1m0 1v1m0 7v2m0 1v1m0 1v1m0 7v1m0 10v1m0 12v1m0 6v1m0 3v2m0 4v1m0 3v1m0 1v2m0 2v1m0 13v4m0 8v1m0 4v1m0 26v1m0 3v2m0 6v1m0 6v1m0 3v1m0 2v2m0 1v1m0 1v1m0 10v2m0 13v2m0 7v2m0 1v1m0 14v1m0 13v1m0 1v1m0 7v2m0 2v1m0 1v2m0 8v1"/><path class="o" d="M0 99v2m0 114v1m0 86v1"/><path class="p" d="M0 39v1m0 14v1m0 27v1m0 73v1m0 32v1m0 51v1m0 28v1m0 12v1m0 62v1m0 15v1"/><path class="q" d="M0 44v1m0 243v1m0 52v1m0 1v2m0 25v1m0 16v1"/><path class="r" d="M0 34v1m0 6v1m0 41v1m0 6v1m0 96v1m0 46v1m0 36v1m0 7v1m0 10v1m0 28v1m0 2v1m0 12v1m0 1v1m0 17v1"/><path class="s" d="M0 10v1m0 5v1m0 80v1m0 42v1m0 218v1"/><path class="t" d="M0 142v1m0 20v1m0 6v1m0 19v1m0 1v1m0 52v1m0 5v1m0 11v1m0 31v1m0 21v1m0 53v1"/><path class="u" d="M0 200v1m0 13v1m0 86v1m0 13v1m0 42v1"/><path class="v" d="M0 0v1m0 41v1m0 98v1m0 130v1m0 83v1m0 3v1m0 27v1"/><path class="w" d="M0 13v1m0 84v1m0 4v3m0 22v2m0 6v1m0 11v1m0 3v2m0 13v2m0 16v1m0 11v1m0 8v1m0 9v1m0 1v1m0 11v1m0 24v1m0 10v1m0 10v1m0 25v1m0 12v1m0 8v1m0 4v1m0 20v1m0 15v1m0 4v1m0 11v1m0 15v3m0 1v1"/><path class="x" d="M0 3v1m0 27v1m0 294v1m0 50v1m0 5v1m0 7v1m0 6v1"/></g>
<g id="r21"><path class="a" d="M0 3v1m0 10v1m0 7v1m0 5v1m0 6v1m0 10v1m0 18v1m0 23v1m0 1v2m0 7v1m0 12v1m0 2v2m0 1v1m0 6v2m0 4v1m0 7v1m0 3v1m0 14v1m0 3v1m0 9v2m0 6v2m0 3v1m0 5v1m0 9v2m0 1v1m0 4v1m0 15v1m0 8v1m0 1v1m0 8v1m0 3v1m0 13v1m0 9v1m0 7v1m0 3v2m0 14v1m0 9v1m0 3v1m0 3v2m0 6v1m0 1v1m0 29v2m0 10v1m0 3v1m0 14v1m0 3v1"/><path class="b" d="M0 12v1m0 41v1m0 42v1m0 3v1m0 142v1m0 55v1m0 16v1m0 82v1"/><path class="c" d="M0 297v1"/><path class="d" d="M0 53v1m0 15v1m0 32v1m0 95v1m0 42v1m0 3v1m0 13v1m0 39v1m0 46v1m0 27v1m0 28v1"/><path class="e" d="M0 4v1m0 80v1m0 9v1m0 7v1m0 37v1m0 7v1m0 4v1m0 5v1m0 9v1m0 13v1m0 15v1m0 3v1m0 3v1m0 48v1m0 17v2m0 6v1m0 22v1m0 12v1m0 13v1m0 1v1m0 8v1m0 22v1m0 30v1"/><path class="f" d="M0 71v1m0 10v1m0 29v1m0 17v1m0 82v1m0 118v1"/><path class="g" d="M0 21v1m0 82v1m0 5v1m0 50v2m0 14v1m0 54v1m0 34v1m0 66v1m0 4v1m0 8v1m0 15v1m0 4v1m0 7v1m0 18v1"/><path class="h" d="M0 5v1m0 5v1m0 32v1m0 11v1m0 23v1m0 112v2m0 23v1m0 5v1m0 6v1m0 22v1m0 37v1m0 12v1m0 12v1m0 32v1m0 31v1m0 15v1"/><path class="i" d="M0 199v1m0 15v1m0 129v1"/><path class="j" d="M0 37v1m0 23v1m0 15v1m0 1v1m0 26v1m0 8v1m0 36v1m0 25v2m0 3v1m0 13v1m0 3v1m0 17v1m0 9v1m0 10v1m0 15v1m0 83v1m0 2v1m0 19v1m0 26v1m0 1v1"/><path class="k" d="M0 188v1m0 28v1m0 2v1m0 12v1m0 19v1m0 37v1m0 3v1m0 13v1m0 39v1m0 18v1m0 12v1m0 11v1"/><path class="l" d="M0 8v1m0 8v1m0 75v1m0 11v1m0 2v1m0 114v1m0 27v1m0 11v1m0 43v1m0 70v1"/><path class="m" d="M0 66v1m0 99v1m0 22v1m0 44v1m0 27v1m0 47v1m0 42v1m0 28v1m0 22v1"/><path class="n" d="M0 1v2m0 3v2m0 5v1m0 1v2m0 1v3m0 4v1m0 3v1m0 2v2m0 2v1m0 3v3m0 4v2m0 1v3m0 5v3m0 1v1m0 1v1m0 3v1m0 4v4m0 1v1m0 4v1m0 2v3m0 5v1m0 12v1m0 12v6m0 7v5m0 7v1m0 2v1m0 1v2m0 4v3m0 5v1m0 3v1m0 2v2m0 2v2m0 13v2m0 14v2m0 13v1m0 6v1m0 7v1m0 1v2m0 7v1m0 1v1m0 10v1m0 4v1m0 11v2m0 1v1m0 4v1m0 2v1m0 1v1m0 3v1m0 8v1m0 10v2m0 6v2m0 2v2m0 1v1m0 1v1m0 5v2m0 13v1m0 2v1m0 10v1m0 12v2m0 4v1m0 2v1m0 8v1"/><path class="o" d="M0 129v1m0 143v1"/><path class="p" d="M0 10v1m0 20v1m0 49v1m0 2v1m0 24v1m0 21v1m0 37v1m0 42v1"/><path class="q" d="M0 216v1m0 25v1m0 159v1"/><path class="r" d="M0 24v1m0 2v1m0 2v1m0 7v1m0 6v1m0 65v1m0 30v1m0 4v1m0 61v1m0 45v1m0 10v1m0 17v1m0 19v1m0 19v1m0 17v1m0 7v1m0 11v1m0 8v1m0 17v1"/><path class="s" d="M0 39v1m0 3v1m0 143v1m0 83v1m0 85v1m0 26v1m0 19v1"/><path class="t" d="M0 23v1m0 10v1m0 14v1m0 40v1m0 74v1m0 45v1m0 18v1m0 17v1m0 19v1m0 1v1m0 8v1m0 1v1m0 88v1"/><path class="u" d="M0 70v1m0 57v1m0 129v1m0 13v1m0 85v2m0 13v1"/><path class="v" d="M0 26v1m0 28v1m0 1v1m0 14v1m0 141v1m0 28v1m0 112v1m0 29v2m0 13v1"/><path class="w" d="M0 0v1m0 62v1m0 34v2m0 14v1m0 3v1m0 20v1m0 3v1m0 11v1m0 24v1m0 4v1m0 9v1m0 26v1m0 4v1m0 41v1m0 19v1m0 6v1m0 4v1m0 6v1m0 4v1m0 11v1m0 10v1m0 10v1m0 27v1"/><path class="x" d="M0 9v1m0 57v1m0 70v1m0 7v1m0 6v1m0 13v1m0 28v1m0 28v1m0 35v1m0 36v1m0 12v1m0 29v1m0 12v1"/></g>
<g id="r22"><path class="a" d="M0 0v1m0 26v3m0 3v1m0 5v1m0 11v1m0 7v1m0 6v1m0 7v1m0 13v1m0 14v1m0 2v2m0 11v1m0 1v1m0 4v2m0 1v1m0 5v1m0 2v1m0 6v1m0 4v1m0 3v1m0 4v1m0 1v1m0 7v1m0 6v1m0 3v1m0 1v1m0 32v1m0 1v2m0 11v1m0 20v1m0 12v1m0 1v1m0 11v1m0 14v1m0 7v2m0 6v1m0 17v1m0 5v3m0 43v1m0 10v1m0 13v2"/><path class="b" d="M0 1v1m0 128v1m0 113v1m0 13v1m0 12v1"/><path class="d" d="M0 131v1m0 65v1m0 15v1m0 31v1m0 9v1m0 4v1m0 9v1m0 17v1m0 43v1"/><path class="e" d="M0 10v1m0 29v1m0 4v1m0 7v1m0 1v1m0 17v1m0 2v1m0 21v1m0 1v1m0 78v1m0 5v1m0 4v1m0 5v1m0 3v2m0 4v1m0 16v1m0 7v1m0 2v1m0 4v1m0 17v1m0 41v1m0 8v1m0 33v1m0 1v1m0 10v1m0 13v1m0 2v1"/><path class="f" d="M0 44v1m0 128v1m0 14v1m0 141v1m0 28v1m0 13v1m0 25v1"/><path class="g" d="M0 6v1m0 94v1m0 87v1m0 3v1m0 43v1m0 3v1m0 94v1m0 8v1m0 6v1m0 29v1m0 12v1"/><path class="h" d="M0 22v1m0 9v1m0 58v1m0 71v1m0 11v1m0 48v1m0 79v1m0 6v1m0 3v1m0 68v1m0 7v1"/><path class="i" d="M0 97v1m0 100v1m0 57v1"/><path class="j" d="M0 7v1m0 44v1m0 8v1m0 6v1m0 8v1m0 1v1m0 42v1m0 23v1m0 1v1m0 17v1m0 19v2m0 11v1m0 16v1m0 21v1m0 14v1m0 40v1m0 8v1m0 24v1m0 19v1m0 4v1m0 8v1m0 28v1"/><path class="k" d="M0 65v1m0 27v1m0 57v1m0 39v1m0 3v1m0 14v1m0 70v1m0 28v1m0 9v1m0 28v1m0 28v1"/><path class="l" d="M0 123v1m0 43v1m0 3v1m0 61v1m0 49v1m0 21v1m0 1v1m0 6v1m0 25v1m0 6v1m0 49v1"/><path class="m" d="M0 2v1m0 21v1m0 69v1m0 14v1m0 29v1m0 107v1m0 14v1m0 19v1m0 56v1m0 37v1m0 5v1"/><path class="n" d="M0 3v3m0 5v1m0 4v2m0 1v3m0 1v1m0 2v1m0 3v1m0 3v2m0 1v1m0 4v2m0 2v1m0 1v3m0 5v3m0 1v1m0 1v3m0 10v1m0 2v1m0 1v2m0 2v4m0 1v2m0 1v1m0 6v1m0 4v2m0 7v6m0 1v1m0 3v2m0 2v1m0 3v3m0 1v2m0 5v2m0 4v1m0 2v2m0 2v3m0 1v1m0 1v1m0 2v1m0 12v1m0 2v1m0 10v1m0 1v1m0 8v3m0 1v2m0 3v1m0 6v2m0 4v1m0 2v2m0 5v1m0 7v1m0 4v3m0 1v1m0 1v1m0 8v1m0 10v4m0 1v2m0 4v1m0 3v2m0 1v1m0 2v2m0 3v1m0 16v1m0 3v2m0 6v1m0 7v2m0 2v1m0 8v1m0 3v1m0 8v2m0 1v2m0 7v1m0 4v2m0 5v1m0 5v1m0 2v1m0 5v2"/><path class="o" d="M0 71v1m0 24v1"/><path class="p" d="M0 15v1m0 38v1m0 27v1m0 28v1m0 71v1m0 42v1m0 13v1m0 27v1m0 28v1m0 73v1m0 26v1"/><path class="q" d="M0 70v1m0 103v1m0 112v1m0 43v1m0 53v1"/><path class="r" d="M0 18v1m0 22v1m0 41v1m0 28v1m0 28v1m0 28v1m0 56v1m0 4v1m0 36v1m0 48v1m0 24v1m0 2v1m0 10v1m0 30v2m0 11v1"/><path class="s" d="M0 25v1m0 185v1m0 30v1m0 3v1m0 123v1m0 15v1"/><path class="t" d="M0 9v1m0 3v2m0 16v1m0 4v1m0 30v1m0 34v1m0 44v1m0 36v1m0 82v1m0 30v1m0 25v1m0 31v1m0 19v1"/><path class="u" d="M0 214v1m0 57v2"/><path class="v" d="M0 69v1m0 72v1m0 29v1m0 113v1m0 26v1m0 2v1m0 41v1m0 1v1m0 13v1m0 25v1"/><path class="w" d="M0 8v1m0 3v1m0 25v1m0 8v1m0 24v1m0 35v1m0 46v1m0 8v1m0 12v1m0 24v1m0 62v1m0 18v1m0 6v1m0 14v1m0 12v1m0 3v1m0 27v1m0 9v1m0 6v1"/><path class="x" d="M0 95v1m0 14v1m0 29v1m0 27v1m0 92v1m0 50v1m0 13v1"/></g>
<g id="r23"><path class="a" d="M0 4v1m0 6v2m0 14v1m0 5v1m0 4v1m0 3v1m0 8v2m0 3v2m0 1v1m0 2v1m0 3v2m0 1v1m0 4v2m0 7v1m0 25v1m0 12v1m0 23v1m0 5v1m0 1v1m0 7v1m0 25v1m0 2v1m0 1v1m0 3v1m0 4v1m0 7v1m0 8v1m0 3v1m0 3v1m0 9v1m0 2v1m0 9v1m0 4v1m0 24v1m0 16v2m0 2v1m0 5v2m0 4v1m0 11v1m0 4v1m0 3v1m0 2v2m0 7v1m0 7v1m0 6v1m0 3v1m0 6v3m0 4v1m0 4v1m0 1v2m0 1v1m0 13v1"/><path class="b" d="M0 44v1m0 127v1m0 43v1m0 25v1m0 28v1m0 30v1m0 28v1m0 68v1"/><path class="c" d="M0 40v1m0 247v1m0 110v1"/><path class="d" d="M0 45v1m0 79v1m0 47v1m0 67v1m0 28v1m0 32v1m0 28v1"/><path class="e" d="M0 53v1m0 1v1m0 17v1m0 30v1m0 23v1m0 16v1m0 14v1m0 50v1m0 6v1m0 1v1m0 40v1m0 24v1m0 27v2m0 39v1m0 46v1"/><path class="f" d="M0 14v1m0 141v1m0 74v1m0 22v1m0 57v1m0 30v1"/><path class="g" d="M0 19v1m0 10v1m0 32v2m0 14v1m0 7v1m0 31v2m0 2v1m0 14v1m0 53v1m0 53v2m0 5v1m0 5v1m0 22v1m0 28v1m0 24v1"/><path class="h" d="M0 86v1m0 48v1m0 81v1m0 18v1m0 47v1m0 25v1m0 9v1m0 7v1m0 69v1"/><path class="i" d="M0 126v1m0 160v1"/><path class="j" d="M0 8v1m0 72v1m0 10v1m0 3v1m0 11v1m0 24v2m0 28v1m0 2v1m0 1v1m0 13v1m0 4v1m0 19v1m0 37v1m0 22v1m0 6v1m0 5v1m0 41v1m0 42v1m0 9v1"/><path class="k" d="M0 31v1m0 119v1m0 42v1m0 14v1m0 25v1m0 12v1m0 3v1m0 14v1m0 10v1m0 14v1m0 12v1m0 28v1m0 13v1m0 2v1m0 15v1m0 8v1m0 3v1"/><path class="l" d="M0 76v3m0 74v1m0 27v1m0 80v1m0 16v1m0 68v1m0 7v1"/><path class="m" d="M0 24v1m0 7v1m0 14v1m0 13v1m0 32v1m0 37v1m0 42v1m0 28v1m0 20v1m0 8v1m0 42v1m0 5v1m0 55v1m0 23v1m0 41v1"/><path class="n" d="M0 3v1m0 1v1m0 1v1m0 1v2m0 2v1m0 6v1m0 1v1m0 3v1m0 8v3m0 10v2m0 8v1m0 11v2m0 8v1m0 1v1m0 6v2m0 2v1m0 4v1m0 3v1m0 2v1m0 4v1m0 2v2m0 2v2m0 2v1m0 7v1m0 9v1m0 2v3m0 2v2m0 15v2m0 4v2m0 4v1m0 1v3m0 8v1m0 6v1m0 2v1m0 5v1m0 2v1m0 3v2m0 7v1m0 16v2m0 3v2m0 4v1m0 6v2m0 5v3m0 6v2m0 18v1m0 1v1m0 4v2m0 3v2m0 3v1m0 6v1m0 2v1m0 2v1m0 1v1m0 8v1m0 16v2m0 1v1m0 6v1m0 3v1m0 4v1m0 12v2m0 1v1m0 4v1m0 1v2m0 1v2"/><path class="o" d="M0 158v1m0 69v1"/><path class="p" d="M0 15v1m0 1v1m0 36v1m0 33v1m0 22v1m0 28v1m0 42v1m0 76v1m0 28v1m0 28v1m0 8v1m0 69v1m0 3v1"/><path class="q" d="M0 85v1m0 14v1m0 128v1m0 2v1"/><path class="r" d="M0 1v2m0 26v1m0 4v1m0 4v1m0 10v1m0 14v1m0 46v1m0 23v1m0 4v1m0 13v1m0 13v1m0 14v1m0 84v1m0 4v1m0 10v1m0 35v1m0 7v1"/><path class="s" d="M0 25v1m0 15v1m0 89v1m0 185v1m0 39v1"/><path class="t" d="M0 6v1m0 9v1m0 6v1m0 67v1m0 35v1m0 21v1m0 9v1m0 1v1m0 60v1m0 73v1"/><path class="u" d="M0 99v1m0 57v1m0 27v2m0 157v2m0 12v2"/><path class="v" d="M0 84v1m0 16v1m0 98v2m0 12v2m0 14v1m0 27v1m0 83v1"/><path class="w" d="M0 0v1m0 17v1m0 2v1m0 6v1m0 14v1m0 24v1m0 3v1m0 24v1m0 5v1m0 11v2m0 7v1m0 5v1m0 6v1m0 39v1m0 17v1m0 2v1m0 7v1m0 17v1m0 26v1m0 39v1m0 3v1m0 30v1m0 14v1m0 25v1m0 2v2m0 3v1m0 2v1m0 9v1m0 2v1m0 2v1"/><path class="x" d="M0 46v1m0 13v1m0 34v1m0 71v1m0 6v1m0 15v1m0 12v1m0 22v1m0 49v1m0 13v1m0 49v1m0 6v1m0 14v1m0 41v1"/></g>
<g id="s0"><path class="a" d="M0 2v2m0 3v1m0 6v2m0 11v1m0 4v1m0 4v1m0 6v1m0 6v1m0 3v2m0 20v1m0 3v1m0 9v1m0 15v1m0 17v1m0 14v1m0 38v1m0 5v2m0 4v1m0 13v1m0 6v1m0 4v1m0 1v1m0 1v2m0 3v1m0 35v2m0 10v1m0 1v1m0 3v1m0 4v2m0 6v1m0 10v1m0 15v1m0 2v1m0 8v2m0 7v1m0 10v1m0 4v1m0 14v1m0 3v2m0 7v1m0 2v1m0 12v3"/><path class="b" d="M0 29v1m0 24v1m0 14v1m0 89v1m0 55v1m0 71v1m0 68v1m0 2v1m0 11v1m0 2v1"/><path class="c" d="M0 86v1m0 59v1m0 152v1m0 60v1"/><path class="d" d="M0 30v1m0 22v1m0 77v1m0 41v1m0 29v1m0 84v1m0 66v1m0 14v1m0 4v1"/><path class="e" d="M0 1v1m0 31v1m0 83v1m0 24v1m0 8v1m0 13v1m0 3v1m0 28v1m0 90v1m0 5v1m0 6v1m0 2v1m0 18v1m0 4v1m0 50v1m0 8v1"/><path class="f" d="M0 72v1m0 25v1m0 102v1m0 12v1m0 15v1m0 9v1"/><path class="g" d="M0 115v2m0 4v1m0 72v1m0 29v1m0 171v1"/><path class="h" d="M0 79v1m0 57v1m0 9v1m0 5v1m0 2v1m0 11v1m0 6v1m0 28v1m0 28v1m0 13v1m0 117v1m0 29v1"/><path class="i" d="M0 130v1"/><path class="j" d="M0 28v1m0 7v1m0 1v1m0 21v1m0 5v1m0 15v1m0 22v1m0 6v1m0 9v1m0 3v1m0 2v1m0 5v1m0 5v1m0 19v1m0 5v1m0 10v1m0 20v1m0 38v1m0 33v1m0 18v1m0 2v1m0 5v1m0 7v2m0 33v1m0 9v1m0 25v1m0 25v1"/><path class="k" d="M0 22v1m0 27v1m0 10v1m0 3v1m0 54v1m0 12v1m0 32v1m0 14v1m0 10v1m0 2v1m0 27v1m0 159v1m0 9v1"/><path class="l" d="M0 9v1m0 8v1m0 15v1m0 60v1m0 27v1m0 12v1m0 99v1m0 5v1m0 5v1m0 3v1m0 13v2m0 11v1m0 17v2m0 23v1m0 67v1"/><path class="m" d="M0 8v1m0 8v1m0 84v1m0 7v1m0 41v1m0 23v1m0 11v1m0 1v1m0 18v1m0 86v1m0 85v1m0 8v1"/><path class="n" d="M0 4v3m0 4v1m0 7v1m0 3v4m0 8v1m0 4v1m0 2v1m0 1v1m0 1v1m0 1v1m0 2v1m0 4v3m0 4v1m0 5v2m0 8v1m0 8v2m0 1v3m0 8v2m0 1v1m0 1v2m0 3v1m0 4v2m0 4v1m0 9v1m0 3v1m0 5v1m0 3v3m0 3v1m0 3v1m0 3v2m0 10v1m0 2v1m0 4v3m0 8v1m0 6v1m0 5v3m0 9v1m0 1v1m0 4v1m0 6v1m0 1v1m0 2v1m0 6v2m0 3v3m0 1v2m0 1v6m0 2v1m0 3v2m0 5v1m0 1v2m0 2v4m0 16v1m0 5v1m0 5v1m0 5v1m0 1v1m0 4v2m0 2v2m0 3v3m0 1v2m0 4v4m0 1v1m0 3v1m0 3v1m0 3v3m0 1v2m0 1v1m0 3v1m0 7v1m0 10v1m0 1v1m0 9v1"/><path class="o" d="M0 68v1m0 101v1m0 45v1m0 170v1"/><path class="p" d="M0 73v1m0 1v1m0 11v1m0 9v1m0 129v1m0 3v1m0 9v1m0 28v1m0 40v1m0 5v1m0 10v1m0 32v1m0 36v1"/><path class="q" d="M0 202v1"/><path class="r" d="M0 20v1m0 10v1m0 95v1m0 69v1m0 30v1m0 42v1m0 31v1m0 11v2m0 32v1"/><path class="s" d="M0 10v1m0 63v1m0 26v1m0 85v1m0 124v1m0 86v1"/><path class="t" d="M0 39v1m0 8v1m0 13v1m0 69v1m0 106v1m0 50v1m0 34v1m0 52v1m0 5v1m0 12v1"/><path class="u" d="M0 12v2m0 27v2m0 41v1m0 14v2m0 285v1"/><path class="v" d="M0 114v1m0 13v1m0 14v1m0 11v1m0 1v1m0 55v1m0 29v1"/><path class="w" d="M0 0v1m0 20v1m0 24v1m0 29v1m0 6v1m0 4v1m0 50v1m0 40v1m0 15v1m0 14v1m0 17v1m0 5v1m0 19v1m0 9v1m0 7v1m0 18v1m0 13v1m0 3v1m0 3v1m0 3v1m0 15v1m0 3v1m0 3v1m0 1v1m0 23v1m0 31v1"/><path class="x" d="M0 16v1m0 50v1m0 28v1m0 14v1m0 33v1m0 43v1m0 20v1m0 35v1"/></g>
<g id="s1"><path class="a" d="M0 3v1m0 1v1m0 11v1m0 4v1m0 8v2m0 3v1m0 12v2m0 16v1m0 4v1m0 4v1m0 4v1m0 1v1m0 8v1m0 20v1m0 5v1m0 1v1m0 7v1m0 1v1m0 3v1m0 1v2m0 3v1m0 19v1m0 11v1m0 14v1m0 1v1m0 25v1m0 9v1m0 9v1m0 2v1m0 6v1m0 25v1m0 3v1m0 3v1m0 3v1m0 3v1m0 17v1m0 2v1m0 7v1m0 25v1m0 1v1m0 3v1m0 29v1m0 13v1m0 2v1m0 2v3"/><path class="b" d="M0 101v1m0 70v1m0 14v1m0 56v1m0 68v1"/><path class="c" d="M0 14v1m0 28v1m0 129v1m0 211v1"/><path class="d" d="M0 25v1m0 219v1"/><path class="e" d="M0 4v1m0 63v1m0 39v1m0 12v1m0 12v1m0 15v1m0 2v1m0 20v1m0 39v2m0 10v1m0 31v1m0 2v1m0 11v1m0 5v1m0 1v1m0 46v1m0 3v1m0 30v1m0 5v1"/><path class="f" d="M0 41v1m0 27v1m0 26v1m0 133v1m0 25v1m0 2v1m0 27v1"/><path class="g" d="M0 20v1m0 156v1m0 23v1m0 17v1m0 1v1m0 12v1m0 29v1m0 3v1m0 36v1m0 1v1"/><path class="h" d="M0 9v1m0 65v1m0 2v2m0 38v1m0 8v1m0 19v1m0 12v1m0 36v1m0 26v1m0 35v1m0 2v1m0 3v1m0 52v1m0 28v1m0 44v1"/><path class="i" d="M0 329v1"/><path class="j" d="M0 59v1m0 20v1m0 2v1m0 10v1m0 11v1m0 6v1m0 9v1m0 11v1m0 6v1m0 11v2m0 9v1m0 2v2m0 23v2m0 12v1m0 35v1m0 31v1m0 15v1m0 26v1m0 14v2m0 11v1m0 18v1m0 1v2m0 6v2m0 12v1"/><path class="k" d="M0 18v1m0 71v1m0 85v1m0 18v1m0 27v1m0 42v1m0 43v1m0 12v1m0 15v1m0 52v1"/><path class="l" d="M0 51v1m0 11v1m0 118v1m0 17v1m0 123v1m0 10v1m0 16v1m0 24v2"/><path class="m" d="M0 8v1m0 80v1m0 5v1m0 7v1m0 5v1m0 51v1m0 4v1m0 22v1m0 20v1m0 87v1m0 42v1m0 11v1"/><path class="n" d="M0 0v1m0 9v2m0 7v1m0 3v1m0 4v2m0 4v1m0 2v2m0 6v1m0 2v1m0 4v6m0 1v3m0 1v3m0 6v2m0 1v1m0 4v1m0 3v3m0 3v2m0 4v2m0 5v2m0 5v1m0 3v2m0 2v1m0 5v1m0 5v1m0 12v3m0 1v2m0 2v1m0 3v3m0 3v1m0 15v2m0 4v1m0 6v1m0 13v1m0 2v2m0 6v2m0 2v1m0 12v1m0 2v1m0 9v1m0 3v4m0 16v1m0 6v1m0 2v1m0 8v1m0 2v4m0 4v1m0 5v1m0 14v2m0 8v1m0 5v2m0 11v1m0 4v2m0 2v4m0 1v1m0 1v1m0 3v1m0 2v2m0 4v1m0 7v2m0 2v1m0 1v1m0 2v2m0 2v1m0 3v1"/><path class="o" d="M0 198v1m0 103v1m0 9v1"/><path class="p" d="M0 2v1m0 12v1m0 28v1m0 136v1m0 3v2m0 9v1m0 5v1m0 1v1m0 7v1m0 42v1m0 27v1m0 4v1m0 14v1m0 80v1"/><path class="q" d="M0 13v1m0 174v1m0 10v1"/><path class="r" d="M0 1v1m0 14v1m0 23v1m0 11v1m0 71v1m0 8v1m0 25v1m0 4v1m0 48v1m0 43v1m0 4v1m0 9v1m0 54v1m0 12v1m0 39v1"/><path class="s" d="M0 269v1m0 29v1m0 42v1m0 43v1"/><path class="t" d="M0 7v1m0 99v1m0 29v1m0 13v1m0 51v1m0 35v1m0 25v1m0 18v1m0 12v1"/><path class="u" d="M0 27v1m0 14v1m0 85v1m0 41v2m0 129v1m0 12v2m0 14v1m0 26v2"/><path class="v" d="M0 12v1m0 113v1m0 104v1m0 111v2m0 26v2"/><path class="w" d="M0 6v1m0 14v1m0 2v1m0 5v1m0 2v1m0 5v1m0 6v2m0 22v2m0 27v2m0 11v1m0 4v1m0 11v1m0 10v2m0 38v1m0 2v1m0 22v1m0 20v1m0 1v1m0 2v1m0 2v1m0 1v1m0 2v1m0 1v1m0 4v1m0 1v1m0 4v1m0 16v1m0 4v1m0 8v1m0 10v1m0 19v2m0 18v1m0 45v2m0 6v1m0 8v1"/><path class="x" d="M0 88v1m0 21v1m0 56v1m0 43v1m0 13v1m0 78v1m0 21v1m0 21v1m0 5v1m0 50v1"/></g>
<g id="s2"><path class="a" d="M0 0v3m0 18v1m0 6v1m0 14v1m0 6v1m0 4v2m0 2v1m0 10v1m0 6v1m0 12v1m0 4v1m0 25v1m0 2v1m0 7v1m0 5v1m0 1v1m0 8v1m0 3v1m0 3v2m0 3v1m0 11v1m0 1v1m0 4v1m0 1v2m0 11v1m0 9v1m0 13v1m0 2v1m0 7v1m0 3v1m0 3v1m0 3v1m0 13v1m0 12v1m0 16v2m0 15v1m0 9v1m0 6v1m0 33v1m0 2v1m0 3v1m0 2v1m0 8v1m0 6v1m0 9v1m0 10v1"/><path class="b" d="M0 29v1m0 54v1m0 103v1m0 53v1"/><path class="c" d="M0 216v1m0 68v1m0 84v1"/><path class="d" d="M0 83v1m0 27v1m0 33v1m0 41v1m0 53v1"/><path class="e" d="M0 3v1m0 38v1m0 29v1m0 9v1m0 2v1m0 11v1m0 7v1m0 25v1m0 2v1m0 2v1m0 25v1m0 2v1m0 79v1m0 54v1m0 22v1m0 4v1m0 5v1m0 64v1"/><path class="f" d="M0 54v1m0 72v1m0 28v1m0 41v1m0 55v1m0 19v1m0 22v1m0 77v1m0 9v1m0 12v1"/><path class="g" d="M0 5v1m0 27v1m0 2v1m0 4v1m0 56v1m0 19v1m0 72v2m0 24v3m0 27v1m0 1v1m0 29v1m0 22v1m0 27v1m0 21v1"/><path class="h" d="M0 46v1m0 33v1m0 26v1m0 18v1m0 23v1m0 26v1m0 1v1m0 23v1m0 3v1m0 3v1m0 36v1m0 82v1m0 14v1"/><path class="i" d="M0 144v1m0 199v1"/><path class="j" d="M0 11v1m0 6v2m0 38v1m0 1v2m0 44v1m0 36v1m0 150v1m0 17v1m0 25v1m0 4v1m0 4v1m0 29v1m0 4v1"/><path class="k" d="M0 47v1m0 33v1m0 22v1m0 42v1m0 46v1m0 9v1m0 32v1m0 24v1m0 1v1m0 1v1m0 11v1m0 12v1m0 28v1m0 18v1m0 26v1"/><path class="l" d="M0 9v1m0 16v1m0 37v1m0 2v1m0 11v1m0 153v1m0 19v1m0 109v1m0 28v1"/><path class="m" d="M0 23v1m0 8v1m0 5v1m0 35v1m0 28v1m0 21v1m0 63v1m0 91v1m0 50v1"/><path class="n" d="M0 4v1m0 1v1m0 5v4m0 4v1m0 1v1m0 11v2m0 1v1m0 6v2m0 2v2m0 7v1m0 7v1m0 3v1m0 6v1m0 1v1m0 8v3m0 2v2m0 7v1m0 6v3m0 3v3m0 2v2m0 2v1m0 9v1m0 1v1m0 3v1m0 11v2m0 6v1m0 9v2m0 2v1m0 1v1m0 2v1m0 1v1m0 4v1m0 4v1m0 2v1m0 1v1m0 4v2m0 7v1m0 11v2m0 2v3m0 2v1m0 3v1m0 1v1m0 1v1m0 1v1m0 3v2m0 5v1m0 3v2m0 2v2m0 2v1m0 1v1m0 1v1m0 3v3m0 2v1m0 3v1m0 2v1m0 5v2m0 1v2m0 4v3m0 5v1m0 1v3m0 2v1m0 3v2m0 4v1m0 1v1m0 2v1m0 5v1m0 1v1m0 3v1m0 9v2m0 1v1m0 3v1m0 3v1m0 2v1m0 2v2m0 11v1m0 1v1m0 4v4m0 3v3m0 4v1m0 2v1"/><path class="o" d="M0 99v1"/><path class="p" d="M0 53v1m0 12v1m0 63v1m0 36v1m0 100v1m0 6v1m0 8v1m0 18v1m0 22v1m0 14v1m0 18v1m0 15v1m0 7v1m0 12v1m0 1v1"/><path class="q" d="M0 372v1"/><path class="r" d="M0 27v1m0 12v1m0 30v1m0 57v1m0 18v1m0 48v1m0 12v1m0 1v1m0 11v1m0 52v1m0 64v1m0 11v1m0 4v1m0 9v1m0 7v1"/><path class="s" d="M0 73v1m0 68v1m0 25v1m0 33v1m0 12v1m0 45v1m0 65v1"/><path class="t" d="M0 10v1m0 14v1m0 42v1m0 77v1m0 14v1m0 20v1m0 49v1m0 19v1m0 16v1m0 25v2m0 10v1m0 39v1m0 1v1"/><path class="u" d="M0 100v1m0 12v1m0 57v2m0 13v1m0 99v1"/><path class="v" d="M0 141v1m0 13v1m0 57v2m0 13v2m0 85v2m0 56v1"/><path class="w" d="M0 7v2m0 7v1m0 45v2m0 11v1m0 10v1m0 4v1m0 2v1m0 1v1m0 20v1m0 4v1m0 5v1m0 7v1m0 17v1m0 9v2m0 33v1m0 8v1m0 41v1m0 7v1m0 46v1m0 5v1m0 7v1m0 2v1m0 10v1m0 3v1m0 18v1m0 22v1m0 6v1m0 6v1m0 9v1m0 1v1"/><path class="x" d="M0 17v1m0 6v1m0 14v1m0 12v1m0 49v1m0 57v1m0 121v1"/></g>
<g id="s3"><path class="a" d="M0 1v1m0 14v1m0 13v2m0 1v1m0 11v1m0 12v1m0 2v1m0 14v1m0 11v1m0 5v1m0 11v1m0 3v1m0 5v1m0 2v1m0 10v1m0 7v1m0 1v1m0 17v2m0 12v1m0 7v1m0 8v1m0 8v1m0 1v1m0 10v1m0 2v1m0 2v1m0 4v1m0 15v1m0 8v1m0 1v1m0 3v1m0 2v1m0 14v1m0 23v2m0 12v1m0 13v1m0 7v1m0 24v1m0 4v2m0 6v1m0 2v1m0 4v1m0 14v1m0 7v1m0 1v2"/><path class="b" d="M0 11v1m0 16v1m0 11v1m0 143v1m0 2v1m0 27v1m0 54v1m0 31v1m0 72v1"/><path class="c" d="M0 228v1m0 117v1"/><path class="d" d="M0 10v1m0 18v1m0 9v1m0 47v1m0 53v1m0 74v1m0 52v1m0 33v1"/><path class="e" d="M0 3v1m0 73v1m0 5v1m0 43v1m0 1v1m0 2v1m0 4v1m0 6v2m0 2v1m0 5v1m0 21v1m0 5v1m0 22v1m0 24v1m0 6v1m0 1v1m0 42v1m0 27v1m0 29v1m0 13v1m0 18v1m0 17v1"/><path class="f" d="M0 53v1m0 15v1m0 27v1m0 71v1m0 85v1m0 18v1m0 13v1m0 97v1m0 12v1"/><path class="g" d="M0 125v1m0 8v2m0 56v1m0 65v1m0 5v1m0 12v1m0 16v1m0 13v1"/><path class="h" d="M0 34v1m0 3v1m0 10v1m0 50v1m0 60v1m0 41v1m0 47v1m0 82v1m0 33v1m0 19v1"/><path class="i" d="M0 229v1m0 85v2"/><path class="j" d="M0 12v1m0 1v1m0 35v1m0 6v1m0 2v1m0 6v1m0 16v1m0 4v1m0 14v2m0 15v1m0 21v1m0 13v1m0 77v1m0 14v1m0 12v1m0 21v1m0 62v1m0 27v1m0 1v1m0 2v1m0 12v1m0 2v1"/><path class="k" d="M0 21v1m0 30v1m0 50v1m0 16v1m0 3v1m0 52v1m0 3v1m0 22v1m0 4v1m0 10v1m0 3v1m0 37v1m0 15v1m0 13v1m0 44v1m0 1v1m0 56v1"/><path class="l" d="M0 8v1m0 23v1m0 3v1m0 18v1m0 7v1m0 54v1m0 3v1m0 44v2m0 65v1m0 147v2m0 11v1"/><path class="m" d="M0 37v1m0 13v1m0 21v1m0 49v1m0 71v1m0 29v1m0 7v1m0 85v1m0 5v1m0 7v1"/><path class="n" d="M0 4v1m0 1v1m0 2v1m0 9v2m0 2v1m0 22v1m0 18v1m0 5v1m0 2v1m0 3v3m0 9v2m0 1v1m0 1v1m0 2v1m0 9v2m0 1v1m0 3v1m0 1v1m0 13v1m0 1v1m0 2v1m0 2v1m0 9v4m0 2v1m0 4v1m0 2v4m0 7v2m0 3v1m0 5v2m0 3v1m0 2v2m0 2v1m0 1v1m0 7v1m0 2v1m0 1v2m0 5v1m0 11v1m0 12v3m0 5v1m0 8v1m0 3v1m0 1v2m0 10v3m0 5v1m0 2v2m0 6v4m0 4v2m0 3v2m0 7v1m0 1v1m0 4v1m0 7v2m0 1v1m0 4v1m0 5v2m0 1v1m0 4v1m0 2v1m0 3v4m0 11v2m0 3v1m0 5v1m0 2v1"/><path class="o" d="M0 85v1m0 27v1m0 74v1"/><path class="p" d="M0 13v1m0 1v1m0 8v1m0 43v1m0 27v1m0 59v1m0 70v1m0 12v1m0 13v1m0 5v1m0 14v1m0 7v1m0 5v1m0 51v1m0 32v1m0 30v1"/><path class="q" d="M0 42v1m0 302v1m0 52v1"/><path class="r" d="M0 22v1m0 2v1m0 15v1m0 14v1m0 5v1m0 3v1m0 25v1m0 35v1m0 72v1m0 4v1m0 1v1m0 27v1m0 4v1m0 15v1m0 18v1m0 65v1m0 27v2"/><path class="s" d="M0 72v1m0 282v1"/><path class="t" d="M0 102v1m0 4v1m0 18v1m0 19v1m0 55v1m0 56v1m0 24v1m0 8v1m0 53v1m0 15v1"/><path class="u" d="M0 43v1m0 55v1m0 14v1m0 27v1m0 27v2m0 70v2m0 28v2m0 40v1m0 43v2m0 27v1"/><path class="v" d="M0 26v2m0 26v1m0 46v1m0 242v1m0 40v1m0 3v1"/><path class="w" d="M0 0v1m0 1v1m0 2v1m0 1v1m0 9v2m0 25v1m0 2v2m0 15v1m0 5v1m0 4v1m0 5v2m0 29v1m0 34v1m0 5v1m0 8v1m0 10v1m0 4v1m0 12v1m0 26v1m0 2v1m0 1v1m0 24v1m0 17v1m0 19v1m0 10v1m0 7v1m0 7v1m0 7v1m0 2v1m0 3v3m0 20v1m0 1v1m0 47v1"/><path class="x" d="M0 59v1m0 136v1m0 29v1m0 5v1m0 71v1m0 21v1m0 5v1m0 71v1"/></g>
<g id="s4"><path class="a" d="M0 7v1m0 18v1m0 7v1m0 3v1m0 7v1m0 3v1m0 15v1m0 1v3m0 9v1m0 1v1m0 3v1m0 2v2m0 1v1m0 1v1m0 1v1m0 4v1m0 15v1m0 4v1m0 4v3m0 2v1m0 9v1m0 13v1m0 17v1m0 6v1m0 7v1m0 5v3m0 1v1m0 3v1m0 6v1m0 6v1m0 2v1m0 2v1m0 5v2m0 10v3m0 2v1m0 31v2m0 2v1m0 7v1m0 1v2m0 2v1m0 1v1m0 11v1m0 13v1m0 5v1m0 14v1m0 4v1m0 2v1m0 6v1m0 1v1m0 2v1m0 3v1m0 2v2m0 9v4m0 1v1m0 3v1m0 3v1"/><path class="b" d="M0 14v1m0 25v1m0 13v1m0 71v1m0 3v1m0 81v1m0 58v1m0 2v1m0 10v1m0 60v1"/><path class="c" d="M0 11v1m0 247v1"/><path class="d" d="M0 15v1m0 23v1m0 13v1m0 18v1m0 52v1m0 144v1m0 32v1m0 43v1"/><path class="e" d="M0 0v1m0 22v1m0 3v1m0 85v1m0 2v1m0 7v1m0 9v1m0 8v1m0 9v2m0 47v1m0 3v1m0 32v1m0 8v1m0 34v1m0 5v1m0 113v1"/><path class="f" d="M0 73v1m0 24v1m0 61v1m0 57v1m0 21v1m0 60v1m0 15v1m0 15v1"/><path class="g" d="M0 8v2m0 20v2m0 63v1m0 54v1m0 10v1m0 233v1"/><path class="h" d="M0 18v1m0 86v1m0 13v1m0 42v1m0 44v1m0 56v1m0 22v1m0 17v1m0 99v1"/><path class="i" d="M0 257v1"/><path class="j" d="M0 1v1m0 26v2m0 53v1m0 9v1m0 9v1m0 5v1m0 41v1m0 21v1m0 1v2m0 5v1m0 5v1m0 11v1m0 14v2m0 21v1m0 12v1m0 15v1m0 26v1m0 4v2m0 5v1m0 13v1m0 34v1m0 37v1"/><path class="k" d="M0 3v1m0 1v1m0 26v1m0 28v1m0 13v1m0 60v1m0 112v1m0 128v1m0 2v1"/><path class="l" d="M0 51v1m0 95v2m0 70v1m0 30v1m0 4v1m0 2v1m0 3v1m0 32v1m0 12v1m0 42v1m0 2v1"/><path class="m" d="M0 60v1m0 150v1m0 22v1m0 97v1m0 65v1"/><path class="n" d="M0 4v1m0 1v1m0 9v1m0 4v2m0 1v2m0 7v1m0 1v3m0 6v2m0 1v1m0 4v1m0 2v1m0 8v1m0 2v1m0 8v1m0 1v1m0 25v1m0 1v1m0 4v1m0 2v2m0 5v1m0 1v1m0 14v2m0 5v1m0 6v1m0 5v2m0 3v2m0 2v1m0 1v1m0 7v1m0 2v1m0 2v1m0 6v5m0 3v1m0 6v1m0 2v1m0 4v2m0 6v2m0 2v4m0 2v2m0 2v3m0 9v1m0 4v2m0 9v1m0 1v1m0 2v1m0 3v2m0 6v2m0 15v1m0 6v1m0 2v1m0 3v3m0 2v1m0 2v1m0 5v3m0 7v1m0 3v2m0 1v2m0 4v2m0 2v1m0 3v4m0 3v2m0 2v2m0 1v2m0 2v1m0 1v2m0 2v1m0 1v1m0 6v2m0 6v1m0 2v3"/><path class="o" d="M0 131v1m0 40v1m0 83v1"/><path class="p" d="M0 10v1m0 32v1m0 30v1m0 13v1m0 23v1m0 31v1m0 109v1m0 5v1m0 57v1m0 15v1m0 69v1"/><path class="q" d="M0 12v1m0 44v1m0 226v1m0 17v1"/><path class="r" d="M0 2v1m0 62v1m0 15v1m0 5v1m0 11v1m0 2v1m0 30v1m0 21v1m0 29v1m0 143v1"/><path class="s" d="M0 186v1m0 57v1m0 86v1m0 67v1"/><path class="t" d="M0 42v1m0 5v1m0 13v1m0 34v1m0 10v1m0 1v1m0 35v1m0 54v1m0 7v1m0 51v1m0 132v1"/><path class="u" d="M0 71v1m0 12v2m0 84v1m0 115v1m0 27v2"/><path class="v" d="M0 13v1m0 27v1m0 14v1m0 43v1m0 83v1m0 2v1m0 57v1m0 42v1m0 39v1"/><path class="w" d="M0 19v2m0 28v1m0 13v1m0 13v1m0 1v1m0 11v1m0 45v1m0 2v2m0 7v1m0 7v1m0 7v2m0 1v1m0 10v1m0 24v1m0 19v1m0 41v1m0 2v1m0 6v2m0 13v1m0 17v1m0 11v3m0 12v3m0 2v1m0 2v1m0 16v1m0 4v1m0 8v1m0 11v1m0 3v1"/><path class="x" d="M0 17v1m0 100v1m0 114v1"/></g>
<g id="s5"><path class="a" d="M0 3v2m0 8v1m0 7v1m0 3v1m0 12v2m0 19v1m0 2v2m0 2v1m0 6v1m0 12v1m0 2v1m0 3v1m0 4v1m0 13v1m0 3v2m0 7v2m0 6v1m0 2v1m0 2v1m0 8v1m0 18v1m0 7v1m0 13v1m0 3v1m0 3v2m0 3v1m0 23v1m0 3v1m0 1v1m0 19v1m0 3v1m0 1v1m0 3v1m0 10v1m0 5v1m0 2v1m0 10v1m0 3v1m0 10v2m0 12v1m0 2v1m0 11v1m0 34v1m0 24v1m0 6v1"/><path class="b" d="M0 12v1m0 28v1m0 1v1m0 125v1m0 3v1m0 70v1m0 14v1m0 11v1m0 59v1m0 27v1m0 11v1m0 2v1m0 10v1m0 14v1"/><path class="c" d="M0 55v1"/><path class="d" d="M0 11v1m0 32v1m0 123v1m0 5v1m0 7v1m0 1v1m0 27v1m0 27v1m0 4v1m0 14v1m0 9v1m0 61v1m0 27v1m0 9v1m0 13v1m0 14v1"/><path class="e" d="M0 27v1m0 32v1m0 8v1m0 30v1m0 9v1m0 12v1m0 28v1m0 2v1m0 31v1m0 8v1m0 22v1m0 3v1m0 7v1m0 94v1m0 59v3"/><path class="f" d="M0 57v1m0 25v1m0 133v1m0 7v1m0 29v1m0 29v1m0 1v1m0 14v1"/><path class="g" d="M0 79v1m0 73v1m0 9v1m0 42v1m0 7v1m0 38v1m0 99v1m0 27v1m0 7v1m0 5v1"/><path class="h" d="M0 33v1m0 2v1m0 69v1m0 1v1m0 141v1m0 12v2m0 24v1m0 51v1m0 33v1"/><path class="i" d="M0 213v1"/><path class="j" d="M0 0v1m0 15v1m0 25v1m0 9v1m0 19v1m0 61v1m0 5v1m0 19v2m0 10v1m0 7v1m0 29v2m0 30v1m0 5v1m0 68v1m0 3v1m0 6v1m0 9v1m0 11v1m0 16v1m0 11v1m0 14v1"/><path class="k" d="M0 47v1m0 13v1m0 14v1m0 3v1m0 39v1m0 29v1m0 156v1m0 27v1m0 13v1m0 14v1m0 3v1"/><path class="l" d="M0 35v1m0 1v1m0 94v1m0 9v1m0 22v1m0 24v1m0 85v1m0 11v1m0 6v1m0 7v1m0 61v1"/><path class="m" d="M0 8v1m0 9v1m0 85v1m0 41v1m0 57v1m0 70v1m0 14v1m0 19v1m0 8v1m0 20v1m0 21v1"/><path class="n" d="M0 5v2m0 3v1m0 9v1m0 1v3m0 3v5m0 1v1m0 10v2m0 2v1m0 1v1m0 1v1m0 10v2m0 1v1m0 7v1m0 2v1m0 5v2m0 4v3m0 1v2m0 3v1m0 2v1m0 2v1m0 3v1m0 3v2m0 3v2m0 1v2m0 4v2m0 2v1m0 5v1m0 6v1m0 2v1m0 1v1m0 1v1m0 5v3m0 10v2m0 5v1m0 1v1m0 1v1m0 6v1m0 2v2m0 1v2m0 3v1m0 5v1m0 1v3m0 10v1m0 12v1m0 1v1m0 1v3m0 3v1m0 3v1m0 3v1m0 5v1m0 3v1m0 4v4m0 2v1m0 8v1m0 1v1m0 8v1m0 1v1m0 1v1m0 1v4m0 3v2m0 5v1m0 2v2m0 3v1m0 2v2m0 4v2m0 2v2m0 8v2m0 6v2m0 5v1m0 7v1m0 2v1m0 3v1m0 4v1m0 1v1m0 1v1m0 9v2m0 2v1m0 1v1m0 2v1m0 3v1"/><path class="o" d="M0 40v1"/><path class="p" d="M0 15v1m0 38v1m0 27v1m0 5v1m0 7v1m0 4v1m0 116v1m0 85v1m0 51v1m0 19v1m0 13v1"/><path class="r" d="M0 2v1m0 11v1m0 11v1m0 54v1m0 72v1m0 1v1m0 29v1m0 28v1m0 61v2m0 1v1m0 10v1m0 50v1m0 5v1m0 8v1m0 25v1m0 7v1"/><path class="s" d="M0 87v1m0 9v1m0 31v1m0 144v1m0 39v1"/><path class="t" d="M0 71v1m0 35v1m0 54v1m0 1v1m0 13v1m0 55v1m0 19v1"/><path class="u" d="M0 56v1m0 128v1m0 42v2"/><path class="v" d="M0 58v1m0 11v1m0 59v1m0 10v1m0 1v1m0 142v1m0 26v1"/><path class="w" d="M0 1v1m0 5v1m0 11v1m0 30v1m0 17v1m0 5v1m0 40v1m0 50v1m0 9v1m0 23v2m0 14v1m0 5v1m0 1v1m0 2v1m0 8v1m0 9v1m0 2v1m0 15v1m0 18v1m0 42v1m0 11v1m0 5v3m0 7v1m0 7v1m0 13v1m0 24v2"/><path class="x" d="M0 9v1m0 7v1m0 85v1m0 7v1m0 12v1m0 13v1m0 6v1m0 37v1m0 19v1m0 37v1m0 69v1m0 6v1m0 35v1m0 6v1"/></g>
<g id="s6"><path class="a" d="M0 0v1m0 11v1m0 1v1m0 15v1m0 7v2m0 2v2m0 8v1m0 15v1m0 1v2m0 10v1m0 1v1m0 14v2m0 9v1m0 8v1m0 12v1m0 3v1m0 12v1m0 5v1m0 14v1m0 8v1m0 3v1m0 5v1m0 9v2m0 1v1m0 5v1m0 10v1m0 7v2m0 1v1m0 10v1m0 25v1m0 7v2m0 3v1m0 6v2m0 14v1m0 27v1m0 3v1m0 4v1m0 7v1m0 5v2m0 3v1m0 23v2"/><path class="b" d="M0 101v1m0 10v1m0 85v1m0 58v1m0 13v1m0 57v1"/><path class="c" d="M0 27v1m0 185v1"/><path class="d" d="M0 88v1m0 108v1m0 58v1m0 13v1"/><path class="e" d="M0 72v1m0 42v1m0 94v1m0 4v2m0 17v1m0 30v1m0 6v1m0 52v1m0 15v1m0 56v1"/><path class="f" d="M0 10v1m0 33v1m0 84v1m0 38v1m0 13v1m0 76v1m0 86v1m0 41v1m0 14v1"/><path class="g" d="M0 36v1m0 9v1m0 3v1m0 123v1m0 20v1m0 70v1m0 137v1"/><path class="h" d="M0 6v1m0 2v1m0 21v1m0 102v1m0 40v1m0 5v1m0 12v1m0 96v1m0 45v1"/><path class="i" d="M0 114v1m0 97v1"/><path class="j" d="M0 29v1m0 32v1m0 11v1m0 3v1m0 13v1m0 3v1m0 12v1m0 13v1m0 22v1m0 12v1m0 5v2m0 17v3m0 49v1m0 62v1m0 10v1m0 15v1m0 9v1m0 13v1m0 1v1m0 18v2m0 22v1"/><path class="k" d="M0 23v1m0 13v1m0 9v1m0 18v1m0 9v1m0 17v1m0 9v1m0 33v1m0 8v1m0 43v1m0 28v1m0 27v1m0 14v1m0 31v1m0 24v1m0 3v1m0 56v1m0 15v1"/><path class="l" d="M0 3v1m0 28v1m0 24v1m0 21v1m0 73v1m0 26v1m0 72v1m0 61v1m0 3v1m0 31v1"/><path class="m" d="M0 8v1m0 13v1m0 80v1m0 57v1m0 63v1m0 21v1m0 144v1m0 3v1"/><path class="n" d="M0 1v2m0 1v2m0 1v1m0 3v1m0 7v2m0 4v1m0 9v1m0 15v1m0 2v2m0 5v1m0 1v3m0 1v1m0 7v1m0 1v1m0 11v3m0 1v1m0 4v1m0 8v1m0 13v1m0 4v3m0 4v1m0 1v1m0 4v5m0 5v2m0 11v2m0 4v1m0 2v1m0 4v1m0 10v1m0 14v1m0 1v2m0 2v1m0 8v1m0 3v3m0 6v3m0 1v1m0 1v1m0 1v2m0 14v1m0 5v2m0 1v1m0 3v1m0 15v3m0 3v1m0 1v3m0 1v2m0 6v3m0 1v2m0 7v1m0 3v1m0 1v1m0 8v3m0 3v1m0 3v4m0 10v1m0 3v1m0 1v1m0 1v5m0 5v2m0 4v1m0 1v1m0 4v1m0 5v1m0 5v4"/><path class="o" d="M0 111v1m0 201v1m0 14v1"/><path class="p" d="M0 26v1m0 18v1m0 106v1m0 23v1m0 83v1m0 12v1m0 8v1m0 86v1m0 3v1m0 31v1"/><path class="q" d="M0 16v1m0 69v2m0 226v1m0 74v1"/><path class="r" d="M0 15v1m0 81v1m0 10v1m0 22v1m0 35v1m0 5v1m0 76v2m0 87v1"/><path class="s" d="M0 41v1m0 118v1m0 225v1"/><path class="t" d="M0 21v1m0 2v1m0 8v2m0 45v1m0 39v1m0 3v1m0 29v1m0 7v1m0 30v1m0 13v1m0 13v1m0 61v1m0 63v1m0 1v1m0 3v1m0 16v1m0 23v1"/><path class="u" d="M0 85v1m0 27v1m0 100v1m0 27v2m0 113v2"/><path class="v" d="M0 28v1m0 11v1m0 15v1m0 1v1m0 71v1m0 185v1m0 68v1"/><path class="w" d="M0 13v1m0 3v2m0 34v1m0 5v2m0 8v1m0 3v1m0 9v1m0 11v1m0 10v1m0 9v3m0 3v1m0 2v1m0 13v1m0 5v1m0 2v1m0 7v3m0 12v1m0 6v1m0 8v1m0 2v1m0 1v1m0 8v1m0 2v1m0 12v1m0 11v1m0 8v1m0 5v2m0 6v1m0 1v1m0 3v1m0 10v1m0 4v1m0 2v2m0 2v1m0 7v1m0 8v1m0 1v3m0 4v1m0 3v2m0 5v1m0 8v1m0 2v1m0 30v1m0 1v1m0 12v1"/><path class="x" d="M0 81v1m0 114v1m0 29v1m0 19v1m0 130v1"/></g>
<g id="s7"><path class="a" d="M0 2v1m0 13v1m0 17v1m0 15v1m0 6v1m0 10v2m0 9v1m0 5v2m0 5v1m0 1v1m0 18v2m0 8v2m0 6v1m0 1v1m0 1v2m0 17v1m0 8v1m0 11v1m0 2v1m0 22v1m0 4v1m0 2v1m0 6v1m0 4v2m0 8v1m0 4v1m0 7v1m0 1v1m0 11v2m0 6v1m0 8v1m0 2v1m0 2v1m0 3v1m0 2v1m0 22v1m0 29v1m0 3v1m0 2v1m0 1v1m0 3v1m0 5v1m0 2v1m0 11v1m0 16v1m0 4v1m0 3v1"/><path class="b" d="M0 25v1m0 14v1m0 13v1m0 3v1m0 53v1m0 59v1m0 15v1m0 9v1m0 117v1m0 10v1m0 1v1m0 1v1m0 53v1m0 14v1m0 1v1"/><path class="c" d="M0 42v1m0 103v1m0 42v1m0 142v1"/><path class="d" d="M0 39v1m0 19v1m0 12v1m0 101v1m0 7v1m0 14v1m0 14v1m0 43v1m0 60v1m0 10v1m0 26v1m0 28v1m0 14v1m0 3v1"/><path class="e" d="M0 8v1m0 19v1m0 54v1m0 50v1m0 75v1m0 17v1m0 13v1m0 72v1m0 55v1m0 2v1m0 5v1m0 2v1m0 3v1"/><path class="f" d="M0 73v1m0 41v1m0 13v1m0 11v1m0 69v1m0 60v1m0 45v1"/><path class="g" d="M0 48v2m0 129v1m0 59v1m0 21v1m0 108v1"/><path class="h" d="M0 60v1m0 45v1m0 31v1m0 156v1m0 4v1m0 76v1m0 15v1"/><path class="j" d="M0 18v1m0 12v1m0 20v1m0 36v1m0 6v1m0 47v1m0 7v1m0 9v1m0 56v2m0 3v1m0 2v1m0 32v1m0 29v1m0 39v1m0 7v1m0 26v1m0 12v1m0 2v1"/><path class="k" d="M0 4v1m0 16v1m0 15v1m0 28v1m0 8v1m0 4v1m0 56v1m0 53v1m0 16v1m0 42v1m0 1v1m0 10v1m0 2v1m0 9v1m0 13v1m0 1v1m0 42v1m0 16v1m0 41v1"/><path class="l" d="M0 32v2m0 59v1m0 1v1m0 9v1m0 3v1m0 30v1m0 36v1m0 17v1m0 27v1m0 1v1m0 12v1m0 37v1m0 24v1m0 7v1m0 9v3"/><path class="m" d="M0 24v1m0 36v1m0 57v1m0 142v1m0 5v1m0 57v1"/><path class="n" d="M0 3v1m0 1v1m0 3v3m0 7v1m0 2v1m0 3v2m0 2v1m0 4v2m0 7v4m0 3v1m0 3v1m0 6v2m0 3v1m0 2v1m0 6v2m0 2v1m0 2v1m0 2v2m0 1v1m0 6v2m0 2v2m0 4v2m0 8v1m0 2v1m0 5v3m0 3v1m0 9v1m0 5v4m0 4v1m0 2v2m0 3v2m0 2v2m0 6v1m0 4v1m0 4v2m0 4v3m0 7v2m0 3v1m0 7v1m0 1v1m0 14v1m0 1v2m0 1v1m0 3v1m0 5v2m0 1v1m0 1v1m0 1v2m0 7v1m0 1v1m0 4v1m0 8v2m0 2v2m0 4v1m0 2v1m0 1v1m0 2v2m0 7v3m0 1v1m0 1v1m0 9v4m0 8v2m0 1v1m0 1v2m0 1v3m0 1v1m0 2v1m0 2v1m0 8v2m0 1v1m0 2v2m0 7v1m0 2v1m0 6v1m0 2v3m0 4v1m0 7v1"/><path class="o" d="M0 53v1m0 176v1"/><path class="p" d="M0 29v1m0 11v1m0 32v1m0 41v1m0 157v1m0 38v1m0 19v1m0 35v1m0 18v1"/><path class="q" d="M0 111v1m0 27v1m0 44v1m0 28v1m0 142v1"/><path class="r" d="M0 17v1m0 5v1m0 67v1m0 18v1m0 19v1m0 35v1m0 4v1m0 8v1m0 9v1m0 23v1m0 58v1m0 22v1m0 5v1m0 44v1m0 25v1m0 8v1"/><path class="s" d="M0 226v1m0 130v1"/><path class="t" d="M0 38v1m0 65v1m0 16v1m0 45v1m0 36v2m0 12v1m0 84v2m0 9v1m0 90v1"/><path class="u" d="M0 12v2m0 57v1m0 85v2m0 70v1m0 27v1m0 28v2"/><path class="v" d="M0 43v1m0 55v2m0 69v1m0 14v1m0 13v2m0 42v1m0 27v1m0 27v1"/><path class="w" d="M0 0v2m0 5v1m0 6v2m0 40v1m0 7v1m0 17v1m0 20v1m0 18v1m0 2v1m0 17v1m0 3v1m0 5v1m0 1v1m0 5v1m0 34v1m0 36v1m0 6v1m0 4v1m0 3v1m0 55v1m0 52v2m0 6v1m0 5v1m0 25v1"/><path class="x" d="M0 118v1m0 26v1m0 123v1m0 12v1"/></g>
<g id="s8"><path class="a" d="M0 14v1m0 7v1m0 8v1m0 10v3m0 1v1m0 10v2m0 8v1m0 8v1m0 5v1m0 3v1m0 2v1m0 8v1m0 1v1m0 15v1m0 2v1m0 4v1m0 40v1m0 11v1m0 1v3m0 5v1m0 14v1m0 1v1m0 21v1m0 24v1m0 18v2m0 6v1m0 7v1m0 10v1m0 8v1m0 7v2m0 9v1m0 3v2m0 7v1m0 33v1m0 1v1m0 6v1m0 2v1"/><path class="b" d="M0 141v1m0 2v1m0 168v1m0 2v1m0 11v1m0 27v1"/><path class="c" d="M0 127v1"/><path class="d" d="M0 115v1m0 24v1m0 28v1m0 46v1m0 82v1m0 12v1m0 34v1"/><path class="e" d="M0 0v1m0 11v1m0 21v1m0 38v1m0 6v1m0 7v1m0 3v1m0 1v1m0 56v1m0 32v1m0 16v1m0 17v1m0 72v1m0 42v1m0 9v1m0 17v1m0 3v1m0 21v1"/><path class="f" d="M0 10v1m0 61v1m0 115v1m0 56v1m0 23v1"/><path class="g" d="M0 27v1m0 77v1m0 26v1m0 76v1m0 38v1m0 15v1m0 130v1"/><path class="h" d="M0 1v1m0 1v1m0 28v1m0 2v1m0 54v1m0 5v1m0 49v1m0 42v1m0 32v1m0 7v1m0 121v1m0 12v1"/><path class="i" d="M0 114v1m0 13v1m0 217v1"/><path class="j" d="M0 17v1m0 20v1m0 21v1m0 64v1m0 5v1m0 2v1m0 7v2m0 5v1m0 44v1m0 1v1m0 58v1m0 35v1m0 16v1m0 39v1m0 36v1m0 6v1"/><path class="k" d="M0 5v1m0 2v1m0 9v1m0 2v1m0 26v1m0 60v1m0 23v1m0 56v1m0 32v1m0 11v1m0 59v1m0 24v1"/><path class="l" d="M0 2v1m0 78v1m0 9v1m0 3v1m0 26v1m0 70v1m0 69v1m0 15v2m0 51v1m0 43v1"/><path class="m" d="M0 75v1m0 42v1m0 28v1m0 62v1m0 20v1m0 45v1m0 3v1m0 2v1m0 49v1m0 42v1"/><path class="n" d="M0 4v1m0 2v1m0 8v1m0 6v1m0 1v1m0 3v2m0 2v1m0 3v1m0 2v2m0 5v1m0 1v2m0 2v2m0 6v6m0 1v2m0 7v1m0 1v1m0 4v2m0 7v1m0 5v1m0 1v1m0 1v2m0 1v3m0 3v1m0 8v1m0 1v1m0 6v1m0 5v2m0 10v1m0 6v1m0 2v3m0 1v1m0 1v1m0 1v3m0 6v1m0 6v1m0 2v2m0 8v1m0 1v2m0 4v1m0 1v2m0 5v2m0 3v1m0 2v1m0 3v2m0 2v1m0 3v1m0 1v1m0 1v1m0 1v1m0 1v1m0 2v2m0 4v2m0 1v1m0 1v1m0 4v4m0 2v1m0 1v1m0 7v1m0 7v1m0 3v1m0 6v1m0 1v1m0 1v1m0 2v1m0 2v2m0 1v1m0 1v2m0 10v4m0 12v1m0 1v1m0 2v3m0 5v2m0 1v1m0 4v5m0 3v1m0 1v2m0 5v1m0 2v2m0 2v1m0 8v1m0 1v2m0 1v1m0 1v2m0 2v4"/><path class="o" d="M0 256v1m0 70v1m0 27v1m0 31v1"/><path class="p" d="M0 9v1m0 1v1m0 14v1m0 86v1m0 60v1m0 8v1m0 15v1m0 46v1m0 21v1m0 5v1m0 14v1m0 28v1m0 21v1m0 29v1"/><path class="q" d="M0 215v1m0 101v1m0 15v1"/><path class="r" d="M0 19v1m0 51v1m0 38v1m0 28v1m0 33v1m0 2v1m0 1v1m0 39v1m0 10v1m0 7v1m0 28v1m0 21v1m0 22v1m0 14v1m0 44v1m0 25v1m0 3v1"/><path class="s" d="M0 97v1m0 113v1m0 30v1m0 42v1m0 45v1"/><path class="t" d="M0 51v1m0 100v1m0 47v1m0 46v1m0 25v1m0 19v1m0 25v1m0 21v1"/><path class="u" d="M0 129v1m0 26v2m0 14v1m0 85v1m0 41v1m0 87v1"/><path class="v" d="M0 28v1m0 26v2m0 13v1m0 55v1m0 87v1m0 26v1m0 158v1"/><path class="w" d="M0 6v1m0 6v1m0 1v1m0 4v1m0 3v1m0 11v1m0 8v1m0 6v1m0 30v1m0 3v1m0 14v1m0 8v1m0 8v1m0 14v1m0 2v1m0 15v1m0 6v1m0 1v1m0 27v2m0 14v2m0 12v1m0 5v1m0 5v1m0 5v1m0 13v1m0 18v1m0 29v2m0 45v1m0 4v1m0 2v1m0 6v1m0 8v1m0 6v1m0 2v1m0 2v1m0 3v1"/><path class="x" d="M0 39v1m0 19v1m0 14v1m0 42v1m0 35v1m0 122v1m0 5v1m0 7v1"/></g>
<g id="s9"><path class="a" d="M0 0v1m0 12v1m0 4v1m0 16v1m0 1v1m0 8v1m0 5v1m0 25v1m0 2v1m0 19v1m0 3v1m0 5v1m0 16v1m0 7v1m0 16v1m0 1v1m0 13v1m0 16v1m0 4v1m0 16v1m0 4v1m0 12v1m0 4v1m0 12v1m0 13v1m0 20v2m0 1v1m0 3v4m0 13v1m0 9v2m0 3v1m0 2v1m0 1v1m0 3v1m0 6v1m0 6v1m0 20v1m0 3v1m0 3v1m0 10v1m0 4v1m0 1v1m0 5v1m0 10v1"/><path class="b" d="M0 12v1m0 2v1m0 27v1m0 24v1m0 17v1m0 39v1m0 2v1m0 14v1m0 112v1m0 87v1"/><path class="d" d="M0 16v1m0 50v1m0 19v1m0 37v1m0 19v1m0 52v1m0 56v1m0 42v1m0 29v1m0 17v1"/><path class="e" d="M0 10v1m0 43v1m0 36v1m0 20v1m0 61v1m0 5v1m0 52v1m0 83v1m0 58v1m0 5v1"/><path class="f" d="M0 39v1m0 15v1m0 90v1m0 40v1m0 71v1m0 24v1m0 46v1m0 11v1m0 31v1"/><path class="g" d="M0 5v1m0 23v2m0 72v1m0 9v1m0 8v2m0 16v1m0 40v1m0 86v1m0 14v1m0 12v1m0 54v1"/><path class="h" d="M0 121v1m0 10v1m0 8v1m0 106v1m0 57v1m0 2v1m0 14v1m0 15v1"/><path class="i" d="M0 199v1m0 116v1m0 12v1"/><path class="j" d="M0 2v1m0 3v1m0 2v1m0 69v1m0 4v1m0 4v1m0 10v1m0 84v1m0 3v1m0 2v1m0 23v1m0 6v1m0 14v1m0 12v1m0 2v1m0 10v1m0 1v1m0 24v1m0 14v1m0 29v3m0 8v1m0 9v1m0 12v1m0 29v1"/><path class="k" d="M0 65v1m0 11v1m0 56v1m0 14v1m0 40v1m0 86v1m0 17v1m0 40v1m0 27v1m0 28v1"/><path class="l" d="M0 28v1m0 7v1m0 126v1m0 40v1m0 13v1m0 18v1m0 38v1"/><path class="m" d="M0 118v1m0 14v1m0 13v1m0 28v1m0 6v1m0 12v1m0 12v1m0 9v1m0 19v1m0 128v1"/><path class="n" d="M0 3v2m0 2v2m0 5v1m0 4v3m0 2v3m0 5v2m0 6v3m0 7v2m0 7v3m0 2v1m0 1v1m0 8v2m0 3v1m0 1v2m0 4v1m0 3v2m0 2v4m0 6v1m0 1v1m0 1v1m0 8v2m0 3v1m0 10v1m0 7v1m0 4v1m0 1v2m0 2v1m0 2v1m0 2v1m0 1v1m0 2v1m0 2v1m0 3v2m0 3v2m0 14v1m0 1v1m0 6v1m0 8v2m0 7v1m0 1v1m0 5v3m0 1v1m0 2v1m0 9v3m0 2v1m0 1v1m0 8v2m0 6v2m0 2v2m0 3v1m0 2v1m0 3v1m0 5v1m0 2v1m0 2v1m0 12v3m0 6v2m0 1v1m0 12v1m0 8v1m0 2v1m0 2v1m0 1v1m0 1v4m0 2v2m0 1v1m0 15v1m0 4v2m0 3v4m0 10v1"/><path class="o" d="M0 44v1m0 85v1m0 171v1"/><path class="p" d="M0 31v1m0 41v1m0 11v1m0 102v1m0 12v1m0 58v1m0 71v1m0 26v1m0 12v1m0 1v1m0 23v1m0 3v1"/><path class="q" d="M0 11v1m0 127v1"/><path class="r" d="M0 53v1m0 40v1m0 9v1m0 11v1m0 14v1m0 71v1m0 62v1m0 75v1m0 24v1m0 5v1m0 3v1m0 2v1"/><path class="s" d="M0 57v1m0 12v1m0 1v1m0 42v1m0 68v1m0 32v1m0 24v1"/><path class="t" d="M0 17v1m0 5v1m0 14v1m0 9v1m0 14v1m0 26v1m0 16v1m0 1v1m0 27v1m0 28v1m0 33v1m0 124v1m0 7v1m0 19v1m0 45v1"/><path class="u" d="M0 142v1m0 71v2m0 99v1"/><path class="v" d="M0 27v1m0 30v1m0 10v1m0 44v1m0 55v2m0 69v1m0 29v2m0 57v1"/><path class="w" d="M0 1v1m0 20v1m0 11v1m0 10v1m0 1v1m0 1v1m0 6v1m0 5v1m0 8v1m0 2v1m0 27v1m0 24v1m0 24v1m0 3v1m0 1v2m0 1v1m0 2v1m0 2v1m0 11v1m0 14v1m0 10v2m0 17v1m0 2v1m0 6v1m0 8v1m0 5v1m0 3v1m0 9v2m0 10v1m0 14v1m0 13v1m0 44v1m0 28v1m0 8v1m0 7v3m0 2v1m0 3v1"/><path class="x" d="M0 95v1m0 21v1m0 57v1m0 6v1m0 14v1m0 12v1m0 14v1m0 14v1m0 64v1m0 20v1m0 42v1m0 13v1"/></g>
<g id="s10"><path class="a" d="M0 9v1m0 7v1m0 6v1m0 3v1m0 3v1m0 5v1m0 1v1m0 6v1m0 6v2m0 6v1m0 3v1m0 7v1m0 6v1m0 2v1m0 7v1m0 14v1m0 9v1m0 2v1m0 10v1m0 5v1m0 11v1m0 2v1m0 27v1m0 1v1m0 10v1m0 1v2m0 7v1m0 2v1m0 11v1m0 12v1m0 4v1m0 9v2m0 32v1m0 1v1m0 1v3m0 15v1m0 12v2m0 3v1m0 2v1m0 5v1m0 2v2m0 17v1m0 8v1m0 6v2m0 19v1m0 4v1m0 5v3m0 1v1"/><path class="b" d="M0 44v1m0 127v1m0 213v1"/><path class="c" d="M0 173v1"/><path class="d" d="M0 26v1m0 42v1m0 42v1m0 41v1m0 33v1m0 152v1m0 18v1m0 24v1"/><path class="e" d="M0 3v1m0 3v1m0 2v1m0 5v1m0 12v1m0 6v1m0 14v1m0 63v1m0 26v1m0 58v1m0 28v1m0 2v1m0 12v1m0 10v1m0 24v1m0 1v1m0 7v1m0 50v1m0 30v1"/><path class="f" d="M0 1v1m0 55v1m0 40v1m0 1v1m0 173v1m0 96v1m0 18v1m0 7v1"/><path class="g" d="M0 20v1m0 29v1m0 43v1m0 48v1m0 9v1m0 9v1m0 1v1m0 15v1m0 41v1m0 20v2m0 104v1m0 13v1m0 16v1m0 9v1"/><path class="h" d="M0 33v1m0 14v1m0 11v1m0 14v1m0 98v1m0 76v1m0 25v1m0 13v1m0 36v1m0 16v1m0 3v1"/><path class="i" d="M0 155v1m0 59v1m0 126v1"/><path class="j" d="M0 22v1m0 26v1m0 32v1m0 2v1m0 20v1m0 11v1m0 9v1m0 4v1m0 25v1m0 1v1m0 30v1m0 25v1m0 8v1m0 6v1m0 1v1m0 16v1m0 6v1m0 5v1m0 3v1m0 7v1m0 68v1m0 44v1"/><path class="k" d="M0 5v1m0 12v1m0 57v1m0 2v1m0 28v1m0 10v1m0 14v1m0 44v1m0 26v1m0 45v1m0 23v1m0 17v1m0 1v1m0 9v1m0 46v1m0 28v1m0 14v1"/><path class="l" d="M0 30v1m0 3v1m0 23v1m0 4v1m0 31v1m0 5v1m0 1v1m0 19v1m0 67v1m0 46v1m0 54v1m0 17v1"/><path class="m" d="M0 46v1m0 63v1m0 64v1m0 49v1m0 36v1m0 56v1m0 6v1m0 36v1m0 13v1m0 18v1"/><path class="n" d="M0 4v1m0 3v1m0 2v1m0 9v1m0 13v1m0 1v1m0 3v3m0 9v1m0 2v1m0 8v1m0 1v2m0 11v1m0 6v2m0 1v2m0 1v1m0 2v1m0 2v1m0 5v1m0 3v1m0 6v1m0 4v1m0 4v2m0 2v1m0 1v1m0 7v2m0 6v1m0 1v2m0 15v1m0 3v1m0 4v3m0 4v3m0 3v2m0 6v2m0 4v1m0 5v2m0 2v1m0 6v2m0 2v1m0 4v1m0 5v1m0 13v1m0 13v1m0 1v1m0 1v2m0 11v1m0 7v1m0 6v1m0 1v4m0 3v1m0 3v3m0 2v3m0 4v1m0 1v2m0 7v2m0 2v6m0 7v1m0 16v1m0 1v1m0 4v2m0 5v1m0 3v2m0 2v2m0 4v1m0 1v1m0 3v1m0 5v1"/><path class="o" d="M0 216v1m0 140v1"/><path class="p" d="M0 2v1m0 28v1m0 27v1m0 13v1m0 12v1m0 15v1m0 1v1m0 24v1m0 38v1m0 33v1m0 8v1m0 19v1m0 23v1m0 100v1m0 13v1m0 4v1"/><path class="q" d="M0 70v1m0 116v1m0 84v1m0 54v1"/><path class="r" d="M0 39v1m0 21v1m0 2v1m0 12v1m0 36v1m0 7v1m0 13v1m0 10v1m0 8v1m0 7v1m0 4v1m0 42v1m0 26v1m0 2v1m0 11v1m0 20v1m0 78v1"/><path class="s" d="M0 13v1m0 1v1m0 56v1m0 84v1m0 68v1m0 29v1m0 44v1"/><path class="t" d="M0 23v1m0 114v1m0 23v1m0 31v1m0 10v1m0 2v1m0 32v1m0 1v1"/><path class="u" d="M0 27v1m0 85v1m0 85v2m0 70v1m0 57v1"/><path class="v" d="M0 0v1m0 11v1m0 58v1m0 25v1m0 46v1m0 13v1m0 27v1m0 27v1m0 43v1m0 14v1m0 28v1m0 41v1m0 1v1"/><path class="w" d="M0 14v1m0 4v1m0 5v1m0 26v1m0 30v1m0 5v1m0 34v2m0 9v1m0 24v1m0 5v1m0 3v1m0 46v1m0 4v1m0 5v1m0 30v1m0 4v1m0 4v1m0 9v1m0 9v1m0 15v1m0 1v1m0 4v1m0 12v1m0 40v1m0 11v1m0 24v1"/><path class="x" d="M0 111v1m0 27v1m0 5v1m0 94v1m0 20v1m0 28v1m0 27v1m0 36v1m0 6v1m0 13v1"/></g>
<g id="s11"><path class="a" d="M0 1v1m0 3v1m0 4v1m0 1v1m0 13v1m0 7v1m0 10v1m0 19v1m0 19v3m0 6v1m0 4v1m0 15v1m0 17v1m0 2v1m0 11v1m0 15v1m0 9v1m0 7v1m0 9v1m0 3v2m0 23v1m0 3v1m0 8v1m0 6v4m0 7v1m0 5v1m0 6v1m0 8v1m0 4v1m0 9v1m0 8v1m0 1v2m0 4v1m0 12v1m0 5v1m0 6v1m0 17v1m0 4v1m0 1v1m0 18v1m0 1v2"/><path class="b" d="M0 28v1m0 14v1m0 39v1m0 32v1m0 24v1m0 70v1m0 57v1m0 56v1m0 71v1m0 3v1"/><path class="c" d="M0 201v1m0 25v1m0 98v1m0 77v1"/><path class="d" d="M0 16v1m0 27v1m0 23v1m0 13v1m0 19v1m0 28v1m0 8v1m0 75v1m0 52v1m0 48v1m0 55v1m0 23v1"/><path class="e" d="M0 13v1m0 11v1m0 26v1m0 17v1m0 116v1m0 11v1m0 5v1m0 29v1m0 4v1m0 22v1m0 13v1m0 10v1m0 16v1m0 4v1m0 45v1m0 14v1m0 3v1"/><path class="f" d="M0 88v1m0 36v1m0 134v1m0 11v1m0 11v1m0 12v1"/><path class="g" d="M0 22v1m0 28v1m0 24v1m0 19v1m0 8v2m0 28v1m0 66v1m0 3v1m0 3v1m0 8v1m0 12v1m0 15v1m0 4v1m0 32v1m0 80v1m0 13v1"/><path class="h" d="M0 20v1m0 107v1m0 65v1"/><path class="i" d="M0 69v1m0 130v1m0 186v2"/><path class="j" d="M0 11v1m0 7v1m0 57v2m0 5v1m0 10v1m0 13v1m0 8v1m0 3v1m0 30v1m0 1v1m0 32v1m0 14v1m0 3v1m0 30v1m0 10v1m0 1v1m0 16v1m0 16v1m0 4v1m0 5v1m0 2v1m0 60v1m0 2v1"/><path class="k" d="M0 18v1m0 28v1m0 14v1m0 28v1m0 15v1m0 29v1m0 9v1m0 2v1m0 11v1m0 3v1m0 12v1m0 15v1m0 43v1m0 52v1m0 27v1"/><path class="l" d="M0 67v1m0 109v1m0 88v1m0 13v1m0 72v1m0 23v1m0 13v1"/><path class="m" d="M0 8v1m0 108v1m0 65v1m0 27v1m0 35v1"/><path class="n" d="M0 2v3m0 1v1m0 10v1m0 3v1m0 1v1m0 11v2m0 1v1m0 7v1m0 1v1m0 6v2m0 3v1m0 2v2m0 6v1m0 2v2m0 3v3m0 8v1m0 1v2m0 4v1m0 4v2m0 3v1m0 1v1m0 1v1m0 7v2m0 1v1m0 8v1m0 13v1m0 2v1m0 1v1m0 8v1m0 4v1m0 2v1m0 3v1m0 2v2m0 1v1m0 1v1m0 8v1m0 1v1m0 12v1m0 3v2m0 3v1m0 3v1m0 2v1m0 9v1m0 5v1m0 17v1m0 4v1m0 2v1m0 1v1m0 2v1m0 7v2m0 1v1m0 2v2m0 10v3m0 6v3m0 2v3m0 3v1m0 8v2m0 6v1m0 4v3m0 1v1m0 2v7m0 5v1m0 9v2m0 2v1m0 13v4m0 4v1m0 1v2m0 1v3m0 2v3"/><path class="o" d="M0 29v1m0 97v1m0 29v1m0 27v1"/><path class="p" d="M0 39v1m0 26v1m0 6v1m0 15v1m0 34v1m0 108v1m0 27v1m0 21v1m0 56v1m0 17v1m0 11v1m0 15v1m0 2v1m0 15v1"/><path class="q" d="M0 15v1m0 85v1m0 27v1m0 187v1m0 55v1"/><path class="r" d="M0 30v1m0 9v1m0 8v1m0 3v2m0 17v1m0 65v1m0 13v1m0 73v1m0 10v1m0 78v1m0 4v1m0 2v1m0 34v1"/><path class="s" d="M0 57v1m0 39v1m0 2v1m0 38v1m0 44v1m0 148v1m0 27v1"/><path class="t" d="M0 14v1m0 16v1m0 29v1m0 72v1m0 115v1m0 83v1m0 6v1m0 7v1m0 12v1"/><path class="u" d="M0 41v2m0 113v1m0 29v1m0 27v1m0 14v1"/><path class="v" d="M0 58v1m0 54v2m0 55v2m0 101v1m0 13v1m0 26v2m0 56v1"/><path class="w" d="M0 0v1m0 6v1m0 16v1m0 2v1m0 4v2m0 3v1m0 12v1m0 8v1m0 51v1m0 7v1m0 6v1m0 15v4m0 8v1m0 3v2m0 1v1m0 1v1m0 3v1m0 1v1m0 3v1m0 24v1m0 19v1m0 4v2m0 6v1m0 13v1m0 9v3m0 13v1m0 19v1m0 20v1m0 15v2m0 1v1m0 6v1m0 13v1m0 16v1"/><path class="x" d="M0 9v1m0 171v1m0 8v1m0 55v1m0 64v1"/></g>
<g id="s12"><path class="a" d="M0 1v1m0 6v1m0 3v3m0 12v1m0 2v1m0 8v1m0 6v1m0 14v1m0 3v1m0 10v1m0 18v1m0 1v1m0 17v2m0 6v1m0 6v1m0 9v1m0 5v1m0 21v1m0 10v1m0 1v1m0 4v1m0 13v1m0 2v1m0 11v1m0 38v1m0 9v1m0 2v1m0 7v2m0 27v1m0 6v1m0 4v1m0 5v1m0 16v1m0 5v1m0 8v1m0 8v2m0 2v1m0 4v2m0 1v1m0 3v1m0 2v1m0 12v3m0 1v1"/><path class="b" d="M0 84v1m0 74v1m0 82v1m0 44v1m0 29v1m0 13v1m0 14v1m0 42v1m0 13v1"/><path class="c" d="M0 124v1"/><path class="d" d="M0 59v1m0 23v1m0 17v1m0 39v1m0 47v1m0 51v1m0 47v1m0 23v1m0 18v1m0 14v1m0 42v1"/><path class="e" d="M0 23v1m0 7v1m0 12v1m0 28v1m0 36v2m0 97v1m0 17v1m0 9v1m0 7v1m0 9v2m0 14v1m0 10v1m0 2v1m0 19v1m0 9v1m0 28v1m0 6v1m0 3v1m0 31v1m0 12v1m0 4v1"/><path class="f" d="M0 11v1m0 57v1m0 2v1m0 12v1m0 98v1m0 74v1"/><path class="g" d="M0 22v1m0 10v1m0 44v1m0 26v1m0 3v1m0 25v1m0 26v1m0 41v1m0 18v1m0 2v1m0 39v1m0 57v1m0 41v1"/><path class="h" d="M0 3v1m0 85v1m0 17v1m0 42v1m0 9v1m0 31v1m0 29v1m0 2v1m0 3v1m0 33v1m0 20v1m0 7v1m0 25v1m0 33v1m0 12v1m0 3v1m0 34v1"/><path class="i" d="M0 58v1m0 255v1"/><path class="j" d="M0 4v1m0 1v1m0 30v1m0 24v1m0 39v1m0 46v1m0 2v1m0 10v1m0 18v1m0 11v1m0 22v1m0 6v1m0 45v1m0 6v1m0 17v1m0 1v1m0 22v1m0 22v1m0 27v1m0 21v1"/><path class="k" d="M0 47v1m0 43v1m0 28v1m0 1v1m0 13v1m0 69v1m0 1v1m0 25v1m0 99v1"/><path class="l" d="M0 5v1m0 1v1m0 9v1m0 32v1m0 39v1m0 42v1m0 5v1m0 13v1m0 3v1m0 3v1m0 31v1m0 26v1m0 29v1m0 30v1m0 14v1m0 10v1m0 69v1"/><path class="m" d="M0 52v1m0 51v1m0 33v1m0 56v1m0 36v1m0 50v1m0 84v1"/><path class="n" d="M0 0v1m0 1v1m0 12v2m0 1v2m0 5v2m0 5v1m0 1v3m0 3v1m0 2v1m0 4v2m0 1v1m0 11v2m0 12v1m0 1v2m0 6v2m0 3v3m0 11v1m0 14v1m0 7v1m0 4v1m0 2v1m0 7v1m0 5v1m0 13v3m0 1v2m0 2v2m0 2v2m0 6v1m0 4v2m0 5v1m0 9v1m0 6v1m0 3v2m0 18v3m0 6v1m0 1v1m0 1v3m0 3v2m0 2v2m0 2v1m0 6v3m0 3v3m0 12v2m0 4v1m0 3v1m0 2v1m0 1v3m0 12v1m0 3v4m0 6v2m0 1v1m0 1v1m0 5v1m0 4v1m0 4v2m0 16v1m0 1v1m0 2v1m0 1v4m0 4v1m0 2v1"/><path class="o" d="M0 143v1"/><path class="p" d="M0 10v1m0 57v1m0 12v1m0 50v1m0 21v1m0 43v1m0 3v1m0 9v1m0 33v1m0 13v1m0 100v1m0 26v1"/><path class="q" d="M0 99v2m0 24v1m0 57v1"/><path class="r" d="M0 38v1m0 15v1m0 2v1m0 17v1m0 20v1m0 29v1m0 21v1m0 6v1m0 43v1m0 1v1m0 8v1m0 2v1m0 7v1m0 11v1m0 99v1m0 1v1m0 24v1m0 41v1"/><path class="s" d="M0 357v1"/><path class="t" d="M0 9v1m0 50v1m0 21v1m0 48v1m0 48v1m0 49v1m0 37v2m0 49v1m0 42v1m0 38v1"/><path class="u" d="M0 70v2m0 26v1m0 14v2m0 56v2m0 55v1m0 71v2"/><path class="v" d="M0 41v2m0 12v2m0 29v1m0 40v2m0 27v1m0 1v1m0 197v1"/><path class="w" d="M0 21v1m0 2v1m0 3v2m0 15v1m0 62v1m0 3v1m0 6v1m0 24v1m0 2v1m0 28v1m0 10v1m0 17v1m0 10v1m0 19v1m0 6v2m0 3v1m0 37v1m0 11v1m0 3v1m0 9v1m0 8v1m0 4v1m0 9v1m0 4v1m0 7v2m0 23v1m0 17v1m0 5v1"/><path class="x" d="M0 53v1m0 13v1m0 6v1m0 28v1m0 13v1m0 57v1m0 12v1m0 7v1m0 14v1m0 19v1m0 58v1m0 34v1m0 44v1"/></g>
<g id="s13"><path class="a" d="M0 1v1m0 8v1m0 9v1m0 4v1m0 4v2m0 2v1m0 21v1m0 10v1m0 8v1m0 2v1m0 2v2m0 8v1m0 6v2m0 4v1m0 11v3m0 5v1m0 2v3m0 4v2m0 22v1m0 8v1m0 2v2m0 2v1m0 16v1m0 12v2m0 24v1m0 2v1m0 18v1m0 4v1m0 8v1m0 16v2m0 11v1m0 18v1m0 6v1m0 5v1m0 1v1m0 3v1m0 17v1m0 3v2m0 4v1m0 14v1m0 7v1m0 17v1"/><path class="b" d="M0 12v1m0 57v1m0 217v1m0 96v1"/><path class="d" d="M0 11v1m0 185v1m0 91v1"/><path class="e" d="M0 13v2m0 14v1m0 25v1m0 12v1m0 2v1m0 17v1m0 8v1m0 9v1m0 4v1m0 1v1m0 26v1m0 2v2m0 20v1m0 40v2m0 30v1m0 33v1m0 1v1m0 17v1m0 1v1m0 1v1m0 73v1"/><path class="f" d="M0 28v1m0 73v1m0 9v1m0 114v1m0 143v1m0 3v1m0 23v1"/><path class="g" d="M0 6v1m0 30v1m0 95v1m0 116v1m0 126v1"/><path class="h" d="M0 17v2m0 19v1m0 142v1m0 124v1m0 45v1m0 31v1"/><path class="i" d="M0 198v1"/><path class="j" d="M0 5v1m0 2v1m0 7v1m0 6v1m0 16v1m0 3v1m0 4v1m0 23v1m0 3v1m0 2v1m0 16v1m0 18v1m0 36v1m0 16v1m0 70v1m0 9v1m0 2v1m0 2v1m0 11v1m0 66v1m0 31v1"/><path class="k" d="M0 32v1m0 3v1m0 67v1m0 43v1m0 17v1m0 28v1m0 23v1m0 35v1m0 22v1"/><path class="l" d="M0 149v1m0 30v1m0 26v1m0 74v1m0 10v1m0 27v1m0 15v1m0 1v1"/><path class="m" d="M0 61v1m0 321v1"/><path class="n" d="M0 0v1m0 1v1m0 1v1m0 2v1m0 1v1m0 9v1m0 2v1m0 1v1m0 8v1m0 1v1m0 7v1m0 6v2m0 5v1m0 4v1m0 1v3m0 8v1m0 5v1m0 2v1m0 6v1m0 1v1m0 1v2m0 4v1m0 4v1m0 2v2m0 9v2m0 1v2m0 6v2m0 1v1m0 2v2m0 4v2m0 9v2m0 4v1m0 4v1m0 7v1m0 2v2m0 1v1m0 8v1m0 2v1m0 4v1m0 5v2m0 12v1m0 3v3m0 2v1m0 2v3m0 1v1m0 2v2m0 1v1m0 5v6m0 2v1m0 6v4m0 3v1m0 3v1m0 8v3m0 5v1m0 2v3m0 2v1m0 6v2m0 3v7m0 3v4m0 3v1m0 1v3m0 3v3m0 3v1m0 1v2m0 8v2m0 2v3m0 7v1m0 1v2m0 1v1m0 4v1m0 5v1m0 1v1m0 4v4m0 3v4m0 2v3"/><path class="o" d="M0 69v1m0 88v1"/><path class="p" d="M0 52v1m0 1v1m0 17v1m0 30v1m0 7v1m0 27v1m0 1v1m0 40v1m0 1v1m0 16v1m0 10v1m0 5v1m0 7v1m0 44v1m0 1v1m0 72v1m0 23v1m0 2v1m0 24v1"/><path class="r" d="M0 90v1m0 31v1m0 17v1m0 45v1m0 12v2m0 10v1m0 5v1m0 5v2m0 17v1m0 56v1m0 22v1m0 22v1m0 30v1m0 2v1m0 12v1"/><path class="s" d="M0 256v1m0 26v1m0 75v1"/><path class="t" d="M0 21v1m0 17v1m0 13v1m0 9v1m0 14v1m0 35v1m0 36v1m0 31v1m0 1v1m0 8v1m0 18v1m0 23v1m0 26v1m0 3v1m0 3v1m0 32v1m0 56v1m0 28v1"/><path class="u" d="M0 85v2m0 69v1"/><path class="v" d="M0 27v1m0 13v2m0 171v2m0 27v1m0 56v2m0 12v2m0 44v1"/><path class="w" d="M0 15v1m0 10v1m0 31v1m0 15v1m0 12v1m0 6v1m0 31v2m0 19v1m0 4v1m0 16v1m0 4v1m0 12v1m0 1v2m0 2v1m0 10v1m0 5v1m0 28v1m0 23v1m0 13v1m0 8v1m0 38v1m0 4v1m0 11v3m0 2v3m0 11v1m0 3v1m0 15v1m0 11v1m0 9v1m0 1v1"/><path class="x" d="M0 3v1m0 41v1m0 13v1m0 28v1m0 72v1m0 71v1m0 41v1m0 28v1"/></g>
<g id="s14"><path class="a" d="M0 2v1m0 4v1m0 9v2m0 6v2m0 4v2m0 14v1m0 1v1m0 8v1m0 10v2m0 1v2m0 2v1m0 19v1m0 4v1m0 1v1m0 10v2m0 10v1m0 5v1m0 7v1m0 7v2m0 1v1m0 5v1m0 8v1m0 1v1m0 3v1m0 11v3m0 19v2m0 9v1m0 4v1m0 5v2m0 15v1m0 1v1m0 1v1m0 4v1m0 3v1m0 4v1m0 3v1m0 4v1m0 1v1m0 1v1m0 4v1m0 7v1m0 7v1m0 17v3m0 2v1m0 9v1m0 5v1m0 9v1m0 15v1m0 13v1m0 15v2m0 1v1"/><path class="b" d="M0 12v1m0 16v1m0 82v1m0 46v1m0 27v1m0 68v1m0 14v1m0 15v1m0 41v1m0 13v1m0 27v1m0 16v1"/><path class="c" d="M0 188v1"/><path class="d" d="M0 11v1m0 18v1m0 138v1m0 27v1m0 14v1m0 57v1m0 17v1m0 39v1m0 41v1m0 18v1"/><path class="e" d="M0 34v1m0 16v1m0 7v2m0 1v1m0 3v1m0 18v1m0 44v2m0 24v1m0 126v1m0 23v1m0 40v1m0 10v1m0 31v1m0 2v1m0 2v1"/><path class="f" d="M0 14v1m0 26v1m0 14v1m0 170v1m0 31v1"/><path class="g" d="M0 45v1m0 4v1m0 26v1m0 74v1m0 41v1m0 9v1m0 91v1m0 53v1m0 39v1"/><path class="h" d="M0 61v1m0 27v1m0 32v1m0 12v1m0 74v1m0 49v1m0 18v1m0 20v1m0 18v1"/><path class="i" d="M0 199v2m0 12v1m0 87v1"/><path class="j" d="M0 0v1m0 2v1m0 18v1m0 15v1m0 25v1m0 9v1m0 11v1m0 23v1m0 30v1m0 5v1m0 48v1m0 22v1m0 23v1m0 8v1m0 11v1m0 13v1m0 3v1m0 8v2m0 2v1m0 58v1m0 6v1m0 13v1m0 3v1"/><path class="k" d="M0 46v1m0 28v1m0 17v1m0 11v1m0 57v1m0 11v1m0 5v1m0 10v1m0 30v1m0 82v1m0 14v1m0 2v1"/><path class="l" d="M0 33v1m0 31v1m0 129v1m0 9v1m0 12v1m0 18v1m0 15v1m0 81v1m0 44v1"/><path class="m" d="M0 118v1m0 26v1m0 7v1m0 6v1m0 15v1m0 48v1m0 13v1m0 21v1m0 143v1"/><path class="n" d="M0 4v3m0 1v1m0 1v1m0 2v1m0 6v1m0 33v1m0 8v1m0 4v1m0 2v1m0 7v1m0 1v1m0 1v1m0 6v1m0 4v1m0 8v1m0 3v1m0 4v1m0 2v1m0 2v3m0 2v2m0 1v3m0 3v1m0 2v4m0 2v1m0 3v1m0 3v1m0 7v1m0 2v1m0 2v2m0 7v1m0 3v4m0 9v1m0 17v2m0 1v1m0 8v2m0 8v2m0 3v2m0 1v1m0 7v1m0 1v1m0 1v2m0 10v1m0 3v1m0 1v2m0 3v1m0 1v1m0 1v1m0 2v1m0 4v1m0 4v1m0 2v1m0 9v3m0 2v3m0 2v2m0 3v1m0 3v2m0 1v3m0 11v1m0 4v1m0 7v2m0 1v1m0 1v2m0 4v7m0 2v3m0 3v1m0 3v4m0 10v1m0 2v5"/><path class="o" d="M0 39v1m0 57v1m0 103v1m0 53v1m0 86v1"/><path class="p" d="M0 84v1m0 70v1m0 26v1m0 33v1m0 115v1m0 27v1"/><path class="q" d="M0 40v1m0 103v1m0 25v1m0 55v1"/><path class="r" d="M0 37v1m0 64v1m0 20v1m0 65v1m0 13v1m0 10v2m0 16v1m0 11v1m0 39v1m0 26v1m0 19v1m0 49v1"/><path class="s" d="M0 174v1"/><path class="t" d="M0 23v1m0 56v1m0 10v2m0 1v1m0 14v1m0 57v1m0 15v1m0 7v1m0 10v1m0 109v1m0 21v1m0 16v1"/><path class="u" d="M0 42v2m0 55v1m0 43v1"/><path class="v" d="M0 15v1m0 41v1m0 113v1m0 127v1m0 2v1"/><path class="w" d="M0 1v1m0 7v1m0 6v1m0 2v1m0 1v1m0 2v1m0 2v2m0 7v1m0 7v1m0 3v1m0 3v2m0 1v1m0 11v1m0 10v1m0 3v1m0 4v1m0 12v1m0 5v2m0 26v1m0 27v1m0 30v1m0 30v1m0 8v2m0 6v2m0 14v1m0 7v1m0 20v1m0 11v1m0 38v2m0 1v2m0 3v1m0 3v1m0 6v1m0 20v1m0 8v2"/><path class="x" d="M0 88v1m0 28v1m0 36v1m0 85v1m0 92v1m0 13v1m0 50v1m0 5v1"/></g>
<g id="s15"><path class="a" d="M0 11v2m0 6v1m0 4v1m0 1v1m0 6v1m0 3v1m0 6v1m0 3v1m0 2v1m0 2v1m0 6v1m0 2v1m0 4v2m0 5v1m0 23v2m0 3v2m0 3v1m0 1v1m0 34v1m0 19v1m0 1v1m0 8v1m0 5v2m0 8v1m0 5v1m0 13v1m0 13v1m0 11v1m0 2v1m0 2v1m0 3v2m0 4v2m0 21v2m0 15v2m0 9v1m0 1v2m0 12v1m0 5v2m0 15v1m0 1v2m0 1v1m0 8v1m0 5v1m0 8v1m0 7v1m0 11v1m0 4v2m0 3v1"/><path class="b" d="M0 14v1m0 111v1m0 74v1m0 10v1m0 29v1m0 28v1m0 13v1m0 16v1"/><path class="c" d="M0 86v1m0 59v1"/><path class="d" d="M0 15v1m0 13v1m0 68v1m0 26v1m0 115v1m0 17v1m0 9v1m0 14v1m0 18v1m0 14v1m0 55v1m0 10v1"/><path class="e" d="M0 5v1m0 2v1m0 16v1m0 1v1m0 14v1m0 15v1m0 13v1m0 80v1m0 1v2m0 2v1m0 12v1m0 25v2m0 100v1m0 20v1m0 62v1"/><path class="f" d="M0 16v1m0 85v1m0 184v1m0 68v1m0 33v1"/><path class="g" d="M0 3v1m0 74v1m0 2v1m0 69v1m0 9v1m0 30v1m0 115v1m0 18v1m0 24v1"/><path class="h" d="M0 80v1m0 22v1m0 17v1m0 16v1m0 5v1m0 29v1m0 15v1m0 5v1m0 6v1m0 3v1m0 2v1m0 36v1m0 6v1m0 36v1m0 45v1"/><path class="i" d="M0 28v1m0 144v1"/><path class="j" d="M0 46v1m0 3v1m0 16v1m0 7v1m0 17v1m0 3v1m0 30v2m0 6v1m0 2v1m0 20v1m0 21v1m0 3v1m0 34v1m0 59v1m0 4v1m0 11v1m0 36v1m0 2v1m0 6v1m0 4v1m0 7v2m0 18v1m0 25v1"/><path class="k" d="M0 7v1m0 14v1m0 9v1m0 3v1m0 80v1m0 1v1m0 13v1m0 28v1m0 12v1m0 19v1m0 10v1m0 28v1m0 1v1m0 29v1m0 96v1m0 3v1m0 12v1m0 11v1"/><path class="l" d="M0 52v1m0 71v1m0 55v1m0 58v1m0 42v1m0 9v2m0 45v2m0 12v1m0 26v1m0 6v1m0 6v1"/><path class="m" d="M0 17v1m0 13v1m0 6v1m0 56v1m0 22v1m0 92v1m0 6v1m0 29v1m0 4v1m0 7v1m0 14v1m0 114v1"/><path class="n" d="M0 1v2m0 1v1m0 1v1m0 3v1m0 7v1m0 1v1m0 2v1m0 16v2m0 5v1m0 7v3m0 4v2m0 2v1m0 1v1m0 2v1m0 2v1m0 8v2m0 3v1m0 1v3m0 15v2m0 1v1m0 3v1m0 4v1m0 1v1m0 4v1m0 2v3m0 1v2m0 21v1m0 5v4m0 3v2m0 5v1m0 11v1m0 1v1m0 13v1m0 3v1m0 3v1m0 1v2m0 2v2m0 3v1m0 8v1m0 2v1m0 1v1m0 10v1m0 2v1m0 9v1m0 5v1m0 3v1m0 4v2m0 4v1m0 5v2m0 3v1m0 6v1m0 2v3m0 4v5m0 3v2m0 1v1m0 1v1m0 9v1m0 6v2m0 4v1m0 9v1m0 3v2m0 2v1m0 1v1m0 1v4m0 3v2m0 1v1m0 9v1m0 2v1m0 3v1m0 5v1"/><path class="o" d="M0 141v1"/><path class="p" d="M0 43v1m0 29v1m0 13v1m0 25v2m0 73v1m0 15v1m0 21v1m0 5v1m0 41v1m0 51v1m0 6v1m0 21v1m0 42v1"/><path class="q" d="M0 145v1m0 171v1m0 68v1"/><path class="r" d="M0 34v1m0 24v1m0 22v1m0 21v1m0 2v1m0 50v1m0 64v1m0 3v1m0 1v1m0 35v2m0 6v1m0 25v1m0 28v1m0 7v1m0 62v1"/><path class="s" d="M0 116v1m0 199v1"/><path class="t" d="M0 77v1m0 1v1m0 68v2m0 29v1m0 7v1m0 43v1m0 100v1m0 30v1"/><path class="u" d="M0 85v1m0 13v1m0 42v2m0 114v1m0 114v1"/><path class="v" d="M0 0v1m0 229v1m0 57v1m0 99v1"/><path class="w" d="M0 9v1m0 3v1m0 7v1m0 13v1m0 24v1m0 4v1m0 23v1m0 4v1m0 28v1m0 13v1m0 2v1m0 11v1m0 15v1m0 12v1m0 1v1m0 9v1m0 14v1m0 16v1m0 8v1m0 9v2m0 9v1m0 7v1m0 31v1m0 29v1m0 5v1m0 11v2m0 9v1m0 27v1m0 14v1m0 5v1"/><path class="x" d="M0 30v1m0 8v1m0 5v1m0 7v1m0 42v1m0 57v1m0 42v1m0 19v1m0 42v1m0 14v1"/></g>
<g id="s16"><path class="a" d="M0 15v1m0 4v1m0 1v1m0 28v1m0 18v2m0 15v1m0 4v2m0 2v1m0 4v1m0 2v1m0 10v1m0 1v1m0 2v1m0 3v1m0 9v1m0 1v1m0 5v1m0 5v1m0 17v1m0 10v1m0 9v1m0 4v1m0 28v1m0 17v1m0 9v1m0 5v1m0 28v1m0 8v1m0 1v1m0 1v2m0 1v1m0 17v1m0 1v1m0 3v1m0 38v1m0 4v1m0 6v1m0 7v1m0 12v1m0 7v1"/><path class="b" d="M0 11v1m0 87v1m0 56v1m0 15v1m0 39v1m0 115v1m0 1v1"/><path class="c" d="M0 110v1m0 100v1m0 74v1"/><path class="d" d="M0 98v1m0 56v1m0 17v1m0 52v1m0 100v1"/><path class="e" d="M0 4v2m0 38v1m0 3v1m0 14v1m0 22v1m0 29v1m0 8v1m0 36v1m0 5v1m0 9v1m0 5v2m0 11v1m0 6v1m0 26v1m0 8v1m0 2v1m0 41v1m0 19v1m0 5v1m0 5v1m0 25v3m0 31v1m0 7v1"/><path class="f" d="M0 29v1m0 10v1m0 28v1m0 3v1m0 9v1m0 45v1m0 1v1m0 8v1m0 75v1m0 11v1m0 29v1m0 1v1m0 100v1"/><path class="g" d="M0 2v1m0 20v1m0 71v1m0 69v1m0 44v1m0 13v1m0 25v1m0 45v1m0 28v1m0 11v1m0 42v1"/><path class="h" d="M0 6v1m0 38v1m0 4v1m0 4v1m0 18v1m0 58v1m0 48v1m0 74v1"/><path class="i" d="M0 346v1"/><path class="j" d="M0 1v1m0 1v1m0 21v1m0 26v1m0 27v1m0 9v1m0 3v1m0 2v1m0 5v1m0 2v1m0 5v1m0 1v1m0 8v1m0 2v1m0 3v1m0 29v1m0 3v1m0 6v1m0 91v1m0 1v1m0 2v1m0 3v2m0 15v1m0 31v1m0 20v1m0 26v1m0 28v1m0 2v1"/><path class="k" d="M0 32v1m0 33v1m0 24v1m0 17v1m0 12v1m0 27v1m0 1v1m0 38v1m0 3v1m0 10v1m0 55v1m0 4v1m0 12v1m0 10v1m0 40v1m0 5v1m0 25v1"/><path class="l" d="M0 19v1m0 17v1m0 16v1m0 13v1m0 38v1m0 45v1m0 124v1m0 37v1m0 30v1m0 14v1"/><path class="m" d="M0 46v1m0 28v1m0 70v1m0 34v1m0 36v1m0 15v1m0 98v1m0 14v1m0 4v1"/><path class="n" d="M0 0v1m0 6v1m0 4v2m0 2v3m0 2v1m0 11v4m0 1v1m0 8v1m0 12v1m0 1v1m0 1v1m0 7v1m0 5v1m0 9v2m0 15v1m0 13v1m0 7v1m0 7v1m0 1v2m0 4v1m0 3v1m0 3v1m0 2v1m0 4v1m0 3v1m0 12v1m0 2v2m0 7v1m0 1v1m0 2v2m0 3v1m0 2v2m0 4v3m0 3v2m0 4v2m0 2v1m0 1v1m0 12v1m0 2v1m0 4v3m0 2v1m0 12v1m0 1v1m0 2v3m0 5v1m0 1v1m0 1v1m0 1v1m0 8v1m0 1v1m0 4v1m0 4v1m0 1v2m0 1v2m0 2v2m0 4v1m0 2v1m0 11v2m0 4v1m0 9v2m0 4v2m0 2v1m0 4v3m0 3v1m0 4v1m0 1v2m0 1v2m0 3v5m0 3v2m0 1v1m0 1v1m0 2v2m0 1v1"/><path class="o" d="M0 10v1"/><path class="p" d="M0 30v1m0 8v1m0 18v1m0 8v1m0 14v1m0 56v1m0 29v1m0 5v1m0 10v1m0 55v1m0 18v1m0 13v1m0 27v1"/><path class="q" d="M0 53v1m0 163v1m0 9v1m0 103v1"/><path class="r" d="M0 57v1m0 18v1m0 4v1m0 20v1m0 29v1m0 96v2m0 5v1m0 37v1m0 13v1m0 13v1m0 9v1m0 23v1m0 15v1m0 31v1"/><path class="s" d="M0 244v1m0 81v1"/><path class="t" d="M0 24v1m0 2v1m0 3v1m0 53v1m0 75v1m0 8v1m0 3v1m0 101v1m0 13v1m0 79v1m0 20v1"/><path class="u" d="M0 41v2m0 13v1m0 301v2"/><path class="v" d="M0 26v1m0 57v1m0 43v1m0 28v2m0 86v1m0 10v1m0 30v1m0 27v1m0 56v2"/><path class="w" d="M0 8v2m0 4v1m0 13v1m0 14v1m0 5v1m0 9v1m0 1v1m0 17v1m0 20v1m0 12v1m0 4v1m0 22v1m0 2v1m0 4v1m0 17v1m0 21v1m0 6v1m0 2v2m0 2v1m0 1v1m0 9v1m0 19v1m0 1v1m0 21v1m0 22v1m0 18v1m0 21v1m0 5v1m0 9v1m0 1v1m0 7v1m0 24v1m0 17v2m0 6v1"/><path class="x" d="M0 111v1m0 33v1m0 37v1m0 48v1m0 21v1m0 100v1"/></g>
<g id="s17"><path class="a" d="M0 0v1m0 1v1m0 2v1m0 4v1m0 6v1m0 3v1m0 7v1m0 10v1m0 5v1m0 3v1m0 5v1m0 2v1m0 3v1m0 10v2m0 2v1m0 4v5m0 2v1m0 10v1m0 18v1m0 6v3m0 15v1m0 5v1m0 7v1m0 26v2m0 15v1m0 3v1m0 4v1m0 2v1m0 6v1m0 8v1m0 10v1m0 2v1m0 13v1m0 2v1m0 4v1m0 6v1m0 13v1m0 1v1m0 6v2m0 1v1m0 2v1m0 14v1m0 17v1m0 12v1m0 7v1m0 18v1m0 1v1m0 5v1m0 5v1m0 2v1m0 2v1m0 4v1m0 1v1"/><path class="b" d="M0 44v1m0 10v1m0 42v1m0 42v1m0 27v1m0 3v1m0 14v1m0 125v1m0 28v1m0 16v1m0 10v1"/><path class="c" d="M0 45v1m0 94v1m0 229v1"/><path class="d" d="M0 168v1m0 5v1m0 38v1m0 99v1m0 47v1"/><path class="e" d="M0 1v1m0 49v1m0 21v1m0 57v1m0 24v1m0 27v1m0 14v1m0 18v1m0 7v2m0 64v1m0 79v2m0 1v1m0 13v1m0 2v1"/><path class="f" d="M0 26v1m0 75v1m0 10v1m0 57v1m0 29v1m0 14v1m0 27v1m0 24v1"/><path class="g" d="M0 14v1m0 47v1m0 5v1m0 64v1m0 61v1m0 56v1m0 4v1m0 140v1"/><path class="h" d="M0 9v1m0 154v2m0 58v1m0 22v1m0 15v1m0 30v1m0 21v1m0 45v1"/><path class="i" d="M0 13v1m0 215v1"/><path class="j" d="M0 3v2m0 74v3m0 17v2m0 10v1m0 12v1m0 19v1m0 21v2m0 28v1m0 1v1m0 10v1m0 1v1m0 8v1m0 4v1m0 25v1m0 13v1m0 12v1m0 1v1m0 18v1m0 28v3m0 3v1m0 46v1"/><path class="k" d="M0 18v1m0 18v1m0 26v1m0 44v1m0 29v1m0 10v1m0 1v1m0 9v1m0 28v1m0 2v1m0 10v1m0 17v1m0 144v1m0 13v1"/><path class="l" d="M0 67v1m0 125v1m0 72v1m0 40v1m0 12v2m0 16v1m0 52v1"/><path class="m" d="M0 22v1m0 71v1m0 1v1m0 22v1m0 18v1m0 14v1m0 35v1m0 48v1m0 9v1m0 19v1m0 71v1"/><path class="n" d="M0 6v1m0 9v1m0 2v2m0 3v1m0 2v2m0 2v1m0 1v4m0 1v2m0 1v3m0 3v1m0 1v1m0 7v2m0 1v2m0 3v1m0 4v1m0 5v2m0 10v2m0 14v3m0 9v2m0 3v2m0 3v1m0 5v1m0 1v1m0 1v2m0 8v1m0 2v1m0 7v2m0 4v1m0 11v1m0 2v2m0 1v2m0 7v1m0 1v1m0 4v1m0 2v1m0 3v1m0 1v1m0 1v1m0 25v4m0 11v1m0 3v1m0 7v1m0 10v2m0 5v1m0 1v2m0 1v1m0 6v1m0 9v1m0 2v3m0 2v4m0 6v1m0 5v1m0 6v1m0 4v1m0 1v1m0 5v4m0 1v3m0 2v2m0 7v4m0 6v1m0 10v1m0 2v1m0 11v1m0 3v2"/><path class="o" d="M0 54v1m0 17v1m0 157v1"/><path class="p" d="M0 15v1m0 9v1m0 40v1m0 36v1m0 51v1m0 61v1m0 36v1m0 21v1m0 49v1"/><path class="r" d="M0 69v1m0 23v1m0 18v1m0 1v1m0 15v1m0 17v1m0 36v1m0 72v1m0 5v1m0 12v1m0 11v1m0 6v1m0 27v1m0 72v1m0 1v1"/><path class="s" d="M0 271v1m0 14v1"/><path class="t" d="M0 7v1m0 24v1m0 19v1m0 29v1m0 9v1m0 32v1m0 35v1m0 15v1m0 2v1m0 47v1m0 26v1m0 19v1m0 19v1m0 12v1m0 13v1m0 4v1m0 25v1m0 9v1m0 5v1m0 7v1"/><path class="u" d="M0 12v1m0 58v1m0 70v2m0 70v1m0 143v2m0 26v2"/><path class="v" d="M0 115v1m0 54v1m0 31v1m0 40v1m0 12v1m0 13v1m0 14v1m0 29v1m0 1v1"/><path class="w" d="M0 8v1m0 2v1m0 18v1m0 17v1m0 4v1m0 37v1m0 18v1m0 12v1m0 23v1m0 12v1m0 11v1m0 3v1m0 6v1m0 26v1m0 8v1m0 12v2m0 7v1m0 8v1m0 9v1m0 22v1m0 3v1m0 14v1m0 20v1m0 7v1m0 3v1m0 8v1m0 34v1m0 3v1m0 11v1m0 6v1"/><path class="x" d="M0 23v1m0 71v1m0 22v1m0 35v1m0 85v1m0 5v1m0 86v1m0 20v1"/></g>
<g id="s18"><path class="a" d="M0 7v1m0 13v1m0 4v1m0 6v1m0 4v1m0 10v2m0 3v1m0 4v1m0 10v1m0 10v2m0 4v2m0 2v2m0 1v1m0 2v2m0 7v1m0 2v1m0 9v2m0 1v2m0 47v3m0 11v1m0 2v1m0 4v1m0 7v1m0 6v1m0 5v1m0 3v1m0 1v1m0 14v1m0 22v1m0 6v1m0 1v1m0 4v1m0 17v1m0 14v1m0 14v1m0 5v1m0 7v1m0 2v1m0 2v1m0 5v1m0 1v1m0 1v1m0 9v1m0 12v2m0 11v1m0 8v1m0 1v2"/><path class="b" d="M0 41v1m0 1v1m0 96v1m0 43v1m0 17v1m0 24v1m0 14v1m0 16v1m0 54v1m0 41v1"/><path class="c" d="M0 139v1m0 43v1m0 57v1m0 14v1"/><path class="d" d="M0 29v1m0 14v1m0 110v1m0 4v1m0 42v1m0 56v1m0 38v1m0 13v1"/><path class="e" d="M0 57v2m0 3v1m0 12v1m0 98v1m0 3v1m0 36v1m0 3v1m0 3v1m0 6v1m0 6v1m0 2v1m0 69v1m0 5v1m0 16v1m0 9v1m0 8v1m0 4v2"/><path class="f" d="M0 158v1m0 241v1"/><path class="g" d="M0 14v1m0 5v1m0 43v1m0 64v1m0 125v1m0 25v1m0 27v1m0 25v1m0 60v1"/><path class="h" d="M0 0v2m0 6v1m0 27v1m0 101v1m0 7v1m0 91v1"/><path class="i" d="M0 12v2m0 14v1m0 113v1"/><path class="j" d="M0 37v1m0 14v2m0 22v2m0 5v1m0 5v1m0 10v1m0 35v1m0 4v1m0 20v1m0 3v1m0 10v1m0 8v2m0 18v1m0 9v2m0 4v1m0 9v1m0 6v1m0 3v1m0 1v1m0 8v1m0 8v1m0 18v1m0 9v1m0 9v2m0 23v1m0 17v1m0 5v1m0 13v1m0 2v1"/><path class="k" d="M0 47v1m0 13v1m0 3v1m0 24v1m0 12v1m0 33v1m0 25v1m0 28v1m0 73v1m0 28v1m0 67v1m0 15v1m0 3v1"/><path class="l" d="M0 19v1m0 26v1m0 13v1m0 43v1m0 48v1m0 22v1m0 2v1m0 11v1m0 4v1m0 114v1m0 24v1m0 55v1"/><path class="m" d="M0 2v1m0 6v1m0 21v1m0 115v1m0 4v1m0 42v1m0 28v1m0 129v1m0 7v1m0 7v1m0 34v1"/><path class="n" d="M0 3v3m0 11v2m0 3v1m0 1v2m0 6v1m0 1v2m0 6v1m0 2v1m0 5v1m0 3v1m0 7v1m0 3v3m0 1v4m0 3v2m0 13v1m0 5v1m0 5v1m0 1v1m0 5v1m0 2v2m0 3v1m0 2v1m0 2v1m0 3v1m0 2v2m0 18v1m0 10v1m0 1v2m0 11v1m0 8v2m0 13v2m0 3v1m0 2v2m0 22v1m0 16v1m0 7v2m0 1v1m0 3v2m0 6v2m0 1v2m0 2v3m0 2v2m0 1v1m0 2v1m0 2v2m0 2v1m0 2v1m0 3v1m0 3v1m0 2v1m0 3v1m0 2v3m0 3v5m0 5v2m0 1v1m0 2v1m0 2v1m0 1v1m0 16v2m0 7v4m0 6v1m0 4v1m0 2v2m0 7v2"/><path class="o" d="M0 39v1m0 103v1m0 244v1"/><path class="p" d="M0 11v1m0 3v1m0 11v1m0 67v1m0 15v1m0 3v1m0 9v1m0 43v1m0 12v1m0 48v1m0 12v1m0 25v1m0 46v1m0 24v1"/><path class="q" d="M0 159v1m0 39v1"/><path class="r" d="M0 110v1m0 3v1m0 11v1m0 24v1m0 12v1m0 5v1m0 80v1m0 19v1m0 112v1"/><path class="s" d="M0 30v1m0 65v1m0 15v1m0 160v1m0 97v1"/><path class="t" d="M0 66v1m0 35v1m0 42v1m0 88v1m0 14v1m0 2v1m0 43v1m0 67v1"/><path class="u" d="M0 157v1m0 42v1m0 56v1m0 28v2m0 12v1m0 86v1"/><path class="v" d="M0 128v1m0 1v1m0 67v1m0 75v1m0 124v1"/><path class="w" d="M0 16v1m0 6v1m0 24v1m0 7v1m0 23v1m0 3v3m0 14v1m0 6v1m0 23v2m0 10v1m0 3v3m0 30v1m0 12v1m0 12v1m0 2v1m0 17v2m0 16v1m0 1v1m0 26v1m0 2v1m0 14v1m0 12v2m0 10v1m0 2v1m0 31v1m0 5v1m0 12v1m0 7v1m0 8v1m0 11v1"/><path class="x" d="M0 10v1m0 107v1m0 42v1m0 13v1m0 21v1m0 13v1m0 21v1m0 13v1m0 77v1m0 35v1m0 7v1m0 21v1m0 12v1"/></g>
<g id="s19"><path class="a" d="M0 5v2m0 1v1m0 6v1m0 1v2m0 13v2m0 4v1m0 1v1m0 2v1m0 7v1m0 1v1m0 6v2m0 7v1m0 2v1m0 2v2m0 3v1m0 10v1m0 5v1m0 1v2m0 5v1m0 5v1m0 2v2m0 9v1m0 5v1m0 6v1m0 7v2m0 34v1m0 11v1m0 11v1m0 4v2m0 3v1m0 7v2m0 7v2m0 1v1m0 7v1m0 2v1m0 3v1m0 3v1m0 4v1m0 9v1m0 5v1m0 8v1m0 3v1m0 19v1m0 5v1m0 7v1m0 5v1m0 3v1m0 25v1m0 22v1m0 16v1"/><path class="b" d="M0 44v1m0 13v1m0 25v1m0 56v1m0 14v1m0 28v1m0 114v1m0 2v1m0 85v1"/><path class="c" d="M0 86v1m0 224v1"/><path class="d" d="M0 59v1m0 23v1m0 71v1m0 31v1m0 111v1m0 90v1"/><path class="e" d="M0 16v1m0 2v1m0 46v1m0 21v1m0 13v1m0 39v1m0 17v1m0 6v1m0 2v1m0 5v1m0 17v1m0 6v1m0 87v1m0 8v1m0 19v1m0 13v1m0 5v1m0 15v1m0 49v1"/><path class="f" d="M0 101v1m0 43v1m0 108v1m0 73v1"/><path class="g" d="M0 49v1m0 17v1m0 27v1m0 69v1m0 27v1m0 9v1m0 17v1m0 43v1m0 13v1m0 1v1"/><path class="h" d="M0 45v1m0 64v1m0 41v1m0 25v1m0 103v1m0 9v1m0 47v1m0 6v1m0 46v1"/><path class="i" d="M0 228v2m0 128v1"/><path class="j" d="M0 7v1m0 28v1m0 66v1m0 30v1m0 2v1m0 13v1m0 7v1m0 9v1m0 3v1m0 1v1m0 5v1m0 27v1m0 87v1m0 10v1m0 6v1m0 71v2m0 7v1m0 8v1"/><path class="k" d="M0 46v1m0 73v1m0 40v1m0 42v1m0 19v1m0 26v1m0 1v1m0 66v1m0 28v1m0 32v1"/><path class="l" d="M0 21v1m0 13v1m0 54v1m0 1v2m0 27v1m0 80v1m0 33v1m0 2v1m0 117v1m0 11v1m0 25v1m0 6v1"/><path class="m" d="M0 1v1m0 1v1m0 43v1m0 61v1m0 95v1m0 26v1m0 71v1m0 20v1m0 13v1m0 8v1m0 19v1m0 28v1"/><path class="n" d="M0 10v4m0 6v1m0 10v1m0 7v1m0 8v1m0 1v1m0 4v1m0 6v1m0 1v2m0 5v1m0 5v1m0 1v1m0 1v2m0 6v1m0 6v1m0 1v1m0 5v2m0 1v1m0 3v1m0 5v3m0 4v2m0 3v3m0 1v1m0 1v2m0 12v2m0 3v1m0 2v2m0 5v1m0 1v1m0 4v1m0 5v1m0 1v1m0 11v2m0 13v1m0 1v1m0 2v1m0 2v3m0 1v3m0 1v2m0 9v1m0 4v1m0 1v3m0 3v2m0 1v2m0 4v1m0 1v1m0 2v1m0 6v3m0 2v2m0 4v1m0 1v1m0 2v3m0 5v1m0 1v3m0 5v2m0 2v3m0 5v1m0 7v3m0 5v1m0 1v1m0 10v1m0 2v1m0 4v2m0 1v1m0 1v1m0 7v3m0 1v1m0 2v2m0 6v1m0 1v1m0 3v1m0 6v1m0 1v1m0 5v1"/><path class="o" d="M0 140v1m0 43v1m0 14v1m0 27v1m0 2v1m0 128v1"/><path class="p" d="M0 25v1m0 4v1m0 113v1m0 1v1m0 42v1m0 8v1m0 60v1m0 54v1m0 47v1m0 12v1"/><path class="r" d="M0 26v1m0 2v1m0 7v1m0 36v1m0 3v1m0 44v1m0 134v1m0 68v1m0 5v1m0 12v1m0 5v1m0 48v1"/><path class="s" d="M0 0v1m0 1v1m0 70v1m0 114v1m0 86v1m0 11v1m0 86v1m0 11v1"/><path class="t" d="M0 4v1m0 17v2m0 10v1m0 17v1m0 34v1m0 50v1m0 4v1m0 30v1m0 7v1m0 7v1m0 5v1m0 65v1m0 13v1m0 32v1m0 7v1m0 18v1m0 24v1"/><path class="u" d="M0 186v1m0 13v1"/><path class="v" d="M0 41v2m0 42v1m0 27v2m0 12v2m0 114v2m0 43v1m0 54v2m0 11v1m0 28v1m0 17v1"/><path class="w" d="M0 14v1m0 9v1m0 2v2m0 25v1m0 1v2m0 10v1m0 1v1m0 23v1m0 13v1m0 13v1m0 49v1m0 7v1m0 16v1m0 65v2m0 1v1m0 3v1m0 3v1m0 21v1m0 22v1m0 15v1m0 1v1m0 3v1m0 24v1m0 5v2m0 2v1m0 2v1m0 12v1"/><path class="x" d="M0 9v1m0 143v1m0 14v1m0 41v1m0 20v1m0 80v1m0 13v1m0 50v1m0 20v1"/></g>
<g id="s20"><path class="a" d="M0 2v1m0 8v1m0 3v1m0 4v1m0 1v1m0 2v3m0 26v1m0 1v1m0 1v1m0 3v1m0 1v1m0 2v1m0 2v3m0 3v1m0 19v1m0 1v2m0 10v1m0 7v1m0 4v1m0 6v1m0 5v1m0 12v1m0 2v1m0 4v1m0 8v1m0 9v1m0 7v1m0 1v1m0 1v1m0 1v1m0 11v1m0 10v1m0 7v2m0 3v1m0 5v2m0 13v1m0 2v1m0 3v1m0 8v1m0 15v1m0 18v1m0 1v3m0 20v1m0 1v1m0 9v1m0 3v1m0 3v2m0 1v1m0 2v1m0 1v2m0 6v2m0 3v1m0 18v2m0 4v1m0 15v1"/><path class="b" d="M0 40v1m0 3v1m0 24v1m0 73v1m0 26v1m0 70v1m0 2v1m0 68v1m0 14v1m0 71v1"/><path class="c" d="M0 112v1"/><path class="d" d="M0 68v1m0 76v1m0 23v1m0 70v1m0 4v1m0 13v1m0 67v1m0 3v1m0 67v1m0 4v1"/><path class="e" d="M0 51v1m0 11v1m0 25v1m0 47v1m0 72v1m0 35v1m0 48v1m0 21v1m0 79v1"/><path class="f" d="M0 82v1m0 33v1m0 38v1m0 3v1m0 39v1m0 57v1m0 89v1"/><path class="g" d="M0 0v1m0 31v1m0 58v1m0 17v1m0 25v1m0 60v1m0 68v1"/><path class="h" d="M0 5v1m0 39v1m0 121v1m0 55v1m0 4v1m0 5v1m0 59v1m0 27v1m0 11v1m0 30v1"/><path class="i" d="M0 402v2"/><path class="j" d="M0 4v1m0 23v1m0 9v1m0 8v1m0 49v1m0 13v1m0 38v1m0 5v1m0 30v1m0 19v1m0 10v1m0 11v1m0 39v1m0 10v1m0 1v1m0 4v2m0 18v1m0 9v1m0 10v1m0 41v1m0 23v1"/><path class="k" d="M0 18v1m0 42v1m0 43v1m0 41v1m0 15v1m0 31v1m0 56v1m0 11v1m0 1v1m0 10v1m0 29v1m0 12v1m0 61v1m0 10v1"/><path class="l" d="M0 77v1m0 8v2m0 77v1m0 25v1m0 16v1m0 67v1"/><path class="m" d="M0 23v1m0 22v1m0 13v1m0 42v1m0 120v1m0 42v1m0 73v1m0 6v1"/><path class="n" d="M0 3v1m0 2v2m0 2v1m0 5v2m0 1v1m0 10v1m0 4v1m0 5v3m0 4v3m0 2v1m0 1v1m0 9v1m0 9v1m0 2v3m0 9v1m0 2v3m0 4v2m0 2v1m0 1v3m0 6v1m0 3v3m0 6v1m0 3v3m0 3v1m0 7v1m0 1v1m0 2v1m0 1v1m0 4v1m0 3v1m0 1v1m0 3v1m0 2v5m0 2v1m0 2v3m0 8v1m0 1v1m0 5v2m0 3v2m0 2v1m0 1v2m0 1v4m0 1v2m0 15v4m0 8v2m0 1v1m0 1v1m0 6v1m0 8v1m0 4v1m0 3v1m0 1v1m0 10v3m0 11v1m0 3v2m0 5v1m0 2v1m0 1v1m0 2v1m0 11v3m0 1v1m0 9v1m0 2v1m0 2v1m0 4v3m0 2v2m0 9v3m0 1v1m0 4v1m0 4v2m0 3v1m0 1v1"/><path class="o" d="M0 39v1m0 44v1m0 144v1m0 25v1m0 56v1m0 59v1m0 28v1"/><path class="p" d="M0 1v1m0 72v1m0 42v1m0 21v1m0 14v1m0 43v1m0 5v1m0 57v1m0 41v1m0 28v1"/><path class="q" d="M0 85v1m0 27v1m0 142v1"/><path class="r" d="M0 31v1m0 5v1m0 43v1m0 6v1m0 35v1m0 55v1m0 90v1m0 54v1m0 43v1m0 4v1"/><path class="s" d="M0 73v1m0 51v1m0 1v1m0 133v1m0 13v1m0 66v1m0 31v1"/><path class="t" d="M0 52v1m0 87v1m0 19v1m0 16v1m0 25v1m0 78v1m0 20v1m0 2v1m0 25v1m0 35v1"/><path class="u" d="M0 13v2m0 99v1m0 127v2m0 14v1m0 13v2m0 56v1m0 26v2m0 14v1m0 13v2"/><path class="v" d="M0 126v1m0 100v1"/><path class="w" d="M0 12v1m0 8v1m0 7v1m0 3v2m0 1v1m0 20v1m0 25v1m0 38v1m0 6v1m0 1v1m0 9v2m0 18v1m0 23v1m0 3v1m0 3v1m0 37v1m0 3v1m0 48v4m0 2v1m0 8v1m0 11v1m0 2v2m0 29v1m0 8v2m0 13v1m0 6v1m0 8v1m0 4v1m0 3v1"/><path class="x" d="M0 9v1m0 14v1m0 34v1m0 6v1m0 35v1m0 94v1m0 27v1m0 42v1m0 28v1"/></g>
<g id="s21"><path class="a" d="M0 4v1m0 5v1m0 16v1m0 6v1m0 3v1m0 2v3m0 1v1m0 1v1m0 6v1m0 1v2m0 7v1m0 5v1m0 14v1m0 7v1m0 25v1m0 3v1m0 8v1m0 9v1m0 10v1m0 1v1m0 9v1m0 2v1m0 8v1m0 1v1m0 15v1m0 6v1m0 4v1m0 17v1m0 29v1m0 11v1m0 2v1m0 2v1m0 6v1m0 4v1m0 7v1m0 8v1m0 1v1m0 22v2m0 2v1m0 15v1m0 18v2m0 4v1m0 7v1m0 3v1m0 1v2m0 3v1m0 3v1m0 1v1"/><path class="b" d="M0 26v1m0 42v1m0 2v1m0 39v1m0 3v1m0 10v1m0 31v1m0 13v1m0 27v1m0 39v1m0 46v1m0 70v1m0 12v1"/><path class="c" d="M0 15v1m0 144v1"/><path class="d" d="M0 25v1m0 47v1m0 37v1m0 14v1m0 47v1m0 27v1m0 86v1m0 71v1m0 9v1"/><path class="e" d="M0 13v1m0 36v1m0 8v1m0 47v1m0 17v1m0 45v1m0 26v1m0 73v1m0 28v2m0 18v1m0 14v1m0 6v2"/><path class="f" d="M0 1v1m0 56v1m0 38v1m0 3v1m0 8v1m0 29v1m0 27v1m0 75v1m0 40v1m0 31v1"/><path class="g" d="M0 36v1m0 25v1m0 3v1m0 14v1m0 9v1m0 10v1m0 2v1m0 13v1m0 1v1m0 10v1m0 48v1m0 12v1m0 27v1m0 39v1m0 29v1m0 14v1m0 87v1"/><path class="h" d="M0 103v1m0 49v1m0 66v1m0 19v1m0 43v1m0 50v1m0 1v1m0 65v1"/><path class="i" d="M0 14v1m0 284v1"/><path class="j" d="M0 30v1m0 15v1m0 4v1m0 1v1m0 9v1m0 18v1m0 7v1m0 17v1m0 9v1m0 19v1m0 9v1m0 3v1m0 10v1m0 6v1m0 14v1m0 6v1m0 6v2m0 8v1m0 5v1m0 1v1m0 7v1m0 2v1m0 26v1m0 1v1m0 22v1m0 14v1m0 10v1m0 15v1m0 11v1m0 64v2"/><path class="k" d="M0 5v1m0 1v1m0 40v1m0 15v1m0 82v1m0 43v1m0 32v1m0 41v1m0 43v1m0 41v1m0 10v1"/><path class="l" d="M0 79v1m0 55v2m0 69v1m0 28v1m0 17v1m0 65v1"/><path class="m" d="M0 80v1m0 8v1m0 19v1m0 7v1m0 28v1m0 72v1m0 11v1m0 15v1m0 77v1m0 14v1m0 64v1"/><path class="n" d="M0 0v1m0 5v1m0 2v1m0 1v2m0 6v1m0 1v1m0 1v2m0 6v1m0 1v1m0 1v1m0 1v1m0 2v1m0 19v2m0 8v1m0 3v1m0 1v1m0 1v1m0 4v3m0 1v1m0 5v1m0 1v1m0 4v1m0 5v1m0 6v1m0 9v1m0 6v1m0 3v1m0 2v1m0 11v2m0 6v2m0 3v1m0 2v1m0 9v1m0 1v1m0 5v1m0 2v2m0 2v1m0 4v1m0 8v2m0 6v2m0 7v1m0 10v1m0 3v3m0 10v4m0 6v3m0 1v3m0 1v1m0 7v5m0 2v1m0 4v1m0 2v1m0 13v1m0 4v1m0 1v2m0 2v2m0 3v1m0 2v2m0 2v1m0 2v2m0 7v1m0 5v2m0 4v1m0 13v2m0 3v1m0 3v7m0 1v1m0 1v1m0 4v3m0 2v1"/><path class="o" d="M0 68v1m0 332v1"/><path class="p" d="M0 2v1m0 13v1m0 79v1m0 44v1m0 25v1m0 21v1m0 7v1m0 16v1m0 14v1m0 9v1m0 29v1m0 3v1m0 9v1"/><path class="q" d="M0 139v1m0 105v1m0 72v1m0 22v1m0 62v1"/><path class="r" d="M0 3v1m0 14v1m0 9v2m0 62v1m0 38v1m0 10v1m0 29v1m0 15v1m0 102v1m0 8v1m0 41v1m0 4v1m0 21v1"/><path class="s" d="M0 230v1m0 39v1m0 43v1m0 11v1"/><path class="t" d="M0 8v1m0 8v1m0 4v1m0 26v1m0 101v1m0 9v1m0 14v1m0 30v1m0 141v1m0 4v1"/><path class="u" d="M0 98v2m0 142v2"/><path class="v" d="M0 114v2m0 12v2m0 183v1m0 43v2"/><path class="w" d="M0 32v1m0 6v1m0 4v1m0 7v1m0 2v1m0 11v1m0 7v1m0 1v1m0 26v1m0 17v1m0 21v1m0 10v1m0 23v1m0 4v1m0 31v1m0 10v1m0 20v1m0 5v1m0 3v1m0 34v1m0 2v1m0 36v1m0 4v1m0 11v1m0 2v1m0 1v2m0 5v1m0 1v1m0 18v1m0 2v1m0 6v1m0 3v1"/><path class="x" d="M0 88v1m0 56v1m0 36v1m0 28v1m0 6v1m0 14v1"/></g>
<g id="s22"><path class="a" d="M0 14v1m0 3v1m0 12v1m0 5v2m0 1v1m0 8v1m0 17v2m0 4v1m0 8v2m0 3v2m0 1v1m0 1v1m0 2v1m0 24v1m0 4v1m0 14v1m0 1v2m0 8v1m0 1v1m0 4v1m0 9v1m0 5v2m0 23v1m0 19v1m0 2v1m0 7v1m0 1v1m0 13v1m0 10v3m0 10v1m0 1v1m0 1v2m0 2v1m0 11v1m0 18v1m0 8v1m0 7v1m0 6v2m0 10v1m0 14v1m0 1v2m0 5v1m0 6v1m0 15v1m0 1v1m0 3v1"/><path class="b" d="M0 54v1m0 2v1m0 130v1m0 10v1m0 99v1m0 59v1"/><path class="c" d="M0 100v1m0 197v1"/><path class="d" d="M0 53v1m0 4v1m0 130v1m0 8v1m0 4v1m0 80v1"/><path class="e" d="M0 13v1m0 16v1m0 58v1m0 16v1m0 6v1m0 12v2m0 6v1m0 20v2m0 16v1m0 5v1m0 17v1m0 11v1m0 3v1m0 22v1m0 30v1m0 1v1m0 8v1m0 3v1m0 6v1m0 16v2m0 42v3m0 32v1"/><path class="f" d="M0 16v1m0 12v1m0 156v1m0 116v1"/><path class="g" d="M0 48v1m0 12v1m0 41v1m0 59v1m0 2v1m0 40v1m0 57v1m0 83v1"/><path class="h" d="M0 50v2m0 77v1m0 78v1m0 25v1"/><path class="i" d="M0 329v1"/><path class="j" d="M0 20v1m0 31v1m0 13v1m0 8v1m0 38v1m0 2v1m0 4v1m0 44v1m0 14v1m0 70v1m0 7v4m0 35v1m0 24v2m0 27v1m0 16v1m0 6v1m0 2v1m0 19v1"/><path class="k" d="M0 5v1m0 4v1m0 66v1m0 2v1m0 10v1m0 59v1m0 142v1m0 2v1m0 38v1m0 29v1m0 1v1"/><path class="l" d="M0 4v1m0 73v1m0 45v1m0 8v1m0 1v1m0 44v1m0 33v2m0 114v1m0 48v1m0 4v1"/><path class="m" d="M0 9v1m0 14v1m0 79v1m0 4v1m0 22v1m0 28v1m0 76v1m0 57v1m0 94v1m0 5v1"/><path class="n" d="M0 2v1m0 3v2m0 7v1m0 5v3m0 9v2m0 4v1m0 3v5m0 16v2m0 3v1m0 2v1m0 3v1m0 7v3m0 6v2m0 16v1m0 4v1m0 1v1m0 4v1m0 12v1m0 1v2m0 8v2m0 7v2m0 3v1m0 7v1m0 6v2m0 2v1m0 9v2m0 2v1m0 8v1m0 13v2m0 2v1m0 3v3m0 6v1m0 1v1m0 6v2m0 2v2m0 16v1m0 7v1m0 2v1m0 2v1m0 11v2m0 1v1m0 9v1m0 3v1m0 1v6m0 3v3m0 16v1m0 2v4m0 1v2m0 4v1m0 1v2m0 5v1m0 2v1m0 1v1m0 1v1m0 6v1m0 5v1m0 5v1m0 3v1m0 9v3"/><path class="o" d="M0 230v1m0 97v1m0 31v1m0 13v1"/><path class="p" d="M0 12v1m0 57v2m0 25v1m0 3v1m0 10v1m0 32v1m0 28v1m0 8v1m0 56v1m0 13v1m0 49v1m0 78v1"/><path class="q" d="M0 25v1m0 176v1m0 8v1m0 74v1m0 86v1"/><path class="r" d="M0 3v1m0 4v1m0 8v1m0 23v1m0 65v2m0 10v1m0 10v1m0 13v1m0 40v1m0 20v1m0 34v1m0 13v1m0 1v1m0 10v1m0 1v1m0 12v1m0 4v1m0 28v2m0 70v1m0 6v1"/><path class="s" d="M0 0v1m0 10v1m0 14v1m0 32v1m0 38v1m0 202v1m0 30v1"/><path class="t" d="M0 36v1m0 23v1m0 92v1m0 30v1m0 16v1m0 10v1m0 19v1m0 57v1m0 42v1m0 4v1m0 59v1"/><path class="u" d="M0 128v1m0 100v1"/><path class="v" d="M0 1v1m0 25v2m0 13v1m0 12v2m0 42v1m0 71v2m0 14v1m0 28v1m0 25v2m0 12v1m0 30v1m0 14v1m0 28v1m0 25v2m0 13v1m0 13v2"/><path class="w" d="M0 19v1m0 12v1m0 2v1m0 26v2m0 10v1m0 6v1m0 14v1m0 5v1m0 2v1m0 9v1m0 5v1m0 15v1m0 3v1m0 4v2m0 16v2m0 24v1m0 3v1m0 1v1m0 8v1m0 11v1m0 28v1m0 3v3m0 19v1m0 8v1m0 41v2m0 12v1m0 2v2m0 33v1m0 4v1m0 19v1m0 4v1"/><path class="x" d="M0 110v1m0 20v1m0 28v1m0 7v1m0 56v1m0 13v1m0 150v1"/></g>
<g id="s23"><path class="a" d="M0 4v1m0 1v1m0 15v1m0 22v1m0 1v1m0 1v1m0 8v1m0 35v2m0 2v1m0 7v1m0 14v1m0 12v1m0 2v2m0 4v3m0 1v1m0 2v1m0 8v2m0 10v1m0 1v1m0 15v1m0 11v1m0 3v1m0 5v1m0 15v1m0 19v1m0 44v1m0 20v1m0 5v1m0 4v1m0 31v1m0 7v3m0 17v1m0 8v1m0 7v1m0 2v1"/><path class="b" d="M0 72v1m0 24v1m0 28v1m0 2v1m0 26v1m0 12v1m0 17v1m0 83v1m0 15v1m0 40v1"/><path class="d" d="M0 0v1m0 72v1m0 51v1m0 4v1m0 24v1m0 12v1m0 47v1m0 53v1m0 17v1m0 29v1"/><path class="e" d="M0 12v1m0 7v1m0 59v1m0 21v1m0 25v1m0 3v1m0 24v2m0 8v1m0 10v1m0 13v1m0 49v3m0 4v1m0 9v1m0 71v1m0 3v1m0 22v1"/><path class="f" d="M0 1v1m0 12v1m0 139v1m0 43v1m0 113v1m0 32v1"/><path class="g" d="M0 8v1m0 6v1m0 7v1m0 8v1m0 33v1m0 12v1m0 7v1m0 3v1m0 13v1m0 13v1m0 42v1m0 66v1m0 47v1m0 58v1m0 15v1m0 41v1"/><path class="h" d="M0 38v1m0 28v1m0 32v1m0 17v1m0 102v1m0 8v1m0 2v1m0 14v1m0 41v1"/><path class="i" d="M0 316v1"/><path class="j" d="M0 19v1m0 5v1m0 5v1m0 4v1m0 3v1m0 10v1m0 12v1m0 52v1m0 5v1m0 42v1m0 14v1m0 26v1m0 9v2m0 30v1m0 16v1m0 23v1m0 23v1m0 38v2m0 6v1m0 14v1m0 3v1"/><path class="k" d="M0 5v1m0 42v1m0 127v1m0 75v1m0 54v1m0 1v1m0 28v1m0 39v1"/><path class="l" d="M0 2v1m0 18v1m0 13v1m0 54v1m0 17v1m0 11v1m0 1v1m0 13v1m0 72v1m0 153v1"/><path class="m" d="M0 81v1m0 22v1m0 4v1m0 114v1m0 79v1m0 6v1m0 13v1m0 56v1m0 8v1m0 5v1"/><path class="n" d="M0 33v1m0 9v2m0 1v1m0 3v1m0 2v2m0 4v3m0 3v1m0 4v2m0 3v4m0 10v1m0 21v5m0 25v2m0 5v2m0 2v1m0 8v1m0 2v2m0 4v1m0 3v2m0 1v1m0 1v1m0 10v2m0 2v1m0 1v1m0 2v2m0 5v2m0 2v1m0 2v1m0 3v1m0 2v1m0 1v2m0 2v1m0 7v2m0 1v1m0 13v1m0 1v1m0 1v2m0 4v1m0 4v1m0 5v5m0 1v3m0 1v1m0 6v1m0 4v4m0 7v2m0 3v1m0 9v3m0 14v1m0 2v1m0 6v1m0 1v2m0 10v1m0 5v4m0 2v3m0 4v1m0 4v5m0 2v1m0 12v1"/><path class="o" d="M0 41v1m0 140v1m0 2v1m0 2v1m0 138v1"/><path class="p" d="M0 10v1m0 5v1m0 20v1m0 50v1m0 38v1m0 11v1m0 13v1m0 43v1m0 5v1m0 56v1m0 7v1m0 14v1m0 14v1m0 33v1m0 8v1m0 15v1m0 2v1"/><path class="q" d="M0 215v1"/><path class="r" d="M0 3v1m0 7v1m0 22v1m0 34v1m0 26v1m0 10v1m0 32v1m0 99v1m0 21v1m0 21v1m0 14v1m0 39v1m0 3v1m0 15v1m0 43v1"/><path class="s" d="M0 27v2m0 27v1m0 29v1m0 115v1m0 29v1m0 139v1m0 17v1m0 9v1m0 1v1"/><path class="t" d="M0 68v1m0 62v1m0 1v1m0 12v1m0 57v1m0 33v2m0 29v1m0 23v1m0 48v1m0 10v1m0 41v1"/><path class="u" d="M0 42v1m0 143v1"/><path class="v" d="M0 13v1m0 12v1m0 2v1m0 25v1m0 43v1m0 1v1m0 112v1m0 13v1m0 2v1m0 25v2m0 26v2m0 13v2m0 27v2m0 15v1m0 24v1m0 27v1"/><path class="w" d="M0 7v1m0 9v2m0 11v1m0 8v1m0 12v1m0 4v1m0 4v1m0 11v1m0 8v3m0 7v1m0 22v1m0 18v1m0 15v1m0 11v1m0 8v1m0 7v1m0 3v1m0 10v1m0 16v1m0 28v1m0 3v2m0 7v1m0 8v3m0 15v1m0 20v1m0 11v1m0 8v1m0 9v2m0 9v1m0 3v1m0 47v1"/><path class="x" d="M0 9v1m0 14v1m0 57v1m0 20v1m0 6v1m0 13v1m0 58v1m0 41v1m0 77v1m0 22v1m0 49v1m0 6v1m0 14v1"/></g></defs>
<g clip-path="url(#c)">
<rect x="221" y="63" width="718" height="749" fill="#30123b"/>
<g fill="none" clip-path="url(#ct)"><use href="#p18" x="223.5" y="47" stroke-opacity=".13"/>
<use href="#p18" x="224.5" y="47" stroke-opacity=".8"/>
<use href="#p23" x="227.5" y="47" stroke-opacity=".44"/>
<use href="#p23" x="228.5" y="47" stroke-opacity=".46"/>
<use href="#p11" x="231.5" y="47" stroke-opacity=".8"/>
<use href="#p11" x="232.5" y="47" stroke-opacity=".13"/>
<use href="#p3" x="235.5" y="47" stroke-opacity=".97"/>
<use href="#p9" x="238.5" y="47" stroke-opacity=".16"/>
<use href="#p9" x="239.5" y="47" stroke-opacity=".76"/>
<use href="#p6" x="242.5" y="47" stroke-opacity=".51"/>
<use href="#p6" x="243.5" y="47" stroke-opacity=".4"/>
<use href="#p7" x="246.5" y="47" stroke-opacity=".84"/>
<use href="#p7" x="247.5" y="47" stroke-opacity=".09"/>
<use href="#p17" x="250.5" y="47" stroke-opacity=".96"/>
<use href="#p1" x="253.5" y="47" stroke-opacity=".21"/>
<use href="#p1" x="254.5" y="47" stroke-opacity=".7"/>
<use href="#p19" x="257.5" y="47" stroke-opacity=".56"/>
<use href="#p19" x="258.5" y="47" stroke-opacity=".34"/>
<use href="#p12" x="261.5" y="47" stroke-opacity=".88"/>
<use href="#p12" x="262.5" y="47" stroke-opacity=".06"/>
<use href="#p22" x="264.5" y="47" stroke-opacity=".02"/>
<use href="#p22" x="265.5" y="47" stroke-opacity=".93"/>
<use href="#p16" x="268.5" y="47" stroke-opacity=".26"/>
<use href="#p16" x="269.5" y="47" stroke-opacity=".65"/>
<use href="#p2" x="272.5" y="47" stroke-opacity=".63"/>
<use href="#p2" x="273.5" y="47" stroke-opacity=".29"/>
<use href="#p4" x="276.5" y="47" stroke-opacity=".92"/>
<use href="#p4" x="277.5" y="47" stroke-opacity=".03"/>
<use href="#p20" x="279.5" y="47" stroke-opacity=".05"/>
<use href="#p20" x="280.5" y="47" stroke-opacity=".9"/>
<use href="#p15" x="283.5" y="47" stroke-opacity=".32"/>
<use href="#p15" x="284.5" y="47" stroke-opacity=".59"/>
<use href="#p10" x="287.5" y="47" stroke-opacity=".68"/>
<use href="#p10" x="288.5" y="47" stroke-opacity=".23"/>
<use href="#p13" x="291.5" y="47" stroke-opacity=".95"/>
<use href="#p13" x="292.5" y="47" stroke-opacity=".02"/>
<use href="#p0" x="294.5" y="47" stroke-opacity=".08"/>
<use href="#p0" x="295.5" y="47" stroke-opacity=".86"/>
<use href="#p5" x="298.5" y="47" stroke-opacity=".38"/>
<use href="#p5" x="299.5" y="47" stroke-opacity=".53"/>
<use href="#p21" x="302.5" y="47" stroke-opacity=".73"/>
<use href="#p21" x="303.5" y="47" stroke-opacity=".19"/>
<use href="#p14" x="306.5" y="47" stroke-opacity=".97"/>
<use href="#p8" x="309.5" y="47" stroke-opacity=".11"/>
<use href="#p8" x="310.5" y="47" stroke-opacity=".81"/>
<use href="#p22" x="313.5" y="44" stroke-opacity=".43"/>
<use href="#p22" x="314.5" y="44" stroke-opacity=".48"/>
<use href="#p9" x="317.5" y="61" stroke-opacity=".78"/>
<use href="#p9" x="318.5" y="61" stroke-opacity=".14"/>
<use href="#p23" x="321.5" y="50" stroke-opacity=".98"/>
<use href="#p0" x="324.5" y="62" stroke-opacity=".16"/>
<use href="#p0" x="325.5" y="62" stroke-opacity=".77"/>
<use href="#p18" x="328.5" y="55" stroke-opacity=".49"/>
<use href="#p18" x="329.5" y="55" stroke-opacity=".41"/>
<use href="#p6" x="332.5" y="50" stroke-opacity=".83"/>
<use href="#p6" x="333.5" y="50" stroke-opacity=".1"/>
<use href="#p2" x="336.5" y="47" stroke-opacity=".97"/>
<use href="#p17" x="339.5" y="37" stroke-opacity=".2"/>
<use href="#p17" x="340.5" y="37" stroke-opacity=".71"/>
<use href="#p21" x="343.5" y="53" stroke-opacity=".55"/>
<use href="#p21" x="344.5" y="53" stroke-opacity=".36"/>
<use href="#p5" x="347.5" y="57" stroke-opacity=".88"/>
<use href="#p5" x="348.5" y="57" stroke-opacity=".07"/>
<use href="#p4" x="350.5" y="54" stroke-opacity=".02"/>
<use href="#p4" x="351.5" y="54" stroke-opacity=".94"/>
<use href="#p8" x="354.5" y="44" stroke-opacity=".25"/>
<use href="#p8" x="355.5" y="44" stroke-opacity=".67"/>
<use href="#p20" x="358.5" y="31" stroke-opacity=".61"/>
<use href="#p20" x="359.5" y="31" stroke-opacity=".3"/>
<use href="#p7" x="362.5" y="55" stroke-opacity=".91"/>
<use href="#p7" x="363.5" y="55" stroke-opacity=".04"/>
<use href="#p3" x="365.5" y="32" stroke-opacity=".04"/>
<use href="#p3" x="366.5" y="32" stroke-opacity=".91"/>
<use href="#p12" x="369.5" y="57" stroke-opacity=".31"/>
<use href="#p12" x="370.5" y="57" stroke-opacity=".6"/>
<use href="#p15" x="373.5" y="35" stroke-opacity=".67"/>
<use href="#p15" x="374.5" y="35" stroke-opacity=".25"/>
<use href="#p10" x="377.5" y="41" stroke-opacity=".94"/>
<use href="#p10" x="378.5" y="41" stroke-opacity=".02"/>
<use href="#p11" x="380.5" y="38" stroke-opacity=".07"/>
<use href="#p11" x="381.5" y="38" stroke-opacity=".87"/>
<use href="#p13" x="384.5" y="48" stroke-opacity=".36"/>
<use href="#p13" x="385.5" y="48" stroke-opacity=".54"/>
<use href="#p19" x="388.5" y="37" stroke-opacity=".71"/>
<use href="#p19" x="389.5" y="37" stroke-opacity=".2"/>
<use href="#p16" x="392.5" y="39" stroke-opacity=".97"/>
<use href="#p14" x="395.5" y="32" stroke-opacity=".1"/>
<use href="#p14" x="396.5" y="32" stroke-opacity=".83"/>
<use href="#p1" x="399.5" y="63" stroke-opacity=".42"/>
<use href="#p1" x="400.5" y="63" stroke-opacity=".49"/>
<use href="#p5" x="403.5" y="38" stroke-opacity=".77"/>
<use href="#p5" x="404.5" y="38" stroke-opacity=".15"/>
<use href="#p4" x="407.5" y="37" stroke-opacity=".98"/>
<use href="#p19" x="410.5" y="50" stroke-opacity=".14"/>
<use href="#p19" x="411.5" y="50" stroke-opacity=".78"/>
<use href="#p7" x="414.5" y="35" stroke-opacity=".48"/>
<use href="#p7" x="415.5" y="35" stroke-opacity=".43"/>
<use href="#p12" x="418.5" y="60" stroke-opacity=".82"/>
<use href="#p12" x="419.5" y="60" stroke-opacity=".11"/>
<use href="#p8" x="422.5" y="56" stroke-opacity=".97"/>
<use href="#p11" x="425.5" y="42" stroke-opacity=".19"/>
<use href="#p11" x="426.5" y="42" stroke-opacity=".73"/>
<use href="#p1" x="429.5" y="44" stroke-opacity=".53"/>
<use href="#p1" x="430.5" y="44" stroke-opacity=".37"/>
<use href="#p14" x="433.5" y="43" stroke-opacity=".86"/>
<use href="#p14" x="434.5" y="43" stroke-opacity=".07"/>
<use href="#p3" x="436.5" y="55" stroke-opacity=".02"/>
<use href="#p3" x="437.5" y="55" stroke-opacity=".95"/>
<use href="#p23" x="440.5" y="44" stroke-opacity=".24"/>
<use href="#p23" x="441.5" y="44" stroke-opacity=".68"/>
<use href="#p16" x="444.5" y="40" stroke-opacity=".59"/>
<use href="#p16" x="445.5" y="40" stroke-opacity=".31"/>
<use href="#p17" x="448.5" y="53" stroke-opacity=".9"/>
<use href="#p17" x="449.5" y="53" stroke-opacity=".05"/>
<use href="#p10" x="451.5" y="35" stroke-opacity=".04"/>
<use href="#p10" x="452.5" y="35" stroke-opacity=".92"/>
<use href="#p6" x="455.5" y="56" stroke-opacity=".29"/>
<use href="#p6" x="456.5" y="56" stroke-opacity=".61"/>
<use href="#p9" x="459.5" y="45" stroke-opacity=".65"/>
<use href="#p9" x="460.5" y="45" stroke-opacity=".26"/>
<use href="#p0" x="463.5" y="62" stroke-opacity=".94"/>
<use href="#p0" x="464.5" y="62" stroke-opacity=".02"/>
<use href="#p2" x="466.5" y="39" stroke-opacity=".06"/>
<use href="#p2" x="467.5" y="39" stroke-opacity=".88"/>
<use href="#p22" x="470.5" y="43" stroke-opacity=".34"/>
<use href="#p22" x="471.5" y="43" stroke-opacity=".56"/>
<use href="#p18" x="474.5" y="59" stroke-opacity=".7"/>
<use href="#p18" x="475.5" y="59" stroke-opacity=".21"/>
<use href="#p21" x="478.5" y="54" stroke-opacity=".96"/>
<use href="#p20" x="481.5" y="32" stroke-opacity=".09"/>
<use href="#p20" x="482.5" y="32" stroke-opacity=".84"/>
<use href="#p15" x="485.5" y="42" stroke-opacity=".4"/>
<use href="#p15" x="486.5" y="42" stroke-opacity=".5"/>
<use href="#p13" x="489.5" y="31" stroke-opacity=".76"/>
<use href="#p13" x="490.5" y="31" stroke-opacity=".16"/>
<use href="#p13" x="493.5" y="58" stroke-opacity=".97"/>
<use href="#p0" x="496.5" y="44" stroke-opacity=".13"/>
<use href="#p0" x="497.5" y="44" stroke-opacity=".79"/>
<use href="#p18" x="500.5" y="38" stroke-opacity=".46"/>
<use href="#p18" x="501.5" y="38" stroke-opacity=".44"/>
<use href="#p10" x="504.5" y="54" stroke-opacity=".8"/>
<use href="#p10" x="505.5" y="54" stroke-opacity=".12"/>
<use href="#p2" x="508.5" y="59" stroke-opacity=".97"/>
<use href="#p21" x="511.5" y="34" stroke-opacity=".18"/>
<use href="#p21" x="512.5" y="34" stroke-opacity=".74"/>
<use href="#p1" x="515.5" y="47" stroke-opacity=".52"/>
<use href="#p1" x="516.5" y="47" stroke-opacity=".39"/>
<use href="#p4" x="519.5" y="43" stroke-opacity=".85"/>
<use href="#p4" x="520.5" y="43" stroke-opacity=".08"/>
<use href="#p5" x="523.5" y="54" stroke-opacity=".96"/>
<use href="#p14" x="526.5" y="61" stroke-opacity=".23"/>
<use href="#p14" x="527.5" y="61" stroke-opacity=".69"/>
<use href="#p15" x="530.5" y="48" stroke-opacity=".58"/>
<use href="#p15" x="531.5" y="48" stroke-opacity=".33"/>
<use href="#p7" x="534.5" y="55" stroke-opacity=".89"/>
<use href="#p7" x="535.5" y="55" stroke-opacity=".05"/>
<use href="#p9" x="537.5" y="41" stroke-opacity=".03"/>
<use href="#p9" x="538.5" y="41" stroke-opacity=".93"/>
<use href="#p6" x="541.5" y="50" stroke-opacity=".28"/>
<use href="#p6" x="542.5" y="50" stroke-opacity=".63"/>
<use href="#p17" x="545.5" y="47" stroke-opacity=".63"/>
<use href="#p17" x="546.5" y="47" stroke-opacity=".28"/>
<use href="#p19" x="549.5" y="55" stroke-opacity=".93"/>
<use href="#p19" x="550.5" y="55" stroke-opacity=".03"/>
<use href="#p23" x="552.5" y="32" stroke-opacity=".05"/>
<use href="#p23" x="553.5" y="32" stroke-opacity=".89"/>
<use href="#p22" x="556.5" y="38" stroke-opacity=".33"/>
<use href="#p22" x="557.5" y="38" stroke-opacity=".58"/>
<use href="#p11" x="560.5" y="32" stroke-opacity=".69"/>
<use href="#p11" x="561.5" y="32" stroke-opacity=".22"/>
<use href="#p16" x="564.5" y="63" stroke-opacity=".96"/>
<use href="#p8" x="567.5" y="48" stroke-opacity=".08"/>
<use href="#p8" x="568.5" y="48" stroke-opacity=".85"/>
<use href="#p20" x="571.5" y="47" stroke-opacity=".39"/>
<use href="#p20" x="572.5" y="47" stroke-opacity=".52"/>
<use href="#p12" x="575.5" y="46" stroke-opacity=".75"/>
<use href="#p12" x="576.5" y="46" stroke-opacity=".17"/>
<use href="#p3" x="579.5" y="32" stroke-opacity=".97"/>
<use href="#q0" x="580.5" y="47" stroke-opacity=".97"/>
<use href="#q11" x="583.5" y="47" stroke-opacity=".19"/>
<use href="#q11" x="584.5" y="47" stroke-opacity=".72"/>
<use href="#q20" x="587.5" y="47" stroke-opacity=".54"/>
<use href="#q20" x="588.5" y="47" stroke-opacity=".37"/>
<use href="#q7" x="591.5" y="47" stroke-opacity=".86"/>
<use href="#q7" x="592.5" y="47" stroke-opacity=".07"/>
<use href="#q2" x="594.5" y="47" stroke-opacity=".02"/>
<use href="#q2" x="595.5" y="47" stroke-opacity=".95"/>
<use href="#q5" x="598.5" y="47" stroke-opacity=".24"/>
<use href="#q5" x="599.5" y="47" stroke-opacity=".67"/>
<use href="#q21" x="602.5" y="47" stroke-opacity=".6"/>
<use href="#q21" x="603.5" y="47" stroke-opacity=".31"/>
<use href="#q15" x="606.5" y="47" stroke-opacity=".9"/>
<use href="#q15" x="607.5" y="47" stroke-opacity=".04"/>
<use href="#q17" x="609.5" y="47" stroke-opacity=".04"/>
<use href="#q17" x="610.5" y="47" stroke-opacity=".92"/>
<use href="#q16" x="613.5" y="47" stroke-opacity=".3"/>
<use href="#q16" x="614.5" y="47" stroke-opacity=".61"/>
<use href="#q3" x="617.5" y="47" stroke-opacity=".66"/>
<use href="#q3" x="618.5" y="47" stroke-opacity=".26"/>
<use href="#q22" x="621.5" y="47" stroke-opacity=".94"/>
<use href="#q22" x="622.5" y="47" stroke-opacity=".02"/>
<use href="#q18" x="624.5" y="47" stroke-opacity=".06"/>
<use href="#q18" x="625.5" y="47" stroke-opacity=".88"/>
<use href="#q9" x="628.5" y="47" stroke-opacity=".35"/>
<use href="#q9" x="629.5" y="47" stroke-opacity=".56"/>
<use href="#q14" x="632.5" y="47" stroke-opacity=".7"/>
<use href="#q14" x="633.5" y="47" stroke-opacity=".21"/>
<use href="#q10" x="636.5" y="47" stroke-opacity=".96"/>
<use href="#q8" x="639.5" y="47" stroke-opacity=".1"/>
<use href="#q8" x="640.5" y="47" stroke-opacity=".84"/>
<use href="#q4" x="643.5" y="47" stroke-opacity=".4"/>
<use href="#q4" x="644.5" y="47" stroke-opacity=".5"/>
<use href="#q12" x="647.5" y="47" stroke-opacity=".77"/>
<use href="#q12" x="648.5" y="47" stroke-opacity=".16"/>
<use href="#q13" x="651.5" y="47" stroke-opacity=".98"/>
<use href="#q19" x="654.5" y="47" stroke-opacity=".14"/>
<use href="#q19" x="655.5" y="47" stroke-opacity=".79"/>
<use href="#q23" x="658.5" y="47" stroke-opacity=".47"/>
<use href="#q23" x="659.5" y="47" stroke-opacity=".44"/>
<use href="#q6" x="662.5" y="47" stroke-opacity=".81"/>
<use href="#q6" x="663.5" y="47" stroke-opacity=".12"/>
<use href="#q1" x="666.5" y="47" stroke-opacity=".97"/>
<use href="#q16" x="669.5" y="50" stroke-opacity=".18"/>
<use href="#q16" x="670.5" y="50" stroke-opacity=".74"/>
<use href="#q10" x="673.5" y="60" stroke-opacity=".52"/>
<use href="#q10" x="674.5" y="60" stroke-opacity=".38"/>
<use href="#q0" x="677.5" y="61" stroke-opacity=".86"/>
<use href="#q0" x="678.5" y="61" stroke-opacity=".08"/>
<use href="#q5" x="681.5" y="47" stroke-opacity=".95"/>
<use href="#q22" x="684.5" y="32" stroke-opacity=".23"/>
<use href="#q22" x="685.5" y="32" stroke-opacity=".68"/>
<use href="#q7" x="688.5" y="62" stroke-opacity=".58"/>
<use href="#q7" x="689.5" y="62" stroke-opacity=".32"/>
<use href="#q23" x="692.5" y="38" stroke-opacity=".89"/>
<use href="#q23" x="693.5" y="38" stroke-opacity=".05"/>
<use href="#q15" x="695.5" y="35" stroke-opacity=".03"/>
<use href="#q15" x="696.5" y="35" stroke-opacity=".93"/>
<use href="#q21" x="699.5" y="38" stroke-opacity=".28"/>
<use href="#q21" x="700.5" y="38" stroke-opacity=".63"/>
<use href="#q2" x="703.5" y="56" stroke-opacity=".64"/>
<use href="#q2" x="704.5" y="56" stroke-opacity=".27"/>
<use href="#q6" x="707.5" y="48" stroke-opacity=".93"/>
<use href="#q6" x="708.5" y="48" stroke-opacity=".03"/>
<use href="#q13" x="710.5" y="46" stroke-opacity=".06"/>
<use href="#q13" x="711.5" y="46" stroke-opacity=".89"/>
<use href="#q9" x="714.5" y="42" stroke-opacity=".33"/>
<use href="#q9" x="715.5" y="42" stroke-opacity=".57"/>
<use href="#q17" x="718.5" y="46" stroke-opacity=".69"/>
<use href="#q17" x="719.5" y="46" stroke-opacity=".22"/>
<use href="#q8" x="722.5" y="54" stroke-opacity=".96"/>
<use href="#q12" x="725.5" y="60" stroke-opacity=".08"/>
<use href="#q12" x="726.5" y="60" stroke-opacity=".85"/>
<use href="#q18" x="729.5" y="62" stroke-opacity=".4"/>
<use href="#q18" x="730.5" y="62" stroke-opacity=".52"/>
<use href="#q1" x="733.5" y="35" stroke-opacity=".75"/>
<use href="#q1" x="734.5" y="35" stroke-opacity=".17"/>
<use href="#q19" x="737.5" y="55" stroke-opacity=".97"/>
<use href="#q3" x="740.5" y="47" stroke-opacity=".13"/>
<use href="#q3" x="741.5" y="47" stroke-opacity=".8"/>
<use href="#q11" x="744.5" y="43" stroke-opacity=".45"/>
<use href="#q11" x="745.5" y="43" stroke-opacity=".45"/>
<use href="#q4" x="748.5" y="39" stroke-opacity=".8"/>
<use href="#q4" x="749.5" y="39" stroke-opacity=".13"/>
<use href="#q14" x="752.5" y="33" stroke-opacity=".97"/>
<use href="#q20" x="755.5" y="42" stroke-opacity=".17"/>
<use href="#q20" x="756.5" y="42" stroke-opacity=".75"/>
<use href="#q23" x="759.5" y="38" stroke-opacity=".51"/>
<use href="#q23" x="760.5" y="38" stroke-opacity=".4"/>
<use href="#q10" x="763.5" y="57" stroke-opacity=".85"/>
<use href="#q10" x="764.5" y="57" stroke-opacity=".09"/>
<use href="#q4" x="767.5" y="60" stroke-opacity=".96"/>
<use href="#q12" x="770.5" y="44" stroke-opacity=".22"/>
<use href="#q12" x="771.5" y="44" stroke-opacity=".7"/>
<use href="#q6" x="774.5" y="43" stroke-opacity=".57"/>
<use href="#q6" x="775.5" y="43" stroke-opacity=".34"/>
<use href="#q8" x="778.5" y="56" stroke-opacity=".89"/>
<use href="#q8" x="779.5" y="56" stroke-opacity=".06"/>
<use href="#q9" x="781.5" y="36" stroke-opacity=".03"/>
<use href="#q9" x="782.5" y="36" stroke-opacity=".93"/>
<use href="#q19" x="785.5" y="31" stroke-opacity=".26"/>
<use href="#q19" x="786.5" y="31" stroke-opacity=".65"/>
<use href="#q0" x="789.5" y="37" stroke-opacity=".63"/>
<use href="#q0" x="790.5" y="37" stroke-opacity=".29"/>
<use href="#q3" x="793.5" y="63" stroke-opacity=".93"/>
<use href="#q3" x="794.5" y="63" stroke-opacity=".03"/>
<use href="#q17" x="796.5" y="45" stroke-opacity=".05"/>
<use href="#q17" x="797.5" y="45" stroke-opacity=".9"/>
<use href="#q14" x="800.5" y="62" stroke-opacity=".32"/>
<use href="#q14" x="801.5" y="62" stroke-opacity=".59"/>
<use href="#q21" x="804.5" y="32" stroke-opacity=".68"/>
<use href="#q21" x="805.5" y="32" stroke-opacity=".23"/>
<use href="#q22" x="808.5" y="53" stroke-opacity=".95"/>
<use href="#q11" x="811.5" y="39" stroke-opacity=".08"/>
<use href="#q11" x="812.5" y="39" stroke-opacity=".86"/>
<use href="#q15" x="815.5" y="37" stroke-opacity=".38"/>
<use href="#q15" x="816.5" y="37" stroke-opacity=".52"/>
<use href="#q13" x="819.5" y="52" stroke-opacity=".74"/>
<use href="#q13" x="820.5" y="52" stroke-opacity=".18"/>
<use href="#q20" x="823.5" y="52" stroke-opacity=".97"/>
<use href="#q1" x="826.5" y="56" stroke-opacity=".12"/>
<use href="#q1" x="827.5" y="56" stroke-opacity=".81"/>
<use href="#q18" x="830.5" y="37" stroke-opacity=".43"/>
<use href="#q18" x="831.5" y="37" stroke-opacity=".47"/>
<use href="#q16" x="834.5" y="58" stroke-opacity=".78"/>
<use href="#q16" x="835.5" y="58" stroke-opacity=".14"/>
<use href="#q5" x="838.5" y="43" stroke-opacity=".98"/>
<use href="#q2" x="841.5" y="32" stroke-opacity=".16"/>
<use href="#q2" x="842.5" y="32" stroke-opacity=".77"/>
<use href="#q7" x="845.5" y="32" stroke-opacity=".5"/>
<use href="#q7" x="846.5" y="32" stroke-opacity=".41"/>
<use href="#q3" x="849.5" y="33" stroke-opacity=".84"/>
<use href="#q3" x="850.5" y="33" stroke-opacity=".1"/>
<use href="#q20" x="853.5" y="33" stroke-opacity=".96"/>
<use href="#q8" x="856.5" y="52" stroke-opacity=".21"/>
<use href="#q8" x="857.5" y="52" stroke-opacity=".71"/>
<use href="#q15" x="860.5" y="36" stroke-opacity=".56"/>
<use href="#q15" x="861.5" y="36" stroke-opacity=".35"/>
<use href="#q6" x="864.5" y="48" stroke-opacity=".88"/>
<use href="#q6" x="865.5" y="48" stroke-opacity=".06"/>
<use href="#q12" x="867.5" y="37" stroke-opacity=".02"/>
<use href="#q12" x="868.5" y="37" stroke-opacity=".94"/>
<use href="#q18" x="871.5" y="55" stroke-opacity=".26"/>
<use href="#q18" x="872.5" y="55" stroke-opacity=".66"/>
<use href="#q11" x="875.5" y="58" stroke-opacity=".61"/>
<use href="#q11" x="876.5" y="58" stroke-opacity=".3"/>
<use href="#q7" x="879.5" y="58" stroke-opacity=".92"/>
<use href="#q7" x="880.5" y="58" stroke-opacity=".04"/>
<use href="#q9" x="882.5" y="39" stroke-opacity=".04"/>
<use href="#q9" x="883.5" y="39" stroke-opacity=".91"/>
<use href="#q21" x="886.5" y="45" stroke-opacity=".31"/>
<use href="#q21" x="887.5" y="45" stroke-opacity=".6"/>
<use href="#q5" x="890.5" y="58" stroke-opacity=".67"/>
<use href="#q5" x="891.5" y="58" stroke-opacity=".24"/>
<use href="#q23" x="894.5" y="57" stroke-opacity=".94"/>
<use href="#q23" x="895.5" y="57" stroke-opacity=".02"/>
<use href="#q19" x="897.5" y="31" stroke-opacity=".07"/>
<use href="#q19" x="898.5" y="31" stroke-opacity=".87"/>
<use href="#q13" x="901.5" y="52" stroke-opacity=".37"/>
<use href="#q13" x="902.5" y="52" stroke-opacity=".54"/>
<use href="#q2" x="905.5" y="32" stroke-opacity=".72"/>
<use href="#q2" x="906.5" y="32" stroke-opacity=".2"/>
<use href="#q0" x="909.5" y="51" stroke-opacity=".97"/>
<use href="#q22" x="912.5" y="33" stroke-opacity=".11"/>
<use href="#q22" x="913.5" y="33" stroke-opacity=".83"/>
<use href="#q1" x="916.5" y="50" stroke-opacity=".42"/>
<use href="#q1" x="917.5" y="50" stroke-opacity=".49"/>
<use href="#q14" x="920.5" y="61" stroke-opacity=".77"/>
<use href="#q14" x="921.5" y="61" stroke-opacity=".15"/>
<use href="#q4" x="924.5" y="44" stroke-opacity=".98"/>
<use href="#q17" x="927.5" y="57" stroke-opacity=".14"/>
<use href="#q17" x="928.5" y="57" stroke-opacity=".78"/>
<use href="#q10" x="931.5" y="40" stroke-opacity=".48"/>
<use href="#q10" x="932.5" y="40" stroke-opacity=".42"/>
<use href="#q16" x="935.5" y="31" stroke-opacity=".83"/>
<use href="#q16" x="936.5" y="31" stroke-opacity=".11"/></g>
<g fill="none" clip-path="url(#cb)"><use href="#r19" x="223.5" y="421" stroke-opacity=".13"/>
<use href="#r19" x="224.5" y="421" stroke-opacity=".8"/>
<use href="#r12" x="227.5" y="421" stroke-opacity=".44"/>
<use href="#r12" x="228.5" y="421" stroke-opacity=".46"/>
<use href="#r0" x="231.5" y="421" stroke-opacity=".8"/>
<use href="#r0" x="232.5" y="421" stroke-opacity=".13"/>
<use href="#r2" x="235.5" y="421" stroke-opacity=".97"/>
<use href="#r15" x="238.5" y="421" stroke-opacity=".16"/>
<use href="#r15" x="239.5" y="421" stroke-opacity=".76"/>
<use href="#r6" x="242.5" y="421" stroke-opacity=".51"/>
<use href="#r6" x="243.5" y="421" stroke-opacity=".4"/>
<use href="#r5" x="246.5" y="421" stroke-opacity=".84"/>
<use href="#r5" x="247.5" y="421" stroke-opacity=".09"/>
<use href="#r18" x="250.5" y="421" stroke-opacity=".96"/>
<use href="#r21" x="253.5" y="421" stroke-opacity=".21"/>
<use href="#r21" x="254.5" y="421" stroke-opacity=".7"/>
<use href="#r23" x="257.5" y="421" stroke-opacity=".56"/>
<use href="#r23" x="258.5" y="421" stroke-opacity=".34"/>
<use href="#r14" x="261.5" y="421" stroke-opacity=".88"/>
<use href="#r14" x="262.5" y="421" stroke-opacity=".06"/>
<use href="#r9" x="264.5" y="421" stroke-opacity=".02"/>
<use href="#r9" x="265.5" y="421" stroke-opacity=".93"/>
<use href="#r3" x="268.5" y="421" stroke-opacity=".26"/>
<use href="#r3" x="269.5" y="421" stroke-opacity=".65"/>
<use href="#r20" x="272.5" y="421" stroke-opacity=".63"/>
<use href="#r20" x="273.5" y="421" stroke-opacity=".29"/>
<use href="#r8" x="276.5" y="421" stroke-opacity=".92"/>
<use href="#r8" x="277.5" y="421" stroke-opacity=".03"/>
<use href="#r22" x="279.5" y="421" stroke-opacity=".05"/>
<use href="#r22" x="280.5" y="421" stroke-opacity=".9"/>
<use href="#r11" x="283.5" y="421" stroke-opacity=".32"/>
<use href="#r11" x="284.5" y="421" stroke-opacity=".59"/>
<use href="#r17" x="287.5" y="421" stroke-opacity=".68"/>
<use href="#r17" x="288.5" y="421" stroke-opacity=".23"/>
<use href="#r16" x="291.5" y="421" stroke-opacity=".95"/>
<use href="#r16" x="292.5" y="421" stroke-opacity=".02"/>
<use href="#r1" x="294.5" y="421" stroke-opacity=".08"/>
<use href="#r1" x="295.5" y="421" stroke-opacity=".86"/>
<use href="#r4" x="298.5" y="421" stroke-opacity=".38"/>
<use href="#r4" x="299.5" y="421" stroke-opacity=".53"/>
<use href="#r10" x="302.5" y="421" stroke-opacity=".73"/>
<use href="#r10" x="303.5" y="421" stroke-opacity=".19"/>
<use href="#r13" x="306.5" y="421" stroke-opacity=".97"/>
<use href="#r7" x="309.5" y="421" stroke-opacity=".11"/>
<use href="#r7" x="310.5" y="421" stroke-opacity=".81"/>
<use href="#r8" x="313.5" y="435" stroke-opacity=".43"/>
<use href="#r8" x="314.5" y="435" stroke-opacity=".48"/>
<use href="#r5" x="317.5" y="423" stroke-opacity=".78"/>
<use href="#r5" x="318.5" y="423" stroke-opacity=".14"/>
<use href="#r15" x="321.5" y="434" stroke-opacity=".98"/>
<use href="#r10" x="324.5" y="424" stroke-opacity=".16"/>
<use href="#r10" x="325.5" y="424" stroke-opacity=".77"/>
<use href="#r0" x="328.5" y="424" stroke-opacity=".49"/>
<use href="#r0" x="329.5" y="424" stroke-opacity=".41"/>
<use href="#r9" x="332.5" y="434" stroke-opacity=".83"/>
<use href="#r9" x="333.5" y="434" stroke-opacity=".1"/>
<use href="#r1" x="336.5" y="416" stroke-opacity=".97"/>
<use href="#r20" x="339.5" y="414" stroke-opacity=".2"/>
<use href="#r20" x="340.5" y="414" stroke-opacity=".71"/>
<use href="#r2" x="343.5" y="424" stroke-opacity=".55"/>
<use href="#r2" x="344.5" y="424" stroke-opacity=".36"/>
<use href="#r11" x="347.5" y="405" stroke-opacity=".88"/>
<use href="#r11" x="348.5" y="405" stroke-opacity=".07"/>
<use href="#r19" x="350.5" y="416" stroke-opacity=".02"/>
<use href="#r19" x="351.5" y="416" stroke-opacity=".94"/>
<use href="#r16" x="354.5" y="412" stroke-opacity=".25"/>
<use href="#r16" x="355.5" y="412" stroke-opacity=".67"/>
<use href="#r4" x="358.5" y="405" stroke-opacity=".61"/>
<use href="#r4" x="359.5" y="405" stroke-opacity=".3"/>
<use href="#r18" x="362.5" y="420" stroke-opacity=".91"/>
<use href="#r18" x="363.5" y="420" stroke-opacity=".04"/>
<use href="#r6" x="365.5" y="423" stroke-opacity=".04"/>
<use href="#r6" x="366.5" y="423" stroke-opacity=".91"/>
<use href="#r14" x="369.5" y="410" stroke-opacity=".31"/>
<use href="#r14" x="370.5" y="410" stroke-opacity=".6"/>
<use href="#r12" x="373.5" y="423" stroke-opacity=".67"/>
<use href="#r12" x="374.5" y="423" stroke-opacity=".25"/>
<use href="#r22" x="377.5" y="414" stroke-opacity=".94"/>
<use href="#r22" x="378.5" y="414" stroke-opacity=".02"/>
<use href="#r3" x="380.5" y="410" stroke-opacity=".07"/>
<use href="#r3" x="381.5" y="410" stroke-opacity=".87"/>
<use href="#r17" x="384.5" y="429" stroke-opacity=".36"/>
<use href="#r17" x="385.5" y="429" stroke-opacity=".54"/>
<use href="#r23" x="388.5" y="420" stroke-opacity=".71"/>
<use href="#r23" x="389.5" y="420" stroke-opacity=".2"/>
<use href="#r21" x="392.5" y="417" stroke-opacity=".97"/>
<use href="#r13" x="395.5" y="436" stroke-opacity=".1"/>
<use href="#r13" x="396.5" y="436" stroke-opacity=".83"/>
<use href="#r7" x="399.5" y="416" stroke-opacity=".42"/>
<use href="#r7" x="400.5" y="416" stroke-opacity=".49"/>
<use href="#r0" x="403.5" y="433" stroke-opacity=".77"/>
<use href="#r0" x="404.5" y="433" stroke-opacity=".15"/>
<use href="#r10" x="407.5" y="412" stroke-opacity=".98"/>
<use href="#r4" x="410.5" y="425" stroke-opacity=".14"/>
<use href="#r4" x="411.5" y="425" stroke-opacity=".78"/>
<use href="#r5" x="414.5" y="422" stroke-opacity=".48"/>
<use href="#r5" x="415.5" y="422" stroke-opacity=".43"/>
<use href="#r14" x="418.5" y="410" stroke-opacity=".82"/>
<use href="#r14" x="419.5" y="410" stroke-opacity=".11"/>
<use href="#r11" x="422.5" y="437" stroke-opacity=".97"/>
<use href="#r8" x="425.5" y="436" stroke-opacity=".19"/>
<use href="#r8" x="426.5" y="436" stroke-opacity=".73"/>
<use href="#r16" x="429.5" y="410" stroke-opacity=".53"/>
<use href="#r16" x="430.5" y="410" stroke-opacity=".37"/>
<use href="#r3" x="433.5" y="416" stroke-opacity=".86"/>
<use href="#r3" x="434.5" y="416" stroke-opacity=".07"/>
<use href="#r18" x="436.5" y="432" stroke-opacity=".02"/>
<use href="#r18" x="437.5" y="432" stroke-opacity=".95"/>
<use href="#r22" x="440.5" y="408" stroke-opacity=".24"/>
<use href="#r22" x="441.5" y="408" stroke-opacity=".68"/>
<use href="#r13" x="444.5" y="430" stroke-opacity=".59"/>
<use href="#r13" x="445.5" y="430" stroke-opacity=".31"/>
<use href="#r12" x="448.5" y="414" stroke-opacity=".9"/>
<use href="#r12" x="449.5" y="414" stroke-opacity=".05"/>
<use href="#r23" x="451.5" y="424" stroke-opacity=".04"/>
<use href="#r23" x="452.5" y="424" stroke-opacity=".92"/>
<use href="#r17" x="455.5" y="421" stroke-opacity=".29"/>
<use href="#r17" x="456.5" y="421" stroke-opacity=".61"/>
<use href="#r6" x="459.5" y="422" stroke-opacity=".65"/>
<use href="#r6" x="460.5" y="422" stroke-opacity=".26"/>
<use href="#r15" x="463.5" y="414" stroke-opacity=".94"/>
<use href="#r15" x="464.5" y="414" stroke-opacity=".02"/>
<use href="#r21" x="466.5" y="422" stroke-opacity=".06"/>
<use href="#r21" x="467.5" y="422" stroke-opacity=".88"/>
<use href="#r7" x="470.5" y="422" stroke-opacity=".34"/>
<use href="#r7" x="471.5" y="422" stroke-opacity=".56"/>
<use href="#r9" x="474.5" y="408" stroke-opacity=".7"/>
<use href="#r9" x="475.5" y="408" stroke-opacity=".21"/>
<use href="#r20" x="478.5" y="429" stroke-opacity=".96"/>
<use href="#r1" x="481.5" y="423" stroke-opacity=".09"/>
<use href="#r1" x="482.5" y="423" stroke-opacity=".84"/>
<use href="#r2" x="485.5" y="420" stroke-opacity=".4"/>
<use href="#r2" x="486.5" y="420" stroke-opacity=".5"/>
<use href="#r19" x="489.5" y="437" stroke-opacity=".76"/>
<use href="#r19" x="490.5" y="437" stroke-opacity=".16"/>
<use href="#r4" x="493.5" y="413" stroke-opacity=".97"/>
<use href="#r2" x="496.5" y="429" stroke-opacity=".13"/>
<use href="#r2" x="497.5" y="429" stroke-opacity=".79"/>
<use href="#r5" x="500.5" y="410" stroke-opacity=".46"/>
<use href="#r5" x="501.5" y="410" stroke-opacity=".44"/>
<use href="#r22" x="504.5" y="420" stroke-opacity=".8"/>
<use href="#r22" x="505.5" y="420" stroke-opacity=".12"/>
<use href="#r17" x="508.5" y="434" stroke-opacity=".97"/>
<use href="#r12" x="511.5" y="419" stroke-opacity=".18"/>
<use href="#r12" x="512.5" y="419" stroke-opacity=".74"/>
<use href="#r9" x="515.5" y="419" stroke-opacity=".52"/>
<use href="#r9" x="516.5" y="419" stroke-opacity=".39"/>
<use href="#r1" x="519.5" y="433" stroke-opacity=".85"/>
<use href="#r1" x="520.5" y="433" stroke-opacity=".08"/>
<use href="#r0" x="523.5" y="415" stroke-opacity=".96"/>
<use href="#r13" x="526.5" y="405" stroke-opacity=".23"/>
<use href="#r13" x="527.5" y="405" stroke-opacity=".69"/>
<use href="#r16" x="530.5" y="406" stroke-opacity=".58"/>
<use href="#r16" x="531.5" y="406" stroke-opacity=".33"/>
<use href="#r21" x="534.5" y="411" stroke-opacity=".89"/>
<use href="#r21" x="535.5" y="411" stroke-opacity=".05"/>
<use href="#r19" x="537.5" y="423" stroke-opacity=".03"/>
<use href="#r19" x="538.5" y="423" stroke-opacity=".93"/>
<use href="#r11" x="541.5" y="436" stroke-opacity=".28"/>
<use href="#r11" x="542.5" y="436" stroke-opacity=".63"/>
<use href="#r15" x="545.5" y="436" stroke-opacity=".63"/>
<use href="#r15" x="546.5" y="436" stroke-opacity=".28"/>
<use href="#r18" x="549.5" y="426" stroke-opacity=".93"/>
<use href="#r18" x="550.5" y="426" stroke-opacity=".03"/>
<use href="#r23" x="552.5" y="414" stroke-opacity=".05"/>
<use href="#r23" x="553.5" y="414" stroke-opacity=".89"/>
<use href="#r6" x="556.5" y="432" stroke-opacity=".33"/>
<use href="#r6" x="557.5" y="432" stroke-opacity=".58"/>
<use href="#r7" x="560.5" y="417" stroke-opacity=".69"/>
<use href="#r7" x="561.5" y="417" stroke-opacity=".22"/>
<use href="#r14" x="564.5" y="422" stroke-opacity=".96"/>
<use href="#r8" x="567.5" y="431" stroke-opacity=".08"/>
<use href="#r8" x="568.5" y="431" stroke-opacity=".85"/>
<use href="#r20" x="571.5" y="406" stroke-opacity=".39"/>
<use href="#r20" x="572.5" y="406" stroke-opacity=".52"/>
<use href="#r10" x="575.5" y="422" stroke-opacity=".75"/>
<use href="#r10" x="576.5" y="422" stroke-opacity=".17"/>
<use href="#r3" x="579.5" y="422" stroke-opacity=".97"/>
<use href="#s5" x="580.5" y="421" stroke-opacity=".97"/>
<use href="#s6" x="583.5" y="421" stroke-opacity=".19"/>
<use href="#s6" x="584.5" y="421" stroke-opacity=".72"/>
<use href="#s13" x="587.5" y="421" stroke-opacity=".54"/>
<use href="#s13" x="588.5" y="421" stroke-opacity=".37"/>
<use href="#s4" x="591.5" y="421" stroke-opacity=".86"/>
<use href="#s4" x="592.5" y="421" stroke-opacity=".07"/>
<use href="#s9" x="594.5" y="421" stroke-opacity=".02"/>
<use href="#s9" x="595.5" y="421" stroke-opacity=".95"/>
<use href="#s3" x="598.5" y="421" stroke-opacity=".24"/>
<use href="#s3" x="599.5" y="421" stroke-opacity=".67"/>
<use href="#s1" x="602.5" y="421" stroke-opacity=".6"/>
<use href="#s1" x="603.5" y="421" stroke-opacity=".31"/>
<use href="#s20" x="606.5" y="421" stroke-opacity=".9"/>
<use href="#s20" x="607.5" y="421" stroke-opacity=".04"/>
<use href="#s11" x="609.5" y="421" stroke-opacity=".04"/>
<use href="#s11" x="610.5" y="421" stroke-opacity=".92"/>
<use href="#s23" x="613.5" y="421" stroke-opacity=".3"/>
<use href="#s23" x="614.5" y="421" stroke-opacity=".61"/>
<use href="#s22" x="617.5" y="421" stroke-opacity=".66"/>
<use href="#s22" x="618.5" y="421" stroke-opacity=".26"/>
<use href="#s19" x="621.5" y="421" stroke-opacity=".94"/>
<use href="#s19" x="622.5" y="421" stroke-opacity=".02"/>
<use href="#s8" x="624.5" y="421" stroke-opacity=".06"/>
<use href="#s8" x="625.5" y="421" stroke-opacity=".88"/>
<use href="#s15" x="628.5" y="421" stroke-opacity=".35"/>
<use href="#s15" x="629.5" y="421" stroke-opacity=".56"/>
<use href="#s17" x="632.5" y="421" stroke-opacity=".7"/>
<use href="#s17" x="633.5" y="421" stroke-opacity=".21"/>
<use href="#s18" x="636.5" y="421" stroke-opacity=".96"/>
<use href="#s7" x="639.5" y="421" stroke-opacity=".1"/>
<use href="#s7" x="640.5" y="421" stroke-opacity=".84"/>
<use href="#s12" x="643.5" y="421" stroke-opacity=".4"/>
<use href="#s12" x="644.5" y="421" stroke-opacity=".5"/>
<use href="#s16" x="647.5" y="421" stroke-opacity=".77"/>
<use href="#s16" x="648.5" y="421" stroke-opacity=".16"/>
<use href="#s2" x="651.5" y="421" stroke-opacity=".98"/>
<use href="#s14" x="654.5" y="421" stroke-opacity=".14"/>
<use href="#s14" x="655.5" y="421" stroke-opacity=".79"/>
<use href="#s10" x="658.5" y="421" stroke-opacity=".47"/>
<use href="#s10" x="659.5" y="421" stroke-opacity=".44"/>
<use href="#s0" x="662.5" y="421" stroke-opacity=".81"/>
<use href="#s0" x="663.5" y="421" stroke-opacity=".12"/>
<use href="#s21" x="666.5" y="421" stroke-opacity=".97"/>
<use href="#s15" x="669.5" y="411" stroke-opacity=".18"/>
<use href="#s15" x="670.5" y="411" stroke-opacity=".74"/>
<use href="#s5" x="673.5" y="431" stroke-opacity=".52"/>
<use href="#s5" x="674.5" y="431" stroke-opacity=".38"/>
<use href="#s9" x="677.5" y="434" stroke-opacity=".86"/>
<use href="#s9" x="678.5" y="434" stroke-opacity=".08"/>
<use href="#s0" x="681.5" y="418" stroke-opacity=".95"/>
<use href="#s6" x="684.5" y="407" stroke-opacity=".23"/>
<use href="#s6" x="685.5" y="407" stroke-opacity=".68"/>
<use href="#s10" x="688.5" y="421" stroke-opacity=".58"/>
<use href="#s10" x="689.5" y="421" stroke-opacity=".32"/>
<use href="#s7" x="692.5" y="410" stroke-opacity=".89"/>
<use href="#s7" x="693.5" y="410" stroke-opacity=".05"/>
<use href="#s23" x="695.5" y="409" stroke-opacity=".03"/>
<use href="#s23" x="696.5" y="409" stroke-opacity=".93"/>
<use href="#s11" x="699.5" y="431" stroke-opacity=".28"/>
<use href="#s11" x="700.5" y="431" stroke-opacity=".63"/>
<use href="#s13" x="703.5" y="413" stroke-opacity=".64"/>
<use href="#s13" x="704.5" y="413" stroke-opacity=".27"/>
<use href="#s22" x="707.5" y="412" stroke-opacity=".93"/>
<use href="#s22" x="708.5" y="412" stroke-opacity=".03"/>
<use href="#s12" x="710.5" y="420" stroke-opacity=".06"/>
<use href="#s12" x="711.5" y="420" stroke-opacity=".89"/>
<use href="#s20" x="714.5" y="436" stroke-opacity=".33"/>
<use href="#s20" x="715.5" y="436" stroke-opacity=".57"/>
<use href="#s19" x="718.5" y="428" stroke-opacity=".69"/>
<use href="#s19" x="719.5" y="428" stroke-opacity=".22"/>
<use href="#s1" x="722.5" y="433" stroke-opacity=".96"/>
<use href="#s3" x="725.5" y="420" stroke-opacity=".08"/>
<use href="#s3" x="726.5" y="420" stroke-opacity=".85"/>
<use href="#s4" x="729.5" y="406" stroke-opacity=".4"/>
<use href="#s4" x="730.5" y="406" stroke-opacity=".52"/>
<use href="#s18" x="733.5" y="423" stroke-opacity=".75"/>
<use href="#s18" x="734.5" y="423" stroke-opacity=".17"/>
<use href="#s2" x="737.5" y="432" stroke-opacity=".97"/>
<use href="#s21" x="740.5" y="429" stroke-opacity=".13"/>
<use href="#s21" x="741.5" y="429" stroke-opacity=".8"/>
<use href="#s17" x="744.5" y="414" stroke-opacity=".45"/>
<use href="#s17" x="745.5" y="414" stroke-opacity=".45"/>
<use href="#s14" x="748.5" y="418" stroke-opacity=".8"/>
<use href="#s14" x="749.5" y="418" stroke-opacity=".13"/>
<use href="#s8" x="752.5" y="414" stroke-opacity=".97"/>
<use href="#s16" x="755.5" y="405" stroke-opacity=".17"/>
<use href="#s16" x="756.5" y="405" stroke-opacity=".75"/>
<use href="#s1" x="759.5" y="408" stroke-opacity=".51"/>
<use href="#s1" x="760.5" y="408" stroke-opacity=".4"/>
<use href="#s4" x="763.5" y="423" stroke-opacity=".85"/>
<use href="#s4" x="764.5" y="423" stroke-opacity=".09"/>
<use href="#s15" x="767.5" y="415" stroke-opacity=".96"/>
<use href="#s19" x="770.5" y="436" stroke-opacity=".22"/>
<use href="#s19" x="771.5" y="436" stroke-opacity=".7"/>
<use href="#s14" x="774.5" y="431" stroke-opacity=".57"/>
<use href="#s14" x="775.5" y="431" stroke-opacity=".34"/>
<use href="#s5" x="778.5" y="406" stroke-opacity=".89"/>
<use href="#s5" x="779.5" y="406" stroke-opacity=".06"/>
<use href="#s17" x="781.5" y="431" stroke-opacity=".03"/>
<use href="#s17" x="782.5" y="431" stroke-opacity=".93"/>
<use href="#s21" x="785.5" y="420" stroke-opacity=".26"/>
<use href="#s21" x="786.5" y="420" stroke-opacity=".65"/>
<use href="#s0" x="789.5" y="429" stroke-opacity=".63"/>
<use href="#s0" x="790.5" y="429" stroke-opacity=".29"/>
<use href="#s13" x="793.5" y="426" stroke-opacity=".93"/>
<use href="#s13" x="794.5" y="426" stroke-opacity=".03"/>
<use href="#s12" x="796.5" y="436" stroke-opacity=".05"/>
<use href="#s12" x="797.5" y="436" stroke-opacity=".9"/>
<use href="#s9" x="800.5" y="421" stroke-opacity=".32"/>
<use href="#s9" x="801.5" y="421" stroke-opacity=".59"/>
<use href="#s2" x="804.5" y="410" stroke-opacity=".68"/>
<use href="#s2" x="805.5" y="410" stroke-opacity=".23"/>
<use href="#s8" x="808.5" y="408" stroke-opacity=".95"/>
<use href="#s6" x="811.5" y="413" stroke-opacity=".08"/>
<use href="#s6" x="812.5" y="413" stroke-opacity=".86"/>
<use href="#s7" x="815.5" y="421" stroke-opacity=".38"/>
<use href="#s7" x="816.5" y="421" stroke-opacity=".52"/>
<use href="#s20" x="819.5" y="406" stroke-opacity=".74"/>
<use href="#s20" x="820.5" y="406" stroke-opacity=".18"/>
<use href="#s23" x="823.5" y="407" stroke-opacity=".97"/>
<use href="#s18" x="826.5" y="405" stroke-opacity=".12"/>
<use href="#s18" x="827.5" y="405" stroke-opacity=".81"/>
<use href="#s3" x="830.5" y="407" stroke-opacity=".43"/>
<use href="#s3" x="831.5" y="407" stroke-opacity=".47"/>
<use href="#s16" x="834.5" y="416" stroke-opacity=".78"/>
<use href="#s16" x="835.5" y="416" stroke-opacity=".14"/>
<use href="#s11" x="838.5" y="416" stroke-opacity=".98"/>
<use href="#s22" x="841.5" y="408" stroke-opacity=".16"/>
<use href="#s22" x="842.5" y="408" stroke-opacity=".77"/>
<use href="#s10" x="845.5" y="410" stroke-opacity=".5"/>
<use href="#s10" x="846.5" y="410" stroke-opacity=".41"/>
<use href="#s9" x="849.5" y="418" stroke-opacity=".84"/>
<use href="#s9" x="850.5" y="418" stroke-opacity=".1"/>
<use href="#s20" x="853.5" y="421" stroke-opacity=".96"/>
<use href="#s11" x="856.5" y="423" stroke-opacity=".21"/>
<use href="#s11" x="857.5" y="423" stroke-opacity=".71"/>
<use href="#s12" x="860.5" y="436" stroke-opacity=".56"/>
<use href="#s12" x="861.5" y="436" stroke-opacity=".35"/>
<use href="#s10" x="864.5" y="408" stroke-opacity=".88"/>
<use href="#s10" x="865.5" y="408" stroke-opacity=".06"/>
<use href="#s18" x="867.5" y="412" stroke-opacity=".02"/>
<use href="#s18" x="868.5" y="412" stroke-opacity=".94"/>
<use href="#s22" x="871.5" y="407" stroke-opacity=".26"/>
<use href="#s22" x="872.5" y="407" stroke-opacity=".66"/>
<use href="#s5" x="875.5" y="437" stroke-opacity=".61"/>
<use href="#s5" x="876.5" y="437" stroke-opacity=".3"/>
<use href="#s13" x="879.5" y="429" stroke-opacity=".92"/>
<use href="#s13" x="880.5" y="429" stroke-opacity=".04"/>
<use href="#s23" x="882.5" y="416" stroke-opacity=".04"/>
<use href="#s23" x="883.5" y="416" stroke-opacity=".91"/>
<use href="#s7" x="886.5" y="406" stroke-opacity=".31"/>
<use href="#s7" x="887.5" y="406" stroke-opacity=".6"/>
<use href="#s6" x="890.5" y="432" stroke-opacity=".67"/>
<use href="#s6" x="891.5" y="432" stroke-opacity=".24"/>
<use href="#s3" x="894.5" y="411" stroke-opacity=".94"/>
<use href="#s3" x="895.5" y="411" stroke-opacity=".02"/>
<use href="#s0" x="897.5" y="422" stroke-opacity=".07"/>
<use href="#s0" x="898.5" y="422" stroke-opacity=".87"/>
<use href="#s16" x="901.5" y="418" stroke-opacity=".37"/>
<use href="#s16" x="902.5" y="418" stroke-opacity=".54"/>
<use href="#s1" x="905.5" y="430" stroke-opacity=".72"/>
<use href="#s1" x="906.5" y="430" stroke-opacity=".2"/>
<use href="#s19" x="909.5" y="429" stroke-opacity=".97"/>
<use href="#s15" x="912.5" y="433" stroke-opacity=".11"/>
<use href="#s15" x="913.5" y="433" stroke-opacity=".83"/>
<use href="#s2" x="916.5" y="405" stroke-opacity=".42"/>
<use href="#s2" x="917.5" y="405" stroke-opacity=".49"/>
<use href="#s8" x="920.5" y="432" stroke-opacity=".77"/>
<use href="#s8" x="921.5" y="432" stroke-opacity=".15"/>
<use href="#s4" x="924.5" y="421" stroke-opacity=".98"/>
<use href="#s21" x="927.5" y="409" stroke-opacity=".14"/>
<use href="#s21" x="928.5" y="409" stroke-opacity=".78"/>
<use href="#s17" x="931.5" y="431" stroke-opacity=".48"/>
<use href="#s17" x="932.5" y="431" stroke-opacity=".42"/>
<use href="#s14" x="935.5" y="434" stroke-opacity=".83"/>
<use href="#s14" x="936.5" y="434" stroke-opacity=".11"/></g>
<path fill="#4456c7" d="M264 163.1h.93v.93h-.93zM236.9 323.9h.93v.93h-.93zM236 323h.93v.93h-.93zM241.6 323.9h.93v.93h-.93zM239.7 323.9h.93v.93h-.93zM236.9 322h.93v.93h-.93zM239.7 323.9h.93v.93h-.93zM267.8 204.3h.93v.93h-.93zM271.5 203.3h.93v.93h-.93zM333.2 224.8h.93v.93h-.93zM301.4 287.5h.93v.93h-.93zM544.5 213.6h.93v.93h-.93zM394.9 165.9h.93v.93h-.93zM577.2 310.8h.93v.93h-.93zM581.8 309h.93v.93h-.93zM260.3 345.4h.93v.93h-.93zM277.1 284.7h.93v.93h-.93zM486.5 151h.93v.93h-.93zM259.3 374.4h.93v.93h-.93zM350 122h.93v.93h-.93zM394 235.1h.93v.93h-.93zM683.7 231.4h.93v.93h-.93zM797.8 309h.93v.93h-.93zM797.8 309h.93v.93h-.93zM795 155.7h.93v.93h-.93zM795 155.7h.93v.93h-.93zM795 154.7h.93v.93h-.93zM706.2 266h.93v.93h-.93zM626.7 338.9h.93v.93h-.93zM626.7 338.9h.93v.93h-.93zM627.7 336.1h.93v.93h-.93zM594 413.7h.93v.93h-.93zM596.8 414.6h.93v.93h-.93zM594 410.9h.93v.93h-.93zM594 409.9h.93v.93h-.93zM597.7 410.9h.93v.93h-.93zM842.7 218.3h.93v.93h-.93zM839.8 216.4h.93v.93h-.93zM866 369.7h.93v.93h-.93zM859.5 369.7h.93v.93h-.93zM868.8 366.9h.93v.93h-.93zM706.2 219.2h.93v.93h-.93zM708 218.3h.93v.93h-.93zM627.7 419.3h.93v.93h-.93zM623 421.1h.93v.93h-.93zM592.1 154.7h.93v.93h-.93zM595.9 150h.93v.93h-.93zM900.6 380.9h.93v.93h-.93zM903.4 381.9h.93v.93h-.93zM900.6 378.1h.93v.93h-.93zM870.7 419.3h.93v.93h-.93zM749.2 258.5h.93v.93h-.93zM676.3 337h.93v.93h-.93zM678.1 335.1h.93v.93h-.93zM855.7 221.1h.93v.93h-.93zM406.1 596.9h.93v.93h-.93zM406.1 598.8h.93v.93h-.93zM260.3 767.9h.93v.93h-.93zM573.4 545.5h.93v.93h-.93zM441.6 600.6h.93v.93h-.93zM305.1 750.2h.93v.93h-.93zM304.2 749.3h.93v.93h-.93zM308 750.2h.93v.93h-.93zM304.2 753.9h.93v.93h-.93zM430.4 804.4h.93v.93h-.93zM230.4 681.9h.93v.93h-.93zM230.4 682.9h.93v.93h-.93zM229.4 681.9h.93v.93h-.93zM232.2 679.1h.93v.93h-.93zM430.4 464.1h.93v.93h-.93zM382.7 695h.93v.93h-.93zM563.2 698.8h.93v.93h-.93zM563.2 701.6h.93v.93h-.93zM393 631.5h.93v.93h-.93zM394.9 627.7h.93v.93h-.93zM394 629.6h.93v.93h-.93zM393 629.6h.93v.93h-.93zM236 769.8h.93v.93h-.93zM222.9 515.6h.93v.93h-.93zM356.6 556.7h.93v.93h-.93zM353.8 555.7h.93v.93h-.93zM357.5 560.4h.93v.93h-.93zM234.1 614.6h.93v.93h-.93zM236.9 620.3h.93v.93h-.93zM352.8 651.1h.93v.93h-.93zM355.6 653h.93v.93h-.93zM482.8 495h.93v.93h-.93zM566 520.2h.93v.93h-.93zM562.2 522.1h.93v.93h-.93zM566 520.2h.93v.93h-.93zM566.9 519.3h.93v.93h-.93zM514.5 462.3h.93v.93h-.93zM360.3 682.9h.93v.93h-.93zM355.6 678.2h.93v.93h-.93zM230.4 640.8h.93v.93h-.93zM234.1 639.9h.93v.93h-.93zM232.2 639.9h.93v.93h-.93zM240.6 729.6h.93v.93h-.93zM240.6 724.9h.93v.93h-.93zM239.7 724.9h.93v.93h-.93zM368.7 655.8h.93v.93h-.93zM371.5 655.8h.93v.93h-.93zM370.6 652h.93v.93h-.93zM494.9 637.1h.93v.93h-.93zM494 636.1h.93v.93h-.93zM468.7 796.9h.93v.93h-.93zM477.1 803.5h.93v.93h-.93zM479 526.8h.93v.93h-.93zM224.8 679.1h.93v.93h-.93zM222.9 679.1h.93v.93h-.93zM224.8 677.3h.93v.93h-.93zM228.5 678.2h.93v.93h-.93zM225.7 676.3h.93v.93h-.93zM449.1 757.7h.93v.93h-.93zM449.1 753.9h.93v.93h-.93zM446.3 756.7h.93v.93h-.93zM450 756.7h.93v.93h-.93zM509.9 448.2h.93v.93h-.93zM514.5 445.4h.93v.93h-.93zM501.5 579.1h.93v.93h-.93zM502.4 577.2h.93v.93h-.93zM501.5 461.3h.93v.93h-.93zM503.3 464.1h.93v.93h-.93zM563.2 685.7h.93v.93h-.93zM452.8 773.6h.93v.93h-.93zM453.8 769.8h.93v.93h-.93zM323.8 596.9h.93v.93h-.93zM326.6 595.9h.93v.93h-.93zM300.5 653h.93v.93h-.93zM301.4 656.7h.93v.93h-.93zM299.5 654.8h.93v.93h-.93zM297.7 653.9h.93v.93h-.93zM299.5 653h.93v.93h-.93zM299.5 651.1h.93v.93h-.93zM346.3 562.3h.93v.93h-.93zM406.1 501.5h.93v.93h-.93zM408 504.3h.93v.93h-.93zM406.1 500.6h.93v.93h-.93zM411.7 500.6h.93v.93h-.93zM406.1 498.7h.93v.93h-.93zM443.5 541.7h.93v.93h-.93zM226.6 558.6h.93v.93h-.93zM229.4 560.4h.93v.93h-.93zM547.3 758.6h.93v.93h-.93zM501.5 518.4h.93v.93h-.93zM250.9 581h.93v.93h-.93zM248.1 583.8h.93v.93h-.93zM250.9 581h.93v.93h-.93zM251.9 579.1h.93v.93h-.93zM251.9 582.9h.93v.93h-.93zM577.2 597.8h.93v.93h-.93zM577.2 595h.93v.93h-.93zM576.2 594.1h.93v.93h-.93zM581.8 593.1h.93v.93h-.93zM576.2 595.9h.93v.93h-.93zM393 512.7h.93v.93h-.93zM396.8 511.8h.93v.93h-.93zM361.2 760.5h.93v.93h-.93zM572.5 749.3h.93v.93h-.93zM544.5 447.3h.93v.93h-.93zM385.5 607.2h.93v.93h-.93zM382.7 607.2h.93v.93h-.93zM503.3 438.9h.93v.93h-.93zM498.6 440.8h.93v.93h-.93zM308.9 796h.93v.93h-.93zM308.9 794.1h.93v.93h-.93zM572.5 808.1h.93v.93h-.93zM566 478.2h.93v.93h-.93zM566.9 480h.93v.93h-.93zM543.5 659.5h.93v.93h-.93zM540.7 661.4h.93v.93h-.93zM292.1 587.5h.93v.93h-.93zM376.2 545.5h.93v.93h-.93zM375.3 545.5h.93v.93h-.93zM289.3 634.3h.93v.93h-.93zM292.1 633.3h.93v.93h-.93zM286.5 638h.93v.93h-.93zM548.2 590.3h.93v.93h-.93zM553.8 530.5h.93v.93h-.93zM627.7 569.8h.93v.93h-.93zM626.7 575.4h.93v.93h-.93zM630.5 567.9h.93v.93h-.93zM629.5 570.7h.93v.93h-.93zM627.7 567h.93v.93h-.93zM626.7 573.5h.93v.93h-.93zM645.4 782h.93v.93h-.93zM644.5 779.2h.93v.93h-.93zM645.4 782.9h.93v.93h-.93zM645.4 787.6h.93v.93h-.93zM649.2 782.9h.93v.93h-.93zM795.9 805.3h.93v.93h-.93zM644.5 562.3h.93v.93h-.93zM679.1 719.3h.93v.93h-.93zM680 718.4h.93v.93h-.93zM682.8 719.3h.93v.93h-.93zM682.8 724h.93v.93h-.93zM680 717.5h.93v.93h-.93zM777.2 614.6h.93v.93h-.93zM881.9 509h.93v.93h-.93zM881 506.2h.93v.93h-.93zM914.6 767h.93v.93h-.93zM599.6 530.5h.93v.93h-.93zM723 788.5h.93v.93h-.93zM723.9 790.4h.93v.93h-.93zM769.7 690.4h.93v.93h-.93zM656.6 562.3h.93v.93h-.93zM656.6 564.2h.93v.93h-.93zM652 559.5h.93v.93h-.93zM655.7 563.2h.93v.93h-.93zM652.9 563.2h.93v.93h-.93zM842.7 711.9h.93v.93h-.93zM818.3 724.9h.93v.93h-.93zM816.5 720.3h.93v.93h-.93zM749.2 746.4h.93v.93h-.93zM746.4 706.3h.93v.93h-.93zM743.6 704.4h.93v.93h-.93zM749.2 705.3h.93v.93h-.93zM745.4 706.3h.93v.93h-.93zM742.6 706.3h.93v.93h-.93zM861.3 757.7h.93v.93h-.93zM859.5 755.8h.93v.93h-.93zM771.6 659.5h.93v.93h-.93zM907.2 566h.93v.93h-.93zM781 753h.93v.93h-.93zM616.4 584.7h.93v.93h-.93zM910 778.2h.93v.93h-.93zM731.4 671.7h.93v.93h-.93zM745.4 629.6h.93v.93h-.93zM747.3 630.5h.93v.93h-.93zM751 633.3h.93v.93h-.93zM747.3 629.6h.93v.93h-.93zM877.2 578.2h.93v.93h-.93zM668.8 455.7h.93v.93h-.93zM910.9 552h.93v.93h-.93zM623.9 574.4h.93v.93h-.93zM736.1 638h.93v.93h-.93zM862.3 601.6h.93v.93h-.93zM814.6 640.8h.93v.93h-.93zM812.7 640.8h.93v.93h-.93zM813.7 640.8h.93v.93h-.93zM810.9 643.6h.93v.93h-.93zM907.2 456.7h.93v.93h-.93zM907.2 452.9h.93v.93h-.93zM906.2 453.9h.93v.93h-.93zM910.9 460.4h.93v.93h-.93zM904.3 454.8h.93v.93h-.93zM906.2 454.8h.93v.93h-.93zM908.1 508.1h.93v.93h-.93zM749.2 772.6h.93v.93h-.93zM753.8 769.8h.93v.93h-.93zM929.6 729.6h.93v.93h-.93zM929.6 730.6h.93v.93h-.93zM641.7 603.4h.93v.93h-.93zM641.7 604.4h.93v.93h-.93zM888.5 709.1h.93v.93h-.93zM889.4 709.1h.93v.93h-.93zM888.5 708.1h.93v.93h-.93zM782.8 598.8h.93v.93h-.93zM783.8 599.7h.93v.93h-.93zM788.4 503.4h.93v.93h-.93zM859.5 710.9h.93v.93h-.93zM709.9 438.9h.93v.93h-.93zM880 608.1h.93v.93h-.93zM694 475.4h.93v.93h-.93zM696.8 473.5h.93v.93h-.93zM682.8 638.9h.93v.93h-.93zM682.8 639.9h.93v.93h-.93zM792.2 524.9h.93v.93h-.93zM795 525.8h.93v.93h-.93zM788.4 524h.93v.93h-.93zM794 525.8h.93v.93h-.93zM792.2 526.8h.93v.93h-.93zM833.3 554.8h.93v.93h-.93zM653.8 682.9h.93v.93h-.93zM848.3 595h.93v.93h-.93zM852 594.1h.93v.93h-.93zM850.1 591.3h.93v.93h-.93zM907.2 782.9h.93v.93h-.93zM907.2 780.1h.93v.93h-.93zM906.2 781h.93v.93h-.93zM908.1 784.8h.93v.93h-.93zM932.4 625.9h.93v.93h-.93zM930.5 623.1h.93v.93h-.93zM936.1 625.9h.93v.93h-.93zM933.3 624.9h.93v.93h-.93zM933.3 623.1h.93v.93h-.93zM685.6 771.7h.93v.93h-.93zM604.3 441.7h.93v.93h-.93zM862.3 446.4h.93v.93h-.93zM863.2 442.6h.93v.93h-.93zM863.2 444.5h.93v.93h-.93zM883.8 649.2h.93v.93h-.93zM881 652h.93v.93h-.93zM648.2 610h.93v.93h-.93zM649.2 610h.93v.93h-.93zM649.2 608.1h.93v.93h-.93zM665 749.3h.93v.93h-.93zM779.1 597.8h.93v.93h-.93zM777.2 598.8h.93v.93h-.93zM932.4 510.9h.93v.93h-.93zM586.5 745.5h.93v.93h-.93zM780 546.4h.93v.93h-.93zM934.3 605.3h.93v.93h-.93zM736.1 489.4h.93v.93h-.93zM734.2 487.5h.93v.93h-.93zM734.2 491.2h.93v.93h-.93zM600.5 614.6h.93v.93h-.93zM921.2 452h.93v.93h-.93zM585.6 695h.93v.93h-.93zM590.3 695h.93v.93h-.93zM649.2 445.4h.93v.93h-.93zM649.2 445.4h.93v.93h-.93zM866 709.1h.93v.93h-.93zM869.8 708.1h.93v.93h-.93zM588.4 746.4h.93v.93h-.93zM863.2 695h.93v.93h-.93zM665 471.6h.93v.93h-.93zM645.4 551.1h.93v.93h-.93zM776.3 538.9h.93v.93h-.93zM822.1 516.5h.93v.93h-.93zM599.6 747.4h.93v.93h-.93zM604.3 745.5h.93v.93h-.93zM601.5 747.4h.93v.93h-.93zM597.7 751.1h.93v.93h-.93zM599.6 742.7h.93v.93h-.93zM896.9 554.8h.93v.93h-.93zM891.3 787.6h.93v.93h-.93zM891.3 786.6h.93v.93h-.93zM891.3 784.8h.93v.93h-.93zM895.9 787.6h.93v.93h-.93zM891.3 787.6h.93v.93h-.93zM762.3 807.2h.93v.93h-.93zM768.8 805.3h.93v.93h-.93zM605.2 567.9h.93v.93h-.93zM609 567.9h.93v.93h-.93zM788.4 553.9h.93v.93h-.93zM930.5 704.4h.93v.93h-.93zM928.7 703.4h.93v.93h-.93zM666.9 696h.93v.93h-.93zM868.8 567.9h.93v.93h-.93zM868.8 570.7h.93v.93h-.93zM852 719.3h.93v.93h-.93zM848.3 717.5h.93v.93h-.93zM627.7 633.3h.93v.93h-.93zM904.3 712.8h.93v.93h-.93zM908.1 712.8h.93v.93h-.93zM904.3 711.9h.93v.93h-.93zM906.2 715.6h.93v.93h-.93zM854.8 545.5h.93v.93h-.93zM712.7 544.5h.93v.93h-.93zM910 730.6h.93v.93h-.93zM650.1 660.4h.93v.93h-.93zM649.2 656.7h.93v.93h-.93zM652.9 660.4h.93v.93h-.93zM842.7 491.2h.93v.93h-.93zM818.3 608.1h.93v.93h-.93zM910 739h.93v.93h-.93zM829.6 667.9h.93v.93h-.93zM915.6 736.2h.93v.93h-.93zM670.7 766.1h.93v.93h-.93zM742.6 553.9h.93v.93h-.93zM741.7 552h.93v.93h-.93zM867 708.1h.93v.93h-.93zM867 712.8h.93v.93h-.93zM795.9 566h.93v.93h-.93zM799.7 564.2h.93v.93h-.93zM629.5 567.9h.93v.93h-.93zM686.5 757.7h.93v.93h-.93zM687.5 751.1h.93v.93h-.93zM776.3 490.3h.93v.93h-.93zM623 732.4h.93v.93h-.93zM852 774.5h.93v.93h-.93zM883.8 647.4h.93v.93h-.93zM881.9 646.4h.93v.93h-.93zM883.8 646.4h.93v.93h-.93zM588.4 785.7h.93v.93h-.93zM588.4 789.4h.93v.93h-.93zM585.6 787.6h.93v.93h-.93zM590.3 786.6h.93v.93h-.93zM668.8 794.1h.93v.93h-.93zM630.5 771.7h.93v.93h-.93zM732.3 502.5h.93v.93h-.93zM732.3 500.6h.93v.93h-.93zM601.5 457.6h.93v.93h-.93zM604.3 458.5h.93v.93h-.93zM603.3 804.4h.93v.93h-.93zM848.3 577.2h.93v.93h-.93zM851.1 707.2h.93v.93h-.93zM854.8 710h.93v.93h-.93zM899.7 485.6h.93v.93h-.93zM855.7 492.2h.93v.93h-.93zM751 514.6h.93v.93h-.93zM906.2 476.3h.93v.93h-.93zM679.1 745.5h.93v.93h-.93zM680 741.8h.93v.93h-.93zM676.3 746.4h.93v.93h-.93zM813.7 644.6h.93v.93h-.93zM816.5 647.4h.93v.93h-.93zM887.5 641.8h.93v.93h-.93zM637 669.8h.93v.93h-.93zM633.3 668.9h.93v.93h-.93zM635.1 666.1h.93v.93h-.93zM924.9 550.1h.93v.93h-.93zM924.9 552h.93v.93h-.93zM641.7 739.9h.93v.93h-.93zM644.5 738h.93v.93h-.93zM716.5 461.3h.93v.93h-.93zM765.1 709.1h.93v.93h-.93zM768.8 707.2h.93v.93h-.93zM655.7 716.5h.93v.93h-.93zM771.6 729.6h.93v.93h-.93zM619.2 507.1h.93v.93h-.93zM814.6 588.5h.93v.93h-.93zM812.7 587.5h.93v.93h-.93zM813.7 586.6h.93v.93h-.93zM671.6 653h.93v.93h-.93zM895 711.9h.93v.93h-.93zM895.9 706.3h.93v.93h-.93zM893.1 711.9h.93v.93h-.93zM895 710h.93v.93h-.93zM735.2 772.6h.93v.93h-.93zM736.1 770.8h.93v.93h-.93zM719.3 777.3h.93v.93h-.93zM855.7 438.9h.93v.93h-.93zM608 670.7h.93v.93h-.93zM607.1 674.5h.93v.93h-.93zM604.3 670.7h.93v.93h-.93zM921.2 764.2h.93v.93h-.93zM922.1 764.2h.93v.93h-.93zM870.7 767.9h.93v.93h-.93zM745.4 518.4h.93v.93h-.93zM741.7 517.4h.93v.93h-.93zM749.2 519.3h.93v.93h-.93zM863.2 510.9h.93v.93h-.93zM696.8 608.1h.93v.93h-.93z"/>
<path stroke="#30123b" stroke-opacity="1" d="M221 63.5h718"/>
<path stroke="#30123b" stroke-opacity=".94" d="M221 64.5h718"/>
<path stroke="#30123b" stroke-opacity=".93" d="M221 435.5h718"/>
<path stroke="#30123b" stroke-opacity=".99" d="M221 436.5h718"/>
<path stroke="#30123b" stroke-opacity="1" d="M221 437.5h718"/>
<path stroke="#30123b" stroke-opacity=".94" d="M221 438.5h718"/>
<path stroke="#30123b" stroke-opacity=".93" d="M221 809.5h718"/>
<path stroke="#30123b" stroke-opacity="1" d="M221 810.5h718"/>
<path stroke="#000" stroke-opacity=".75" fill="none" d="M221 437.5h718M580.5 811V63"/>
</g>
<defs><linearGradient id="g" x1="0" y1="0" x2="0" y2="1"><stop offset="0" stop-color="#7a0403"/><stop offset=".0156" stop-color="#850702"/><stop offset=".0312" stop-color="#920b01"/><stop offset=".0469" stop-color="#9e1001"/><stop offset=".0625" stop-color="#a91601"/><stop offset=".0781" stop-color="#b41b01"/><stop offset=".0938" stop-color="#be2102"/><stop offset=".1094" stop-color="#c82803"/><stop offset=".125" stop-color="#d02f05"/><stop offset=".1406" stop-color="#d83706"/><stop offset=".1562" stop-color="#df3f08"/><stop offset=".1719" stop-color="#e5470b"/><stop offset=".1875" stop-color="#eb500e"/><stop offset=".2031" stop-color="#f05b12"/><stop offset=".2188" stop-color="#f46617"/><stop offset=".2344" stop-color="#f8721c"/><stop offset=".25" stop-color="#fb7e21"/><stop offset=".2656" stop-color="#fd8a26"/><stop offset=".2812" stop-color="#fe962b"/><stop offset=".2969" stop-color="#fea130"/><stop offset=".3125" stop-color="#fdac34"/><stop offset=".3281" stop-color="#fbb637"/><stop offset=".3438" stop-color="#f8be39"/><stop offset=".3594" stop-color="#f4c73a"/><stop offset=".375" stop-color="#eecf3a"/><stop offset=".3906" stop-color="#e7d739"/><stop offset=".4062" stop-color="#dfdf37"/><stop offset=".4219" stop-color="#d7e535"/><stop offset=".4375" stop-color="#cdec34"/><stop offset=".4531" stop-color="#c3f134"/><stop offset=".4688" stop-color="#b9f635"/><stop offset=".4844" stop-color="#affa37"/><stop offset=".5" stop-color="#a4fc3c"/><stop offset=".5156" stop-color="#99fe42"/><stop offset=".5312" stop-color="#8bff4b"/><stop offset=".5469" stop-color="#7dff56"/><stop offset=".5625" stop-color="#6dfe62"/><stop offset=".5781" stop-color="#5dfc6f"/><stop offset=".5938" stop-color="#4ef97d"/><stop offset=".6094" stop-color="#3ff68a"/><stop offset=".625" stop-color="#32f298"/><stop offset=".6406" stop-color="#27eea4"/><stop offset=".6562" stop-color="#1fe9af"/><stop offset=".6719" stop-color="#19e3b9"/><stop offset=".6875" stop-color="#18ddc2"/><stop offset=".7031" stop-color="#19d5cd"/><stop offset=".7188" stop-color="#1ccdd8"/><stop offset=".7344" stop-color="#22c5e2"/><stop offset=".75" stop-color="#28bceb"/><stop offset=".7656" stop-color="#2fb2f4"/><stop offset=".7812" stop-color="#37a8fa"/><stop offset=".7969" stop-color="#3d9efe"/><stop offset=".8125" stop-color="#4294ff"/><stop offset=".8281" stop-color="#458afc"/><stop offset=".8438" stop-color="#4680f6"/><stop offset=".8594" stop-color="#4776ee"/><stop offset=".875" stop-color="#466be3"/><stop offset=".8906" stop-color="#4661d6"/><stop offset=".9062" stop-color="#4456c7"/><stop offset=".9219" stop-color="#424bb5"/><stop offset=".9375" stop-color="#4040a2"/><stop offset=".9531" stop-color="#3d358b"/><stop offset=".9688" stop-color="#392a73"/><stop offset=".9844" stop-color="#351e58"/><stop offset="1" stop-color="#30123b"/></linearGradient></defs>
<rect x="995.5" y="63.5" width="37" height="748" fill="url(#g)"/>
<path stroke="#000" stroke-width="1.111" fill="none" d="M994.94 63.5H1033.06M994.94 811.5H1033.06M995.5 63V812M1032.5 63V812"/>
<path stroke="#000" stroke-width="1.111" fill="none" d="M220.94 63.5H939.06M220.94 811.5H939.06M221.5 63V812M938.5 63V812"/>
<path stroke="#000" stroke-width="1.111" fill="none" d="M221.5 811.5v5M580.5 811.5v5M938.5 811.5v5M221.5 63.5h-5M221.5 437.5h-5M221.5 811.5h-5M1032.5 740.5h5M1032.5 506.5h5M1032.5 271.5h5"/>
<path stroke="#000" stroke-width=".833" fill="none" d="M236.5 811.5v3M251.5 811.5v3M266.5 811.5v3M281.5 811.5v3M296.5 811.5v3M311.5 811.5v3M326.5 811.5v3M341.5 811.5v3M356.5 811.5v3M371.5 811.5v3M386.5 811.5v3M401.5 811.5v3M416.5 811.5v3M430.5 811.5v3M445.5 811.5v3M460.5 811.5v3M475.5 811.5v3M490.5 811.5v3M505.5 811.5v3M520.5 811.5v3M535.5 811.5v3M550.5 811.5v3M565.5 811.5v3M595.5 811.5v3M610.5 811.5v3M625.5 811.5v3M640.5 811.5v3M655.5 811.5v3M669.5 811.5v3M684.5 811.5v3M699.5 811.5v3M714.5 811.5v3M729.5 811.5v3M744.5 811.5v3M759.5 811.5v3M774.5 811.5v3M789.5 811.5v3M804.5 811.5v3M819.5 811.5v3M834.5 811.5v3M849.5 811.5v3M864.5 811.5v3M879.5 811.5v3M894.5 811.5v3M909.5 811.5v3M923.5 811.5v3M221.5 78.5h-3M221.5 93.5h-3M221.5 108.5h-3M221.5 123.5h-3M221.5 138.5h-3M221.5 153.5h-3M221.5 168.5h-3M221.5 183.5h-3M221.5 198.5h-3M221.5 213.5h-3M221.5 228.5h-3M221.5 243.5h-3M221.5 258.5h-3M221.5 273.5h-3M221.5 288.5h-3M221.5 302.5h-3M221.5 317.5h-3M221.5 332.5h-3M221.5 347.5h-3M221.5 362.5h-3M221.5 377.5h-3M221.5 392.5h-3M221.5 407.5h-3M221.5 422.5h-3M221.5 452.5h-3M221.5 467.5h-3M221.5 482.5h-3M221.5 497.5h-3M221.5 512.5h-3M221.5 527.5h-3M221.5 542.5h-3M221.5 557.5h-3M221.5 572.5h-3M221.5 586.5h-3M221.5 601.5h-3M221.5 616.5h-3M221.5 631.5h-3M221.5 646.5h-3M221.5 661.5h-3M221.5 676.5h-3M221.5 691.5h-3M221.5 706.5h-3M221.5 721.5h-3M221.5 736.5h-3M221.5 751.5h-3M221.5 766.5h-3M221.5 781.5h-3M221.5 796.5h-3M1032.5 811.5h3M1032.5 792.5h3M1032.5 776.5h3M1032.5 763.5h3M1032.5 751.5h3M1032.5 669.5h3M1032.5 628.5h3M1032.5 599.5h3M1032.5 576.5h3M1032.5 558.5h3M1032.5 542.5h3M1032.5 528.5h3M1032.5 516.5h3M1032.5 435.5h3M1032.5 394.5h3M1032.5 364.5h3M1032.5 342.5h3M1032.5 323.5h3M1032.5 307.5h3M1032.5 294.5h3M1032.5 282.5h3M1032.5 200.5h3M1032.5 159.5h3M1032.5 130.5h3M1032.5 107.5h3M1032.5 88.5h3M1032.5 73.5h3"/>
<text font-size="25" text-anchor="middle" x="579.5" y="55">Quad Module: 20UPGFC0141681 OccupancyMap-12</text>
<text font-size="25" text-anchor="middle" x="579.5" y="858.6">Row</text>
<text font-size="25" text-anchor="middle" transform="translate(162.5 439.5) rotate(-90)">Column</text>
<text font-size="33.333" transform="translate(1105.5 441.5) rotate(-90)" x="-31.3 -7.32 1.94 15.01">Hits</text>
<text font-size="13.889" x="185.13 192.58 201.48" y="68.6">400</text>
<text font-size="13.889" x="202.98" y="442.6">0</text>
<text font-size="13.889" x="173.3 183.58 192.27 201.13" y="815.6">−400</text>
<text font-size="13.889" x="202.12 212.58 221.49 230.31" y="830.6">−384</text>
<text font-size="13.889" x="575.98" y="830.6">0</text>
<text font-size="13.889" x="925 932.7 941.65" y="830.6">384</text>
<text font-size="16.667" text-anchor="middle" fill="#00f" transform="translate(187.3 251.1) rotate(90)">FE1: 20U PG FC 01 41681</text>
<text font-size="16.667" text-anchor="middle" fill="#00f" transform="translate(187.3 625.1) rotate(90)">FE2: 20U PG FC 01 41619</text>
<text font-size="16.667" text-anchor="middle" fill="#00f" transform="translate(970.5 251) rotate(-90)">FE4: 20U PG FC 01 41747</text>
<text font-size="16.667" text-anchor="middle" fill="#00f" transform="translate(970.5 625) rotate(-90)">FE3: 20U PG FC 01 41716</text>
<text font-size="16.667" letter-spacing="-.5" x="1042.9" y="278.6">10<tspan font-size="11.667" dx=".5" dy="-5.4">2</tspan></text>
<text font-size="16.667" letter-spacing="-.5" x="1042.9" y="513.6">10<tspan font-size="11.667" dx=".5" dy="-5.4">1</tspan></text>
<text font-size="16.667" letter-spacing="-.5" x="1042.9" y="747.6">10<tspan font-size="11.667" dx=".5" dy="-5.4">0</tspan></text>
</svg>
</body></html>
